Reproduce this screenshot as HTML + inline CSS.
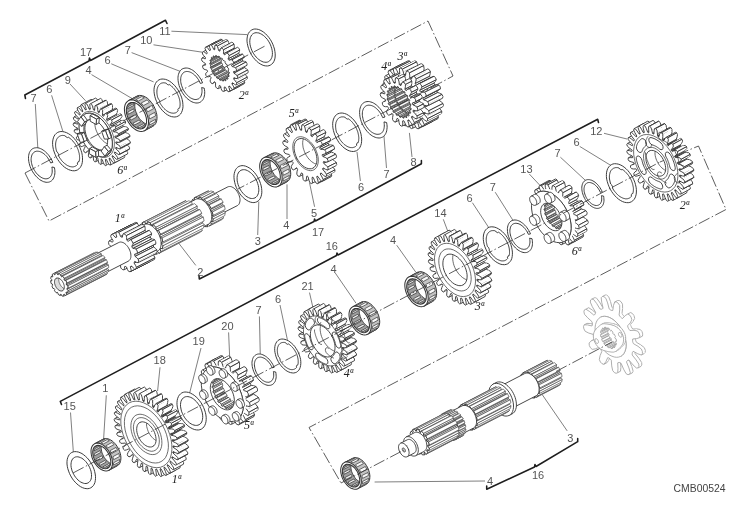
<!DOCTYPE html>
<html><head><meta charset="utf-8"><style>
html,body{margin:0;padding:0;background:#fff;}
svg{display:block;will-change:transform;}
text{font-family:"Liberation Sans",sans-serif;}
</style></head><body>
<svg width="755" height="520" viewBox="0 0 755 520">
<rect width="755" height="520" fill="#fff"/>
<polyline points="25,173 49,221 428,21 453,76 440.8,82.6" fill="none" stroke="#333" stroke-width="0.80" stroke-dasharray="12,2.5,1.5,2.5"/>
<polyline points="660,162 698.5,146 726,209.5 309,427.5 341,483" fill="none" stroke="#333" stroke-width="0.80" stroke-dasharray="12,2.5,1.5,2.5"/>
<polyline points="25.5,98.5 24.8,95 89,61 89.5,58 90.5,60.5 165.4,20.2 167,23.5" fill="none" stroke="#1e1e1e" stroke-width="1.55" stroke-linejoin="round" stroke-linecap="round"/>
<polyline points="199,275.5 199.3,279 314,221.5 314.6,219 315.5,221 421.4,163.8 421.4,160.5" fill="none" stroke="#1e1e1e" stroke-width="1.55" stroke-linejoin="round" stroke-linecap="round"/>
<polyline points="61.5,404.5 60.3,401.4 336.5,255.5 337,253 338,255 597.7,119.3 598.5,122.5" fill="none" stroke="#1e1e1e" stroke-width="1.55" stroke-linejoin="round" stroke-linecap="round"/>
<polyline points="486.7,486 486.7,489.3 534.5,467 535,464.5 536,466.5 577.7,441.7 577.7,438.4" fill="none" stroke="#1e1e1e" stroke-width="1.55" stroke-linejoin="round" stroke-linecap="round"/>
<line x1="171.4" y1="31.2" x2="247.0" y2="34.6" stroke="#555" stroke-width="0.75"/>
<line x1="153.5" y1="44.8" x2="203.0" y2="52.3" stroke="#555" stroke-width="0.75"/>
<line x1="131.6" y1="52.6" x2="181.3" y2="71.8" stroke="#555" stroke-width="0.75"/>
<line x1="111.3" y1="63.8" x2="153.6" y2="81.9" stroke="#555" stroke-width="0.75"/>
<line x1="91.5" y1="74.6" x2="132.0" y2="98.5" stroke="#555" stroke-width="0.75"/>
<line x1="70.0" y1="84.0" x2="85.6" y2="100.8" stroke="#555" stroke-width="0.75"/>
<line x1="51.6" y1="95.3" x2="63.0" y2="131.8" stroke="#555" stroke-width="0.75"/>
<line x1="35.3" y1="104.0" x2="37.8" y2="148.0" stroke="#555" stroke-width="0.75"/>
<line x1="195.8" y1="265.4" x2="178.6" y2="243.0" stroke="#555" stroke-width="0.75"/>
<line x1="257.7" y1="235.0" x2="258.8" y2="201.6" stroke="#555" stroke-width="0.75"/>
<line x1="287.0" y1="219.0" x2="287.0" y2="184.4" stroke="#555" stroke-width="0.75"/>
<line x1="314.6" y1="206.8" x2="309.5" y2="182.7" stroke="#555" stroke-width="0.75"/>
<line x1="360.4" y1="181.0" x2="357.0" y2="152.0" stroke="#555" stroke-width="0.75"/>
<line x1="386.5" y1="168.0" x2="383.8" y2="134.0" stroke="#555" stroke-width="0.75"/>
<line x1="412.0" y1="157.0" x2="409.4" y2="132.9" stroke="#555" stroke-width="0.75"/>
<line x1="335.2" y1="272.9" x2="356.0" y2="303.2" stroke="#555" stroke-width="0.75"/>
<line x1="396.7" y1="245.2" x2="415.7" y2="272.0" stroke="#555" stroke-width="0.75"/>
<line x1="443.3" y1="219.3" x2="447.7" y2="231.0" stroke="#555" stroke-width="0.75"/>
<line x1="472.4" y1="202.7" x2="490.0" y2="229.5" stroke="#555" stroke-width="0.75"/>
<line x1="495.2" y1="192.2" x2="513.2" y2="220.7" stroke="#555" stroke-width="0.75"/>
<line x1="529.3" y1="174.0" x2="542.4" y2="188.0" stroke="#555" stroke-width="0.75"/>
<line x1="560.4" y1="157.2" x2="587.5" y2="182.3" stroke="#555" stroke-width="0.75"/>
<line x1="579.7" y1="146.4" x2="610.8" y2="165.4" stroke="#555" stroke-width="0.75"/>
<line x1="604.0" y1="133.3" x2="627.0" y2="139.0" stroke="#555" stroke-width="0.75"/>
<line x1="309.5" y1="292.6" x2="312.8" y2="307.0" stroke="#555" stroke-width="0.75"/>
<line x1="280.0" y1="305.0" x2="287.4" y2="339.8" stroke="#555" stroke-width="0.75"/>
<line x1="259.4" y1="316.4" x2="260.3" y2="356.2" stroke="#555" stroke-width="0.75"/>
<line x1="228.6" y1="332.4" x2="229.9" y2="362.4" stroke="#555" stroke-width="0.75"/>
<line x1="201.0" y1="348.0" x2="189.6" y2="393.2" stroke="#555" stroke-width="0.75"/>
<line x1="160.0" y1="367.3" x2="157.6" y2="391.0" stroke="#555" stroke-width="0.75"/>
<line x1="106.3" y1="395.3" x2="103.4" y2="442.5" stroke="#555" stroke-width="0.75"/>
<line x1="70.5" y1="412.5" x2="73.4" y2="452.7" stroke="#555" stroke-width="0.75"/>
<line x1="567.2" y1="430.9" x2="542.2" y2="394.6" stroke="#555" stroke-width="0.75"/>
<line x1="485.0" y1="481.0" x2="374.6" y2="482.0" stroke="#555" stroke-width="0.75"/>
<g fill="#fff" stroke="#333333" stroke-width="0.9" stroke-linejoin="round">
<g stroke="#9a9a9a"><path d="M594.8 339.2l-3.5 1.7 2.9-1.4 3.4-1.8z" stroke="none"/><path d="M597.6 337.7l-3.4 1.8M594.8 339.2l2.8-1.5M591.3 340.9l2.9-1.4" fill="none" stroke-width="0.80"/>
<path d="M603.9 364.3l2-2.6 2.8-1.4-1.9 2.5z" stroke="none"/><path d="M606.8 362.8l1.9-2.5M603.9 364.3l2.9-1.5" fill="none" stroke-width="0.80"/>
<path d="M587.5 324.9l-3.3-.1 2.8-1.4 3.3 .1z" stroke="none"/><path d="M590.3 323.5l-3.3-.1M584.2 324.8l2.8-1.4" fill="none" stroke-width="0.80"/>
<path d="M605.9 361.7l1.8-4 2.8-1.5-1.8 4.1z" stroke="none"/><path d="M608.7 360.3l1.8-4.1M607.7 357.7l2.8-1.5" fill="none" stroke-width="0.80"/>
<path d="M591.9 326l-4.4-1.1 2.8-1.4 4.4 1.1z" stroke="none"/><path d="M594.7 324.6l-4.4-1.1M591.9 326l2.8-1.4" fill="none" stroke-width="0.80"/>
<path d="M617.7 372.7l.3-4.1 2.9-1.5-.4 4.1z" stroke="none"/><path d="M620.5 371.2l.4-4.1M617.7 372.7l2.8-1.5" fill="none" stroke-width="0.80"/>
<path d="M589.4 311.4l-3.5-2.2 2.8-1.5 3.5 2.3z" stroke="none"/><path d="M592.2 310l-3.5-2.3M585.9 309.2l2.8-1.5" fill="none" stroke-width="0.80"/>
<path d="M618 368.6l-.3-5.7 2.8-1.4 .4 5.6z" stroke="none"/><path d="M620.9 367.1l-.4-5.6M617.7 362.9l2.8-1.4" fill="none" stroke-width="0.80"/>
<path d="M593.8 315.1l-4.4-3.7 2.8-1.4 4.4 3.7z" stroke="none"/><path d="M596.6 313.7l-4.4-3.7" fill="none" stroke-width="0.80"/>
<path d="M594.5 314.8l-.7 .3 2.8-1.4 .8-.4z" stroke="none"/><path d="M597.4 313.3l-.8 .4M594.5 314.8l2.9-1.5" fill="none" stroke-width="0.80"/>
<path d="M629.4 374.3l.9-1.7 2.8-1.5-.8 1.8z" stroke="none"/><path d="M632.3 372.9l.8-1.8M629.4 374.3l2.9-1.4" fill="none" stroke-width="0.80"/>
<path d="M593.7 299.6l-1.9-.5 2.9-1.4 1.8 .4z" stroke="none"/><path d="M596.5 298.1l-1.8-.4M591.8 299.1l2.9-1.4" fill="none" stroke-width="0.80"/>
<path d="M630.3 372.6l-1.4-4.7 2.9-1.4 1.3 4.6z" stroke="none"/><path d="M633.1 371.1l-1.3-4.6" fill="none" stroke-width="0.80"/>
<path d="M628.9 367.9l-2.4-5.9 2.9-1.5 2.4 6z" stroke="none"/><path d="M631.8 366.5l-2.4-6" fill="none" stroke-width="0.80"/>
<path d="M596.7 303.5l-3-3.9 2.8-1.5 3 3.9z" stroke="none"/><path d="M599.5 302l-3-3.9" fill="none" stroke-width="0.80"/>
<path d="M626.5 362l.4-.9 2.9-1.5-.4 .9z" stroke="none"/><path d="M629.4 360.5l.4-.9" fill="none" stroke-width="0.80"/>
<path d="M600 309l-3.3-5.5 2.8-1.5 3.3 5.5z" stroke="none"/><path d="M602.8 307.5l-3.3-5.5" fill="none" stroke-width="0.80"/>
<path d="M601 309.2l-1-.2 2.8-1.5 1 .2z" stroke="none"/><path d="M603.8 307.7l-1-.2" fill="none" stroke-width="0.80"/>
<path d="M626.9 361.1l.6-.6 2.8-1.5-.5 .6z" stroke="none"/><path d="M629.8 359.6l.5-.6M627.5 360.5l2.8-1.5" fill="none" stroke-width="0.80"/>
<path d="M601.8 309.2l-.8 0 2.8-1.5 .8 0z" stroke="none"/><path d="M604.6 307.7l-.8 0" fill="none" stroke-width="0.80"/>
<path d="M602.5 308.8l-.7 .4 2.8-1.5 .7-.3z" stroke="none"/><path d="M605.3 307.4l-.7 .3M602.5 308.8l2.8-1.4" fill="none" stroke-width="0.80"/>
<path d="M638.1 367.9l.8-1.4 2.9-1.5-.9 1.4z" stroke="none"/><path d="M640.9 366.4l.9-1.4M638.1 367.9l2.8-1.5" fill="none" stroke-width="0.80"/>
<path d="M632.2 355l0-1.2 2.8-1.5 .1 1.3z" stroke="none"/><path d="M635.1 353.6l-.1-1.3" fill="none" stroke-width="0.80"/>
<path d="M636.1 359.9l-3.9-4.9 2.9-1.4 3.9 4.8z" stroke="none"/><path d="M639 358.4l-3.9-4.8" fill="none" stroke-width="0.80"/>
<path d="M632.2 353.8l.1-1 2.8-1.5-.1 1z" stroke="none"/><path d="M635 352.3l.1-1" fill="none" stroke-width="0.80"/>
<path d="M610.1 309.7l-.9-.8 2.8-1.5 .9 .9z" stroke="none"/><path d="M612.9 308.3l-.9-.9" fill="none" stroke-width="0.80"/>
<path d="M604 296.7l-1.6-.2 2.8-1.5 1.7 .2z" stroke="none"/><path d="M606.9 295.2l-1.7-.2M602.4 296.5l2.8-1.5" fill="none" stroke-width="0.80"/>
<path d="M638.9 366.5l-.1-2.4 2.9-1.5 .1 2.4z" stroke="none"/><path d="M641.8 365l-.1-2.4" fill="none" stroke-width="0.80"/>
<path d="M609.2 308.9l-1.6-6 2.9-1.4 1.5 5.9z" stroke="none"/><path d="M612 307.4l-1.5-5.9" fill="none" stroke-width="0.80"/>
<path d="M611 310.2l-.9-.5 2.8-1.4 .9 .5z" stroke="none"/><path d="M613.8 308.8l-.9-.5" fill="none" stroke-width="0.80"/>
<path d="M632.3 352.8l.3-.8 2.9-1.5-.4 .8z" stroke="none"/><path d="M635.1 351.3l.4-.8" fill="none" stroke-width="0.80"/>
<path d="M638.8 364.1l-2.7-4.2 2.9-1.5 2.7 4.2z" stroke="none"/><path d="M641.7 362.6l-2.7-4.2" fill="none" stroke-width="0.80"/>
<path d="M611.9 310.5l-.9-.3 2.8-1.4 .9 .2z" stroke="none"/><path d="M614.7 309l-.9-.2" fill="none" stroke-width="0.80"/>
<path d="M605.9 298.3l-1.9-1.6 2.9-1.5 1.8 1.6z" stroke="none"/><path d="M608.7 296.8l-1.8-1.6" fill="none" stroke-width="0.80"/>
<path d="M632.6 352l.6-.7 2.9-1.4-.6 .6z" stroke="none"/><path d="M635.5 350.5l.6-.6M633.2 351.3l2.9-1.4" fill="none" stroke-width="0.80"/>
<path d="M607.6 302.9l-1.7-4.6 2.8-1.5 1.8 4.7z" stroke="none"/><path d="M610.5 301.5l-1.8-4.7" fill="none" stroke-width="0.80"/>
<path d="M612.8 310.4l-.9 .1 2.8-1.5 .9 0z" stroke="none"/><path d="M615.6 309l-.9 0M612.8 310.4l2.8-1.4" fill="none" stroke-width="0.80"/>
<path d="M633.5 343.7l-.6-1.3 2.9-1.5 .5 1.3z" stroke="none"/><path d="M636.3 342.2l-.5-1.3" fill="none" stroke-width="0.80"/>
<path d="M632.9 342.4l-.3-1.2 2.9-1.5 .3 1.2z" stroke="none"/><path d="M635.8 340.9l-.3-1.2" fill="none" stroke-width="0.80"/>
<path d="M619.8 316.2l-.7-1.2 2.9-1.5 .7 1.2z" stroke="none"/><path d="M622.7 314.7l-.7-1.2" fill="none" stroke-width="0.80"/>
<path d="M620.6 317.1l-.8-.9 2.9-1.5 .8 1z" stroke="none"/><path d="M623.5 315.7l-.8-1" fill="none" stroke-width="0.80"/>
<path d="M632.6 341.2l0-1.1 2.8-1.5 .1 1.1z" stroke="none"/><path d="M635.5 339.7l-.1-1.1" fill="none" stroke-width="0.80"/>
<path d="M621.5 317.9l-.9-.8 2.9-1.4 .8 .7z" stroke="none"/><path d="M624.3 316.4l-.8-.7" fill="none" stroke-width="0.80"/>
<path d="M632.6 340.1l.1-1.1 2.9-1.5-.2 1.1z" stroke="none"/><path d="M635.4 338.6l.2-1.1M632.7 339l2.9-1.5" fill="none" stroke-width="0.80"/>
<path d="M638 346.3l-4.5-2.6 2.8-1.5 4.5 2.7z" stroke="none"/><path d="M640.8 344.9l-4.5-2.7" fill="none" stroke-width="0.80"/>
<path d="M622.5 318.5l-1-.6 2.8-1.5 1 .6z" stroke="none"/><path d="M625.3 317l-1-.6M622.5 318.5l2.8-1.5" fill="none" stroke-width="0.80"/>
<path d="M619.1 315l.6-5.1 2.9-1.5-.6 5.1z" stroke="none"/><path d="M622 313.5l.6-5.1" fill="none" stroke-width="0.80"/>
<path d="M641.3 355l1.1-1.3 2.8-1.5-1.1 1.4z" stroke="none"/><path d="M644.1 353.6l1.1-1.4M641.3 355l2.8-1.4" fill="none" stroke-width="0.80"/>
<path d="M629.1 329.4l-.7-1.1 2.9-1.5 .6 1.1z" stroke="none"/><path d="M631.9 327.9l-.6-1.1" fill="none" stroke-width="0.80"/>
<path d="M628.4 328.3l-.5-1.2 2.9-1.4 .5 1.1z" stroke="none"/><path d="M631.3 326.8l-.5-1.1" fill="none" stroke-width="0.80"/>
<path d="M629.9 330.5l-.8-1.1 2.8-1.5 .9 1.1z" stroke="none"/><path d="M632.8 329l-.9-1.1" fill="none" stroke-width="0.80"/>
<path d="M627.9 327.1l-.3-1.3 2.9-1.4 .3 1.3z" stroke="none"/><path d="M630.8 325.7l-.3-1.3" fill="none" stroke-width="0.80"/>
<path d="M616.5 302l-1.8 0 2.9-1.5 1.7 0z" stroke="none"/><path d="M619.3 300.5l-1.7 0M614.7 302l2.9-1.5" fill="none" stroke-width="0.80"/>
<path d="M641.4 349.1l-3.4-2.8 2.8-1.4 3.5 2.7z" stroke="none"/><path d="M644.3 347.6l-3.5-2.7" fill="none" stroke-width="0.80"/>
<path d="M642.4 353.7l0-2.1 2.9-1.4-.1 2z" stroke="none"/><path d="M645.2 352.2l.1-2" fill="none" stroke-width="0.80"/>
<path d="M619.7 309.9l0-4.4 2.8-1.4 .1 4.3z" stroke="none"/><path d="M622.6 308.4l-.1-4.3" fill="none" stroke-width="0.80"/>
<path d="M642.4 351.6l-1-2.5 2.9-1.5 1 2.6z" stroke="none"/><path d="M645.3 350.2l-1-2.6" fill="none" stroke-width="0.80"/>
<path d="M618.2 303.2l-1.7-1.2 2.8-1.5 1.7 1.2z" stroke="none"/><path d="M621 301.7l-1.7-1.2" fill="none" stroke-width="0.80"/>
<path d="M634 330.3l-4.1 .2 2.9-1.5 4.1-.1z" stroke="none"/><path d="M636.9 328.9l-4.1 .1" fill="none" stroke-width="0.80"/>
<path d="M627.6 325.8l2.7-3 2.8-1.5-2.6 3.1z" stroke="none"/><path d="M630.5 324.4l2.6-3.1" fill="none" stroke-width="0.80"/>
<path d="M619.7 305.5l-1.5-2.3 2.8-1.5 1.5 2.4z" stroke="none"/><path d="M622.5 304.1l-1.5-2.4" fill="none" stroke-width="0.80"/>
<path d="M637.5 331l-3.5-.7 2.9-1.4 3.4 .6z" stroke="none"/><path d="M640.3 329.5l-3.4-.6" fill="none" stroke-width="0.80"/>
<path d="M630.3 322.8l1.5-3.1 2.9-1.4-1.6 3z" stroke="none"/><path d="M633.1 321.3l1.6-3" fill="none" stroke-width="0.80"/>
<path d="M639.6 337.6l.3-2.2 2.8-1.5-.2 2.2z" stroke="none"/><path d="M642.5 336.1l.2-2.2M639.6 337.6l2.9-1.5" fill="none" stroke-width="0.80"/>
<path d="M629.8 315.2l-2-1.2 2.9-1.5 1.9 1.2z" stroke="none"/><path d="M632.6 313.7l-1.9-1.2M627.8 314l2.9-1.5" fill="none" stroke-width="0.80"/>
<path d="M639.1 333.1l-1.6-2.1 2.8-1.5 1.7 2.1z" stroke="none"/><path d="M642 331.6l-1.7-2.1" fill="none" stroke-width="0.80"/>
<path d="M639.9 335.4l-.8-2.3 2.9-1.5 .7 2.3z" stroke="none"/><path d="M642.7 333.9l-.7-2.3" fill="none" stroke-width="0.80"/>
<path d="M631.8 319.7l-.7-2.5 2.9-1.5 .7 2.6z" stroke="none"/><path d="M634.7 318.3l-.7-2.6" fill="none" stroke-width="0.80"/>
<path d="M631.1 317.2l-1.3-2 2.8-1.5 1.4 2z" stroke="none"/><path d="M634 315.7l-1.4-2" fill="none" stroke-width="0.80"/>
<path d="M626.5 362l.4-.9 .6-.6 .7-.3 .8-.1 4 4.8 3.4 3.1 1.7-.1 .8-1.4-.1-2.4-2.7-4.2-3.9-4.9 0-1.2 .1-1 .3-.8 .6-.7 4.6 2.5 3.5 1.2 1.1-1.3 0-2.1-1-2.5-3.4-2.8-4.5-2.6-.6-1.3-.3-1.2 0-1.1 .1-1.1 4.1-.4 2.8-1 .3-2.2-.8-2.3-1.6-2.1-3.5-.7-4.1 .2-.8-1.1-.7-1.1-.5-1.2-.3-1.3 2.7-3 1.5-3.1-.7-2.5-1.3-2-2-1.2-2.6 1.6-2.7 2.9-1-.6-.9-.8-.8-.9-.7-1.2 .6-5.1 0-4.4-1.5-2.3-1.7-1.2-1.8 0-1.2 3.4-.7 5-.9 .1-.9-.3-.9-.5-.9-.8-1.6-6-1.7-4.6-1.9-1.6-1.6-.2-1.2 1.2 .5 4.5 1.4 6-.6 .6-.7 .4-.8 0-1-.2-3.3-5.5-3-3.9-1.9-.5-1.2 .9-.3 2.1 2 4.6 3.3 5.6-.2 1.1-.3 .8-.6 .6-.7 .3-4.4-3.7-3.5-2.2-1.5 .7-.5 1.8 .6 2.6 3.2 3.5 4.3 3.9 .3 1.3 .1 1.1-.1 1-.4 .9-4.4-1.1-3.3-.1-.7 1.9 .4 2.2 1.3 2.4 3.6 1.8 4.4 1.3 .7 1.2 .5 1.2 .3 1.1 .1 1.3-3.5 1.7-2.2 2.1 .2 2.5 1.1 2.2 1.8 1.7 3.1-.5 3.6-1.6 .9 .9 .8 .9 .6 1.1 .6 1.3-1.7 4.2-.8 3.8 1.1 2.5 1.6 1.7 1.9 .6 2-2.6 1.8-4 1 .2 .9 .5 .8 .8 .9 1 .4 5.7 1 4.7 1.7 2 1.7 .7 1.6-.6 .3-4.1-.3-5.7 .8-.3 .8-.1 .8 .3 1 .5 2.5 5.9 2.5 4.5 1.9 1 1.4-.4 .9-1.7-1.4-4.7z" fill-rule="evenodd" stroke-width="0.80"/>
<path d="M620.7 356.4l1.5-.9 1.2-1.3 1-1.6 .8-1.8 .6-2.1 .3-2.3 0-2.5-.3-2.5-.5-2.7-.7-2.7-1-2.6-1.2-2.6-1.5-2.5-1.6-2.4-1.7-2.2-1.9-1.9-1.9-1.7-2-1.4-2.1-1.1-2-.8-1.9-.4-1.9-.1-1.8 .3-1.6 .6 2.1-1.1 1.6-.6 1.8-.3 1.9 .1 2 .4 2 .8 2 1.1 2 1.4 2 1.7 1.8 1.9 1.8 2.2 1.6 2.4 1.4 2.5 1.2 2.6 1 2.6 .8 2.7 .5 2.7 .2 2.5 0 2.5-.3 2.3-.5 2.1-.8 1.8-1.1 1.6-1.2 1.3-1.5 .9z" stroke="none"/>
<path d="M620.7 356.4l0 0 1.5-.9 1.2-1.3 1-1.6 .8-1.8 .6-2.1 .3-2.3 0-2.5-.3-2.5-.5-2.7-.7-2.7-1-2.6-1.2-2.6-1.5-2.5-1.6-2.4-1.7-2.2-1.9-1.9-1.9-1.7-2-1.4-2.1-1.1-2-.8-1.9-.4-1.9-.1-1.8 .3-1.6 .6 0 0" fill="none" stroke-width="0.80"/>
<path d="M620.7 356.4l1.7-1.2 1.4-1.6 1.1-2.1 .8-2.4 .4-2.7 0-3-.4-3.1-.8-3.2-1.1-3.2-1.4-3.1-1.8-3-1.9-2.8-2.2-2.5-2.3-2.1-2.4-1.7-2.5-1.3-2.4-.8-2.3-.3-2.1 .2-2 .7-1.7 1.2-1.4 1.7-1.1 2-.8 2.5-.4 2.7 0 2.9 .4 3.1 .8 3.3 1.1 3.2 1.4 3.1 1.8 3 1.9 2.8 2.2 2.4 2.3 2.2 2.4 1.7 2.5 1.2 2.4 .8 2.3 .3 2.1-.2z" fill-rule="evenodd" stroke-width="0.80"/>
<path d="M601.6 339.3l1.1 2.3 7.1-3.6-1.1-2.4z" stroke="none"/><path d="M608.7 335.6l1.1 2.4M601.6 339.3l7.1-3.7M602.7 341.6l7.1-3.6" fill="none" stroke-width="0.64"/>
<path d="M602.7 341.6l.9 .1 7.1-3.7-.9 0z" stroke="none"/><path d="M609.8 338l.9 0M602.7 341.6l7.1-3.6M603.6 341.7l7.1-3.7" fill="none" stroke-width="0.64"/>
<path d="M602.1 338.7l-.5 .6 7.1-3.7 .5-.6z" stroke="none"/><path d="M609.2 335l-.5 .6M602.1 338.7l7.1-3.7M601.6 339.3l7.1-3.7" fill="none" stroke-width="0.64"/>
<path d="M604 343.8l1.6 1.8 7.2-3.7-1.6-1.8z" stroke="none"/><path d="M611.2 340.1l1.6 1.8M604 343.8l7.2-3.7M605.6 345.6l7.2-3.7" fill="none" stroke-width="0.64"/>
<path d="M604.2 342.7l-.2 1.1 7.2-3.7 .1-1.1z" stroke="none"/><path d="M611.3 339l-.1 1.1M604.2 342.7l7.1-3.7M604 343.8l7.2-3.7" fill="none" stroke-width="0.64"/>
<path d="M600.8 336.9l1 .6 7.1-3.6-1-.6z" stroke="none"/><path d="M607.9 333.3l1 .6M600.8 336.9l7.1-3.6M601.8 337.5l7.1-3.6" fill="none" stroke-width="0.64"/>
<path d="M603.6 341.7l.6 1 7.1-3.7-.6-1z" stroke="none"/><path d="M610.7 338l.6 1M603.6 341.7l7.1-3.7M604.2 342.7l7.1-3.7" fill="none" stroke-width="0.64"/>
<path d="M600.5 334.6l.3 2.3 7.1-3.6-.3-2.4z" stroke="none"/><path d="M607.6 330.9l.3 2.4M600.5 334.6l7.1-3.7M600.8 336.9l7.1-3.6" fill="none" stroke-width="0.64"/>
<path d="M601.8 337.5l.3 1.2 7.1-3.7-.3-1.1z" stroke="none"/><path d="M608.9 333.9l.3 1.1M601.8 337.5l7.1-3.6M602.1 338.7l7.1-3.7" fill="none" stroke-width="0.64"/>
<path d="M606.3 345.1l.8 .7 7.1-3.7-.8-.7z" stroke="none"/><path d="M613.4 341.4l.8 .7M606.3 345.1l7.1-3.7M607.1 345.8l7.1-3.7" fill="none" stroke-width="0.64"/>
<path d="M607.1 345.8l.3 1.2 7.1-3.6-.3-1.3z" stroke="none"/><path d="M614.2 342.1l.3 1.3M607.1 345.8l7.1-3.7M607.4 347l7.1-3.6" fill="none" stroke-width="0.64"/>
<path d="M607.4 347l1.8 1 7.1-3.6-1.8-1z" stroke="none"/><path d="M614.5 343.4l1.8 1M607.4 347l7.1-3.6M609.2 348l7.1-3.6" fill="none" stroke-width="0.64"/>
<path d="M601.3 333.5l0 1 7.1-3.7 0-1z" stroke="none"/><path d="M608.4 329.8l0 1M601.3 333.5l7.1-3.7M601.3 334.5l7.1-3.7" fill="none" stroke-width="0.64"/>
<path d="M600.5 332.4l.8 1.1 7.1-3.7-.8-1z" stroke="none"/><path d="M607.6 328.8l.8 1M600.5 332.4l7.1-3.6M601.3 333.5l7.1-3.7" fill="none" stroke-width="0.64"/>
<path d="M600.9 330.5l-.4 1.9 7.1-3.6 .4-1.9z" stroke="none"/><path d="M608 326.9l-.4 1.9M600.9 330.5l7.1-3.6M600.5 332.4l7.1-3.6" fill="none" stroke-width="0.64"/>
<path d="M609.5 347.1l.8 .2 7.1-3.7-.8-.2z" stroke="none"/><path d="M616.6 343.4l.8 .2M609.5 347.1l7.1-3.7M610.3 347.3l7.1-3.7" fill="none" stroke-width="0.64"/>
<path d="M610.3 347.3l.7 1.2 7.1-3.6-.7-1.3z" stroke="none"/><path d="M617.4 343.6l.7 1.3M610.3 347.3l7.1-3.7M611 348.5l7.1-3.6" fill="none" stroke-width="0.64"/>
<path d="M602.3 330.3l-.4 .7 7.1-3.7 .4-.7z" stroke="none"/><path d="M609.4 326.6l-.4 .7M602.3 330.3l7.1-3.7M601.9 331l7.1-3.7" fill="none" stroke-width="0.64"/>
<path d="M601.7 329l.6 1.3 7.1-3.7-.5-1.2z" stroke="none"/><path d="M608.9 325.4l.5 1.2M601.7 329l7.2-3.6M602.3 330.3l7.1-3.7" fill="none" stroke-width="0.64"/>
<path d="M611 348.5l1.6 0 7.1-3.7-1.6 .1z" stroke="none"/><path d="M618.1 344.9l1.6-.1M611 348.5l7.1-3.6M612.6 348.5l7.1-3.7" fill="none" stroke-width="0.64"/>
<path d="M602.9 327.9l-1.2 1.1 7.2-3.6 1.1-1.1z" stroke="none"/><path d="M610 324.3l-1.1 1.1M602.9 327.9l7.1-3.6M601.7 329l7.2-3.6" fill="none" stroke-width="0.64"/>
<path d="M612.5 347.2l.6-.2 7.1-3.7-.6 .3z" stroke="none"/><path d="M619.6 343.6l.6-.3M612.5 347.2l7.1-3.6M613.1 347l7.1-3.7" fill="none" stroke-width="0.64"/>
<path d="M613.1 347l.9 .9 7.1-3.6-.9-1z" stroke="none"/><path d="M620.2 343.3l.9 1M613.1 347l7.1-3.7M614 347.9l7.1-3.6" fill="none" stroke-width="0.64"/>
<path d="M604.3 327.4l.2 1.2 7.1-3.6-.2-1.3z" stroke="none"/><path d="M611.4 323.7l.2 1.3M604.3 327.4l7.1-3.7M604.5 328.6l7.1-3.6" fill="none" stroke-width="0.64"/>
<path d="M602.3 324l-.8 .4 2.1-1.1 .8-.4z" stroke="none"/><path d="M604.4 322.9l-.8 .4M601.5 324.4l2.1-1.1" fill="none" stroke-width="0.80"/>
<path d="M615.5 351.5l.7-.5 2.2-1.1-.8 .5z" stroke="none"/><path d="M617.6 350.4l.8-.5M615.5 351.5l2.1-1.1" fill="none" stroke-width="0.80"/>
<path d="M603.2 323.8l-.9 .2 2.1-1.1 .9-.2z" stroke="none"/><path d="M605.3 322.7l-.9 .2" fill="none" stroke-width="0.80"/>
<path d="M616.2 351l.8-.5 2.1-1.1-.7 .5z" stroke="none"/><path d="M618.4 349.9l.7-.5" fill="none" stroke-width="0.80"/>
<path d="M615 344.9l1 .4 7.1-3.6-1-.5z" stroke="none"/><path d="M622.1 341.2l1 .5M615 344.9l7.1-3.7M616 345.3l7.1-3.6" fill="none" stroke-width="0.64"/>
<path d="M607.7 327.8l-.3 1 7.1-3.7 .3-.9z" stroke="none"/><path d="M614.8 324.2l-.3 .9M607.7 327.8l7.1-3.6M607.4 328.8l7.1-3.7" fill="none" stroke-width="0.64"/>
<path d="M604.1 323.7l-.9 .1 2.1-1.1 1-.1z" stroke="none"/><path d="M606.3 322.6l-1 .1" fill="none" stroke-width="0.80"/>
<path d="M617 350.5l.7-.6 2.1-1.1-.7 .6z" stroke="none"/><path d="M619.1 349.4l.7-.6" fill="none" stroke-width="0.80"/>
<path d="M605.1 323.8l-1-.1 2.2-1.1 .9 .1z" stroke="none"/><path d="M607.2 322.7l-.9-.1" fill="none" stroke-width="0.80"/>
<path d="M617.7 349.9l.7-.7 2.1-1.1-.7 .7z" stroke="none"/><path d="M619.8 348.8l.7-.7" fill="none" stroke-width="0.80"/>
<path d="M615.6 341.4l.9-.1 7.1-3.7-.9 .1z" stroke="none"/><path d="M622.7 337.7l.9-.1M615.6 341.4l7.1-3.7M616.5 341.3l7.1-3.7" fill="none" stroke-width="0.64"/>
<path d="M606.1 323.9l-1-.1 2.1-1.1 1 .1z" stroke="none"/><path d="M608.2 322.8l-1-.1" fill="none" stroke-width="0.80"/>
<path d="M611.3 330.3l-.7 .5 7.1-3.7 .7-.5z" stroke="none"/><path d="M618.4 326.6l-.7 .5M611.3 330.3l7.1-3.7M610.6 330.8l7.1-3.7" fill="none" stroke-width="0.64"/>
<path d="M618.4 349.2l.7-.6 2.1-1.1-.7 .6z" stroke="none"/><path d="M620.5 348.1l.7-.6" fill="none" stroke-width="0.80"/>
<path d="M607.1 324l-1-.1 2.1-1.1 1.1 .1z" stroke="none"/><path d="M609.3 322.9l-1.1-.1" fill="none" stroke-width="0.80"/>
<path d="M619.1 348.6l.8-.8 2.1-1.1-.8 .8z" stroke="none"/><path d="M621.2 347.5l.8-.8" fill="none" stroke-width="0.80"/>
<path d="M608.2 324.2l-1.1-.2 2.2-1.1 1 .2z" stroke="none"/><path d="M610.3 323.1l-1-.2" fill="none" stroke-width="0.80"/>
<path d="M619.9 347.8l.8-.8 2.1-1.1-.8 .8z" stroke="none"/><path d="M622 346.7l.8-.8" fill="none" stroke-width="0.80"/>
<path d="M609.3 324.4l-1.1-.2 2.1-1.1 1.2 .2z" stroke="none"/><path d="M611.5 323.3l-1.2-.2" fill="none" stroke-width="0.80"/>
<path d="M620.7 347l.8-1 2.2-1.1-.9 1z" stroke="none"/><path d="M622.8 345.9l.9-1" fill="none" stroke-width="0.80"/>
<path d="M610.5 324.6l-1.2-.2 2.2-1.1 1.2 .2z" stroke="none"/><path d="M612.7 323.5l-1.2-.2" fill="none" stroke-width="0.80"/>
<path d="M611.9 325l-1.4-.4 2.2-1.1 1.3 .3z" stroke="none"/><path d="M614 323.8l-1.3-.3" fill="none" stroke-width="0.80"/>
<path d="M621.5 346l.8-1.2 2.1-1.1-.7 1.2z" stroke="none"/><path d="M623.7 344.9l.7-1.2" fill="none" stroke-width="0.80"/>
<path d="M613.3 325.4l-1.4-.4 2.1-1.2 1.4 .5z" stroke="none"/><path d="M615.4 324.3l-1.4-.5" fill="none" stroke-width="0.80"/>
<path d="M622.3 344.8l.7-1.4 2.1-1.1-.7 1.4z" stroke="none"/><path d="M624.4 343.7l.7-1.4" fill="none" stroke-width="0.80"/>
<path d="M614.8 326l-1.5-.6 2.1-1.1 1.6 .6z" stroke="none"/><path d="M617 324.9l-1.6-.6" fill="none" stroke-width="0.80"/>
<path d="M623 343.4l.4-1.6 2.1-1.1-.4 1.6z" stroke="none"/><path d="M625.1 342.3l.4-1.6" fill="none" stroke-width="0.80"/>
<path d="M616.4 326.9l-1.6-.9 2.2-1.1 1.6 .9z" stroke="none"/><path d="M618.6 325.8l-1.6-.9" fill="none" stroke-width="0.80"/>
<path d="M623.4 341.8l.2-1.9 2.1-1.1-.2 1.9z" stroke="none"/><path d="M625.5 340.7l.2-1.9" fill="none" stroke-width="0.80"/>
<path d="M618 328.1l-1.6-1.2 2.2-1.1 1.6 1.2z" stroke="none"/><path d="M620.2 327l-1.6-1.2" fill="none" stroke-width="0.80"/>
<path d="M623.6 339.9l-.1-2.1 2.1-1.1 .1 2.1z" stroke="none"/><path d="M625.7 338.8l-.1-2.1" fill="none" stroke-width="0.80"/>
<path d="M619.6 329.7l-1.6-1.6 2.2-1.1 1.5 1.6z" stroke="none"/><path d="M621.7 328.6l-1.5-1.6" fill="none" stroke-width="0.80"/>
<path d="M623.5 337.8l-.5-2.1 2.1-1.2 .5 2.2z" stroke="none"/><path d="M625.6 336.7l-.5-2.2" fill="none" stroke-width="0.80"/>
<path d="M621 331.5l-1.4-1.8 2.1-1.1 1.4 1.8z" stroke="none"/><path d="M623.1 330.4l-1.4-1.8" fill="none" stroke-width="0.80"/>
<path d="M623 335.7l-.9-2.2 2.2-1.1 .8 2.1z" stroke="none"/><path d="M625.1 334.5l-.8-2.1" fill="none" stroke-width="0.80"/>
<path d="M622.1 333.5l-1.1-2 2.1-1.1 1.2 2z" stroke="none"/><path d="M624.3 332.4l-1.2-2" fill="none" stroke-width="0.80"/>
<path d="M615.5 351.5l.7-.5 .8-.5 .7-.6 .7-.7 .7-.6 .8-.8 .8-.8 .8-1 .8-1.2 .7-1.4 .4-1.6 .2-1.9-.1-2.1-.5-2.1-.9-2.2-1.1-2-1.4-1.8-1.6-1.6-1.6-1.2-1.6-.9-1.5-.6-1.4-.4-1.4-.4-1.2-.2-1.1-.2-1.1-.2-1-.1-1-.1-1-.1-.9 .1-.9 .2-.8 .4-.8 .4-.7 .6-.7 .6-.7 .6-.8 .7-.8 .8-.8 .8-.8 1-.8 1.1-.6 1.4-.5 1.7-.2 1.9 .2 2.1 .5 2.1 .8 2.2 1.2 2 1.4 1.8 1.5 1.5 1.6 1.2 1.6 .9 1.6 .7 1.4 .4 1.3 .3 1.2 .3 1.1 .2 1.1 .1 1 .2 1 .1 1 0 .9 0 .9-.3zM613.1 347l.9 .9 1.2-1-.6-1.3 .4-.7 1 .4 .4-1.9-.8-1 0-1 .9-.1-.4-2.4-1-.6-.3-1.1 .6-.6-1.1-2.4-.9 0-.7-1 .2-1.1-1.6-1.8-.7 .5-.8-.7-.3-1.3-1.8-1-.3 1-.8-.2-.6-1.3-1.7 .1 .2 1.2-.7 .3-.9-1-1.2 1.1 .6 1.3-.4 .7-1-.5-.4 1.9 .8 1.1 0 1-.8 .1 .3 2.3 1 .6 .3 1.2-.5 .6 1.1 2.3 .9 .1 .6 1-.2 1.1 1.6 1.8 .7-.5 .8 .7 .3 1.2 1.8 1 .3-.9 .8 .2 .7 1.2 1.6 0-.1-1.3z" fill-rule="evenodd" stroke-width="0.80"/>
<path d="M621.4 337.1l.4-.5 .2-.7-.1-.9-.4-.9-.5-.8-.7-.6-.7-.2-.6 0-.4 .5-.2 .7 .1 .9 .3 .9 .6 .8 .7 .6 .7 .3z" stroke-width="0.80"/>
<path d="M597.9 343.3l.4-.4 .2-.7-.1-.9-.3-.9-.6-.9-.6-.5-.7-.3-.6 .1-.5 .4-.1 .8 0 .8 .4 1 .5 .8 .7 .6 .7 .2z" stroke-width="0.80"/></g>
<path d="M52.8 162.4l-.7-1.7-.9-1.7-1-1.5-1-1.6-1.1-1.4-1.2-1.3-1.2-1.2-1.3-1.1-1.3-.9-1.3-.8-1.3-.6-1.3-.5-1.3-.3-1.3-.1-1.1 .1-1.2 .2-1 .4-1 .5-.9 .7-.7 .9-.7 1-.6 1.1-.4 1.3-.3 1.4-.2 1.5 0 1.5 .1 1.6 .2 1.7 .4 1.7 .4 1.7 .6 1.8 .7 1.7 .8 1.6 1 1.7 1 1.5 1 1.5 1.2 1.3 1.2 1.3 1.3 1.1 1.2 1.1 1.4 .8 1.3 .7 1.3 .6 1.3 .3 1.2 .3 1.2 0 1.2-.1 1.1-.3 1-.5 .9-.6 .9-.8 .7-1 .6-1.1 .5-1.2 .3-1.3 .3-1.4 .1-1.5 0-1.6-.2-1.7-.3-1.7-2.5-.5 .2 1.4 .1 1.3 0 1.3 0 1.2-.2 1.1-.3 1.1-.4 1-.5 .8-.6 .8-.6 .6-.8 .5-.8 .4-.9 .2-.9 .1-1 0-1-.2-1-.3-1-.4-1.1-.6-1-.7-1.1-.8-1-.9-.9-1-1-1.1-.8-1.2-.8-1.2-.8-1.3-.6-1.3-.6-1.4-.5-1.4-.3-1.3-.3-1.4-.2-1.4-.1-1.2 .1-1.3 .1-1.2 .3-1.1 .3-1 .4-.9 .6-.8 .6-.7 .7-.6 .8-.4 .8-.3 .9-.2 1 0 .9 .1 1.1 .2 1 .4 1.1 .5 1 .6 1 .7 1.1 .9 1 1 .9 1 .9 1.2 .8 1.2 .8 1.2 .7 1.4 .6 1.3z" fill-rule="evenodd" stroke-width="0.95"/>
<path d="M77.5 169.9l1.4-1 1.2-1.2 .9-1.5 .8-1.8 .5-2 .2-2.2 0-2.4-.2-2.4-.5-2.6-.8-2.5-1-2.6-1.2-2.5-1.4-2.4-1.5-2.2-1.7-2.1-1.8-1.9-1.9-1.6-2-1.3-1.9-1-2-.7-1.9-.4-1.8-.1-1.7 .3-1.5 .6-1.4 1-1.2 1.2-1 1.5-.7 1.8-.5 2-.3 2.2 0 2.4 .3 2.4 .5 2.6 .8 2.5 1 2.6 1.1 2.5 1.4 2.4 1.6 2.2 1.7 2.1 1.8 1.9 1.9 1.6 2 1.3 1.9 1 2 .7 1.8 .4 1.9 .1 1.7-.3zM75.5 166.1l.6-.3 .5-.4 .5-.5 .5-.5-.3-1.4 .4-.6 .3-.6 1-.1 .2-.7 .2-.9 .1-.8 .1-.9 0-1-.1-.9 0-1-.2-1-.1-1-.3-1-.3-1-.3-1.1-.3-1-.5-1-.4-1-.5-1-.6-1-.5-.9-.6-.9-.7-.9-.7-.9-.6-.8-.8-.7-.7-.8-.7-.6-.8-.6-.8-.6-.8-.5-.7 .4-.8-.3-.7-.3-.9-1.2-.8-.2-.7-.1-.7-.1-.7 0-.7 .1-.7 .2-.6 .2-.6 .3-.6 .3-.6 .4-.4 .5-.5 .5-.4 .6-.4 .6-.3 .7-.3 .8-.2 .7-.2 .9-.1 .8-.1 .9 0 1 0 .9 .1 1 .1 1 .2 1 .2 1 .3 1 .4 1.1 1 .9 .4 .9 .4 1-.1 1.2 .5 1 .6 .9 .6 .9 .7 .9 .6 .9 .7 .8 .7 .7 .8 .8 .7 .6 .8 .6 .8 .6 .7 .5 .8 .5 .8 .3 .8 .4 .8 .2 .7 .2 .8 .1 .7 .1 .7 0 .7-.1 .7-.2 .6-.2z" fill-rule="evenodd" stroke-width="0.95"/>
<path d="M85.4 152.7l1.3-.8 9.9-5.3-1.3 .9z" stroke="none"/><path d="M95.3 147.5l1.3-.9M85.4 152.7l9.9-5.2" fill="none"/>
<path d="M75.9 129.7l-1.5 .3 9.9-5.3 1.5-.2z" stroke="none"/><path d="M85.8 124.5l-1.5 .2M74.4 130l9.9-5.3" fill="none"/>
<path d="M79.5 135.6l-1.8 .6 9.9-5.2 1.8-.6z" stroke="none"/><path d="M89.4 130.4l-1.8 .6M79.5 135.6l9.9-5.2M77.7 136.2l9.9-5.2" fill="none"/>
<path d="M86.7 151.9l1.3-1.5 9.9-5.2-1.3 1.4z" stroke="none"/><path d="M96.6 146.6l1.3-1.4M88 150.4l9.9-5.2" fill="none"/>
<path d="M90.4 157.9l.9-1.4 9.9-5.2-.9 1.3z" stroke="none"/><path d="M100.3 152.6l.9-1.3M90.4 157.9l9.9-5.3" fill="none"/>
<path d="M78 129.8l-2.1-.1 9.9-5.2 2.1 0z" stroke="none"/><path d="M87.9 124.5l-2.1 0M78 129.8l9.9-5.3" fill="none"/>
<path d="M75.3 123.4l-1.7-.2 9.9-5.3 1.7 .3z" stroke="none"/><path d="M85.2 118.2l-1.7-.3M73.6 123.2l9.9-5.3" fill="none"/>
<path d="M91.3 156.5l.9-2 9.9-5.3-.9 2.1z" stroke="none"/><path d="M101.2 151.3l.9-2.1M92.2 154.5l9.9-5.3" fill="none"/>
<path d="M95.7 161.7l.6-1.7 9.9-5.3-.6 1.8z" stroke="none"/><path d="M105.6 156.5l.6-1.8M95.7 161.7l9.9-5.2" fill="none"/>
<path d="M77.5 124.2l-2.2-.8 9.9-5.2 2.2 .7z" stroke="none"/><path d="M87.4 118.9l-2.2-.7M77.5 124.2l9.9-5.3" fill="none"/>
<path d="M96.3 160l.4-2.5 9.9-5.3-.4 2.5z" stroke="none"/><path d="M106.2 154.7l.4-2.5M96.7 157.5l9.9-5.3" fill="none"/>
<path d="M75.8 117.7l-1.8-.8 9.9-5.2 1.8 .8z" stroke="none"/><path d="M85.7 112.5l-1.8-.8M74 116.9l9.9-5.2" fill="none"/>
<path d="M78.1 119.1l-2.3-1.4 9.9-5.2 2.2 1.4z" stroke="none"/><path d="M87.9 113.9l-2.2-1.4M78.1 119.1l9.8-5.2" fill="none"/>
<path d="M101.1 164.1l.2-2.1 9.9-5.2-.2 2.1z" stroke="none"/><path d="M111 158.9l.2-2.1M101.1 164.1l9.9-5.2" fill="none"/>
<path d="M75.6 111.6l-.9 .5 9.9-5.2 .9-.5z" stroke="none"/><path d="M85.5 106.4l-.9 .5M74.7 112.1l9.9-5.2" fill="none"/>
<path d="M101.3 162l-.2-2.8 9.9-5.2 .2 2.8z" stroke="none"/><path d="M111.2 156.8l-.2-2.8M101.1 159.2l9.9-5.2" fill="none"/>
<path d="M77.4 112.9l-1.8-1.3 9.9-5.2 1.8 1.3z" stroke="none"/><path d="M87.3 107.7l-1.8-1.3" fill="none"/>
<path d="M79.6 114.9l-2.2-2 9.9-5.2 2.2 2z" stroke="none"/><path d="M89.5 109.7l-2.2-2M79.6 114.9l9.9-5.2" fill="none"/>
<path d="M105.5 165.6l.8-.7 9.9-5.3-.8 .7z" stroke="none"/><path d="M115.4 160.3l.8-.7M105.5 165.6l9.9-5.3" fill="none"/>
<path d="M80.1 114.7l-.5 .2 9.9-5.2 .5-.2z" stroke="none"/><path d="M90 109.5l-.5 .2M80.1 114.7l9.9-5.2M79.6 114.9l9.9-5.2" fill="none"/>
<path d="M106.3 164.9l-.3-2.3 9.9-5.2 .3 2.2z" stroke="none"/><path d="M116.2 159.6l-.3-2.2" fill="none"/>
<path d="M106 162.6l-.7-2.9 9.9-5.3 .7 3z" stroke="none"/><path d="M115.9 157.4l-.7-3M105.3 159.7l9.9-5.3" fill="none"/>
<path d="M88.9 119.6l-1.1 .7-.9 1-.8 1.2-.6 1.4-.4 1.6-.2 1.8 0 1.8 .2 2 .4 2 .6 2 .8 2.1 1 1.9 1.1 1.9 1.2 1.8 1.4 1.7 1.4 1.4 1.5 1.3 1.5 1.1 1.6 .8 1.5 .5 1.5 .4 1.5 0 1.3-.2 1.2-.5 9.9-5.3-1.2 .5-1.3 .3-1.5-.1-1.5-.3-1.5-.6-1.6-.8-1.5-1-1.5-1.3-1.4-1.5-1.4-1.6-1.2-1.8-1.1-1.9-1-2-.8-2-.6-2-.4-2.1-.2-1.9 0-1.9 .2-1.7 .4-1.6 .6-1.4 .8-1.3 .9-.9 1.1-.8z" stroke="none"/>
<path d="M78.4 107.6l-1 .1 9.9-5.3 1 0z" stroke="none"/><path d="M88.3 102.4l-1 0M77.4 107.7l9.9-5.3" fill="none"/>
<path d="M105.3 159.7l.4-.4 9.9-5.3-.4 .4z" stroke="none"/><path d="M115.2 154.4l.4-.4M105.3 159.7l9.9-5.3M105.7 159.3l9.9-5.3" fill="none"/>
<path d="M88.9 119.6l9.9-5.3-1.1 .8-.9 .9-.8 1.3-.6 1.4-.4 1.6-.2 1.7 0 1.9 .2 1.9 .4 2.1 .6 2 .8 2 1 2 1.1 1.9 1.2 1.8 1.4 1.6 1.4 1.5 1.5 1.3 1.5 1 1.6 .8 1.5 .6 1.5 .3 1.5 .1 1.3-.3 1.2-.5-9.9 5.3" fill="none" stroke-width="0.72"/>
<path d="M80.1 109.3l-1.7-1.7 9.9-5.2 1.7 1.6z" stroke="none"/><path d="M90 104l-1.7-1.6" fill="none"/>
<path d="M82.1 111.7l-2-2.4 9.9-5.3 2 2.5z" stroke="none"/><path d="M92 106.5l-2-2.5M82.1 111.7l9.9-5.2" fill="none"/>
<path d="M82.6 111.7l-.5 0 9.9-5.2 .5 0z" stroke="none"/><path d="M92.5 106.5l-.5 0M82.6 111.7l9.9-5.2M82.1 111.7l9.9-5.2" fill="none"/>
<path d="M110.3 165l.6-1 9.9-5.2-.6 1z" stroke="none"/><path d="M120.2 159.8l.6-1M110.3 165l9.9-5.2" fill="none"/>
<path d="M110.9 164l-.7-2.3 9.9-5.2 .7 2.3z" stroke="none"/><path d="M120.8 158.8l-.7-2.3" fill="none"/>
<path d="M110.2 161.7l-1.1-3 9.9-5.2 1.1 3z" stroke="none"/><path d="M120.1 156.5l-1.1-3M109.1 158.7l9.9-5.2" fill="none"/>
<path d="M109.1 158.7l.2-.5 9.9-5.3-.2 .6z" stroke="none"/><path d="M119 153.5l.2-.6M109.1 158.7l9.9-5.2M109.3 158.2l9.9-5.3" fill="none"/>
<path d="M82.2 105l-1.2-.3 9.9-5.2 1.2 .2z" stroke="none"/><path d="M92.1 99.7l-1.2-.2M81 104.7l9.9-5.2" fill="none"/>
<path d="M83.7 107l-1.5-2 9.9-5.3 1.5 2.1z" stroke="none"/><path d="M93.6 101.8l-1.5-2.1" fill="none"/>
<path d="M85.3 109.8l-1.6-2.8 9.9-5.2 1.6 2.7z" stroke="none"/><path d="M95.2 104.5l-1.6-2.7M85.3 109.8l9.9-5.3" fill="none"/>
<path d="M86 110l-.7-.2 9.9-5.3 .7 .2z" stroke="none"/><path d="M95.9 104.7l-.7-.2M86 110l9.9-5.3M85.3 109.8l9.9-5.3" fill="none"/>
<path d="M114.5 162.8l.3-1.2 9.9-5.3-.3 1.3z" stroke="none"/><path d="M124.4 157.6l.3-1.3M114.5 162.8l9.9-5.2" fill="none"/>
<path d="M114.8 161.6l-1.1-2.3 9.9-5.3 1.1 2.3z" stroke="none"/><path d="M124.7 156.3l-1.1-2.3" fill="none"/>
<path d="M113.7 159.3l-1.5-2.8 9.9-5.3 1.5 2.8z" stroke="none"/><path d="M123.6 154l-1.5-2.8M112.2 156.5l9.9-5.3" fill="none"/>
<path d="M112.2 156.5l.1-.7 9.9-5.3-.1 .7z" stroke="none"/><path d="M122.1 151.2l.1-.7M112.2 156.5l9.9-5.3M112.3 155.8l9.9-5.3" fill="none"/>
<path d="M86.8 104l-1.2-.7 9.9-5.2 1.2 .6z" stroke="none"/><path d="M96.7 98.7l-1.2-.6M85.6 103.3l9.9-5.2" fill="none"/>
<path d="M89.2 109.2l-1.2-3 9.9-5.2 1.2 2.9z" stroke="none"/><path d="M99.1 103.9l-1.2-2.9M89.2 109.2l9.9-5.3" fill="none"/>
<path d="M89.8 109.5l-.6-.3 9.9-5.3 .6 .4z" stroke="none"/><path d="M99.7 104.3l-.6-.4M89.8 109.5l9.9-5.2M89.2 109.2l9.9-5.3" fill="none"/>
<path d="M88 106.2l-1.2-2.2 9.9-5.3 1.2 2.3z" stroke="none"/><path d="M97.9 101l-1.2-2.3" fill="none"/>
<path d="M114.4 153l0-.8 9.9-5.2 0 .8z" stroke="none"/><path d="M124.3 147.8l0-.8M114.4 153l9.9-5.2" fill="none"/>
<path d="M116.3 155.5l-1.9-2.5 9.9-5.2 1.9 2.5z" stroke="none"/><path d="M126.2 150.3l-1.9-2.5M114.4 153l9.9-5.2" fill="none"/>
<path d="M117.7 159.1l0-1.4 9.9-5.3 0 1.5z" stroke="none"/><path d="M127.6 153.9l0-1.5M117.7 159.1l9.9-5.2" fill="none"/>
<path d="M117.7 157.7l-1.4-2.2 9.9-5.2 1.4 2.1z" stroke="none"/><path d="M127.6 152.4l-1.4-2.1" fill="none"/>
<path d="M114.4 152.2l.5-.2 9.9-5.3-.5 .3z" stroke="none"/><path d="M124.3 147l.5-.3M114.9 152l9.9-5.3" fill="none"/>
<path d="M94.1 110.5l-.6-.6 9.9-5.2 .6 .5z" stroke="none"/><path d="M104 105.2l-.6-.5M93.5 109.9l9.9-5.2" fill="none"/>
<path d="M93.5 109.9l-.8-3 9.9-5.2 .8 3z" stroke="none"/><path d="M103.4 104.7l-.8-3M93.5 109.9l9.9-5.2" fill="none"/>
<path d="M94.6 110.3l-.5 .2 9.9-5.3 .5-.1z" stroke="none"/><path d="M104.5 105.1l-.5 .1M94.6 110.3l9.9-5.2" fill="none"/>
<path d="M91.9 104.6l-1.2-1 9.9-5.2 1.2 .9z" stroke="none"/><path d="M101.8 99.3l-1.2-.9M90.7 103.6l9.9-5.2" fill="none"/>
<path d="M92.7 106.9l-.8-2.3 9.9-5.3 .8 2.4z" stroke="none"/><path d="M102.6 101.7l-.8-2.4" fill="none"/>
<path d="M115.7 148.6l-.1-.8 9.9-5.3 .1 .8z" stroke="none"/><path d="M125.6 143.3l-.1-.8M115.7 148.6l9.9-5.3" fill="none"/>
<path d="M118.9 154.7l.8-.6 9.9-5.3-.8 .7z" stroke="none"/><path d="M128.8 149.5l.8-.7M118.9 154.7l9.9-5.2M119.7 154.1l9.9-5.3" fill="none"/>
<path d="M117.9 150.7l-2.2-2.1 9.9-5.3 2.2 2.1z" stroke="none"/><path d="M127.8 145.4l-2.2-2.1M115.7 148.6l9.9-5.3" fill="none"/>
<path d="M115.6 147.8l.3-.5 9.9-5.2-.3 .4z" stroke="none"/><path d="M125.5 142.5l.3-.4M115.9 147.3l9.9-5.2" fill="none"/>
<path d="M119.5 152.5l-1.6-1.8 9.9-5.3 1.6 1.8z" stroke="none"/><path d="M129.4 147.2l-1.6-1.8" fill="none"/>
<path d="M119.7 154.1l-.2-1.6 9.9-5.3 .2 1.6z" stroke="none"/><path d="M129.6 148.8l-.2-1.6M119.7 154.1l9.9-5.3" fill="none"/>
<path d="M98.5 112.7l-.5-.7 9.9-5.3 .5 .7z" stroke="none"/><path d="M108.4 107.4l-.5-.7M98 112l9.9-5.3" fill="none"/>
<path d="M99.1 112.7l-.6 0 9.9-5.3 .6 .1z" stroke="none"/><path d="M109 107.5l-.6-.1M99.1 112.7l9.9-5.2" fill="none"/>
<path d="M98 112l-.3-2.9 9.9-5.2 .3 2.8z" stroke="none"/><path d="M107.9 106.7l-.3-2.8M98 112l9.9-5.3" fill="none"/>
<path d="M96.2 105.6l-1.1 .1 9.9-5.2 1.1-.2z" stroke="none"/><path d="M106.1 100.3l-1.1 .2M96.2 105.6l9.9-5.3M95.1 105.7l9.9-5.2" fill="none"/>
<path d="M116 143.4l-.3-.9 9.9-5.2 .3 .8z" stroke="none"/><path d="M125.9 138.1l-.3-.8M116 143.4l9.9-5.3" fill="none"/>
<path d="M97.7 109.1l-.4-2.3 9.9-5.2 .4 2.3z" stroke="none"/><path d="M107.6 103.9l-.4-2.3" fill="none"/>
<path d="M115.7 142.5l.2-.6 9.9-5.2-.2 .6z" stroke="none"/><path d="M125.6 137.3l.2-.6M115.9 141.9l9.9-5.2" fill="none"/>
<path d="M97.3 106.8l-1.1-1.2 9.9-5.3 1.1 1.3z" stroke="none"/><path d="M107.2 101.6l-1.1-1.3M96.2 105.6l9.9-5.3" fill="none"/>
<path d="M118.3 144.9l-2.3-1.5 9.9-5.3 2.3 1.6z" stroke="none"/><path d="M128.2 139.7l-2.3-1.6M116 143.4l9.9-5.3" fill="none"/>
<path d="M102.8 116l-.4-.7 9.9-5.3 .4 .8z" stroke="none"/><path d="M112.7 110.8l-.4-.8M102.4 115.3l9.9-5.3" fill="none"/>
<path d="M103.5 116.3l-.7-.3 9.9-5.2 .7 .2z" stroke="none"/><path d="M113.4 111l-.7-.2M103.5 116.3l9.9-5.3" fill="none"/>
<path d="M119.9 148.9l.6-1 9.9-5.2-.6 1z" stroke="none"/><path d="M129.8 143.7l.6-1M119.9 148.9l9.9-5.2M120.5 147.9l9.9-5.2" fill="none"/>
<path d="M120 146.3l-1.7-1.4 9.9-5.2 1.7 1.4z" stroke="none"/><path d="M129.9 141.1l-1.7-1.4" fill="none"/>
<path d="M102.4 115.3l.2-2.6 9.9-5.3-.2 2.6z" stroke="none"/><path d="M112.3 110l.2-2.6M102.4 115.3l9.9-5.3" fill="none"/>
<path d="M115.3 137.7l-.5-.8 9.9-5.2 .5 .8z" stroke="none"/><path d="M125.2 132.5l-.5-.8M115.3 137.7l9.9-5.2" fill="none"/>
<path d="M120.5 147.9l-.5-1.6 9.9-5.2 .5 1.6z" stroke="none"/><path d="M130.4 142.7l-.5-1.6M120.5 147.9l9.9-5.2" fill="none"/>
<path d="M114.8 136.9l.1-.7 9.9-5.3-.1 .8z" stroke="none"/><path d="M124.7 131.7l.1-.8M114.9 136.2l9.9-5.3" fill="none"/>
<path d="M106.8 120.4l-.3-.8 9.9-5.3 .3 .9z" stroke="none"/><path d="M116.7 115.2l-.3-.9M106.5 119.6l9.9-5.3" fill="none"/>
<path d="M117.5 138.6l-2.2-.9 9.9-5.2 2.2 .8z" stroke="none"/><path d="M127.4 133.3l-2.2-.8M115.3 137.7l9.9-5.2" fill="none"/>
<path d="M107.4 120.8l-.6-.4 9.9-5.2 .6 .4z" stroke="none"/><path d="M117.3 115.6l-.6-.4M107.4 120.8l9.9-5.2" fill="none"/>
<path d="M101.7 109.1l-1.2-.2 9.9-5.3 1.2 .3z" stroke="none"/><path d="M111.6 103.9l-1.2-.3M101.7 109.1l9.9-5.2M100.5 108.9l9.9-5.3" fill="none"/>
<path d="M102.6 112.7l0-2.2 9.9-5.2 0 2.1z" stroke="none"/><path d="M112.5 107.4l0-2.1" fill="none"/>
<path d="M113.5 131.8l-.5-.7 9.9-5.2 .5 .7z" stroke="none"/><path d="M123.4 126.6l-.5-.7M113.5 131.8l9.9-5.2" fill="none"/>
<path d="M113 131.1l-.1-.8 9.9-5.2 .1 .8z" stroke="none"/><path d="M122.9 125.9l-.1-.8M112.9 130.3l9.9-5.2" fill="none"/>
<path d="M110.3 125.5l-.3-.8 9.9-5.3 .3 .9z" stroke="none"/><path d="M120.2 120.3l-.3-.9M110 124.7l9.9-5.3" fill="none"/>
<path d="M110.9 126.1l-.6-.6 9.9-5.2 .6 .6z" stroke="none"/><path d="M120.8 120.9l-.6-.6M110.9 126.1l9.9-5.2" fill="none"/>
<path d="M102.6 110.5l-.9-1.4 9.9-5.2 .9 1.4z" stroke="none"/><path d="M112.5 105.3l-.9-1.4M101.7 109.1l9.9-5.2" fill="none"/>
<path d="M106.5 119.6l.8-2.2 9.9-5.2-.8 2.1z" stroke="none"/><path d="M116.4 114.3l.8-2.1M106.5 119.6l9.9-5.3" fill="none"/>
<path d="M115.7 132l-2.2-.2 9.9-5.2 2.2 .2z" stroke="none"/><path d="M125.6 126.8l-2.2-.2M113.5 131.8l9.9-5.2" fill="none"/>
<path d="M119.3 139.6l-1.8-1 9.9-5.3 1.8 1z" stroke="none"/><path d="M129.2 134.3l-1.8-1" fill="none"/>
<path d="M119.7 142.3l.4-1.2 9.9-5.2-.4 1.2z" stroke="none"/><path d="M129.6 137.1l.4-1.2M119.7 142.3l9.9-5.2M120.1 141.1l9.9-5.2" fill="none"/>
<path d="M112.9 130.3l1.7-1 9.9-5.2-1.7 1z" stroke="none"/><path d="M122.8 125.1l1.7-1M112.9 130.3l9.9-5.2" fill="none"/>
<path d="M110 124.7l1.3-1.6 9.9-5.3-1.3 1.6z" stroke="none"/><path d="M119.9 119.4l1.3-1.6M110 124.7l9.9-5.3" fill="none"/>
<path d="M112.8 125.6l-1.9 .5 9.9-5.2 1.9-.5z" stroke="none"/><path d="M122.7 120.4l-1.9 .5M110.9 126.1l9.9-5.2" fill="none"/>
<path d="M120.1 141.1l-.8-1.5 9.9-5.3 .8 1.6z" stroke="none"/><path d="M130 135.9l-.8-1.6M120.1 141.1l9.9-5.2" fill="none"/>
<path d="M107.3 117.4l.4-1.9 9.9-5.2-.4 1.9z" stroke="none"/><path d="M117.2 112.2l.4-1.9" fill="none"/>
<path d="M106.9 114l-1.2-.6 9.9-5.2 1.2 .5z" stroke="none"/><path d="M116.8 108.7l-1.2-.5M106.9 114l9.9-5.3M105.7 113.4l9.9-5.2" fill="none"/>
<path d="M117.4 132.5l-1.7-.5 9.9-5.2 1.7 .5z" stroke="none"/><path d="M127.3 127.3l-1.7-.5" fill="none"/>
<path d="M110.4 119.1l-1.4 .6 9.9-5.3 1.4-.6z" stroke="none"/><path d="M120.3 113.8l-1.4 .6M109 119.7l9.9-5.3" fill="none"/>
<path d="M107.7 115.5l-.8-1.5 9.9-5.3 .8 1.6z" stroke="none"/><path d="M117.6 110.3l-.8-1.6M106.9 114l9.9-5.3" fill="none"/>
<path d="M111.3 123.1l.8-1.5 9.9-5.3-.8 1.5z" stroke="none"/><path d="M121.2 117.8l.8-1.5" fill="none"/>
<path d="M114.6 129.3l1.1-1 9.9-5.3-1.1 1.1z" stroke="none"/><path d="M124.5 124.1l1.1-1.1" fill="none"/>
<path d="M118.3 135.3l.1-1.4 9.9-5.2-.1 1.4z" stroke="none"/><path d="M128.2 130.1l.1-1.4M118.3 135.3l9.9-5.2M118.4 133.9l9.9-5.2" fill="none"/>
<path d="M114.4 125.5l-1.6 .1 9.9-5.2 1.6-.1z" stroke="none"/><path d="M124.3 120.3l-1.6 .1" fill="none"/>
<path d="M118.4 133.9l-1-1.4 9.9-5.2 1 1.4z" stroke="none"/><path d="M128.3 128.7l-1-1.4M118.4 133.9l9.9-5.2" fill="none"/>
<path d="M111.6 120l-1.2-.9 9.9-5.3 1.2 .9z" stroke="none"/><path d="M121.5 114.7l-1.2-.9M111.6 120l9.9-5.3" fill="none"/>
<path d="M112.1 121.6l-.5-1.6 9.9-5.3 .5 1.6z" stroke="none"/><path d="M122 116.3l-.5-1.6M111.6 120l9.9-5.3" fill="none"/>
<path d="M115.7 128.3l-.2-1.6 9.9-5.2 .2 1.5z" stroke="none"/><path d="M125.6 123l-.2-1.5M115.5 126.7l9.9-5.2" fill="none"/>
<path d="M115.5 126.7l-1.1-1.2 9.9-5.2 1.1 1.2z" stroke="none"/><path d="M125.4 121.5l-1.1-1.2M115.5 126.7l9.9-5.2" fill="none"/>
<path d="M109.1 158.7l.2-.5 .7 0 1.8 2.7 1.5 1.8 1.2 .1 .3-1.2-1.1-2.3-1.5-2.8 .1-.7 .5-.1 2.1 2.2 1.7 1.5 1.1-.3 0-1.4-1.4-2.2-1.9-2.5 0-.8 .5-.2 2.2 1.6 1.8 1.1 .8-.6-.2-1.6-1.6-1.8-2.2-2.1-.1-.8 .3-.5 2.3 1.1 1.7 .5 .6-1-.5-1.6-1.7-1.4-2.3-1.5-.3-.9 .2-.6 2.2 .4 1.6 0 .4-1.2-.8-1.5-1.8-1-2.2-.9-.5-.8 .1-.7 2-.3 1.4-.6 .1-1.4-1-1.4-1.7-.5-2.2-.2-.5-.7-.1-.8 1.7-1 1.1-1-.2-1.6-1.1-1.2-1.6 .1-1.9 .5-.6-.6-.3-.8 1.3-1.6 .8-1.5-.5-1.6-1.2-.9-1.4 .6-1.6 1.1-.6-.4-.3-.8 .8-2.2 .4-1.9-.8-1.5-1.2-.6-1.1 1.1-1.1 1.8-.7-.3-.4-.7 .2-2.6 0-2.2-.9-1.4-1.2-.2-.7 1.5-.7 2.3-.6 0-.5-.7-.3-2.9-.4-2.3-1.1-1.2-1.1 .1-.3 2-.2 2.6-.5 .2-.6-.6-.8-3-.8-2.3-1.2-1-.9 .5 .1 2.2 .4 2.9-.5 .3-.6-.3-1.2-3-1.2-2.2-1.2-.7-.7 .9 .5 2.3 .9 3-.3 .5-.7-.2-1.6-2.8-1.5-2-1.2-.3-.4 1.1 .9 2.4 1.3 2.9-.2 .6-.5 0-2-2.4-1.7-1.7-1 .1-.2 1.3 1.2 2.3 1.8 2.7-.1 .7-.5 .2-2.2-2-1.8-1.3-.9 .5 .1 1.5 1.5 2 2.1 2.3 .1 .8-.4 .4-2.3-1.4-1.8-.8-.7 .8 .4 1.6 1.6 1.7 2.3 1.8 .2 .8-.3 .6-2.2-.8-1.7-.2-.5 1 .6 1.6 1.8 1.3 2.3 1.2 .4 .8-.2 .7-2.1-.1-1.5 .3-.2 1.3 .9 1.5 1.7 .7 2.3 .6 .4 .7 0 .8-1.8 .6-1.3 .9 .1 1.5 1 1.3 1.7 .2 2.1-.2 .5 .7 .2 .8-1.5 1.3-1 1.3 .4 1.6 1.2 1 1.5-.3 1.7-.9 .6 .6 .3 .8-1 1.9-.6 1.7 .6 1.6 1.2 .7 1.3-.8 1.3-1.5 .7 .3 .4 .8-.6 2.4-.1 2 .8 1.6 1.2 .4 .9-1.4 .9-2 .7 .1 .5 .8 0 2.7 .2 2.2 1 1.4 1.1 0 .6-1.7 .4-2.5 .6-.1 .5 .7 .5 2.9 .7 2.3 1.1 1.1 1-.3 .2-2.1-.2-2.8 .5-.2 .6 .5 1.1 3 1 2.3 1.2 .8 .8-.7-.3-2.3-.7-2.9 .4-.4 .7 .2 1.4 2.9 1.3 2.2 1.2 .4 .6-1-.7-2.3zM104.6 149.3l1.3-.9 1.1-1.3 .8-1.6 .6-1.8 .2-2.1 0-2.3-.3-2.3-.6-2.5-.9-2.4-1.1-2.4-1.3-2.3-1.6-2.1-1.6-1.8-1.8-1.6-1.9-1.3-1.8-1-1.9-.6-1.7-.2-1.7 .2-1.5 .6-1.3 .9-1.1 1.2-.8 1.6-.5 1.9-.3 2.1 0 2.2 .4 2.4 .6 2.4 .8 2.5 1.2 2.3 1.3 2.3 1.5 2.1 1.7 1.9 1.8 1.6 1.8 1.3 1.9 .9 1.8 .6 1.8 .2 1.7-.2z" fill-rule="evenodd"/>
<path d="M108.4 156.4l1.9-1.4 1.6-1.8 1.2-2.4 .9-2.7 .3-3.1 0-3.3-.5-3.5-.9-3.6-1.3-3.6-1.6-3.6-2-3.3-2.3-3.1-2.5-2.8-2.6-2.4-2.7-1.9-2.8-1.4-2.7-.8-2.6-.4-2.5 .3-2.2 .8-1.9 1.4-1.6 1.9-1.2 2.3-.8 2.7-.4 3.1 .1 3.3 .4 3.6 .9 3.6 1.3 3.6 1.7 3.5 2 3.4 2.2 3.1 2.5 2.7 2.6 2.4 2.8 1.9 2.7 1.4 2.8 .9 2.6 .3 2.4-.3z" fill="none" stroke-width="0.72"/>
<path d="M106.7 155.8l1.6-1.1 1.3-1.3 1.1-1.7 .8-2 .6-2.2 .2-2.5 0-2.6-.3-2.7-.5-2.9-.9-2.8-1.1-2.9-1.3-2.7-1.5-2.7-1.8-2.5-1.9-2.3-2-2-2.1-1.8-2.1-1.5-2.2-1.1-2.2-.8-2.1-.5-2 0-1.9 .3-1.7 .7 1.1-.6 1.7-.7 1.9-.3 2 .1 2.1 .4 2.1 .8 2.2 1.1 2.2 1.5 2.1 1.8 2 2.1 1.9 2.3 1.7 2.5 1.6 2.6 1.3 2.8 1.1 2.8 .8 2.9 .6 2.8 .3 2.7 0 2.7-.3 2.4-.5 2.2-.9 2-1.1 1.7-1.3 1.4-1.5 1z" stroke="none"/>
<path d="M106.7 155.8l0 0 1.6-1.1 1.3-1.3 1.1-1.7 .8-2 .6-2.2 .2-2.5 0-2.6-.3-2.7-.5-2.9-.9-2.8-1.1-2.9-1.3-2.7-1.5-2.7-1.8-2.5-1.9-2.3-2-2-2.1-1.8-2.1-1.5-2.2-1.1-2.2-.8-2.1-.5-2 0-1.9 .3-1.7 .7 0 0" fill="none"/>
<path d="M106.7 155.8l1.8-1.3 1.6-1.8 1.1-2.2 .8-2.6 .3-2.9 0-3.1-.5-3.4-.8-3.4-1.2-3.4-1.6-3.3-1.9-3.2-2.1-2.9-2.4-2.6-2.5-2.3-2.5-1.8-2.7-1.3-2.5-.9-2.5-.2-2.3 .2-2.1 .8-1.8 1.3-1.5 1.7-1.2 2.2-.7 2.6-.4 2.9 0 3.2 .5 3.3 .8 3.4 1.3 3.5 1.5 3.3 1.9 3.2 2.2 2.9 2.3 2.6 2.5 2.3 2.6 1.8 2.6 1.3 2.6 .8 2.4 .3 2.3-.2zM103.6 149.8l1.3-.9 1.1-1.2 .8-1.6 .5-1.9 .3-2 0-2.3-.4-2.4-.6-2.4-.8-2.5-1.2-2.3-1.3-2.3-1.5-2.1-1.7-1.9-1.8-1.6-1.8-1.3-1.9-.9-1.8-.6-1.8-.2-1.7 .2-1.4 .5-1.3 .9-1.1 1.3-.8 1.6-.6 1.8-.2 2.1 0 2.3 .3 2.3 .6 2.5 .9 2.4 1.1 2.4 1.3 2.3 1.6 2.1 1.6 1.8 1.8 1.6 1.9 1.3 1.8 1 1.9 .6 1.7 .2 1.7-.2z" fill-rule="evenodd"/>
<path d="M104.9 156.2l3.4-4.8 2.8-1.5-3.4 4.8z"/>
<path d="M108.3 151.4l-4-4.7 2.8-1.5 4 4.7z"/>
<path d="M101.2 151.1l3.7 5.1 3.4-4.8-4-4.7z" fill-rule="evenodd"/>
<path d="M105.4 130.5l-3.8 .9 2.8-1.5 3.9-.9z"/>
<path d="M108.6 139l-3.2-8.5 2.9-1.5 3.1 8.5z"/>
<path d="M104.4 139.1l4.2-.1-3.2-8.5-3.8 .9z" fill-rule="evenodd"/>
<path d="M96.5 119.2l-6.5-3.6 2.8-1.5 6.6 3.6z"/>
<path d="M96.1 124.5l.4-5.3 2.9-1.5-.5 5.3z"/>
<path d="M96.1 124.5l.4-5.3-6.5-3.6 .2 5.6z" fill-rule="evenodd"/>
<path d="M81.5 126.3l3.1-4.4 2.8-1.5-3 4.4z"/>
<path d="M84.6 121.9l-3.7-5.2 2.8-1.5 3.7 5.2z"/>
<path d="M84.6 121.9l-3.7-5.2-3.4 4.9 4 4.7z" fill-rule="evenodd"/>
<path d="M81.4 133.9l-4.2 .1 2.8-1.5 4.2-.1z"/>
<path d="M84.2 141.6l-2.8-7.7 2.8-1.5 2.8 7.7z"/>
<path d="M81.4 133.9l-4.2 .1 3.1 8.5 3.9-.9z" fill-rule="evenodd"/>
<path d="M95.6 151.8l-5.9-3.3 2.8-1.5 5.9 3.3z"/>
<path d="M95.8 157.4l-.2-5.6 2.8-1.5 .2 5.6z"/>
<path d="M89.7 148.5l-.5 5.2 6.6 3.7-.2-5.6z" fill-rule="evenodd"/>
<path d="M129.8 103l-1 .7-.8 .8-.6 1-.5 1.2-.4 1.4-.2 1.5 .1 1.6 .1 1.7 .4 1.7 .5 1.7 .7 1.7 .8 1.7 .9 1.6 1.1 1.6 1.1 1.4 1.2 1.2 1.3 1.1 1.3 .9 1.3 .7 1.4 .5 1.2 .2 1.3 .1 1.1-.2 1.1-.5 8.4-4.4-1 .4-1.2 .2-1.2-.1-1.3-.2-1.3-.5-1.3-.7-1.3-.9-1.3-1.1-1.2-1.2-1.2-1.4-1-1.6-1-1.6-.8-1.7-.6-1.7-.5-1.7-.4-1.7-.2-1.7 0-1.6 .2-1.5 .3-1.3 .5-1.2 .7-1.1 .8-.8 .9-.6z" stroke="none" fill="#a0a0a0"/>
<path d="M129.8 103l8.4-4.4-.9 .6-.8 .8-.7 1.1-.5 1.2-.3 1.3-.2 1.5 0 1.6 .2 1.7 .4 1.7 .5 1.7 .6 1.7 .8 1.7 1 1.6 1 1.6 1.2 1.4 1.2 1.2 1.3 1.1 1.3 .9 1.3 .7 1.3 .5 1.3 .2 1.2 .1 1.2-.2 1-.4-8.4 4.4" fill="none"/>
<path d="M130.1 103l-1.1 1.2 5.9-3.1 1.1-1.2z" fill="#f0f0f0" stroke-width="0.72"/>
<path d="M128 106.7l-.4 2 6-3.2 .3-2z" fill="#f0f0f0" stroke-width="0.72"/>
<path d="M127.8 112l.5 2.3 5.9-3.1-.5-2.4z" fill="#f0f0f0" stroke-width="0.72"/>
<path d="M129.6 117.9l1.2 2.3 5.9-3.2-1.2-2.3z" fill="#f0f0f0" stroke-width="0.72"/>
<path d="M133 123.2l1.6 1.8 6-3.2-1.7-1.7z" fill="#f0f0f0" stroke-width="0.72"/>
<path d="M137.3 126.9l1.8 .9 6-3.1-1.8-.9z" fill="#f0f0f0" stroke-width="0.72"/>
<path d="M141.8 128.3l1.5-.2 6-3.1-1.6 .2z" fill="#f0f0f0" stroke-width="0.72"/>
<path d="M144.4 130.8l1.1-.8 1-1 .8-1.2 .6-1.5 .4-1.6 .2-1.7 0-1.9-.2-2-.4-2.1-.7-2-.7-2.1-1-2-1.1-1.9-1.3-1.8-1.3-1.7-1.5-1.5-1.5-1.3-1.6-1-1.6-.9-1.5-.5-1.6-.4-1.4 0-1.4 .2-1.2 .5 8.5-4.5 1.2-.5 1.4-.2 1.4 .1 1.5 .3 1.6 .5 1.6 .9 1.6 1 1.5 1.3 1.4 1.5 1.4 1.7 1.3 1.8 1.1 1.9 .9 2 .8 2.1 .6 2 .5 2.1 .2 2 0 1.9-.2 1.7-.4 1.7-.6 1.4-.8 1.2-1 1-1.1 .8z" stroke="none" fill="#c4c4c4"/>
<path d="M144.4 130.8l8.5-4.5 1.1-.8 1-1 .8-1.2 .6-1.4 .4-1.7 .2-1.7 0-1.9-.2-2-.5-2.1-.6-2-.8-2.1-.9-2-1.1-1.9-1.3-1.8-1.4-1.7-1.4-1.5-1.5-1.3-1.6-1-1.6-.9-1.6-.5-1.5-.3-1.4-.1-1.4 .2-1.2 .5-8.5 4.5" fill="none" stroke-width="0.99"/>
<path d="M146.7 129.4l1.5-1.7 6-3.1-1.6 1.7z" fill="#fafafa" stroke-width="0.72"/>
<path d="M133.1 99.2l-2.2 .3 5.9-3.1 2.3-.3z" fill="#fafafa" stroke-width="0.72"/>
<path d="M149.3 125.2l.5-2.8 5.9-3.2-.5 2.8z" fill="#fafafa" stroke-width="0.72"/>
<path d="M138.4 101l-2.6-1.3 6-3.1 2.6 1.2z" fill="#fafafa" stroke-width="0.72"/>
<path d="M149.6 118.9l-.7-3.3 5.9-3.2 .8 3.4z" fill="#fafafa" stroke-width="0.72"/>
<path d="M143.6 105.5l-2.4-2.5 5.9-3.1 2.4 2.4z" fill="#fafafa" stroke-width="0.72"/>
<path d="M147.6 111.9l-1.7-3.3 5.9-3.1 1.7 3.2z" fill="#fafafa" stroke-width="0.72"/>
<path d="M144.4 130.8l1.3-1 1.1-1.3 .9-1.6 .5-1.8 .3-2.1 0-2.3-.4-2.4-.6-2.5-.9-2.5-1.1-2.4-1.4-2.3-1.5-2.1-1.7-1.9-1.8-1.6-1.9-1.3-1.9-1-1.9-.6-1.7-.2-1.7 .2-1.5 .5-1.3 1-1.1 1.2-.9 1.6-.5 1.9-.3 2.1 .1 2.3 .3 2.4 .6 2.5 .9 2.5 1.1 2.4 1.4 2.3 1.5 2.1 1.7 1.9 1.8 1.6 1.9 1.3 1.9 1 1.9 .6 1.7 .2 1.7-.2zM143.2 128.3l1.1-.7 .9-1.1 .7-1.4 .4-1.5 .3-1.8-.1-1.9-.2-2-.6-2.1-.7-2.1-1-2-1.1-2-1.3-1.7-1.4-1.6-1.5-1.4-1.6-1.1-1.6-.8-1.6-.5-1.5-.2-1.4 .2-1.2 .4-1.2 .8-.9 1.1-.7 1.3-.4 1.6-.3 1.8 .1 1.9 .2 2 .6 2.1 .7 2.1 1 2 1.1 1.9 1.3 1.8 1.4 1.6 1.5 1.4 1.6 1.1 1.6 .8 1.6 .5 1.5 .2 1.4-.2z" fill-rule="evenodd" stroke-width="1.03"/>
<path d="M178.1 116.1l1.3-.9 1.2-1.2 .9-1.5 .7-1.7 .5-1.9 .3-2.2-.1-2.2-.2-2.4-.5-2.5-.7-2.5-1-2.4-1.1-2.5-1.4-2.3-1.5-2.1-1.6-2-1.8-1.8-1.8-1.6-1.9-1.3-1.9-1-1.9-.7-1.8-.3-1.8-.1-1.6 .3-1.5 .6-1.3 .9-1.2 1.2-.9 1.5-.7 1.7-.5 1.9-.3 2.2 0 2.2 .3 2.4 .5 2.5 .7 2.5 1 2.4 1.1 2.5 1.4 2.3 1.5 2.1 1.6 2 1.8 1.8 1.8 1.6 1.9 1.3 1.9 1 1.9 .7 1.8 .3 1.7 .1 1.7-.3zM176.2 112.5l.5-.3 .5-.4 .5-.5 .4-.5-.2-1.3 .4-.6 .2-.6 1-.1 .2-.7 .2-.8 .1-.8 .1-.9 0-.9 0-.9-.1-1-.1-.9-.2-1-.2-1-.3-1-.3-1-.4-1-.4-1-.4-.9-.5-1-.5-.9-.6-1-.6-.8-.6-.9-.6-.8-.7-.8-.7-.7-.7-.7-.7-.7-.8-.6-.7-.5-.8-.5-.7 .4-.8-.3-.7-.3-.8-1.1-.7-.2-.8-.1-.7-.1-.7 0-.6 .1-.7 .1-.6 .2-.6 .3-.5 .3-.5 .4-.5 .5-.5 .5-.4 .6-.3 .6-.3 .6-.3 .8-.2 .7-.2 .8-.1 .8-.1 .9 0 .9 0 .9 .1 1 .1 .9 .2 1 .2 1 .3 1 .3 1 1 .9 .4 .9 .4 .9-.1 1.2 .5 .9 .6 1 .6 .8 .6 .9 .6 .8 .7 .8 .7 .7 .7 .7 .7 .7 .8 .6 .7 .5 .8 .5 .7 .4 .8 .4 .7 .3 .8 .2 .7 .2 .8 .1 .7 .1 .6 0 .7-.1 .7-.1 .6-.2z" fill-rule="evenodd" stroke-width="0.95"/>
<path d="M202.6 82.8l-.8-1.7-.8-1.6-1-1.6-1.1-1.6-1.1-1.4-1.2-1.3-1.2-1.2-1.3-1.1-1.3-1-1.4-.8-1.3-.6-1.3-.5-1.3-.3-1.3-.1-1.2 .1-1.1 .2-1.1 .4-1 .5-.8 .7-.8 .9-.7 1-.5 1.2-.5 1.3-.3 1.4-.2 1.5 0 1.5 .1 1.7 .2 1.7 .4 1.7 .4 1.7 .6 1.8 .8 1.7 .8 1.7 .9 1.6 1 1.6 1.1 1.5 1.2 1.4 1.2 1.3 1.3 1.1 1.3 1 1.3 .9 1.3 .7 1.4 .6 1.3 .3 1.2 .3 1.3 0 1.1-.1 1.1-.3 1.1-.5 .9-.7 .8-.8 .8-.9 .6-1.1 .5-1.2 .3-1.4 .3-1.4 .1-1.5 0-1.6-.2-1.7-.3-1.7-2.6-.5 .3 1.3 .1 1.4 0 1.3-.1 1.2-.2 1.1-.3 1.1-.4 1-.4 .9-.6 .7-.7 .7-.7 .5-.9 .3-.8 .3-1 .1-1 0-1-.2-1-.3-1.1-.5-1.1-.5-1-.7-1.1-.8-1-1-.9-1-1-1.1-.9-1.2-.8-1.2-.7-1.3-.7-1.4-.5-1.4-.5-1.4-.4-1.4-.3-1.3-.2-1.4 0-1.3 0-1.3 .1-1.2 .3-1.1 .3-1 .5-.9 .5-.8 .6-.7 .7-.6 .8-.5 .9-.3 .9-.2 1 0 1 .1 1 .2 1 .4 1.1 .5 1.1 .7 1 .7 1.1 .9 1 1 .9 1 .9 1.2 .9 1.2 .7 1.3 .7 1.3 .6 1.4z" fill-rule="evenodd" stroke-width="0.95"/>
<path d="M212.2 83.7l1.1-.7 10.6-5.6-1.1 .7z" stroke="none"/><path d="M222.8 78.1l1.1-.7M212.2 83.7l10.6-5.6" fill="none"/>
<path d="M203.9 65.2l-1.2 .5 10.6-5.6 1.2-.5z" stroke="none"/><path d="M214.5 59.6l-1.2 .5M202.7 65.7l10.6-5.6" fill="none"/>
<path d="M213.3 83l1-1.3 10.7-5.6-1.1 1.3z" stroke="none"/><path d="M223.9 77.4l1.1-1.3M214.3 81.7l10.7-5.6" fill="none"/>
<path d="M205.5 65.1l-1.6 .1 10.6-5.6 1.7-.1z" stroke="none"/><path d="M216.2 59.5l-1.7 .1M205.5 65.1l10.7-5.6" fill="none"/>
<path d="M203.4 58.2l-1.4-.2 10.6-5.6 1.4 .2z" stroke="none"/><path d="M214 52.6l-1.4-.2M202 58l10.6-5.6" fill="none"/>
<path d="M218.2 88.7l.6-1.3 10.6-5.6-.6 1.2z" stroke="none"/><path d="M228.8 83l.6-1.2M218.2 88.7l10.6-5.7" fill="none"/>
<path d="M218.8 87.4l.5-1.9 10.6-5.6-.5 1.9z" stroke="none"/><path d="M229.4 81.8l.5-1.9M219.3 85.5l10.6-5.6" fill="none"/>
<path d="M205.2 58.9l-1.8-.7 10.6-5.6 1.8 .7z" stroke="none"/><path d="M215.8 53.3l-1.8-.7M205.2 58.9l10.6-5.6" fill="none"/>
<path d="M211.8 71.2l.5 1 10.6-5.6-.5-1z" stroke="none"/><path d="M222.4 65.6l.5 1M211.8 71.2l10.6-5.6M212.3 72.2l10.6-5.6" fill="none" stroke-width="0.63"/>
<path d="M212.3 72.2l.7 .1 10.6-5.6-.7-.1z" stroke="none"/><path d="M222.9 66.6l.7 .1M212.3 72.2l10.6-5.6M213 72.3l10.6-5.6" fill="none" stroke-width="0.63"/>
<path d="M213.9 74.9l.7 .9 10.6-5.7-.7-.8z" stroke="none"/><path d="M224.5 69.3l.7 .8M213.9 74.9l10.6-5.6M214.6 75.8l10.6-5.7" fill="none" stroke-width="0.63"/>
<path d="M212.1 70.5l-.3 .7 10.6-5.6 .3-.7z" stroke="none"/><path d="M222.7 64.9l-.3 .7M212.1 70.5l10.6-5.6M211.8 71.2l10.6-5.6" fill="none" stroke-width="0.63"/>
<path d="M214.1 74l-.2 .9 10.6-5.6 .2-.9z" stroke="none"/><path d="M224.7 68.4l-.2 .9M214.1 74l10.6-5.6M213.9 74.9l10.6-5.6" fill="none" stroke-width="0.63"/>
<path d="M210.3 67.2l.3 1 10.6-5.6-.3-1z" stroke="none"/><path d="M220.9 61.6l.3 1M210.3 67.2l10.6-5.6M210.6 68.2l10.6-5.6" fill="none" stroke-width="0.63"/>
<path d="M210.6 68.2l.8 .5 10.6-5.6-.8-.5z" stroke="none"/><path d="M221.2 62.6l.8 .5M210.6 68.2l10.6-5.6M211.4 68.7l10.6-5.6" fill="none" stroke-width="0.63"/>
<path d="M213 72.3l1.1 1.7 10.6-5.6-1.1-1.7z" stroke="none"/><path d="M223.6 66.7l1.1 1.7M213 72.3l10.6-5.6M214.1 74l10.6-5.6" fill="none" stroke-width="0.63"/>
<path d="M214.6 75.8l.7-.2 10.6-5.6-.7 .1z" stroke="none"/><path d="M225.2 70.1l.7-.1M214.6 75.8l10.6-5.7M215.3 75.6l10.6-5.6" fill="none" stroke-width="0.63"/>
<path d="M211.4 68.7l.7 1.8 10.6-5.6-.7-1.8z" stroke="none"/><path d="M222 63.1l.7 1.8M211.4 68.7l10.6-5.6M212.1 70.5l10.6-5.6" fill="none" stroke-width="0.63"/>
<path d="M210.9 66.8l-.6 .4 10.6-5.6 .6-.4z" stroke="none"/><path d="M221.5 61.2l-.6 .4M210.9 66.8l10.6-5.6M210.3 67.2l10.6-5.6" fill="none" stroke-width="0.63"/>
<path d="M215.3 75.6l1.3 1.3 10.6-5.6-1.3-1.3z" stroke="none"/><path d="M225.9 70l1.3 1.3M215.3 75.6l10.6-5.6M216.6 76.9l10.6-5.6" fill="none" stroke-width="0.63"/>
<path d="M216.7 78l.7 .6 10.7-5.6-.8-.7z" stroke="none"/><path d="M227.3 72.3l.8 .7M216.7 78l10.6-5.7M217.4 78.6l10.7-5.6" fill="none" stroke-width="0.63"/>
<path d="M216.6 76.9l.1 1.1 10.6-5.7-.1-1z" stroke="none"/><path d="M227.2 71.3l.1 1M216.6 76.9l10.6-5.6M216.7 78l10.6-5.7" fill="none" stroke-width="0.63"/>
<path d="M210.6 65l.3 1.8 10.6-5.6-.3-1.8z" stroke="none"/><path d="M221.2 59.4l.3 1.8M210.6 65l10.6-5.6M210.9 66.8l10.6-5.6" fill="none" stroke-width="0.63"/>
<path d="M209.9 64.3l.7 .7 10.6-5.6-.7-.7z" stroke="none"/><path d="M220.5 58.7l.7 .7M209.9 64.3l10.6-5.6M210.6 65l10.6-5.6" fill="none" stroke-width="0.63"/>
<path d="M209.8 63.3l.1 1 10.6-5.6-.1-1z" stroke="none"/><path d="M220.4 57.7l.1 1M209.8 63.3l10.6-5.6M209.9 64.3l10.6-5.6" fill="none" stroke-width="0.63"/>
<path d="M224.3 91.2l.1-1.7 10.6-5.6-.1 1.7z" stroke="none"/><path d="M234.9 85.6l.1-1.7M224.3 91.2l10.6-5.6" fill="none"/>
<path d="M204.8 52.4l-1.5-.8 10.6-5.6 1.5 .8z" stroke="none"/><path d="M215.4 46.8l-1.5-.8M203.3 51.6l10.6-5.6" fill="none"/>
<path d="M217.9 78.1l1.4 .9 10.7-5.6-1.5-.9z" stroke="none"/><path d="M228.5 72.5l1.5 .9M217.9 78.1l10.6-5.6M219.3 79l10.7-5.6" fill="none" stroke-width="0.63"/>
<path d="M219.3 79l.4 1.1 10.6-5.6-.3-1.1z" stroke="none"/><path d="M230 73.4l.3 1.1M219.3 79l10.7-5.6M219.7 80.1l10.6-5.6" fill="none" stroke-width="0.63"/>
<path d="M210.7 61.6l-.2 1.7 10.6-5.7 .2-1.6z" stroke="none"/><path d="M221.3 56l-.2 1.6M210.7 61.6l10.6-5.6M210.5 63.3l10.6-5.7" fill="none" stroke-width="0.63"/>
<path d="M224.4 89.5l-.2-2.3 10.6-5.6 .2 2.3z" stroke="none"/><path d="M235 83.9l-.2-2.3M224.2 87.2l10.6-5.6" fill="none"/>
<path d="M206.6 53.8l-1.8-1.4 10.6-5.6 1.8 1.4z" stroke="none"/><path d="M217.2 48.2l-1.8-1.4M206.6 53.8l10.6-5.6" fill="none"/>
<path d="M219.7 80.1l.8 .3 10.6-5.6-.8-.3z" stroke="none"/><path d="M230.3 74.5l.8 .3M219.7 80.1l10.6-5.6M220.5 80.4l10.6-5.6" fill="none" stroke-width="0.63"/>
<path d="M210 60.7l.7 .9 10.6-5.6-.6-.9z" stroke="none"/><path d="M220.7 55.1l.6 .9M210 60.7l10.7-5.6M210.7 61.6l10.6-5.6" fill="none" stroke-width="0.63"/>
<path d="M210.3 59.9l-.3 .8 10.7-5.6 .2-.8z" stroke="none"/><path d="M220.9 54.3l-.2 .8M210.3 59.9l10.6-5.6M210 60.7l10.7-5.6" fill="none" stroke-width="0.63"/>
<path d="M220.8 79.7l1.3 .4 10.7-5.7-1.4-.3z" stroke="none"/><path d="M231.4 74.1l1.4 .3M220.8 79.7l10.6-5.6M222.1 80.1l10.7-5.7" fill="none" stroke-width="0.63"/>
<path d="M222.1 80.1l.6 1 10.6-5.7-.5-1z" stroke="none"/><path d="M232.8 74.4l.5 1M222.1 80.1l10.7-5.7M222.7 81.1l10.6-5.7" fill="none" stroke-width="0.63"/>
<path d="M211.6 58.9l-.6 1.3 10.7-5.6 .5-1.3z" stroke="none"/><path d="M222.2 53.3l-.5 1.3M211.6 58.9l10.6-5.6M211 60.2l10.7-5.6" fill="none" stroke-width="0.63"/>
<path d="M222.7 81.1l.7 0 10.7-5.6-.8-.1z" stroke="none"/><path d="M233.3 75.4l.8 .1M222.7 81.1l10.6-5.7M223.4 81.1l10.7-5.6" fill="none" stroke-width="0.63"/>
<path d="M211.2 57.9l.4 1 10.6-5.6-.4-1z" stroke="none"/><path d="M221.8 52.3l.4 1M211.2 57.9l10.6-5.6M211.6 58.9l10.6-5.6" fill="none" stroke-width="0.63"/>
<path d="M211.6 57.3l-.4 .6 10.6-5.6 .4-.6z" stroke="none"/><path d="M222.2 51.7l-.4 .6M211.6 57.3l10.6-5.6M211.2 57.9l10.6-5.6" fill="none" stroke-width="0.63"/>
<path d="M229 91.8l.8-.8 10.6-5.7-.8 .9z" stroke="none"/><path d="M239.6 86.2l.8-.9M229 91.8l10.6-5.6M229.8 91l10.6-5.7" fill="none"/>
<path d="M206.6 47.1l-1.2 .2 10.6-5.6 1.2-.2z" stroke="none"/><path d="M217.2 41.5l-1.2 .2M206.6 47.1l10.6-5.6M205.4 47.3l10.6-5.6" fill="none"/>
<path d="M223.5 80.1l1.2-.2 10.6-5.6-1.2 .2z" stroke="none"/><path d="M234.1 74.5l1.2-.2M223.5 80.1l10.6-5.6M224.7 79.9l10.6-5.6" fill="none" stroke-width="0.63"/>
<path d="M229.8 91l-.4-2 10.6-5.6 .4 1.9z" stroke="none"/><path d="M240.4 85.3l-.4-1.9M229.8 91l10.6-5.7" fill="none"/>
<path d="M208 48.5l-1.4-1.4 10.6-5.6 1.4 1.4z" stroke="none"/><path d="M218.6 42.9l-1.4-1.4M206.6 47.1l10.6-5.6" fill="none"/>
<path d="M213.3 57.2l-.9 .7 10.6-5.6 .9-.8z" stroke="none"/><path d="M223.9 51.5l-.9 .8M213.3 57.2l10.6-5.7M212.4 57.9l10.6-5.6" fill="none" stroke-width="0.63"/>
<path d="M224.7 79.9l.7 .9 10.6-5.6-.7-.9z" stroke="none"/><path d="M235.3 74.3l.7 .9M224.7 79.9l10.6-5.6M225.4 80.8l10.6-5.6" fill="none" stroke-width="0.63"/>
<path d="M229.4 89l-.8-2.4 10.6-5.6 .8 2.4z" stroke="none"/><path d="M240 83.4l-.8-2.4M228.6 86.6l10.6-5.6" fill="none"/>
<path d="M209.5 50.5l-1.5-2 10.6-5.6 1.5 2z" stroke="none"/><path d="M220.1 44.9l-1.5-2M209.5 50.5l10.6-5.6" fill="none"/>
<path d="M225.4 80.8l.6-.3 10.6-5.6-.6 .3z" stroke="none"/><path d="M236 75.2l.6-.3M225.4 80.8l10.6-5.6M226 80.5l10.6-5.6" fill="none" stroke-width="0.63"/>
<path d="M228.6 86.6l.4-.5 10.6-5.6-.4 .5z" stroke="none"/><path d="M239.2 81l.4-.5M228.6 86.6l10.6-5.6M229 86.1l10.6-5.6" fill="none"/>
<path d="M210.1 50.5l-.6 0 10.6-5.6 .7 0z" stroke="none"/><path d="M220.8 44.9l-.7 0M210.1 50.5l10.7-5.6M209.5 50.5l10.6-5.6" fill="none"/>
<path d="M213.1 56.1l.2 1.1 10.6-5.7-.2-1z" stroke="none"/><path d="M223.7 50.5l.2 1M213.1 56.1l10.6-5.6M213.3 57.2l10.6-5.7" fill="none" stroke-width="0.63"/>
<path d="M226.7 78.7l.8 .6 10.6-5.6-.7-.6z" stroke="none"/><path d="M237.4 73.1l.7 .6M226.7 78.7l10.7-5.6M227.5 79.3l10.6-5.6" fill="none" stroke-width="0.63"/>
<path d="M215.7 55.5l0 1 10.6-5.6 0-1z" stroke="none"/><path d="M226.3 49.9l0 1M215.7 55.5l10.6-5.6M215.7 56.5l10.6-5.6" fill="none" stroke-width="0.63"/>
<path d="M233.7 89.3l.4-1.3 10.6-5.6-.4 1.3z" stroke="none"/><path d="M244.3 83.7l.4-1.3M233.7 89.3l10.6-5.6M234.1 88l10.6-5.6" fill="none"/>
<path d="M211.4 45.2l-1.3-.4 10.7-5.6 1.3 .4z" stroke="none"/><path d="M222.1 39.6l-1.3-.4M211.4 45.2l10.7-5.6M210.1 44.8l10.7-5.6" fill="none"/>
<path d="M234.1 88l-.8-1.9 10.6-5.6 .8 1.9z" stroke="none"/><path d="M244.7 82.4l-.8-1.9M234.1 88l10.6-5.6" fill="none"/>
<path d="M212.6 47l-1.2-1.8 10.7-5.6 1.1 1.8z" stroke="none"/><path d="M223.2 41.4l-1.1-1.8M211.4 45.2l10.7-5.6" fill="none"/>
<path d="M233.3 86.1l-1.4-2.3 10.6-5.6 1.4 2.3z" stroke="none"/><path d="M243.9 80.5l-1.4-2.3M231.9 83.8l10.6-5.6" fill="none"/>
<path d="M213.7 49.4l-1.1-2.4 10.6-5.6 1.1 2.3z" stroke="none"/><path d="M224.3 43.7l-1.1-2.3M213.7 49.4l10.6-5.7" fill="none"/>
<path d="M231.9 83.8l.2-.7 10.6-5.6-.2 .7z" stroke="none"/><path d="M242.5 78.2l.2-.7M231.9 83.8l10.6-5.6" fill="none"/>
<path d="M214.4 49.7l-.7-.3 10.6-5.7 .7 .3z" stroke="none"/><path d="M225 44l-.7-.3M213.7 49.4l10.6-5.7" fill="none"/>
<path d="M228.1 76.4l.8 .3 10.6-5.6-.8-.3z" stroke="none"/><path d="M238.7 70.8l.8 .3M228.1 76.4l10.6-5.6M228.9 76.7l10.6-5.6" fill="none" stroke-width="0.63"/>
<path d="M232.1 83.1l.5-.3 10.6-5.6-.5 .3z" stroke="none"/><path d="M242.7 77.5l.5-.3M232.6 82.8l10.6-5.6" fill="none"/>
<path d="M214.9 49.4l-.5 .3 10.6-5.7 .5-.2z" stroke="none"/><path d="M225.5 43.8l-.5 .2M214.9 49.4l10.6-5.6" fill="none"/>
<path d="M218.6 56.2l-.2 .7 10.6-5.6 .3-.7z" stroke="none"/><path d="M229.3 50.6l-.3 .7M218.6 56.2l10.7-5.6M218.4 56.9l10.6-5.6" fill="none" stroke-width="0.63"/>
<path d="M228.6 73.4l.7-.1 10.6-5.6-.7 0z" stroke="none"/><path d="M239.2 67.7l.7 0M228.6 73.4l10.6-5.7M229.3 73.3l10.6-5.6" fill="none" stroke-width="0.63"/>
<path d="M221.7 58l-.5 .5 10.6-5.6 .5-.5z" stroke="none"/><path d="M232.3 52.4l-.5 .5M221.7 58l10.6-5.6M221.2 58.5l10.6-5.6" fill="none" stroke-width="0.63"/>
<path d="M235.9 85l.8-.7 10.6-5.6-.8 .7z" stroke="none"/><path d="M246.5 79.4l.8-.7M235.9 85l10.6-5.6" fill="none"/>
<path d="M216 45.2l-1.1 .2 10.6-5.6 1.1-.2z" stroke="none"/><path d="M226.6 39.6l-1.1 .2M214.9 45.4l10.6-5.6" fill="none"/>
<path d="M233.8 79.2l-.2-.9 10.7-5.6 .1 .9z" stroke="none"/><path d="M244.4 73.6l-.1-.9M233.8 79.2l10.6-5.6" fill="none"/>
<path d="M219.2 51l-.6-.5 10.6-5.6 .6 .5z" stroke="none"/><path d="M229.8 45.4l-.6-.5M218.6 50.5l10.6-5.6" fill="none"/>
<path d="M235.4 81l-1.6-1.8 10.6-5.6 1.6 1.8z" stroke="none"/><path d="M246 75.4l-1.6-1.8M233.8 79.2l10.6-5.6" fill="none"/>
<path d="M218.6 50.5l-.6-2.4 10.6-5.7 .6 2.5z" stroke="none"/><path d="M229.2 44.9l-.6-2.5M218.6 50.5l10.6-5.6" fill="none"/>
<path d="M236.7 84.3l-.1-1.6 10.6-5.7 .1 1.7z" stroke="none"/><path d="M247.3 78.7l-.1-1.7M236.6 82.7l10.6-5.7" fill="none"/>
<path d="M217.3 46.1l-1.3-.9 10.6-5.6 1.3 .9z" stroke="none"/><path d="M227.9 40.5l-1.3-.9M217.3 46.1l10.6-5.6" fill="none"/>
<path d="M233.6 78.3l.3-.6 10.7-5.6-.3 .6z" stroke="none"/><path d="M244.3 72.7l.3-.6M233.9 77.7l10.7-5.6" fill="none"/>
<path d="M219.9 51.1l-.7-.1 10.6-5.6 .7 .1z" stroke="none"/><path d="M230.5 45.5l-.7-.1M219.9 51.1l10.6-5.6" fill="none"/>
<path d="M236.6 82.7l-1.2-1.7 10.6-5.6 1.2 1.6z" stroke="none"/><path d="M247.2 77l-1.2-1.6M236.6 82.7l10.6-5.7" fill="none"/>
<path d="M218 48.1l-.7-2 10.6-5.6 .7 1.9z" stroke="none"/><path d="M228.6 42.4l-.7-1.9M217.3 46.1l10.6-5.6" fill="none"/>
<path d="M233.9 73.2l-.4-.9 10.6-5.6 .4 .9z" stroke="none"/><path d="M244.5 67.6l-.4-.9M233.9 73.2l10.6-5.6" fill="none"/>
<path d="M224.1 54.5l-.6-.8 10.7-5.6 .5 .8z" stroke="none"/><path d="M234.7 48.9l-.5-.8M223.5 53.7l10.7-5.6" fill="none"/>
<path d="M233.5 72.3l.1-.8 10.6-5.6-.1 .8z" stroke="none"/><path d="M244.1 66.7l.1-.8M233.6 71.5l10.6-5.6" fill="none"/>
<path d="M224.8 54.9l-.7-.4 10.6-5.6 .7 .4z" stroke="none"/><path d="M235.4 49.3l-.7-.4M224.8 54.9l10.6-5.6" fill="none"/>
<path d="M235.7 74.4l-1.8-1.2 10.6-5.6 1.8 1.2z" stroke="none"/><path d="M246.3 68.8l-1.8-1.2M233.9 73.2l10.6-5.6" fill="none"/>
<path d="M223.5 53.7l.1-2.1 10.6-5.7 0 2.2z" stroke="none"/><path d="M234.2 48.1l0-2.2M223.5 53.7l10.7-5.6" fill="none"/>
<path d="M237.2 78.6l.4-1.3 10.6-5.6-.4 1.3z" stroke="none"/><path d="M247.8 73l.4-1.3M237.2 78.6l10.6-5.6" fill="none"/>
<path d="M222.3 48.3l-1.3-.3 10.6-5.7 1.3 .4z" stroke="none"/><path d="M232.9 42.7l-1.3-.4M221 48l10.6-5.7" fill="none"/>
<path d="M237.1 75.6l-1.4-1.2 10.6-5.6 1.4 1.2z" stroke="none"/><path d="M247.7 70l-1.4-1.2M237.1 75.6l10.6-5.6" fill="none"/>
<path d="M223.6 51.6l-.2-1.9 10.6-5.6 .2 1.8z" stroke="none"/><path d="M234.2 45.9l-.2-1.8M223.4 49.7l10.6-5.6" fill="none"/>
<path d="M237.6 77.3l-.5-1.7 10.6-5.6 .5 1.7z" stroke="none"/><path d="M248.2 71.7l-.5-1.7M237.1 75.6l10.6-5.6" fill="none"/>
<path d="M223.4 49.7l-1.1-1.4 10.6-5.6 1.1 1.4z" stroke="none"/><path d="M234 44.1l-1.1-1.4M223.4 49.7l10.6-5.6" fill="none"/>
<path d="M232.2 66.6l-.5-.8 10.6-5.6 .5 .8z" stroke="none"/><path d="M242.8 61l-.5-.8M232.2 66.6l10.6-5.6" fill="none"/>
<path d="M228.4 59.7l-.3-.9 10.6-5.6 .4 .8z" stroke="none"/><path d="M239.1 54l-.4-.8M228.1 58.8l10.6-5.6" fill="none"/>
<path d="M231.7 65.8l-.2-.9 10.7-5.6 .1 .9z" stroke="none"/><path d="M242.3 60.2l-.1-.9M231.5 64.9l10.7-5.6" fill="none"/>
<path d="M229.1 60.3l-.7-.6 10.7-5.7 .6 .7z" stroke="none"/><path d="M239.7 54.7l-.6-.7M229.1 60.3l10.6-5.6" fill="none"/>
<path d="M234 67l-1.8-.4 10.6-5.6 1.8 .4z" stroke="none"/><path d="M244.6 61.4l-1.8-.4M232.2 66.6l10.6-5.6" fill="none"/>
<path d="M228.1 58.8l.7-1.7 10.6-5.6-.7 1.7z" stroke="none"/><path d="M238.7 53.2l.7-1.7M228.1 58.8l10.6-5.6" fill="none"/>
<path d="M231.5 64.9l1.3-.9 10.6-5.7-1.2 1z" stroke="none"/><path d="M242.2 59.3l1.2-1M231.5 64.9l10.7-5.6" fill="none"/>
<path d="M230.6 59.8l-1.5 .5 10.6-5.6 1.5-.5z" stroke="none"/><path d="M241.2 54.2l-1.5 .5M229.1 60.3l10.6-5.6" fill="none"/>
<path d="M235.5 67.7l-1.5-.7 10.6-5.6 1.5 .6z" stroke="none"/><path d="M246.1 62l-1.5-.6M235.5 67.7l10.6-5.7" fill="none"/>
<path d="M228.8 57.1l.3-1.6 10.6-5.6-.3 1.6z" stroke="none"/><path d="M239.4 51.5l.3-1.6M229.1 55.5l10.6-5.6" fill="none"/>
<path d="M236.4 70.9l0-1.6 10.6-5.6 0 1.6z" stroke="none"/><path d="M247 65.3l0-1.6M236.4 70.9l10.6-5.6" fill="none"/>
<path d="M228.2 53.8l-1.3-.9 10.6-5.6 1.3 .9z" stroke="none"/><path d="M238.8 48.2l-1.3-.9M226.9 52.9l10.6-5.6" fill="none"/>
<path d="M232.8 64l.8-1.1 10.6-5.7-.8 1.1z" stroke="none"/><path d="M243.4 58.3l.8-1.1M233.6 62.9l10.6-5.7" fill="none"/>
<path d="M231.9 59.8l-1.3 0 10.6-5.6 1.4 0z" stroke="none"/><path d="M242.6 54.2l-1.4 0M231.9 59.8l10.7-5.6" fill="none"/>
<path d="M236.4 69.3l-.9-1.6 10.6-5.7 .9 1.7z" stroke="none"/><path d="M247 63.7l-.9-1.7M235.5 67.7l10.6-5.7" fill="none"/>
<path d="M229.1 55.5l-.9-1.7 10.6-5.6 .9 1.7z" stroke="none"/><path d="M239.7 49.9l-.9-1.7M229.1 55.5l10.6-5.6" fill="none"/>
<path d="M233.6 62.9l-.5-1.8 10.6-5.6 .5 1.7z" stroke="none"/><path d="M244.2 57.2l-.5-1.7M233.6 62.9l10.6-5.7" fill="none"/>
<path d="M233.1 61.1l-1.2-1.3 10.7-5.6 1.1 1.3z" stroke="none"/><path d="M243.7 55.5l-1.1-1.3M231.9 59.8l10.7-5.6" fill="none"/>
<path d="M228.6 86.6l.4-.5 .6 0 1.6 2 1.4 1.4 1.1-.2 .4-1.3-.8-1.9-1.4-2.3 .2-.7 .5-.3 1.8 1.4 1.5 .8 .8-.7-.1-1.6-1.2-1.7-1.6-1.8-.2-.9 .3-.6 1.9 .7 1.4 .2 .4-1.3-.5-1.7-1.4-1.2-1.8-1.2-.4-.9 .1-.8 1.6-.1 1.2-.5 0-1.6-.9-1.6-1.5-.7-1.8-.4-.5-.8-.2-.9 1.3-.9 .8-1.1-.5-1.8-1.2-1.3-1.3 0-1.5 .5-.7-.6-.3-.9 .7-1.7 .3-1.6-.9-1.7-1.3-.9-1.1 .7-1 1.3-.7-.4-.6-.8 .1-2.1-.2-1.9-1.1-1.4-1.3-.3-.7 1.2-.4 1.9-.7-.1-.6-.5-.6-2.4-.7-2-1.3-.9-1.1 .2-.2 1.7 .2 2.3-.5 .3-.7-.3-1.1-2.4-1.2-1.8-1.3-.4-.8 .9 .4 1.9 .8 2.4-.4 .5-.6 0-1.5-2-1.4-1.4-1.2 .2-.4 1.3 .9 1.9 1.3 2.3-.1 .7-.5 .3-1.8-1.4-1.5-.8-.9 .7 .1 1.7 1.2 1.6 1.7 1.8 .1 .9-.3 .6-1.8-.7-1.4-.2-.5 1.3 .5 1.7 1.4 1.2 1.9 1.2 .3 .9-.1 .8-1.6 .1-1.2 .5 0 1.6 .9 1.7 1.5 .6 1.8 .4 .5 .8 .2 .9-1.3 1-.7 1.1 .4 1.7 1.2 1.3 1.3 0 1.6-.5 .6 .7 .4 .8-.7 1.7-.3 1.6 .8 1.7 1.3 .9 1.1-.7 1-1.3 .7 .4 .6 .8-.1 2.2 .2 1.8 1.2 1.4 1.3 .4 .6-1.3 .5-1.9 .6 .1 .7 .5 .5 2.5 .7 1.9 1.3 .9 1.2-.2 .1-1.7-.2-2.3 .6-.2 .7 .3 1.1 2.3 1.1 1.8 1.3 .4 .8-.8-.4-2zM226 80.5l-.2-1 .9-.8 .8 .6 .5-.6-.5-1 .6-1.3 .8 .3 .2-.8-.6-.9 .1-1.6 .7-.1 0-1-.8-.7-.3-1.8 .6-.4-.3-1-.8-.5-.7-1.8 .4-.7-.5-1-.8-.1-1-1.7 .1-.9-.7-.8-.6 .1-1.3-1.3-.1-1-.8-.7-.5 .5-1.4-.9-.4-1.1-.8-.3-.2 .7-1.4-.3-.6-1-.7-.1 0 1-1.3 .2-.7-.9-.6 .3 .2 1.1-.9 .7-.8-.6-.4 .6 .4 1-.6 1.3-.7-.3-.3 .8 .7 .9-.2 1.7-.7 0 .1 1 .7 .7 .3 1.8-.6 .4 .3 1 .8 .5 .7 1.8-.3 .7 .5 1 .7 .1 1.1 1.7-.2 .9 .7 .9 .7-.2 1.3 1.3 .1 1.1 .7 .6 .5-.5 1.4 .9 .4 1.1 .8 .3 .3-.7 1.3 .4 .6 1 .7 0 .1-1 1.2-.2 .7 .9z" fill-rule="evenodd"/>
<path d="M270.4 65.1l1.3-.9 1.2-1.1 .9-1.5 .7-1.6 .5-1.9 .2-2.1 0-2.2-.3-2.3-.4-2.4-.8-2.4-.9-2.5-1.1-2.3-1.3-2.3-1.5-2.1-1.6-1.9-1.7-1.8-1.8-1.5-1.8-1.2-1.9-1-1.8-.7-1.8-.3-1.7-.1-1.6 .3-1.4 .6-1.3 .9-1.1 1.1-1 1.5-.7 1.6-.4 1.9-.3 2.1 0 2.2 .3 2.3 .5 2.4 .7 2.4 .9 2.5 1.1 2.3 1.3 2.3 1.5 2.1 1.6 1.9 1.7 1.8 1.8 1.5 1.8 1.2 1.9 1 1.8 .7 1.8 .3 1.7 .1 1.6-.3zM268.6 61.6l1-.7 .9-.9 .7-1.2 .6-1.3 .4-1.5 .2-1.7 0-1.8-.2-1.8-.4-1.9-.6-2-.7-1.9-.9-1.9-1.1-1.8-1.1-1.7-1.3-1.5-1.4-1.4-1.4-1.2-1.5-1-1.5-.8-1.4-.6-1.5-.2-1.3-.1-1.3 .2-1.2 .5-1 .7-.9 .9-.7 1.2-.6 1.3-.4 1.5-.2 1.7 0 1.8 .2 1.8 .4 1.9 .6 2 .7 1.9 .9 1.9 1.1 1.8 1.2 1.7 1.2 1.5 1.4 1.4 1.4 1.2 1.5 1 1.5 .8 1.4 .6 1.5 .2 1.3 .1 1.3-.2z" fill-rule="evenodd" stroke-width="0.95"/>
<path d="M218.8 215l.7-.4 .6-.6 .5-.8 .4-.8 .3-1 .1-1.1 0-1.2-.1-1.2-.2-1.3-.4-1.3-.4-1.2-.6-1.3-.7-1.2-.7-1.1-.9-1-.8-1-1-.8-.9-.7-1-.5-.9-.3-1-.3-.9 0-.8 .1-.8 .3 18.5-9.4 .8-.3 .9-.1 .9 0 .9 .2 .9 .4 1 .5 1 .7 .9 .8 .9 .9 .8 1.1 .8 1.1 .6 1.2 .6 1.2 .5 1.3 .3 1.3 .3 1.2 .1 1.3 0 1.1-.2 1.1-.3 1-.3 .9-.5 .7-.6 .6-.7 .5z" stroke="none"/>
<path d="M218.8 215l18.6-9.4 .7-.5 .6-.6 .5-.7 .3-.9 .3-1 .2-1.1 0-1.1-.1-1.3-.3-1.2-.3-1.3-.5-1.3-.6-1.2-.6-1.2-.8-1.1-.8-1.1-.9-.9-.9-.8-1-.7-1-.5-.9-.4-.9-.2-.9 0-.9 .1-.8 .3-18.5 9.4" fill="none"/>
<path d="M218.8 215l.9-.5 .6-.8 .6-1 .3-1.1 .2-1.3 0-1.4-.2-1.5-.3-1.5-.5-1.6-.7-1.5-.8-1.4-1-1.3-1-1.2-1.1-1-1.1-.9-1.2-.6-1.1-.3-1.1-.2-1.1 .1-.9 .3-.8 .6-.7 .8-.5 .9-.4 1.2-.2 1.3 0 1.4 .2 1.5 .4 1.5 .5 1.5 .7 1.5 .8 1.5 .9 1.3 1 1.2 1.1 1 1.2 .8 1.1 .6 1.2 .4 1.1 .2 1-.1z" fill-rule="evenodd"/>
<path d="M197.1 221.7l1.1-.7 12.2-6.2-1.2 .7z" stroke="#4a4a4a" stroke-width="0.68"/>
<path d="M192.2 205.1l-1.4-.3 12.1-6.1 1.5 .2z" stroke="#4a4a4a" stroke-width="0.68"/>
<path d="M202.4 225.8l.5-1.5 12.1-6.2-.5 1.5z" stroke="#4a4a4a" stroke-width="0.68"/>
<path d="M194 200.7l-1.5-1.2 12.1-6.1 1.5 1.1z" stroke="#4a4a4a" stroke-width="0.68"/>
<path d="M207.5 226.7l-.2-2 12.1-6.2 .3 2z" stroke="#4a4a4a" stroke-width="0.68"/>
<path d="M196.4 197l-2.2 .9 12.1-6.2 2.2-.8z" stroke="#4a4a4a" stroke-width="0.68"/>
<path d="M209.7 225.8l1.7-1.6 12.1-6.2-1.7 1.7z" stroke="#4a4a4a" stroke-width="0.68"/>
<path d="M197.6 198.8l-1.2-1.8 12.1-6.1 1.2 1.8z" stroke="#4a4a4a" stroke-width="0.68"/>
<path d="M198.7 198.9l-1.1-.1 12.1-6.1 1.1 0z" stroke="#4a4a4a" stroke-width="0.68"/>
<path d="M211.4 224.2l-.9-2 12.2-6.2 .8 2z" stroke="#4a4a4a" stroke-width="0.68"/>
<path d="M210.5 222.2l.6-1.1 12.1-6.1-.5 1z" stroke="#4a4a4a" stroke-width="0.68"/>
<path d="M201.5 198l-2.6-.9 12.1-6.2 2.7 .9z" stroke="#4a4a4a" stroke-width="0.68"/>
<path d="M202.2 200l-.7-2 12.2-6.2 .6 2z" stroke="#4a4a4a" stroke-width="0.68"/>
<path d="M212.6 221.8l.5-2.9 12.2-6.2-.6 3z" stroke="#4a4a4a" stroke-width="0.68"/>
<path d="M203.4 200.8l-1.2-.8 12.1-6.2 1.2 .8z" stroke="#4a4a4a" stroke-width="0.68"/>
<path d="M213.1 218.9l-1.3-1.6 12.1-6.1 1.4 1.5z" stroke="#4a4a4a" stroke-width="0.68"/>
<path d="M211.8 217.3l-.1-1.5 12.1-6.2 .1 1.6z" stroke="#4a4a4a" stroke-width="0.68"/>
<path d="M207.7 205.2l-1-1.3 12.1-6.2 1.1 1.4z" stroke="#4a4a4a" stroke-width="0.68"/>
<path d="M206.8 202.1l-2.6-2.4 12.2-6.2 2.5 2.4z" stroke="#4a4a4a" stroke-width="0.68"/>
<path d="M210.8 211.2l-.6-1.6 12.1-6.2 .6 1.6z" stroke="#4a4a4a" stroke-width="0.68"/>
<path d="M206.7 203.9l.1-1.8 12.1-6.2-.1 1.8z" stroke="#4a4a4a" stroke-width="0.68"/>
<path d="M212.3 212l-1.5-.8 12.1-6.2 1.5 .8z" stroke="#4a4a4a" stroke-width="0.68"/>
<path d="M213 215.5l-.7-3.5 12.1-6.2 .8 3.6z" stroke="#4a4a4a" stroke-width="0.68"/>
<path d="M209.1 205l-1.4 .2 12.2-6.1 1.3-.2z" stroke="#4a4a4a" stroke-width="0.68"/>
<path d="M210.2 209.6l.8-1.2 12.1-6.2-.8 1.2z" stroke="#4a4a4a" stroke-width="0.68"/>
<path d="M211 208.4l-1.9-3.4 12.1-6.1 1.9 3.3z" stroke="#4a4a4a" stroke-width="0.68"/>
<path d="M208.3 224.3l1.4 1.5 1.7-1.6-.9-2 .6-1.1 1.5 .7 .5-2.9-1.3-1.6-.1-1.5 1.3-.3-.7-3.5-1.5-.8-.6-1.6 .8-1.2-1.9-3.4-1.4 .2-1-1.3 .1-1.8-2.6-2.4-.8 1.1-1.2-.8-.7-2-2.6-.9-.2 1.8-1.1-.1-1.2-1.8-2.2 .9 .6 2-.8 .8-1.5-1.2-1.2 2.4 1.2 1.8-.3 1.4-1.4-.3 .1 3.4 1.5 1.2 .3 1.6-1.1 .7 1.4 3.6 1.4 .3 .9 1.6-.5 1.5 2.3 3 1.1-.7 1.2 1.1 .3 2 2.7 1.7 .5-1.5 1.2 .4 .9 1.9 2.5 .1-.2-2z" fill-rule="evenodd"/>
<path d="M198.3 229.4l1-.6 .8-.8 .6-1 .5-1.2 .4-1.3 .2-1.4 0-1.6-.2-1.6-.3-1.7-.4-1.7-.7-1.7-.7-1.7-.9-1.6-1-1.5-1.1-1.4-1.2-1.2-1.2-1.1-1.3-.9-1.3-.7-1.3-.5-1.2-.2-1.2-.1-1.1 .2-1.1 .4 10-5.1 1-.4 1.2-.2 1.2 .1 1.2 .3 1.3 .4 1.3 .7 1.2 .9 1.3 1.1 1.1 1.3 1.1 1.3 1.1 1.6 .8 1.5 .8 1.7 .6 1.7 .5 1.7 .3 1.7 .2 1.6-.1 1.6-.1 1.4-.4 1.4-.5 1.1-.7 1-.8 .8-.9 .6z" stroke="none"/>
<path d="M198.3 229.4l10-5.1 .9-.6 .8-.8 .7-1 .5-1.1 .4-1.4 .1-1.4 .1-1.6-.2-1.6-.3-1.7-.5-1.7-.6-1.7-.8-1.7-.8-1.5-1.1-1.6-1.1-1.3-1.1-1.3-1.3-1.1-1.2-.9-1.3-.7-1.3-.4-1.2-.3-1.2-.1-1.2 .2-1 .4-10 5.1" fill="none"/>
<path d="M198.3 229.4l1.1-.7 .9-1.1 .7-1.3 .5-1.5 .3-1.7 0-1.9-.3-2-.4-2-.7-2.1-.9-2-1.1-1.9-1.3-1.7-1.3-1.6-1.5-1.4-1.5-1.1-1.6-.8-1.5-.5-1.5-.2-1.3 .1-1.3 .5-1.1 .7-.9 1.1-.7 1.3-.5 1.5-.2 1.7 0 1.9 .2 2 .5 2 .7 2.1 .9 2 1.1 1.9 1.2 1.7 1.4 1.6 1.5 1.4 1.5 1.1 1.5 .8 1.5 .5 1.5 .2 1.4-.1z" fill-rule="evenodd"/>
<path d="M145.3 248.7l1.3-.8 41.4-21.1-1.3 .9z" stroke="#4a4a4a" stroke-width="0.68"/>
<path d="M140.2 230.7l-1.8-.4 41.4-21 1.7 .3z" stroke="#4a4a4a" stroke-width="0.68"/>
<path d="M151.1 253.2l.5-1.8 41.4-21.1-.6 1.8z" stroke="#4a4a4a" stroke-width="0.68"/>
<path d="M142.1 225.9l-1.8-1.4 41.3-21 1.8 1.4z" stroke="#4a4a4a" stroke-width="0.68"/>
<path d="M156.7 254.2l-.3-2.3 41.4-21.1 .3 2.3z" stroke="#4a4a4a" stroke-width="0.68"/>
<path d="M144.5 221.8l-2.3 .9 41.3-21 2.4-1z" stroke="#4a4a4a" stroke-width="0.68"/>
<path d="M159.1 253.3l1.9-1.8 41.3-21.1-1.8 1.8z" stroke="#4a4a4a" stroke-width="0.68"/>
<path d="M145.9 224l-1.4-2.2 41.4-21.1 1.4 2.2z" stroke="#4a4a4a" stroke-width="0.68"/>
<path d="M147.1 224l-1.2 0 41.4-21.1 1.2 0z" stroke="#4a4a4a" stroke-width="0.68"/>
<path d="M161 251.5l-1.1-2.3 41.3-21.1 1.1 2.3z" stroke="#4a4a4a" stroke-width="0.68"/>
<path d="M159.9 249.2l.6-1.2 41.3-21.1-.6 1.2z" stroke="#4a4a4a" stroke-width="0.68"/>
<path d="M150.2 222.8l-2.9-1 41.3-21 2.9 .9z" stroke="#4a4a4a" stroke-width="0.68"/>
<path d="M150.9 225.2l-.7-2.4 41.3-21.1 .7 2.4z" stroke="#4a4a4a" stroke-width="0.68"/>
<path d="M162.3 248.9l.6-3.2 41.3-21.1-.6 3.3z" stroke="#4a4a4a" stroke-width="0.68"/>
<path d="M152.2 226l-1.3-.8 41.3-21.1 1.3 .9z" stroke="#4a4a4a" stroke-width="0.68"/>
<path d="M162.9 245.7l-1.7-1.8 41.4-21 1.6 1.7z" stroke="#4a4a4a" stroke-width="0.68"/>
<path d="M161.2 243.9l0-1.6 41.3-21.1 .1 1.7z" stroke="#4a4a4a" stroke-width="0.68"/>
<path d="M156.9 230.9l-1.1-1.5 41.3-21.1 1.1 1.5z" stroke="#4a4a4a" stroke-width="0.68"/>
<path d="M160.1 237.3l-.6-1.8 41.3-21 .7 1.7z" stroke="#4a4a4a" stroke-width="0.68"/>
<path d="M155.9 227.3l-2.8-2.6 41.4-21.1 2.8 2.6z" stroke="#4a4a4a" stroke-width="0.68"/>
<path d="M155.8 229.4l.1-2.1 41.4-21.1-.2 2.1z" stroke="#4a4a4a" stroke-width="0.68"/>
<path d="M161.9 238.1l-1.8-.8 41.4-21.1 1.8 .9z" stroke="#4a4a4a" stroke-width="0.68"/>
<path d="M162.8 242l-.9-3.9 41.4-21 .8 3.9z" stroke="#4a4a4a" stroke-width="0.68"/>
<path d="M158.4 230.5l-1.5 .4 41.3-21.1 1.6-.3z" stroke="#4a4a4a" stroke-width="0.68"/>
<path d="M159.5 235.5l1-1.3 41.3-21-1 1.3z" stroke="#4a4a4a" stroke-width="0.68"/>
<path d="M160.5 234.2l-2.1-3.7 41.4-21 2 3.7z" stroke="#4a4a4a" stroke-width="0.68"/>
<path d="M157.5 251.5l1.6 1.8 1.9-1.8-1.1-2.3 .6-1.2 1.8 .9 .6-3.2-1.7-1.8 0-1.6 1.6-.3-.9-3.9-1.8-.8-.6-1.8 1-1.3-2.1-3.7-1.5 .4-1.1-1.5 .1-2.1-2.8-2.6-.9 1.3-1.3-.8-.7-2.4-2.9-1-.2 2.2-1.2 0-1.4-2.2-2.3 .9 .7 2.4-.8 .8-1.8-1.4-1.3 2.6 1.4 2.1-.2 1.5-1.8-.4 .1 3.7 1.8 1.3 .4 1.8-1.4 .8 1.5 3.9 1.7 .3 1 1.6-.7 1.8 2.5 3.2 1.3-.8 1.3 1.1 .2 2.4 3 1.8 .5-1.8 1.4 .4 1 2.4 2.7 0-.3-2.3z" fill-rule="evenodd"/>
<path d="M148.9 255.7l1-.6 .8-.9 .7-1 .6-1.3 .4-1.4 .2-1.6 0-1.6-.2-1.8-.3-1.8-.5-1.8-.7-1.8-.8-1.8-1-1.7-1-1.6-1.2-1.5-1.3-1.4-1.3-1.1-1.4-1-1.3-.7-1.4-.5-1.3-.3-1.3-.1-1.2 .2-1.1 .4 8.5-4.4 1.1-.4 1.2-.2 1.3 .1 1.4 .3 1.3 .5 1.4 .8 1.4 .9 1.3 1.2 1.2 1.3 1.2 1.5 1.1 1.6 1 1.7 .8 1.8 .6 1.8 .6 1.9 .3 1.8 .1 1.7 0 1.7-.2 1.5-.4 1.4-.5 1.3-.7 1.1-.9 .8-1 .7z" stroke="none"/>
<path d="M148.9 255.7l8.5-4.3 1-.7 .9-.8 .7-1.1 .5-1.3 .4-1.4 .2-1.5 0-1.7-.1-1.7-.3-1.8-.6-1.9-.6-1.8-.8-1.8-1-1.7-1.1-1.6-1.2-1.5-1.2-1.3-1.3-1.2-1.4-.9-1.4-.8-1.3-.5-1.4-.3-1.3-.1-1.2 .2-1.1 .4-8.5 4.4" fill="none"/>
<path d="M148.9 255.7l1.2-.8 .9-1.1 .8-1.4 .5-1.6 .3-1.9 0-2-.3-2.1-.5-2.2-.7-2.2-1-2.1-1.2-2.1-1.3-1.8-1.5-1.7-1.5-1.5-1.7-1.2-1.6-.8-1.6-.6-1.6-.2-1.5 .1-1.3 .5-1.2 .8-1 1.1-.7 1.4-.5 1.7-.3 1.8 0 2 .2 2.1 .6 2.2 .7 2.2 1 2.2 1.1 2 1.4 1.9 1.4 1.7 1.6 1.4 1.6 1.2 1.7 .9 1.6 .5 1.6 .2 1.5-.1z" fill-rule="evenodd"/>
<path d="M117.7 263.3l1.1-1.1 18.5-9.4-1.1 1.1z" stroke="none"/><path d="M136.2 253.9l1.1-1.1M117.7 263.3l18.5-9.4M118.8 262.2l18.5-9.4" fill="none"/>
<path d="M112.4 249.5l-1.6 .3 18.5-9.4 1.6-.3z" stroke="none"/><path d="M130.9 240.1l-1.6 .3M112.4 249.5l18.5-9.4M110.8 249.8l18.5-9.4" fill="none"/>
<path d="M123.9 269.9l.5-1.4 18.6-9.4-.6 1.3z" stroke="none"/><path d="M142.4 260.4l.6-1.3M123.9 269.9l18.5-9.5" fill="none"/>
<path d="M110.6 241.3l-1.5-.4 18.6-9.4 1.4 .3z" stroke="none"/><path d="M129.1 231.8l-1.4-.3M109.1 240.9l18.6-9.4" fill="none"/>
<path d="M124.4 268.5l.3-2 18.6-9.5-.3 2.1z" stroke="none"/><path d="M143 259.1l.3-2.1M124.7 266.5l18.6-9.5" fill="none"/>
<path d="M112.4 242.2l-1.8-.9 18.5-9.5 1.8 1z" stroke="none"/><path d="M130.9 232.8l-1.8-1M112.4 242.2l18.5-9.4" fill="none"/>
<path d="M130 271.8l1.2-.7 18.5-9.4-1.2 .7z" stroke="none"/><path d="M148.5 262.4l1.2-.7M130 271.8l18.5-9.4M131.2 271.1l18.5-9.4" fill="none"/>
<path d="M112.4 234.3l-1.3 .5 18.6-9.4 1.3-.5z" stroke="none"/><path d="M131 224.9l-1.3 .5M112.4 234.3l18.6-9.4M111.1 234.8l18.6-9.4" fill="none"/>
<path d="M123.5 251.7l0 0 0 0 0 0 0 0 0 .1 0 0 0 0 0 0 0 0 0 0 0 0 0 0 0 .1 0 0 0 0 0 0 0 0 0 0 .1 0 0 0 0 0 0 0 0 0 0 0 18.5-9.4 0 0 0 0 0 0 0 0 0 0 0 0 0-.1 0 0 0 0-.1 0 0 0 0 0 0 0 0 0 0 0 0-.1 0 0 0 0 0 0 0 0 0 0 0 0 0 0 0 0z" stroke="none"/>
<path d="M131.2 271.1l-.2-1.9 18.5-9.4 .2 1.9z" stroke="none"/><path d="M149.7 261.7l-.2-1.9M131.2 271.1l18.5-9.4" fill="none"/>
<path d="M113.8 235.6l-1.4-1.3 18.6-9.4 1.4 1.2z" stroke="none"/><path d="M132.4 226.1l-1.4-1.2M112.4 234.3l18.6-9.4" fill="none"/>
<path d="M131 269.2l-.7-2.4 18.6-9.4 .6 2.4z" stroke="none"/><path d="M149.5 259.8l-.6-2.4M130.3 266.8l18.6-9.4" fill="none"/>
<path d="M115.4 237.5l-1.6-1.9 18.6-9.5 1.5 2z" stroke="none"/><path d="M133.9 228.1l-1.5-2M115.4 237.5l18.5-9.4" fill="none"/>
<path d="M123.5 251.7l18.5-9.4 0 0 0 0 0 0 0 0 0 0 0 0 0 0 0 0 0 .1 0 0 0 0 0 0 0 0 0 0 .1 0 0 0 0 0 0 .1 0 0 0 0 0 0 0 0 0 0 0 0-18.5 9.4" fill="none" stroke-width="0.72"/>
<path d="M130.3 266.8l.6-.6 18.5-9.4-.5 .6z" stroke="none"/><path d="M148.9 257.4l.5-.6M130.3 266.8l18.6-9.4M130.9 266.2l18.5-9.4" fill="none"/>
<path d="M116.2 237.4l-.8 .1 18.5-9.4 .8-.2z" stroke="none"/><path d="M134.7 227.9l-.8 .2M116.2 237.4l18.5-9.5M115.4 237.5l18.5-9.4" fill="none"/>
<path d="M136 268.8l.4-1.6 18.5-9.5-.4 1.7z" stroke="none"/><path d="M154.5 259.4l.4-1.7M136 268.8l18.5-9.4M136.4 267.2l18.5-9.5" fill="none"/>
<path d="M118.7 232.4l-1.6-.6 18.5-9.4 1.6 .5z" stroke="none"/><path d="M137.2 222.9l-1.6-.5M118.7 232.4l18.5-9.5M117.1 231.8l18.5-9.4" fill="none"/>
<path d="M135.5 265.3l-1.4-2.2 18.5-9.4 1.4 2.1z" stroke="none"/><path d="M154 255.8l-1.4-2.1M134.1 263.1l18.5-9.4" fill="none"/>
<path d="M120.6 236.6l-.9-2.4 18.5-9.4 .9 2.4z" stroke="none"/><path d="M139.1 227.2l-.9-2.4M120.6 236.6l18.5-9.4" fill="none"/>
<path d="M136.4 267.2l-.9-1.9 18.5-9.5 .9 1.9z" stroke="none"/><path d="M154.9 257.7l-.9-1.9M136.4 267.2l18.5-9.5" fill="none"/>
<path d="M119.7 234.2l-1-1.8 18.5-9.5 1 1.9z" stroke="none"/><path d="M138.2 224.8l-1-1.9M118.7 232.4l18.5-9.5" fill="none"/>
<path d="M134.1 263.1l.2-1 18.5-9.4-.2 1z" stroke="none"/><path d="M152.6 253.7l.2-1M134.1 263.1l18.5-9.4" fill="none"/>
<path d="M121.5 237.1l-.9-.5 18.5-9.4 .9 .5z" stroke="none"/><path d="M140 227.7l-.9-.5M120.6 236.6l18.5-9.4" fill="none"/>
<path d="M134.3 262.1l.4-.7 18.6-9.5-.5 .8z" stroke="none"/><path d="M152.8 252.7l.5-.8M134.7 261.4l18.6-9.5" fill="none"/>
<path d="M122.4 237.2l-.9-.1 18.5-9.4 .9 0z" stroke="none"/><path d="M140.9 227.7l-.9 0M122.4 237.2l18.5-9.5" fill="none"/>
<path d="M135.1 256.4l-.4-1.2 18.6-9.4 .3 1.2z" stroke="none"/><path d="M153.6 247l-.3-1.2M135.1 256.4l18.5-9.4" fill="none"/>
<path d="M127.4 240.8l-.8-1 18.5-9.5 .8 1z" stroke="none"/><path d="M145.9 231.3l-.8-1M126.6 239.8l18.5-9.5" fill="none"/>
<path d="M138 262.7l.6-1.5 18.5-9.4-.6 1.5z" stroke="none"/><path d="M156.5 253.3l.6-1.5M138 262.7l18.5-9.4" fill="none"/>
<path d="M124.8 234.1l-1.6-.3 18.5-9.5 1.6 .4z" stroke="none"/><path d="M143.3 224.7l-1.6-.4M123.2 233.8l18.5-9.5" fill="none"/>
<path d="M136.8 257.7l-1.7-1.3 18.5-9.4 1.8 1.3z" stroke="none"/><path d="M155.4 248.3l-1.8-1.3M135.1 256.4l18.5-9.4" fill="none"/>
<path d="M126.6 239.8l0-2.2 18.5-9.5 0 2.2z" stroke="none"/><path d="M145.1 230.3l0-2.2M126.6 239.8l18.5-9.5" fill="none"/>
<path d="M134.7 255.2l0-1.1 18.6-9.5 0 1.2z" stroke="none"/><path d="M153.3 245.8l0-1.2M134.7 254.1l18.6-9.5" fill="none"/>
<path d="M128.3 241.4l-.9-.6 18.5-9.5 .9 .7z" stroke="none"/><path d="M146.8 232l-.9-.7M128.3 241.4l18.5-9.4" fill="none"/>
<path d="M138.6 261.2l-.4-2.1 18.5-9.4 .4 2.1z" stroke="none"/><path d="M157.1 251.8l-.4-2.1M138.2 259.1l18.5-9.4" fill="none"/>
<path d="M126.3 235.7l-1.5-1.6 18.5-9.4 1.5 1.5z" stroke="none"/><path d="M144.8 226.2l-1.5-1.5M126.3 235.7l18.5-9.5" fill="none"/>
<path d="M138.2 259.1l-1.4-1.4 18.6-9.4 1.3 1.4z" stroke="none"/><path d="M156.7 249.7l-1.3-1.4M138.2 259.1l18.5-9.4" fill="none"/>
<path d="M126.6 237.6l-.3-1.9 18.5-9.5 .3 1.9z" stroke="none"/><path d="M145.1 228.1l-.3-1.9M126.3 235.7l18.5-9.5" fill="none"/>
<path d="M132.9 248.5l-.7-1.1 18.5-9.4 .8 1z" stroke="none"/><path d="M151.5 239l-.8-1M132.9 248.5l18.6-9.5" fill="none"/>
<path d="M132.2 247.4l-.4-1.2 18.5-9.5 .4 1.3z" stroke="none"/><path d="M150.7 238l-.4-1.3M131.8 246.2l18.5-9.5" fill="none"/>
<path d="M134.6 248.6l-1.7-.1 18.6-9.5 1.7 .2z" stroke="none"/><path d="M153.2 239.2l-1.7-.2M132.9 248.5l18.6-9.5" fill="none"/>
<path d="M131.8 246.2l.9-1.5 18.5-9.4-.9 1.4z" stroke="none"/><path d="M150.3 236.7l.9-1.4M131.8 246.2l18.5-9.5" fill="none"/>
<path d="M136.3 253.8l1.1-.6 18.5-9.5-1.1 .7z" stroke="none"/><path d="M154.8 244.4l1.1-.7M136.3 253.8l18.5-9.4M137.4 253.2l18.5-9.5" fill="none"/>
<path d="M130.6 239.8l-1.2 .5 18.6-9.4 1.1-.5z" stroke="none"/><path d="M149.1 230.4l-1.1 .5M130.6 239.8l18.5-9.4M129.4 240.3l18.6-9.4" fill="none"/>
<path d="M136.1 249.1l-1.5-.5 18.6-9.4 1.4 .5z" stroke="none"/><path d="M154.6 239.7l-1.4-.5M136.1 249.1l18.5-9.4" fill="none"/>
<path d="M132.7 244.7l.4-1.4 18.5-9.5-.4 1.5z" stroke="none"/><path d="M151.2 235.3l.4-1.5M133.1 243.3l18.5-9.5" fill="none"/>
<path d="M137.4 253.2l-.2-2.1 18.5-9.4 .2 2z" stroke="none"/><path d="M155.9 243.7l-.2-2M137.4 253.2l18.5-9.5" fill="none"/>
<path d="M132.1 241.2l-1.5-1.4 18.5-9.4 1.6 1.4z" stroke="none"/><path d="M150.7 231.8l-1.6-1.4M130.6 239.8l18.5-9.4" fill="none"/>
<path d="M137.2 251.1l-1.1-2 18.5-9.4 1.1 2z" stroke="none"/><path d="M155.7 241.7l-1.1-2M136.1 249.1l18.5-9.4" fill="none"/>
<path d="M133.1 243.3l-1-2.1 18.6-9.4 .9 2z" stroke="none"/><path d="M151.6 233.8l-.9-2M133.1 243.3l18.5-9.5" fill="none"/>
<path d="M130.3 266.8l.6-.6 .8-.1 1.6 1.9 1.4 1.3 1.3-.5 .4-1.6-.9-1.9-1.4-2.2 .2-1 .4-.7 1.8 .9 1.5 .4 .6-1.5-.4-2.1-1.4-1.4-1.7-1.3-.4-1.2 0-1.1 1.6-.3 1.1-.6-.2-2.1-1.1-2-1.5-.5-1.7-.1-.7-1.1-.4-1.2 .9-1.5 .4-1.4-1-2.1-1.5-1.4-1.2 .5-1.1 1.1-.9-.6-.8-1 0-2.2-.3-1.9-1.5-1.6-1.6-.3-.5 1.3-.3 2.1-.9-.1-.9-.5-.9-2.4-1-1.8-1.6-.6-1.2 .7 .2 1.9 .7 2.4-.6 .6-.8 .1-1.6-1.9-1.4-1.3-1.3 .5-.4 1.7 .9 1.8 1.4 2.2-.1 1-.5 .7-1.8-.9-1.5-.4-.6 1.5 .4 2.1 1.4 1.4 1.7 1.3 .4 1.2 0 1.1-1.6 .3-1.1 .7 .2 2 1.1 2 1.5 .5 1.7 .1 .7 1.1 .4 1.2-.9 1.5-.4 1.4 1 2.1 1.5 1.4 1.2-.5 1.1-1.1 .9 .7 .8 .9 0 2.2 .3 2 1.5 1.5 1.6 .4 .5-1.4 .3-2 .9 0 .9 .5 .9 2.4 1 1.8 1.6 .6 1.2-.7-.2-1.9zM123.6 251.9l0 0 0 0 0 0 0 0 0 0 0-.1 0 0 0 0 0 0 0 0 0 0 0 0 0-.1 0 0 0 0-.1 0 0 0 0 0 0 0 0 0 0 0 0 0 0 0 0 .1 0 0 0 0 0 0 0 0 0 0 0 0 0 .1 0 0 0 0 0 0 0 0 .1 0 0 0 0 0 0 0z" fill-rule="evenodd"/>
<path d="M104.8 273.2l.7-.5 .6-.6 .5-.8 .4-.8 .2-1 .2-1.1 0-1.2-.1-1.2-.3-1.3-.3-1.2-.5-1.3-.6-1.3-.6-1.2-.8-1.1-.8-1-.9-1-.9-.8-1-.6-.9-.6-1-.3-.9-.2-.9-.1-.9 .1-.7 .3 23.5-11.9 .8-.3 .8-.2 .9 .1 .9 .2 1 .3 1 .6 .9 .6 .9 .9 .9 .9 .8 1 .8 1.2 .7 1.2 .5 1.2 .5 1.3 .4 1.3 .2 1.2 .1 1.2 0 1.2-.1 1.1-.3 1-.4 .9-.5 .7-.6 .6-.7 .5z" stroke="none"/>
<path d="M104.8 273.2l23.5-12 .7-.5 .6-.6 .5-.7 .4-.9 .3-1 .1-1.1 0-1.2-.1-1.2-.2-1.2-.4-1.3-.5-1.3-.5-1.2-.7-1.2-.8-1.2-.8-1-.9-.9-.9-.9-.9-.6-1-.6-1-.3-.9-.2-.9-.1-.8 .2-.8 .3-23.5 11.9" fill="none"/>
<path d="M104.8 273.2l.8-.6 .7-.8 .5-1 .4-1.1 .2-1.3 0-1.4-.2-1.5-.4-1.5-.5-1.6-.7-1.5-.8-1.4-.9-1.3-1-1.2-1.1-1-1.2-.8-1.1-.7-1.2-.3-1.1-.2-1 .1-.9 .3-.9 .6-.6 .8-.6 1-.3 1.1-.2 1.3 0 1.4 .2 1.5 .3 1.5 .5 1.6 .7 1.5 .8 1.4 1 1.3 1 1.2 1.1 1 1.1 .8 1.2 .6 1.1 .4 1.1 .2 1.1-.1z" fill-rule="evenodd"/>
<path d="M56.3 292.8l.8-.6 40.6-20.8-.8 .7z" stroke="#4a4a4a" stroke-width="0.68"/>
<path d="M51.8 280.8l-1.1 0 40.6-20.7 1.1 0z" stroke="#4a4a4a" stroke-width="0.68"/>
<path d="M60.1 295.5l.4-1.2 40.6-20.7-.3 1.2z" stroke="#4a4a4a" stroke-width="0.68"/>
<path d="M52.4 277l-1.2-.6 40.6-20.7 1.2 .6z" stroke="#4a4a4a" stroke-width="0.68"/>
<path d="M63.9 296.1l-.3-1.6 40.7-20.7 .2 1.6z" stroke="#4a4a4a" stroke-width="0.68"/>
<path d="M54.5 274.8l-1.1-1.2 40.6-20.7 1.1 1.2z" stroke="#4a4a4a" stroke-width="0.68"/>
<path d="M55.2 274.5l-.7 .3 40.6-20.7 .7-.3z" stroke="#4a4a4a" stroke-width="0.68"/>
<path d="M65.4 295.4l1.3-1.1 40.6-20.7-1.2 1.1z" stroke="#4a4a4a" stroke-width="0.68"/>
<path d="M56.7 272.9l-1.8 0 40.7-20.7 1.8 0z" stroke="#4a4a4a" stroke-width="0.68"/>
<path d="M66.7 294.3l-.7-1.6 40.6-20.7 .7 1.6z" stroke="#4a4a4a" stroke-width="0.68"/>
<path d="M66 292.7l.4-.7 40.6-20.7-.4 .7z" stroke="#4a4a4a" stroke-width="0.68"/>
<path d="M57.5 274.5l-.8-1.6 40.7-20.7 .7 1.6z" stroke="#4a4a4a" stroke-width="0.68"/>
<path d="M58.3 274.7l-.8-.2 40.6-20.7 .9 .2z" stroke="#4a4a4a" stroke-width="0.68"/>
<path d="M67.6 292.6l.5-2 40.6-20.7-.5 2z" stroke="#4a4a4a" stroke-width="0.68"/>
<path d="M68.1 290.6l-1.1-1.3 40.6-20.7 1.1 1.3z" stroke="#4a4a4a" stroke-width="0.68"/>
<path d="M67 289.3l0-1.1 40.7-20.7-.1 1.1z" stroke="#4a4a4a" stroke-width="0.68"/>
<path d="M60.6 274.6l-1.9-1.1 40.6-20.7 2 1.1z" stroke="#4a4a4a" stroke-width="0.68"/>
<path d="M61.7 276.8l-.8-.7 40.6-20.7 .9 .7z" stroke="#4a4a4a" stroke-width="0.68"/>
<path d="M60.9 276.1l-.3-1.5 40.7-20.7 .2 1.5z" stroke="#4a4a4a" stroke-width="0.68"/>
<path d="M66.5 285l-.3-1.2 40.6-20.7 .4 1.1z" stroke="#4a4a4a" stroke-width="0.68"/>
<path d="M64.7 280.5l-.7-1.1 40.6-20.7 .7 1.1z" stroke="#4a4a4a" stroke-width="0.68"/>
<path d="M68.1 288.2l-.3-2.6 40.6-20.7 .4 2.6z" stroke="#4a4a4a" stroke-width="0.68"/>
<path d="M67.8 285.6l-1.3-.6 40.7-20.8 1.2 .7z" stroke="#4a4a4a" stroke-width="0.68"/>
<path d="M64 279.4l.3-1.2 40.6-20.7-.3 1.2z" stroke="#4a4a4a" stroke-width="0.68"/>
<path d="M66.2 283.8l.7-.8 40.7-20.7-.8 .8z" stroke="#4a4a4a" stroke-width="0.68"/>
<path d="M64.3 278.2l-1.8-2 40.7-20.8 1.7 2.1z" stroke="#4a4a4a" stroke-width="0.68"/>
<path d="M65.8 280.5l-1.1 0 40.6-20.7 1.1 0z" stroke="#4a4a4a" stroke-width="0.68"/>
<path d="M66.9 283l-1.1-2.5 40.6-20.7 1.2 2.5z" stroke="#4a4a4a" stroke-width="0.68"/>
<path d="M56.2 278.3l-.4 .3-.4 .4-.4 .5-.2 .6-.2 .6-.1 .7 0 .8 .1 .8 .1 .9 .3 .8 .3 .9 .4 .8 .4 .8 .5 .8 .6 .6 .5 .7 .7 .5 .6 .5 .6 .3 .7 .3 .6 .1 .6 0 .6-.1 .5-.2 4.3-2.1-.6 .2-.5 0-.6 0-.6-.1-.7-.3-.6-.3-.7-.5-.6-.5-.6-.6-.5-.7-.5-.8-.5-.8-.3-.8-.4-.9-.2-.8-.2-.8 0-.9 0-.7 .1-.8 .2-.6 .2-.6 .3-.5 .4-.4 .5-.3z" stroke="none" fill="#ddd"/>
<path d="M56.2 278.3l4.3-2.2-.5 .3-.4 .4-.3 .5-.2 .6-.2 .6-.1 .8 0 .7 0 .9 .2 .8 .2 .8 .4 .9 .3 .8 .5 .8 .5 .8 .5 .7 .6 .6 .6 .5 .7 .5 .6 .3 .7 .3 .6 .1 .6 0 .5 0 .6-.2-4.3 2.1" fill="none" stroke-width="0.63"/>
<path d="M64.3 294.2l1.1 1.2 1.3-1.1-.7-1.6 .4-.7 1.2 .6 .5-2-1.1-1.3 0-1.1 1.1 0-.3-2.6-1.3-.6-.3-1.2 .7-.8-1.1-2.5-1.1 0-.7-1.1 .3-1.2-1.8-2-.8 .6-.8-.7-.3-1.5-1.9-1.1-.4 1.2-.8-.2-.8-1.6-1.8 0 .3 1.6-.7 .3-1.1-1.2-1.3 1.1 .7 1.6-.4 .7-1.2-.6-.5 2 1.1 1.3 0 1.1-1.1 0 .3 2.6 1.3 .6 .3 1.2-.7 .8 1.1 2.5 1.1 0 .7 1.1-.3 1.2 1.8 2 .8-.6 .8 .7 .3 1.5 1.9 1.1 .4-1.2 .8 .2 .8 1.6 1.8 0-.3-1.6zM62.6 290.7l.5-.3 .5-.6 .3-.6 .3-.8 .1-.8 0-1-.1-1-.3-1-.3-1-.5-1-.5-1-.6-.8-.7-.8-.7-.7-.8-.6-.8-.4-.7-.2-.8-.1-.7 0-.6 .3-.5 .3-.5 .6-.3 .6-.3 .8-.1 .8 0 1 .1 1 .3 1 .3 1 .5 1 .5 1 .6 .8 .7 .8 .7 .7 .8 .6 .8 .4 .7 .2 .8 .1 .7 0z" fill-rule="evenodd"/>
<path d="M256.9 201.8l1.3-.9 1.2-1.1 .9-1.4 .7-1.7 .5-1.9 .3-2 0-2.2-.2-2.3-.4-2.4-.7-2.4-.9-2.5-1.1-2.3-1.2-2.3-1.5-2.1-1.5-2-1.7-1.7-1.7-1.6-1.8-1.2-1.9-1-1.8-.7-1.7-.4-1.7-.1-1.6 .3-1.5 .5-1.3 .9-1.1 1.1-1 1.4-.7 1.7-.5 1.9-.3 2 0 2.2 .2 2.3 .5 2.4 .6 2.4 .9 2.5 1.1 2.3 1.3 2.3 1.4 2.1 1.6 2 1.6 1.7 1.8 1.6 1.8 1.2 1.8 1 1.8 .7 1.8 .4 1.7 .1 1.6-.3zM255 197.9l1-.7 .9-.9 .7-1.1 .6-1.3 .3-1.4 .3-1.6 0-1.7-.2-1.9-.3-1.8-.6-1.9-.6-1.9-.9-1.8-1-1.8-1.1-1.6-1.2-1.6-1.3-1.4-1.4-1.1-1.4-1-1.4-.8-1.4-.6-1.4-.3-1.3 0-1.3 .2-1.1 .4-1 .7-.9 .9-.7 1.1-.6 1.3-.4 1.4-.2 1.6 0 1.7 .1 1.9 .4 1.8 .5 1.9 .7 1.9 .8 1.8 1 1.8 1.1 1.6 1.3 1.6 1.3 1.4 1.3 1.1 1.4 1 1.5 .8 1.4 .6 1.4 .3 1.3 0 1.2-.2z" fill-rule="evenodd" stroke-width="0.95"/>
<path d="M264.8 160.1l-.9 .6-.7 .8-.7 .9-.5 1.1-.3 1.3-.2 1.4 0 1.5 .2 1.6 .3 1.6 .4 1.6 .6 1.6 .7 1.6 .9 1.6 1 1.4 1 1.4 1.2 1.1 1.1 1.1 1.3 .8 1.2 .7 1.2 .5 1.2 .3 1.2 0 1-.2 1-.3 8.6-4.4-1 .4-1.1 .1-1.1 0-1.2-.3-1.2-.4-1.3-.7-1.2-.9-1.2-1-1.1-1.2-1.1-1.3-.9-1.5-.9-1.5-.7-1.6-.6-1.6-.5-1.7-.3-1.6-.1-1.6 0-1.5 .2-1.4 .3-1.2 .5-1.2 .6-.9 .8-.8 .9-.6z" stroke="none" fill="#a0a0a0"/>
<path d="M264.8 160.1l8.6-4.4-.9 .6-.8 .8-.6 .9-.5 1.2-.3 1.2-.2 1.4 0 1.5 .1 1.6 .3 1.6 .5 1.7 .6 1.6 .7 1.6 .9 1.5 .9 1.5 1.1 1.3 1.1 1.2 1.2 1 1.2 .9 1.3 .7 1.2 .4 1.2 .3 1.1 0 1.1-.1 1-.4-8.6 4.4" fill="none"/>
<path d="M265.2 160l-1 1.2 6-3.1 1-1.1z" fill="#f0f0f0" stroke-width="0.72"/>
<path d="M263.2 163.4l-.4 1.9 6-3.1 .3-1.8z" fill="#f0f0f0" stroke-width="0.72"/>
<path d="M262.9 168.4l.4 2.2 6-3-.4-2.2z" fill="#f0f0f0" stroke-width="0.72"/>
<path d="M264.5 174l1.1 2.1 6-3-1.1-2.2z" fill="#f0f0f0" stroke-width="0.72"/>
<path d="M267.6 179.1l1.6 1.6 6-3-1.6-1.7z" fill="#f0f0f0" stroke-width="0.72"/>
<path d="M271.7 182.6l1.6 .8 6-3-1.7-.8z" fill="#f0f0f0" stroke-width="0.72"/>
<path d="M275.8 184l1.5-.2 6-3.1-1.5 .2z" fill="#f0f0f0" stroke-width="0.72"/>
<path d="M278.2 186.3l1.1-.6 .9-1 .7-1.1 .6-1.3 .4-1.6 .2-1.6 .1-1.8-.2-1.9-.4-1.9-.5-1.9-.7-2-.9-1.9-1-1.8-1.2-1.7-1.2-1.6-1.4-1.4-1.4-1.3-1.5-1-1.4-.8-1.5-.6-1.4-.3-1.4 0-1.3 .2-1.1 .4 8.5-4.3 1.2-.5 1.3-.2 1.3 .1 1.5 .3 1.4 .5 1.5 .8 1.5 1.1 1.4 1.2 1.3 1.4 1.3 1.6 1.1 1.7 1 1.9 .9 1.9 .7 1.9 .6 2 .3 1.9 .2 1.8 0 1.8-.2 1.7-.4 1.5-.6 1.3-.8 1.2-.9 .9-1 .7z" stroke="none" fill="#c4c4c4"/>
<path d="M278.2 186.3l8.6-4.3 1-.7 .9-.9 .8-1.2 .6-1.3 .4-1.5 .2-1.7 0-1.8-.2-1.8-.3-1.9-.6-2-.7-1.9-.9-1.9-1-1.9-1.1-1.7-1.3-1.6-1.3-1.4-1.4-1.2-1.5-1.1-1.5-.8-1.4-.5-1.5-.3-1.3-.1-1.3 .2-1.2 .5-8.5 4.3" fill="none" stroke-width="0.99"/>
<path d="M280.4 185.1l1.5-1.6 6-3.1-1.5 1.6z" fill="#fafafa" stroke-width="0.72"/>
<path d="M268.1 156.5l-2.1 .2 6-3 2.1-.2z" fill="#fafafa" stroke-width="0.72"/>
<path d="M282.9 181.1l.5-2.6 6-3.1-.5 2.7z" fill="#fafafa" stroke-width="0.72"/>
<path d="M273.1 158.2l-2.4-1.2 6-3 2.4 1.2z" fill="#fafafa" stroke-width="0.72"/>
<path d="M283.3 175.3l-.6-3.2 6-3.1 .6 3.2z" fill="#fafafa" stroke-width="0.72"/>
<path d="M277.9 162.5l-2.3-2.3 6-3.1 2.2 2.4z" fill="#fafafa" stroke-width="0.72"/>
<path d="M281.5 168.6l-1.6-3 6-3.1 1.6 3.1z" fill="#fafafa" stroke-width="0.72"/>
<path d="M278.2 186.3l1.3-.8 1-1.2 .8-1.5 .5-1.7 .3-2 0-2.2-.2-2.2-.6-2.4-.8-2.3-1-2.3-1.2-2.2-1.5-2-1.5-1.8-1.7-1.5-1.8-1.3-1.7-.9-1.8-.6-1.6-.2-1.6 .1-1.4 .5-1.3 .9-1 1.2-.8 1.4-.6 1.8-.3 2 0 2.1 .3 2.3 .5 2.3 .8 2.4 1.1 2.2 1.2 2.2 1.4 2 1.6 1.8 1.7 1.6 1.7 1.3 1.8 .9 1.7 .6 1.7 .2 1.6-.1zM277 184.1l1.1-.8 .9-1 .6-1.2 .5-1.5 .2-1.6 0-1.8-.2-1.9-.4-2-.7-2-.9-1.9-1-1.8-1.2-1.7-1.3-1.5-1.4-1.3-1.5-1.1-1.5-.8-1.4-.5-1.5-.2-1.3 .2-1.2 .4-1 .7-.9 1-.7 1.3-.4 1.4-.3 1.7 0 1.8 .3 1.9 .4 2 .7 1.9 .8 1.9 1.1 1.9 1.2 1.7 1.3 1.5 1.4 1.3 1.5 1 1.4 .8 1.5 .5 1.4 .2 1.3-.1z" fill-rule="evenodd" stroke-width="1.03"/>
<path d="M285.7 149.2l-1.6 .4 8.5-4.3 1.6-.4z" stroke="none"/><path d="M294.2 144.9l-1.6 .4M284.1 149.6l8.5-4.3" fill="none"/>
<path d="M294.8 169.2l1.6-1.4 8.5-4.3-1.6 1.3z" stroke="none"/><path d="M303.3 164.8l1.6-1.3M294.8 169.2l8.5-4.4M296.4 167.8l8.5-4.3" fill="none"/>
<path d="M299.3 176.5l1.1-1.4 8.5-4.4-1 1.4z" stroke="none"/><path d="M307.9 172.1l1-1.4M299.3 176.5l8.6-4.4" fill="none"/>
<path d="M287.9 149.2l-2.2 0 8.5-4.3 2.3-.1z" stroke="none"/><path d="M296.5 144.8l-2.3 .1M287.9 149.2l8.6-4.4" fill="none"/>
<path d="M285.1 141.5l-1.8-.3 8.5-4.4 1.9 .4z" stroke="none"/><path d="M293.7 137.2l-1.9-.4M283.3 141.2l8.5-4.4" fill="none"/>
<path d="M300.4 175.1l1-2.2 8.5-4.4-1 2.2z" stroke="none"/><path d="M308.9 170.7l1-2.2M301.4 172.9l8.5-4.4" fill="none"/>
<path d="M287.6 142.5l-2.5-1 8.6-4.3 2.4 .9z" stroke="none"/><path d="M296.1 138.1l-2.4-.9M287.6 142.5l8.5-4.4" fill="none"/>
<path d="M305.9 181l.5-2 8.6-4.3-.6 1.9z" stroke="none"/><path d="M314.4 176.6l.6-1.9M305.9 181l8.5-4.4" fill="none"/>
<path d="M306.4 179l.3-2.7 8.6-4.4-.3 2.8z" stroke="none"/><path d="M315 174.7l.3-2.8M306.7 176.3l8.6-4.4" fill="none"/>
<path d="M286.4 134.9l-1.9-1.1 8.5-4.3 1.9 1.1z" stroke="none"/><path d="M294.9 130.6l-1.9-1.1M284.5 133.8l8.5-4.3" fill="none"/>
<path d="M288.8 136.7l-2.4-1.8 8.5-4.3 2.4 1.8z" stroke="none"/><path d="M297.3 132.4l-2.4-1.8M288.8 136.7l8.5-4.3" fill="none"/>
<path d="M312.4 183.1l0-2.3 8.5-4.4 .1 2.4z" stroke="none"/><path d="M321 178.8l-.1-2.4M312.4 183.1l8.6-4.3" fill="none"/>
<path d="M312.4 180.8l-.4-3.2 8.5-4.3 .4 3.1z" stroke="none"/><path d="M320.9 176.4l-.4-3.1M312 177.6l8.5-4.3" fill="none"/>
<path d="M287.5 128.3l-1.2 .3 8.5-4.4 1.3-.3z" stroke="none"/><path d="M296.1 123.9l-1.3 .3M287.5 128.3l8.6-4.4M286.3 128.6l8.5-4.4" fill="none"/>
<path d="M298.1 139.2l-1 .7-1 .9-.7 1.2-.6 1.3-.4 1.6-.3 1.7 0 1.8 .2 1.9 .4 1.9 .5 2 .7 2 .9 1.9 1.1 1.9 1.1 1.7 1.3 1.6 1.4 1.5 1.4 1.2 1.5 1.1 1.5 .8 1.5 .6 1.4 .3 1.4 0 1.3-.2 1.2-.4 8.6-4.4-1.2 .5-1.3 .2-1.4-.1-1.5-.3-1.5-.6-1.4-.8-1.5-1-1.5-1.3-1.3-1.4-1.3-1.6-1.2-1.8-1-1.8-.9-2-.7-2-.6-1.9-.3-2-.2-1.9 0-1.8 .2-1.7 .4-1.5 .6-1.4 .8-1.1 .9-1 1.1-.7z" stroke="none"/>
<path d="M312 177.6l.5-.3 8.6-4.4-.6 .4z" stroke="none"/><path d="M320.5 173.3l.6-.4M312 177.6l8.5-4.3M312.5 177.3l8.6-4.4" fill="none"/>
<path d="M289.3 130l-1.8-1.7 8.6-4.4 1.8 1.7z" stroke="none"/><path d="M297.9 125.6l-1.8-1.7M287.5 128.3l8.6-4.4" fill="none"/>
<path d="M298.1 139.2l8.6-4.4-1.1 .7-.9 1-.8 1.1-.6 1.4-.4 1.5-.2 1.7 0 1.8 .2 1.9 .3 2 .6 1.9 .7 2 .9 2 1 1.8 1.2 1.8 1.3 1.6 1.3 1.4 1.5 1.3 1.5 1 1.4 .8 1.5 .6 1.5 .3 1.4 .1 1.3-.2 1.2-.5-8.6 4.4" fill="none" stroke-width="0.72"/>
<path d="M291.5 132.5l-2.2-2.5 8.6-4.4 2.1 2.5z" stroke="none"/><path d="M300 128.1l-2.1-2.5M291.5 132.5l8.5-4.4" fill="none"/>
<path d="M292.2 132.4l-.7 .1 8.5-4.4 .7 0z" stroke="none"/><path d="M300.7 128.1l-.7 0M292.2 132.4l8.5-4.3M291.5 132.5l8.5-4.4" fill="none"/>
<path d="M317.5 183.7l.8-1.1 8.6-4.4-.8 1.1z" stroke="none"/><path d="M326.1 179.3l.8-1.1M317.5 183.7l8.6-4.4M318.3 182.6l8.6-4.4" fill="none"/>
<path d="M318.3 182.6l-.5-2.5 8.5-4.4 .6 2.5z" stroke="none"/><path d="M326.9 178.2l-.6-2.5M318.3 182.6l8.6-4.4" fill="none"/>
<path d="M317.8 180.1l-1.1-3.3 8.5-4.3 1.1 3.2z" stroke="none"/><path d="M326.3 175.7l-1.1-3.2M316.7 176.8l8.5-4.3" fill="none"/>
<path d="M316.7 176.8l.3-.6 8.6-4.3-.4 .6z" stroke="none"/><path d="M325.2 172.5l.4-.6M316.7 176.8l8.5-4.3M317 176.2l8.6-4.3" fill="none"/>
<path d="M292.2 124.9l-1.4-.2 8.5-4.4 1.4 .3z" stroke="none"/><path d="M300.7 120.6l-1.4-.3M292.2 124.9l8.5-4.3M290.8 124.7l8.5-4.4" fill="none"/>
<path d="M293.7 127.1l-1.5-2.2 8.5-4.3 1.6 2.2z" stroke="none"/><path d="M302.3 122.8l-1.6-2.2M292.2 124.9l8.5-4.3" fill="none"/>
<path d="M295.4 130.1l-1.7-3 8.6-4.3 1.7 3z" stroke="none"/><path d="M304 125.8l-1.7-3M295.4 130.1l8.6-4.3" fill="none"/>
<path d="M296.2 130.4l-.8-.3 8.6-4.3 .7 .2z" stroke="none"/><path d="M304.7 126l-.7-.2M296.2 130.4l8.5-4.4M295.4 130.1l8.6-4.3" fill="none"/>
<path d="M322.7 181l.4-1.5 8.6-4.3-.4 1.5z" stroke="none"/><path d="M331.3 176.7l.4-1.5M322.7 181l8.6-4.3M323.1 179.5l8.6-4.3" fill="none"/>
<path d="M323.1 179.5l-1.1-2.5 8.6-4.3 1.1 2.5z" stroke="none"/><path d="M331.7 175.2l-1.1-2.5M323.1 179.5l8.6-4.3" fill="none"/>
<path d="M322 177l-1.7-3 8.6-4.3 1.7 3z" stroke="none"/><path d="M330.6 172.7l-1.7-3M320.3 174l8.6-4.3" fill="none"/>
<path d="M320.3 174l.2-.8 8.5-4.4-.1 .9z" stroke="none"/><path d="M328.9 169.7l.1-.9M320.3 174l8.6-4.3M320.5 173.2l8.5-4.4" fill="none"/>
<path d="M298 124.2l-1.5-.8 8.6-4.4 1.5 .8z" stroke="none"/><path d="M306.6 119.8l-1.5-.8M298 124.2l8.6-4.4M296.5 123.4l8.6-4.4" fill="none"/>
<path d="M301 130.4l-.7-.5 8.6-4.4 .7 .5z" stroke="none"/><path d="M309.6 126l-.7-.5M300.3 129.9l8.6-4.4" fill="none"/>
<path d="M300.3 129.9l-1.1-3.2 8.5-4.4 1.2 3.2z" stroke="none"/><path d="M308.9 125.5l-1.2-3.2M300.3 129.9l8.6-4.4" fill="none"/>
<path d="M299.2 126.7l-1.2-2.5 8.6-4.4 1.1 2.5z" stroke="none"/><path d="M307.7 122.3l-1.1-2.5M298 124.2l8.6-4.4" fill="none"/>
<path d="M301.7 130.2l-.7 .2 8.6-4.4 .6-.2z" stroke="none"/><path d="M310.2 125.8l-.6 .2M301.7 130.2l8.5-4.4" fill="none"/>
<path d="M325.3 176.6l1.1-.6 8.5-4.4-1.1 .6z" stroke="none"/><path d="M333.8 172.2l1.1-.6M325.3 176.6l8.5-4.4" fill="none"/>
<path d="M322.7 169.4l-.1-1 8.6-4.3 .1 .9z" stroke="none"/><path d="M331.3 165l-.1-.9M322.7 169.4l8.6-4.4" fill="none"/>
<path d="M324.8 171.9l-2.1-2.5 8.6-4.4 2.1 2.6z" stroke="none"/><path d="M333.4 167.6l-2.1-2.6M322.7 169.4l8.6-4.4" fill="none"/>
<path d="M322.6 168.4l.5-.5 8.5-4.3-.4 .5z" stroke="none"/><path d="M331.2 164.1l.4-.5M323.1 167.9l8.5-4.3" fill="none"/>
<path d="M326.4 176l0-1.8 8.5-4.4 0 1.8z" stroke="none"/><path d="M334.9 171.6l0-1.8M326.4 174.2l8.5-4.4" fill="none"/>
<path d="M326.4 174.2l-1.6-2.3 8.6-4.3 1.5 2.2z" stroke="none"/><path d="M334.9 169.8l-1.5-2.2M326.4 174.2l8.5-4.4" fill="none"/>
<path d="M306.3 132.5l-.7-.8 8.6-4.3 .7 .7z" stroke="none"/><path d="M314.9 128.1l-.7-.7M305.6 131.7l8.6-4.3" fill="none"/>
<path d="M303.1 124.7l-1.2 .3 8.5-4.4 1.3-.2z" stroke="none"/><path d="M311.7 120.4l-1.3 .2M301.9 125l8.5-4.4" fill="none"/>
<path d="M305.6 131.7l-.4-3.1 8.5-4.4 .5 3.2z" stroke="none"/><path d="M314.2 127.4l-.5-3.2M305.6 131.7l8.6-4.3" fill="none"/>
<path d="M307 132.5l-.7 0 8.6-4.4 .7 .1z" stroke="none"/><path d="M315.6 128.2l-.7-.1M307 132.5l8.6-4.3" fill="none"/>
<path d="M304.5 126l-1.4-1.3 8.6-4.3 1.4 1.3z" stroke="none"/><path d="M313.1 121.7l-1.4-1.3M304.5 126l8.6-4.3" fill="none"/>
<path d="M305.2 128.6l-.7-2.6 8.6-4.3 .6 2.5z" stroke="none"/><path d="M313.7 124.2l-.6-2.5M304.5 126l8.6-4.3" fill="none"/>
<path d="M323.6 163.3l-.3-1 8.5-4.3 .3 1z" stroke="none"/><path d="M332.1 159l-.3-1M323.6 163.3l8.5-4.3" fill="none"/>
<path d="M323.3 162.3l.2-.7 8.6-4.3-.3 .7z" stroke="none"/><path d="M331.8 158l.3-.7M323.5 161.6l8.6-4.3" fill="none"/>
<path d="M325.9 165.2l-2.3-1.9 8.5-4.3 2.4 1.8z" stroke="none"/><path d="M334.5 160.8l-2.4-1.8M323.6 163.3l8.5-4.3" fill="none"/>
<path d="M327.4 170l.8-1.1 8.5-4.4-.7 1.2z" stroke="none"/><path d="M336 165.7l.7-1.2M327.4 170l8.6-4.3" fill="none"/>
<path d="M311.5 136.4l-.6-.9 8.6-4.3 .5 .9z" stroke="none"/><path d="M320 132.1l-.5-.9M310.9 135.5l8.6-4.3" fill="none"/>
<path d="M327.7 167l-1.8-1.8 8.6-4.4 1.8 1.8z" stroke="none"/><path d="M336.3 162.6l-1.8-1.8M327.7 167l8.6-4.4" fill="none"/>
<path d="M312.2 136.8l-.7-.4 8.5-4.3 .8 .4z" stroke="none"/><path d="M320.8 132.5l-.8-.4M312.2 136.8l8.6-4.3" fill="none"/>
<path d="M328.2 168.9l-.5-1.9 8.6-4.4 .4 1.9z" stroke="none"/><path d="M336.7 164.5l-.4-1.9M327.7 167l8.6-4.4" fill="none"/>
<path d="M310.9 135.5l.3-2.8 8.6-4.3-.3 2.8z" stroke="none"/><path d="M319.5 131.2l.3-2.8M310.9 135.5l8.6-4.3" fill="none"/>
<path d="M322.8 156.5l-.5-1 8.6-4.4 .5 1z" stroke="none"/><path d="M331.4 152.1l-.5-1M322.8 156.5l8.6-4.4" fill="none"/>
<path d="M322.3 155.5l0-.9 8.6-4.4 0 .9z" stroke="none"/><path d="M330.9 151.1l0-.9M322.3 154.6l8.6-4.4" fill="none"/>
<path d="M309.9 128.7l-1.4-.4 8.5-4.3 1.5 .3z" stroke="none"/><path d="M318.5 124.3l-1.5-.3M308.5 128.3l8.5-4.3" fill="none"/>
<path d="M316.2 141.9l-.4-.9 8.5-4.4 .4 1z" stroke="none"/><path d="M324.7 137.6l-.4-1M315.8 141l8.5-4.4" fill="none"/>
<path d="M316.9 142.6l-.7-.7 8.5-4.3 .7 .6z" stroke="none"/><path d="M325.4 138.2l-.7-.6M316.9 142.6l8.5-4.4" fill="none"/>
<path d="M325.2 157.4l-2.4-.9 8.6-4.4 2.4 1z" stroke="none"/><path d="M333.8 153.1l-2.4-1M322.8 156.5l8.6-4.4" fill="none"/>
<path d="M311.2 132.7l-.1-2.4 8.6-4.3 .1 2.4z" stroke="none"/><path d="M319.8 128.4l-.1-2.4M311.1 130.3l8.6-4.3" fill="none"/>
<path d="M320.5 149.3l-.6-.8 8.5-4.4 .7 .9z" stroke="none"/><path d="M329.1 145l-.7-.9M320.5 149.3l8.6-4.3" fill="none"/>
<path d="M319.9 148.5l-.2-1 8.5-4.4 .2 1z" stroke="none"/><path d="M328.4 144.1l-.2-1M319.7 147.5l8.5-4.4" fill="none"/>
<path d="M311.1 130.3l-1.2-1.6 8.6-4.4 1.2 1.7z" stroke="none"/><path d="M319.7 126l-1.2-1.7M311.1 130.3l8.6-4.3" fill="none"/>
<path d="M315.8 141l.9-2.3 8.6-4.3-1 2.2z" stroke="none"/><path d="M324.3 136.6l1-2.2M315.8 141l8.5-4.4" fill="none"/>
<path d="M318.7 141.6l-1.8 1 8.5-4.4 1.9-.9z" stroke="none"/><path d="M327.3 137.3l-1.9 .9M316.9 142.6l8.5-4.4" fill="none"/>
<path d="M322.8 149.4l-2.3-.1 8.6-4.3 2.2 0z" stroke="none"/><path d="M331.3 145l-2.2 0M320.5 149.3l8.6-4.3" fill="none"/>
<path d="M327.6 162l.4-1.5 8.5-4.4-.3 1.6z" stroke="none"/><path d="M336.2 157.7l.3-1.6M327.6 162l8.6-4.3" fill="none"/>
<path d="M327.1 158.6l-1.9-1.2 8.6-4.3 1.9 1.1z" stroke="none"/><path d="M335.7 154.2l-1.9-1.1M327.1 158.6l8.6-4.4" fill="none"/>
<path d="M319.7 147.5l1.6-1.4 8.5-4.4-1.6 1.4z" stroke="none"/><path d="M328.2 143.1l1.6-1.4M319.7 147.5l8.5-4.4" fill="none"/>
<path d="M328 160.5l-.9-1.9 8.6-4.4 .8 1.9z" stroke="none"/><path d="M336.5 156.1l-.8-1.9M327.1 158.6l8.6-4.4" fill="none"/>
<path d="M316.7 138.7l.5-2 8.6-4.3-.5 2z" stroke="none"/><path d="M325.3 134.4l.5-2M317.2 136.7l8.6-4.3" fill="none"/>
<path d="M324.4 154.1l1.4-.8 8.6-4.3-1.4 .7z" stroke="none"/><path d="M333 149.7l1.4-.7M324.4 154.1l8.6-4.4M325.8 153.3l8.6-4.3" fill="none"/>
<path d="M316.3 134.8l-1.4-.8 8.5-4.4 1.5 .9z" stroke="none"/><path d="M324.9 130.5l-1.5-.9M314.9 134l8.5-4.4" fill="none"/>
<path d="M324.6 149.8l-1.8-.4 8.5-4.4 1.9 .4z" stroke="none"/><path d="M333.2 145.4l-1.9-.4M324.6 149.8l8.6-4.4" fill="none"/>
<path d="M320.4 141.3l-1.7 .3 8.6-4.3 1.7-.3z" stroke="none"/><path d="M329 137l-1.7 .3M320.4 141.3l8.6-4.3" fill="none"/>
<path d="M317.2 136.7l-.9-1.9 8.6-4.3 .9 1.9z" stroke="none"/><path d="M325.8 132.4l-.9-1.9M317.2 136.7l8.6-4.3" fill="none"/>
<path d="M321.3 146.1l1-1.5 8.5-4.3-1 1.4z" stroke="none"/><path d="M329.8 141.7l1-1.4M322.3 144.6l8.5-4.3" fill="none"/>
<path d="M325.8 153.3l0-1.8 8.5-4.4 .1 1.9z" stroke="none"/><path d="M334.4 149l-.1-1.9M325.8 153.3l8.6-4.3" fill="none"/>
<path d="M325.8 151.5l-1.2-1.7 8.6-4.4 1.1 1.7z" stroke="none"/><path d="M334.3 147.1l-1.1-1.7M324.6 149.8l8.6-4.4" fill="none"/>
<path d="M321.8 142.7l-1.4-1.4 8.6-4.3 1.3 1.3z" stroke="none"/><path d="M330.3 138.3l-1.3-1.3M320.4 141.3l8.6-4.3" fill="none"/>
<path d="M322.3 144.6l-.5-1.9 8.5-4.4 .5 2z" stroke="none"/><path d="M330.8 140.3l-.5-2M322.3 144.6l8.5-4.3" fill="none"/>
<path d="M316.7 176.8l.3-.6 .7 .1 2 2.8 1.7 2 1.3-.1 .4-1.5-1.1-2.5-1.7-3 .2-.8 .6-.2 2.3 2.2 1.9 1.4 1.1-.6 0-1.8-1.6-2.3-2.1-2.5-.1-1 .5-.5 2.4 1.4 1.9 .7 .8-1.1-.5-1.9-1.8-1.8-2.3-1.9-.3-1 .2-.7 2.4 .5 1.7-.1 .4-1.5-.9-1.9-1.9-1.2-2.4-.9-.5-1 0-.9 2.1-.5 1.4-.8 0-1.8-1.2-1.7-1.8-.4-2.3-.1-.6-.8-.2-1 1.6-1.4 1-1.5-.5-1.9-1.4-1.4-1.7 .3-1.8 1-.7-.7-.4-.9 .9-2.3 .5-2-.9-1.9-1.4-.8-1.3 1-1.4 1.8-.7-.4-.6-.9 .3-2.8-.1-2.4-1.2-1.6-1.4-.4-.8 1.7-.7 2.5-.7 0-.7-.8-.4-3.1-.7-2.6-1.4-1.3-1.2 .3-.3 2.2 .1 3-.7 .2-.7-.5-1.1-3.2-1.2-2.5-1.5-.8-.9 .8 .3 2.4 .7 3.3-.4 .5-.8-.3-1.7-3-1.5-2.2-1.4-.2-.7 1.3 .9 2.5 1.4 3.2-.2 .7-.7 .1-2.2-2.5-1.8-1.7-1.2 .3-.2 1.7 1.3 2.3 1.9 2.9 0 .9-.5 .3-2.4-1.8-1.9-1.1-1 .9 .3 1.9 1.6 2 2.3 2.3 .2 .9-.3 .7-2.5-1-1.8-.3-.6 1.3 .7 2 1.8 1.5 2.5 1.4 .4 1-.2 .8-2.2 0-1.6 .4-.2 1.7 1 1.9 2 .8 2.3 .5 .6 .9 .1 .9-1.9 1-1.2 1.1 .3 2 1.3 1.5 1.7 .1 2.1-.5 .7 .7 .3 1-1.3 1.9-.7 1.7 .7 2 1.4 1.1 1.5-.7 1.6-1.4 .7 .5 .5 1-.6 2.5-.2 2.3 1 1.8 1.5 .6 1.1-1.4 1-2.2 .7 .2 .6 .8 .1 3.1 .4 2.5 1.3 1.5 1.4 0 .5-2 .3-2.7 .7-.1 .7 .6 .8 3.2 .9 2.6 1.5 1 1.1-.5 0-2.3-.4-3.2 .5-.3 .8 .3 1.4 3.2 1.4 2.3 1.4 .6 .8-1.1-.5-2.5zM312.9 168.2l1.3-.9 1-1.2 .9-1.5 .5-1.8 .3-2 0-2.2-.3-2.3-.5-2.4-.8-2.3-1.1-2.4-1.2-2.2-1.5-2-1.6-1.9-1.7-1.5-1.7-1.3-1.8-1-1.8-.6-1.7-.2-1.6 .2-1.5 .5-1.2 .9-1.1 1.2-.8 1.5-.6 1.8-.3 2 0 2.1 .3 2.3 .6 2.4 .8 2.4 1 2.3 1.3 2.2 1.4 2.1 1.6 1.8 1.7 1.6 1.8 1.3 1.8 .9 1.8 .6 1.7 .2 1.6-.1z" fill-rule="evenodd"/>
<path d="M313.8 169.9l1.4-1 1.2-1.3 .9-1.7 .6-2 .4-2.2 0-2.5-.3-2.6-.7-2.6-.9-2.7-1.1-2.6-1.4-2.5-1.7-2.3-1.8-2-1.9-1.8-1.9-1.4-2-1.1-2-.6-1.9-.3-1.8 .2-1.6 .5-1.5 1-1.2 1.4-.9 1.7-.6 2-.3 2.2 0 2.5 .3 2.5 .6 2.7 .9 2.6 1.2 2.6 1.4 2.5 1.6 2.3 1.8 2.1 1.9 1.7 2 1.5 2 1 2 .7 1.9 .3 1.8-.2z" fill="none" stroke-width="0.72"/>
<path d="M356.6 150.7l1.3-.9 1.2-1.2 1-1.5 .7-1.7 .6-2 .2-2.1 .1-2.3-.3-2.4-.4-2.5-.7-2.5-.9-2.5-1.2-2.5-1.3-2.3-1.5-2.3-1.6-2-1.7-1.8-1.9-1.6-1.8-1.3-1.9-1.1-1.9-.7-1.8-.4-1.8-.1-1.7 .3-1.5 .5-1.4 .9-1.1 1.2-1 1.5-.8 1.7-.5 2-.3 2.1 0 2.3 .2 2.4 .5 2.5 .7 2.5 .9 2.5 1.1 2.5 1.4 2.3 1.4 2.3 1.7 2 1.7 1.8 1.8 1.6 1.9 1.3 1.9 1.1 1.9 .7 1.8 .4 1.8 .1 1.6-.3zM354.7 147l.6-.3 .5-.4 .5-.5 .4-.5-.2-1.3 .4-.6 .3-.6 .9 0 .2-.8 .2-.8 .2-.8 0-.9 .1-.9 0-1-.1-.9-.1-1-.2-1-.2-1-.2-1-.3-1-.4-1-.4-1-.4-1-.5-1-.5-.9-.5-.9-.6-.9-.6-.9-.7-.8-.6-.8-.7-.8-.7-.7-.7-.7-.8-.6-.7-.5-.8-.5-.7 .4-.7-.4-.8-.3-.8-1.2-.7-.1-.8-.2-.7 0-.7 0-.6 0-.7 .2-.6 .2-.6 .2-.6 .3-.5 .4-.5 .5-.4 .5-.5 .6-.3 .6-.3 .6-.3 .7-.3 .8-.1 .8-.2 .8-.1 .9 0 .9 0 1 .1 .9 .1 1 .1 1 .3 1 .2 1 .3 1 1 .9 .4 .9 .4 1-.1 1.2 .5 .9 .5 .9 .6 .9 .6 .9 .6 .8 .7 .8 .7 .8 .7 .7 .7 .7 .7 .6 .8 .5 .7 .5 .8 .5 .8 .4 .7 .3 .8 .3 .7 .1 .7 .2 .8 0 .7 0 .6 0 .7-.2 .6-.2z" fill-rule="evenodd" stroke-width="0.95"/>
<path d="M385 117l-.8-1.8-.9-1.7-1-1.7-1-1.6-1.2-1.5-1.2-1.4-1.3-1.2-1.3-1.2-1.4-1-1.3-.8-1.4-.7-1.4-.4-1.3-.4-1.3-.1-1.2 .1-1.2 .2-1.1 .4-1 .6-1 .7-.8 .9-.7 1.1-.6 1.2-.4 1.3-.4 1.5-.1 1.5-.1 1.7 .1 1.7 .2 1.7 .3 1.8 .5 1.8 .6 1.9 .8 1.8 .8 1.7 .9 1.7 1.1 1.7 1.1 1.5 1.2 1.5 1.2 1.3 1.3 1.2 1.4 1.1 1.3 .9 1.4 .7 1.4 .6 1.3 .4 1.3 .2 1.3 .1 1.2-.1 1.1-.4 1.1-.4 1-.7 .9-.8 .7-1 .7-1.2 .5-1.2 .4-1.4 .2-1.5 .2-1.6 0-1.7-.2-1.7-.3-1.8-2.6-.6 .2 1.5 .1 1.3 0 1.4-.1 1.3-.2 1.2-.3 1.1-.4 1-.5 .9-.6 .8-.7 .7-.8 .5-.9 .4-.9 .2-1 .1-1 0-1-.2-1.1-.3-1.1-.5-1.1-.6-1.1-.7-1.1-.8-1-1-1-1.1-.9-1.1-.9-1.3-.9-1.3-.7-1.3-.7-1.5-.6-1.4-.5-1.5-.3-1.4-.3-1.4-.2-1.5-.1-1.3 .1-1.3 .1-1.3 .3-1.1 .4-1.1 .4-1 .6-.8 .7-.7 .7-.6 .8-.5 .9-.3 .9-.2 1 0 1.1 .1 1 .2 1.1 .4 1.1 .5 1.1 .7 1.1 .8 1 .9 1.1 1 .9 1.1 1 1.2 .8 1.3 .8 1.4 .7 1.3 .7 1.5z" fill-rule="evenodd" stroke-width="0.95"/>
<path d="M394.1 112.7l1.7-1.1 14.2-7.2-1.7 1.1z" stroke="none"/><path d="M408.3 105.5l1.7-1.1M394.1 112.7l14.2-7.2M395.8 111.6l14.2-7.2" fill="none"/>
<path d="M389.3 98.9l-1.9 .8 14.3-7.3 1.9-.7z" stroke="none"/><path d="M403.6 91.7l-1.9 .7M389.3 98.9l14.3-7.2M387.4 99.7l14.3-7.3" fill="none"/>
<path d="M398.8 120.5l1.1-1.2 14.3-7.2-1.2 1.2z" stroke="none"/><path d="M413 113.3l1.2-1.2M398.8 120.5l14.2-7.2" fill="none"/>
<path d="M385.5 91.1l-1.6 .2 14.2-7.3 1.7-.2z" stroke="none"/><path d="M399.8 83.8l-1.7 .2M383.9 91.3l14.2-7.3" fill="none"/>
<path d="M399.9 119.3l1.1-1.9 14.3-7.3-1.1 2z" stroke="none"/><path d="M414.2 112.1l1.1-2M401 117.4l14.3-7.3" fill="none"/>
<path d="M387.7 91.3l-2.2-.2 14.3-7.3 2.2 .3z" stroke="none"/><path d="M402 84.1l-2.2-.3M387.7 91.3l14.3-7.2" fill="none"/>
<path d="M405.7 125.7l.7-1.8 14.2-7.3-.6 1.8z" stroke="none"/><path d="M420 118.4l.6-1.8M405.7 125.7l14.3-7.3" fill="none"/>
<path d="M385.6 83.2l-1.8-.6 14.2-7.2 1.9 .5z" stroke="none"/><path d="M399.9 75.9l-1.9-.5M383.8 82.6l14.2-7.2" fill="none"/>
<path d="M406.4 123.9l.4-2.6 14.2-7.3-.4 2.6z" stroke="none"/><path d="M420.6 116.6l.4-2.6M406.8 121.3l14.2-7.3" fill="none"/>
<path d="M388 84.4l-2.4-1.2 14.3-7.3 2.3 1.2z" stroke="none"/><path d="M402.2 77.1l-2.3-1.2M388 84.4l14.2-7.3" fill="none"/>
<path d="M397.4 104.1l.7 1.1 14.3-7.2-.7-1.1z" stroke="none"/><path d="M411.7 96.9l.7 1.1M397.4 104.1l14.3-7.2M398.1 105.2l14.3-7.2" fill="none" stroke-width="0.63"/>
<path d="M395.4 99.6l.5 1.2 14.2-7.2-.4-1.2z" stroke="none"/><path d="M409.7 92.4l.4 1.2M395.4 99.6l14.3-7.2M395.9 100.8l14.2-7.2" fill="none" stroke-width="0.63"/>
<path d="M397.8 103.2l-.4 .9 14.3-7.2 .4-1z" stroke="none"/><path d="M412.1 95.9l-.4 1M397.8 103.2l14.3-7.3M397.4 104.1l14.3-7.2" fill="none" stroke-width="0.63"/>
<path d="M395.9 100.8l.9 .4 14.3-7.3-1-.3z" stroke="none"/><path d="M410.1 93.6l1 .3M395.9 100.8l14.2-7.2M396.8 101.2l14.3-7.3" fill="none" stroke-width="0.63"/>
<path d="M398.1 105.2l.9 0 14.2-7.3-.8 .1z" stroke="none"/><path d="M412.4 98l.8-.1M398.1 105.2l14.3-7.2M399 105.2l14.2-7.3" fill="none" stroke-width="0.63"/>
<path d="M396 99l-.6 .6 14.3-7.2 .6-.6z" stroke="none"/><path d="M410.3 91.8l-.6 .6M396 99l14.3-7.2M395.4 99.6l14.3-7.2" fill="none" stroke-width="0.63"/>
<path d="M400.2 108.1l.8 .9 14.2-7.2-.8-.9z" stroke="none"/><path d="M414.4 100.9l.8 .9M400.2 108.1l14.2-7.2M401 109l14.2-7.2" fill="none" stroke-width="0.63"/>
<path d="M396.8 101.2l1 2 14.3-7.3-1-2z" stroke="none"/><path d="M411.1 93.9l1 2M396.8 101.2l14.3-7.3M397.8 103.2l14.3-7.3" fill="none" stroke-width="0.63"/>
<path d="M400.3 107l-.1 1.1 14.2-7.2 .1-1.2z" stroke="none"/><path d="M414.5 99.7l-.1 1.2M400.3 107l14.2-7.3M400.2 108.1l14.2-7.2" fill="none" stroke-width="0.63"/>
<path d="M399 105.2l1.3 1.8 14.2-7.3-1.3-1.8z" stroke="none"/><path d="M413.2 97.9l1.3 1.8M399 105.2l14.2-7.3M400.3 107l14.2-7.3" fill="none" stroke-width="0.63"/>
<path d="M394.3 95.1l.2 1.2 14.2-7.3-.2-1.2z" stroke="none"/><path d="M408.5 87.8l.2 1.2M394.3 95.1l14.2-7.3M394.5 96.3l14.2-7.3" fill="none" stroke-width="0.63"/>
<path d="M394.5 96.3l.9 .6 14.3-7.2-1-.7z" stroke="none"/><path d="M408.7 89l1 .7M394.5 96.3l14.2-7.3M395.4 96.9l14.3-7.2" fill="none" stroke-width="0.63"/>
<path d="M395.4 96.9l.6 2.1 14.3-7.2-.6-2.1z" stroke="none"/><path d="M409.7 89.7l.6 2.1M395.4 96.9l14.3-7.2M396 99l14.3-7.2" fill="none" stroke-width="0.63"/>
<path d="M401.7 108.6l1.5 1.5 14.3-7.3-1.5-1.4z" stroke="none"/><path d="M416 101.4l1.5 1.4M401.7 108.6l14.3-7.2M403.2 110.1l14.3-7.3" fill="none" stroke-width="0.63"/>
<path d="M403.2 110.1l.2 1.2 14.3-7.2-.2-1.3z" stroke="none"/><path d="M417.5 102.8l.2 1.3M403.2 110.1l14.3-7.3M403.4 111.3l14.3-7.2" fill="none" stroke-width="0.63"/>
<path d="M403.4 111.3l.9 .7 14.2-7.3-.8-.6z" stroke="none"/><path d="M417.7 104.1l.8 .6M403.4 111.3l14.3-7.2M404.3 112l14.2-7.3" fill="none" stroke-width="0.63"/>
<path d="M394.9 92.8l.2 2 14.2-7.2-.1-2.1z" stroke="none"/><path d="M409.2 85.5l.1 2.1M394.9 92.8l14.3-7.3M395.1 94.8l14.2-7.2" fill="none" stroke-width="0.63"/>
<path d="M394 91.8l.9 1 14.3-7.3-.9-.9z" stroke="none"/><path d="M408.3 84.6l.9 .9M394 91.8l14.3-7.2M394.9 92.8l14.3-7.3" fill="none" stroke-width="0.63"/>
<path d="M394.1 90.8l-.1 1 14.3-7.2 0-1.1z" stroke="none"/><path d="M408.3 83.5l0 1.1M394.1 90.8l14.2-7.3M394 91.8l14.3-7.2" fill="none" stroke-width="0.63"/>
<path d="M412.7 128.2l.1-2.3 14.2-7.2 0 2.2z" stroke="none"/><path d="M427 120.9l0-2.2M412.7 128.2l14.3-7.3" fill="none"/>
<path d="M387.7 76.8l-1.8-1.3 14.2-7.2 1.9 1.2z" stroke="none"/><path d="M402 69.5l-1.9-1.2M385.9 75.5l14.2-7.2" fill="none"/>
<path d="M404.8 111.3l1.6 .9 14.3-7.3-1.6-.9z" stroke="none"/><path d="M419.1 104l1.6 .9M404.8 111.3l14.3-7.3M406.4 112.2l14.3-7.3" fill="none" stroke-width="0.63"/>
<path d="M406.4 112.2l.4 1.3 14.3-7.3-.4-1.3z" stroke="none"/><path d="M420.7 104.9l.4 1.3M406.4 112.2l14.3-7.3M406.8 113.5l14.3-7.3" fill="none" stroke-width="0.63"/>
<path d="M412.8 125.9l-.3-3 14.2-7.2 .3 3z" stroke="none"/><path d="M427 118.7l-.3-3M412.5 122.9l14.2-7.2" fill="none"/>
<path d="M390 78.8l-2.3-2 14.3-7.3 2.2 2z" stroke="none"/><path d="M404.2 71.5l-2.2-2M390 78.8l14.2-7.3" fill="none"/>
<path d="M395.3 89.1l-.3 1.8 14.2-7.3 .3-1.7z" stroke="none"/><path d="M409.5 81.9l-.3 1.7M395.3 89.1l14.2-7.2M395 90.9l14.2-7.3" fill="none" stroke-width="0.63"/>
<path d="M406.8 113.5l.9 .4 14.3-7.3-.9-.4z" stroke="none"/><path d="M421.1 106.2l.9 .4M406.8 113.5l14.3-7.3M407.7 113.9l14.3-7.3" fill="none" stroke-width="0.63"/>
<path d="M394.5 88l.8 1.1 14.2-7.2-.7-1.2z" stroke="none"/><path d="M408.8 80.7l.7 1.2M394.5 88l14.3-7.3M395.3 89.1l14.2-7.2" fill="none" stroke-width="0.63"/>
<path d="M394.8 87.1l-.3 .9 14.3-7.3 .3-.9z" stroke="none"/><path d="M409.1 79.8l-.3 .9M394.8 87.1l14.3-7.3M394.5 88l14.3-7.3" fill="none" stroke-width="0.63"/>
<path d="M412.5 122.9l.6-.3 14.2-7.3-.6 .4z" stroke="none"/><path d="M426.7 115.7l.6-.4M412.5 122.9l14.2-7.2M413.1 122.6l14.2-7.3" fill="none"/>
<path d="M390.6 78.5l-.6 .3 14.2-7.3 .7-.2z" stroke="none"/><path d="M404.9 71.3l-.7 .2M390.6 78.5l14.3-7.2M390 78.8l14.2-7.3" fill="none"/>
<path d="M408 112.8l1.6 .4 14.2-7.3-1.5-.3z" stroke="none"/><path d="M422.3 105.6l1.5 .3M408 112.8l14.3-7.2M409.6 113.2l14.2-7.3" fill="none" stroke-width="0.63"/>
<path d="M409.6 113.2l.6 1.2 14.3-7.2-.7-1.3z" stroke="none"/><path d="M423.8 105.9l.7 1.3M409.6 113.2l14.2-7.3M410.2 114.4l14.3-7.2" fill="none" stroke-width="0.63"/>
<path d="M396.5 86.2l-.7 1.4 14.3-7.3 .7-1.4z" stroke="none"/><path d="M410.8 78.9l-.7 1.4M396.5 86.2l14.3-7.3M395.8 87.6l14.3-7.3" fill="none" stroke-width="0.63"/>
<path d="M410.2 114.4l.9 .1 14.2-7.3-.8 0z" stroke="none"/><path d="M424.5 107.2l.8 0M410.2 114.4l14.3-7.2M411.1 114.5l14.2-7.3" fill="none" stroke-width="0.63"/>
<path d="M396 84.9l.5 1.3 14.3-7.3-.5-1.2z" stroke="none"/><path d="M410.3 77.7l.5 1.2M396 84.9l14.3-7.2M396.5 86.2l14.3-7.3" fill="none" stroke-width="0.63"/>
<path d="M396.5 84.3l-.5 .6 14.3-7.2 .5-.7z" stroke="none"/><path d="M410.8 77l-.5 .7M396.5 84.3l14.3-7.3M396 84.9l14.3-7.2" fill="none" stroke-width="0.63"/>
<path d="M418.2 128.8l.9-1 14.2-7.3-.9 1.1z" stroke="none"/><path d="M432.4 121.6l.9-1.1M418.2 128.8l14.2-7.2M419.1 127.8l14.2-7.3" fill="none"/>
<path d="M390 70.6l-1.4 .1 14.2-7.2 1.4-.1z" stroke="none"/><path d="M404.2 63.4l-1.4 .1M390 70.6l14.2-7.2M388.6 70.7l14.2-7.2" fill="none"/>
<path d="M411 113.3l1.4-.3 14.3-7.3-1.4 .3z" stroke="none"/><path d="M425.3 106l1.4-.3M411 113.3l14.3-7.3M412.4 113l14.3-7.3" fill="none" stroke-width="0.63"/>
<path d="M419.1 127.8l-.5-2.5 14.2-7.3 .5 2.5z" stroke="none"/><path d="M433.3 120.5l-.5-2.5M419.1 127.8l14.2-7.3" fill="none"/>
<path d="M391.6 72.5l-1.6-1.9 14.2-7.2 1.7 1.8z" stroke="none"/><path d="M405.9 65.2l-1.7-1.8M390 70.6l14.2-7.2" fill="none"/>
<path d="M398.6 84.3l-1.1 .8 14.2-7.3 1.1-.8z" stroke="none"/><path d="M412.8 77l-1.1 .8M398.6 84.3l14.2-7.3M397.5 85.1l14.2-7.3" fill="none" stroke-width="0.63"/>
<path d="M412.4 113l.9 1.1 14.2-7.3-.8-1.1z" stroke="none"/><path d="M426.7 105.7l.8 1.1M412.4 113l14.3-7.3M413.3 114.1l14.2-7.3" fill="none" stroke-width="0.63"/>
<path d="M418.6 125.3l-1.1-3.1 14.3-7.3 1 3.1z" stroke="none"/><path d="M432.8 118l-1-3.1M417.5 122.2l14.3-7.3" fill="none"/>
<path d="M393.6 75.2l-2-2.7 14.3-7.3 1.9 2.7z" stroke="none"/><path d="M407.8 67.9l-1.9-2.7M393.6 75.2l14.2-7.3" fill="none"/>
<path d="M413.3 114.1l.7-.3 14.2-7.3-.7 .3z" stroke="none"/><path d="M427.5 106.8l.7-.3M413.3 114.1l14.2-7.3M414 113.8l14.2-7.3" fill="none" stroke-width="0.63"/>
<path d="M417.5 122.2l.4-.7 14.3-7.2-.4 .6z" stroke="none"/><path d="M431.8 114.9l.4-.6M417.5 122.2l14.3-7.3M417.9 121.5l14.3-7.2" fill="none"/>
<path d="M394.3 75.2l-.7 0 14.2-7.3 .8 0z" stroke="none"/><path d="M408.6 67.9l-.8 0M394.3 75.2l14.3-7.3M393.6 75.2l14.2-7.3" fill="none"/>
<path d="M398.3 83l.3 1.3 14.2-7.3-.3-1.3z" stroke="none"/><path d="M412.5 75.7l.3 1.3M398.3 83l14.2-7.3M398.6 84.3l14.2-7.3" fill="none" stroke-width="0.63"/>
<path d="M414.8 111.6l.9 .8 14.3-7.2-1-.8z" stroke="none"/><path d="M429 104.4l1 .8M414.8 111.6l14.2-7.2M415.7 112.4l14.3-7.2" fill="none" stroke-width="0.63"/>
<path d="M401.2 82.3l0 1.2 14.3-7.3 0-1.2z" stroke="none"/><path d="M415.5 75l0 1.2M401.2 82.3l14.3-7.3M401.2 83.5l14.3-7.3" fill="none" stroke-width="0.63"/>
<path d="M423.7 126l.5-1.5 14.2-7.3-.5 1.5z" stroke="none"/><path d="M437.9 118.7l.5-1.5M423.7 126l14.2-7.3M424.2 124.5l14.2-7.3" fill="none"/>
<path d="M395.6 68.4l-1.5-.5 14.2-7.2 1.6 .5z" stroke="none"/><path d="M409.9 61.2l-1.6-.5M395.6 68.4l14.3-7.2M394.1 67.9l14.2-7.2" fill="none"/>
<path d="M424.2 124.5l-1.1-2.5 14.3-7.2 1 2.4z" stroke="none"/><path d="M438.4 117.2l-1-2.4M424.2 124.5l14.2-7.3" fill="none"/>
<path d="M397 70.7l-1.4-2.3 14.3-7.2 1.3 2.3z" stroke="none"/><path d="M411.2 63.5l-1.3-2.3M395.6 68.4l14.3-7.2" fill="none"/>
<path d="M423.1 122l-1.6-2.9 14.2-7.3 1.7 3z" stroke="none"/><path d="M437.4 114.8l-1.7-3M421.5 119.1l14.2-7.3" fill="none"/>
<path d="M398.4 73.8l-1.4-3.1 14.2-7.2 1.5 3z" stroke="none"/><path d="M412.7 66.5l-1.5-3M398.4 73.8l14.3-7.3" fill="none"/>
<path d="M421.5 119.1l.2-.9 14.2-7.2-.2 .8z" stroke="none"/><path d="M435.7 111.8l.2-.8M421.5 119.1l14.2-7.3M421.7 118.2l14.2-7.2" fill="none"/>
<path d="M399.2 74.1l-.8-.3 14.3-7.3 .8 .4z" stroke="none"/><path d="M413.5 66.9l-.8-.4M399.2 74.1l14.3-7.2M398.4 73.8l14.3-7.3" fill="none"/>
<path d="M416.4 109.2l1 .5 14.3-7.3-1-.5z" stroke="none"/><path d="M430.7 101.9l1 .5M416.4 109.2l14.3-7.3M417.4 109.7l14.3-7.3" fill="none" stroke-width="0.63"/>
<path d="M404.5 82.9l-.2 1 14.2-7.3 .3-1z" stroke="none"/><path d="M418.8 75.6l-.3 1M404.5 82.9l14.3-7.3M404.3 83.9l14.2-7.3" fill="none" stroke-width="0.63"/>
<path d="M417.3 105.9l.9 .1 14.3-7.3-1-.1z" stroke="none"/><path d="M431.5 98.6l1 .1M417.3 105.9l14.2-7.3M418.2 106l14.3-7.3" fill="none" stroke-width="0.63"/>
<path d="M408 84.7l-.5 .8 14.2-7.3 .5-.7z" stroke="none"/><path d="M422.2 77.5l-.5 .7M408 84.7l14.2-7.2M407.5 85.5l14.2-7.3" fill="none" stroke-width="0.63"/>
<path d="M426.4 121.2l1.1-.7 14.2-7.3-1.1 .8z" stroke="none"/><path d="M440.6 114l1.1-.8M426.4 121.2l14.2-7.2" fill="none"/>
<path d="M400.8 68.1l-1.3 .4 14.3-7.2 1.2-.5z" stroke="none"/><path d="M415 60.8l-1.2 .5M399.5 68.5l14.3-7.2" fill="none"/>
<path d="M417.2 101.9l.8-.2 14.3-7.3-.9 .3z" stroke="none"/><path d="M431.4 94.7l.9-.3M417.2 101.9l14.2-7.2M418 101.7l14.3-7.3" fill="none" stroke-width="0.63"/>
<path d="M423.9 114l0-1.1 14.2-7.2 .1 1z" stroke="none"/><path d="M438.2 106.7l-.1-1M423.9 114l14.3-7.3" fill="none"/>
<path d="M404.7 75.5l-.7-.7 14.2-7.3 .8 .7z" stroke="none"/><path d="M419 68.2l-.8-.7M404 74.8l14.2-7.3" fill="none"/>
<path d="M411.3 87.7l-.8 .4 14.3-7.3 .7-.4z" stroke="none"/><path d="M425.5 80.4l-.7 .4M411.3 87.7l14.2-7.3M410.5 88.1l14.3-7.3" fill="none" stroke-width="0.63"/>
<path d="M426 116.4l-2.1-2.4 14.3-7.3 2.1 2.5z" stroke="none"/><path d="M440.3 109.2l-2.1-2.5M423.9 114l14.3-7.3" fill="none"/>
<path d="M404 74.8l-.8-3.1 14.3-7.3 .7 3.1z" stroke="none"/><path d="M418.2 67.5l-.7-3.1M404 74.8l14.2-7.3" fill="none"/>
<path d="M427.5 120.5l0-1.9 14.2-7.3 0 1.9z" stroke="none"/><path d="M441.7 113.2l0-1.9M427.5 118.6l14.2-7.3" fill="none"/>
<path d="M402.3 69.2l-1.5-1.1 14.2-7.3 1.6 1.1z" stroke="none"/><path d="M416.6 61.9l-1.6-1.1M402.3 69.2l14.3-7.3" fill="none"/>
<path d="M423.9 112.9l.4-.5 14.2-7.3-.4 .6z" stroke="none"/><path d="M438.1 105.7l.4-.6M424.3 112.4l14.2-7.3" fill="none"/>
<path d="M405.5 75.5l-.8 0 14.3-7.3 .7 0z" stroke="none"/><path d="M419.7 68.2l-.7 0M405.5 75.5l14.2-7.3" fill="none"/>
<path d="M427.5 118.6l-1.5-2.2 14.3-7.2 1.4 2.1z" stroke="none"/><path d="M441.7 111.3l-1.4-2.1M427.5 118.6l14.2-7.3" fill="none"/>
<path d="M403.2 71.7l-.9-2.5 14.3-7.3 .9 2.5z" stroke="none"/><path d="M417.5 64.4l-.9-2.5M402.3 69.2l14.3-7.3" fill="none"/>
<path d="M424.6 107.3l-.3-1 14.3-7.3 .3 1.1z" stroke="none"/><path d="M438.9 100.1l-.3-1.1M424.6 107.3l14.3-7.2" fill="none"/>
<path d="M410.4 79l-.6-.9 14.2-7.2 .7 .9z" stroke="none"/><path d="M424.7 71.8l-.7-.9M409.8 78.1l14.2-7.2" fill="none"/>
<path d="M424.3 106.3l.2-.9 14.3-7.2-.2 .8z" stroke="none"/><path d="M438.6 99l.2-.8M424.5 105.4l14.3-7.2" fill="none"/>
<path d="M411.2 79.3l-.8-.3 14.3-7.2 .8 .3z" stroke="none"/><path d="M425.5 72.1l-.8-.3M411.2 79.3l14.3-7.2" fill="none"/>
<path d="M427 109.1l-2.4-1.8 14.3-7.2 2.3 1.7z" stroke="none"/><path d="M441.2 101.8l-2.3-1.7M424.6 107.3l14.3-7.2" fill="none"/>
<path d="M409.8 78.1l-.1-2.9 14.3-7.2 0 2.9z" stroke="none"/><path d="M424 70.9l0-2.9M409.8 78.1l14.2-7.2" fill="none"/>
<path d="M428.5 114.1l.7-1.3 14.3-7.3-.8 1.3z" stroke="none"/><path d="M442.7 106.8l.8-1.3M428.5 114.1l14.2-7.3" fill="none"/>
<path d="M408 71.2l-1.5-.2 14.3-7.2 1.5 .2z" stroke="none"/><path d="M422.3 64l-1.5-.2M406.5 71l14.3-7.2" fill="none"/>
<path d="M428.7 110.8l-1.7-1.7 14.2-7.3 1.8 1.7z" stroke="none"/><path d="M443 103.5l-1.8-1.7M428.7 110.8l14.3-7.3" fill="none"/>
<path d="M409.7 75.2l-.3-2.4 14.2-7.3 .4 2.5z" stroke="none"/><path d="M424 68l-.4-2.5M409.4 72.8l14.2-7.3" fill="none"/>
<path d="M429.2 112.8l-.5-2 14.3-7.3 .5 2z" stroke="none"/><path d="M443.5 105.5l-.5-2M428.7 110.8l14.3-7.3" fill="none"/>
<path d="M409.4 72.8l-1.4-1.6 14.3-7.2 1.3 1.5z" stroke="none"/><path d="M423.6 65.5l-1.3-1.5M409.4 72.8l14.2-7.3" fill="none"/>
<path d="M423.5 99.8l-.5-1 14.3-7.3 .5 1z" stroke="none"/><path d="M437.8 92.5l-.5-1M423.5 99.8l14.3-7.3" fill="none"/>
<path d="M415.7 84.5l-.5-1.1 14.3-7.2 .5 1z" stroke="none"/><path d="M430 77.2l-.5-1M415.2 83.4l14.3-7.2" fill="none"/>
<path d="M423 98.8l0-1 14.2-7.3 .1 1z" stroke="none"/><path d="M437.3 91.5l-.1-1M423 97.8l14.2-7.3" fill="none"/>
<path d="M416.5 85.1l-.8-.6 14.3-7.3 .7 .6z" stroke="none"/><path d="M430.7 77.8l-.7-.6M416.5 85.1l14.2-7.3" fill="none"/>
<path d="M425.9 100.6l-2.4-.8 14.3-7.3 2.3 .9z" stroke="none"/><path d="M440.1 93.4l-2.3-.9M423.5 99.8l14.3-7.3" fill="none"/>
<path d="M415.2 83.4l.7-2.3 14.2-7.3-.6 2.4z" stroke="none"/><path d="M429.5 76.2l.6-2.4M415.2 83.4l14.3-7.2" fill="none"/>
<path d="M420.7 92.1l-.7-.8 14.3-7.3 .7 .9z" stroke="none"/><path d="M435 84.9l-.7-.9M420.7 92.1l14.3-7.2" fill="none"/>
<path d="M420 91.3l-.3-1.1 14.3-7.2 .3 1z" stroke="none"/><path d="M434.3 84l-.3-1M419.7 90.2l14.3-7.2" fill="none"/>
<path d="M422.8 92l-2.1 .1 14.3-7.2 2.1-.2z" stroke="none"/><path d="M437.1 84.7l-2.1 .2M420.7 92.1l14.3-7.2" fill="none"/>
<path d="M419.7 90.2l1.4-1.6 14.3-7.3-1.4 1.7z" stroke="none"/><path d="M434 83l1.4-1.7M419.7 90.2l14.3-7.2" fill="none"/>
<path d="M428.4 105.4l.2-1.7 14.3-7.3-.3 1.8z" stroke="none"/><path d="M442.6 98.2l.3-1.8M428.4 105.4l14.2-7.2" fill="none"/>
<path d="M415 77l-1.5-.8 14.3-7.3 1.5 .8z" stroke="none"/><path d="M429.3 69.7l-1.5-.8M413.5 76.2l14.3-7.3" fill="none"/>
<path d="M427.7 101.7l-1.8-1.1 14.2-7.2 1.9 1z" stroke="none"/><path d="M442 94.4l-1.9-1M427.7 101.7l14.3-7.3" fill="none"/>
<path d="M415.9 81.1l.2-2.2 14.3-7.2-.3 2.1z" stroke="none"/><path d="M430.1 73.8l.3-2.1M416.1 78.9l14.3-7.2" fill="none"/>
<path d="M428.6 103.7l-.9-2 14.3-7.3 .9 2z" stroke="none"/><path d="M442.9 96.4l-.9-2M427.7 101.7l14.3-7.3" fill="none"/>
<path d="M416.1 78.9l-1.1-1.9 14.3-7.3 1.1 2z" stroke="none"/><path d="M430.4 71.7l-1.1-2M416.1 78.9l14.3-7.2" fill="none"/>
<path d="M424.8 97.1l1.3-1 14.3-7.3-1.3 1z" stroke="none"/><path d="M439.1 89.8l1.3-1M424.8 97.1l14.3-7.3M426.1 96.1l14.3-7.3" fill="none"/>
<path d="M419.7 83.5l-1.5 .5 14.2-7.3 1.6-.4z" stroke="none"/><path d="M434 76.3l-1.6 .4M419.7 83.5l14.3-7.2M418.2 84l14.2-7.3" fill="none"/>
<path d="M424.6 92.3l-1.8-.3 14.3-7.3 1.8 .4z" stroke="none"/><path d="M438.9 85.1l-1.8-.4M424.6 92.3l14.3-7.2" fill="none"/>
<path d="M421.1 88.6l.8-1.7 14.3-7.2-.8 1.6z" stroke="none"/><path d="M435.4 81.3l.8-1.6M421.9 86.9l14.3-7.2" fill="none"/>
<path d="M421.2 84.9l-1.5-1.4 14.3-7.2 1.5 1.3z" stroke="none"/><path d="M435.5 77.6l-1.5-1.3M419.7 83.5l14.3-7.2" fill="none"/>
<path d="M426.1 96.1l-.2-2 14.3-7.3 .2 2z" stroke="none"/><path d="M440.4 88.8l-.2-2M426.1 96.1l14.3-7.3" fill="none"/>
<path d="M425.9 94.1l-1.3-1.8 14.3-7.2 1.3 1.7z" stroke="none"/><path d="M440.2 86.8l-1.3-1.7M424.6 92.3l14.3-7.2" fill="none"/>
<path d="M421.9 86.9l-.7-2 14.3-7.3 .7 2.1z" stroke="none"/><path d="M436.2 79.7l-.7-2.1M421.9 86.9l14.3-7.2" fill="none"/>
<path d="M417.5 122.2l.4-.7 .8 .1 1.9 2.7 1.7 1.8 1.4-.1 .5-1.5-1.1-2.5-1.6-2.9 .2-.9 .6-.3 2.2 2.1 1.9 1.2 1.1-.7 0-1.9-1.5-2.2-2.1-2.4 0-1.1 .4-.5 2.3 1.2 1.9 .5 .7-1.3-.5-2-1.7-1.7-2.4-1.8-.3-1 .2-.9 2.3 .3 1.6-.3 .2-1.7-.9-2-1.8-1.1-2.4-.8-.5-1 0-1 1.8-.7 1.3-1-.2-2-1.3-1.8-1.8-.3-2.1 .1-.7-.8-.3-1.1 1.4-1.6 .8-1.7-.7-2-1.5-1.4-1.5 .5-1.7 1.1-.8-.6-.5-1.1 .7-2.3 .2-2.2-1.1-1.9-1.5-.8-1.2 1.2-1.1 1.9-.8-.3-.6-.9-.1-2.9-.3-2.4-1.4-1.6-1.5-.2-.6 1.8-.4 2.7-.8 0-.7-.7-.8-3.1-.9-2.5-1.5-1.1-1.3 .4 0 2.3 .3 3-.6 .3-.8-.3-1.4-3.1-1.4-2.3-1.5-.5-.9 1.1 .5 2.4 1 3.2-.4 .6-.7 0-2-2.7-1.6-1.9-1.4 .1-.5 1.6 1 2.4 1.7 3-.2 .8-.6 .3-2.3-2-1.8-1.3-1.1 .8 0 1.8 1.4 2.2 2.1 2.5 .1 1-.4 .6-2.4-1.2-1.8-.6-.7 1.3 .4 2.1 1.8 1.7 2.3 1.7 .3 1.1-.2 .8-2.2-.2-1.6 .2-.3 1.7 .9 2 1.9 1.1 2.3 .8 .6 1 0 1-1.9 .8-1.3 1 .3 1.9 1.2 1.8 1.8 .3 2.1-.1 .7 .9 .3 1-1.3 1.7-.8 1.6 .6 2 1.5 1.4 1.6-.5 1.7-1.1 .8 .7 .5 1-.7 2.4-.3 2.1 1.1 1.9 1.6 .8 1.1-1.2 1.1-1.9 .8 .3 .7 .9 0 2.9 .4 2.4 1.3 1.6 1.5 .2 .7-1.8 .4-2.6 .7 0 .8 .6 .7 3.2 .9 2.4 1.6 1.1 1.2-.4 .1-2.3-.3-3 .6-.3 .8 .4 1.4 3 1.3 2.3 1.6 .5 .9-1-.5-2.5zM414 113.8l-.3-1.3 1.1-.9 .9 .8 .6-.6-.6-1.3 .7-1.3 1 .5 .3-.9-.7-1.2 .3-1.7 .9 .1 0-1.1-.9-1-.1-2 .8-.2-.2-1.2-1-.7-.6-2.1 .6-.6-.4-1.2-1-.3-1-2.1 .4-.9-.6-1.1-.9 .1-1.3-1.9 .1-1.1-.8-.9-.8 .4-1.5-1.4-.1-1.3-.9-.7-.5 .8-1.6-1-.5-1.3-.9-.3-.2 1-1.6-.4-.7-1.2-.8 0 0 1.2-1.4 .2-.8-1-.7 .3 .3 1.3-1.1 .8-1-.8-.5 .6 .5 1.3-.7 1.4-1-.5-.3 .9 .8 1.1-.3 1.8-.9-.1-.1 1 .9 1 .2 2-.8 .3 .2 1.2 .9 .6 .6 2.1-.6 .6 .5 1.2 .9 .4 1 2-.4 .9 .7 1.1 .9 0 1.3 1.8-.1 1.1 .8 .9 .7-.4 1.5 1.5 .2 1.2 .9 .7 .5-.7 1.6 .9 .4 1.3 .9 .4 .3-1.1 1.6 .4 .6 1.2 .9 .1-.1-1.2 1.4-.3 .9 1.1z" fill-rule="evenodd"/>
<path d="M415.1 116l1.6-1.1 1.2-1.4 1-1.9 .7-2.1 .4-2.5 0-2.6-.4-2.8-.6-2.9-1-2.9-1.3-2.8-1.5-2.7-1.8-2.5-1.9-2.2-2.1-2-2.1-1.5-2.2-1.2-2.2-.7-2.1-.3-1.9 .2-1.8 .6-1.5 1.1-1.3 1.5-1 1.8-.7 2.2-.3 2.4 0 2.7 .3 2.8 .7 2.8 1 2.9 1.2 2.9 1.6 2.7 1.7 2.4 2 2.3 2 1.9 2.2 1.6 2.2 1.1 2.1 .7 2.1 .3 2-.2z" fill="none" stroke-width="0.72"/>
<path d="M390.2 114.7l1.6-1.3 6.4-3.3-1.6 1.3z" stroke="none"/><path d="M396.6 111.4l1.6-1.3M390.2 114.7l6.4-3.3M391.8 113.4l6.4-3.3" fill="none"/>
<path d="M385.5 101.1l-1.9 .6 6.4-3.3 2-.5z" stroke="none"/><path d="M392 97.9l-2 .5M385.5 101.1l6.5-3.2M383.6 101.7l6.4-3.3" fill="none"/>
<path d="M395.4 122.1l.9-1.5 6.4-3.2-.9 1.4z" stroke="none"/><path d="M401.8 118.8l.9-1.4M395.4 122.1l6.4-3.3" fill="none"/>
<path d="M382.3 93.2l-1.7-.1 6.4-3.2 1.8 .1z" stroke="none"/><path d="M388.8 90l-1.8-.1M380.6 93.1l6.4-3.2" fill="none"/>
<path d="M390.3 107.8l.7 1.1 6.4-3.3-.7-1.1z" stroke="none"/><path d="M396.7 104.5l.7 1.1M390.3 107.8l6.4-3.3M391 108.9l6.4-3.3" fill="none" stroke-width="0.63"/>
<path d="M388.3 103.3l.4 1.2 6.5-3.3-.5-1.2z" stroke="none"/><path d="M394.7 100l.5 1.2M388.3 103.3l6.4-3.3M388.7 104.5l6.5-3.3" fill="none" stroke-width="0.63"/>
<path d="M396.3 120.6l.8-2.2 6.4-3.3-.8 2.3z" stroke="none"/><path d="M402.7 117.4l.8-2.3M397.1 118.4l6.4-3.3" fill="none"/>
<path d="M384.6 93.9l-2.3-.7 6.5-3.2 2.2 .6z" stroke="none"/><path d="M391 90.6l-2.2-.6M384.6 93.9l6.4-3.3" fill="none"/>
<path d="M390.7 106.8l-.4 1 6.4-3.3 .4-.9z" stroke="none"/><path d="M397.1 103.6l-.4 .9M390.7 106.8l6.4-3.2M390.3 107.8l6.4-3.3" fill="none" stroke-width="0.63"/>
<path d="M388.7 104.5l1 .3 6.4-3.3-.9-.3z" stroke="none"/><path d="M395.2 101.2l.9 .3M388.7 104.5l6.5-3.3M389.7 104.8l6.4-3.3" fill="none" stroke-width="0.63"/>
<path d="M391 108.9l.9-.1 6.4-3.3-.9 .1z" stroke="none"/><path d="M397.4 105.6l.9-.1M391 108.9l6.4-3.3M391.9 108.8l6.4-3.3" fill="none" stroke-width="0.63"/>
<path d="M388.9 102.7l-.6 .6 6.4-3.3 .6-.6z" stroke="none"/><path d="M395.3 99.4l-.6 .6M388.9 102.7l6.4-3.3M388.3 103.3l6.4-3.3" fill="none" stroke-width="0.63"/>
<path d="M393.1 111.8l.8 .9 6.4-3.3-.8-.9z" stroke="none"/><path d="M399.5 108.5l.8 .9M393.1 111.8l6.4-3.3M393.9 112.7l6.4-3.3" fill="none" stroke-width="0.63"/>
<path d="M389.7 104.8l1 2 6.4-3.2-1-2.1z" stroke="none"/><path d="M396.1 101.5l1 2.1M389.7 104.8l6.4-3.3M390.7 106.8l6.4-3.2" fill="none" stroke-width="0.63"/>
<path d="M393.2 110.6l-.1 1.2 6.4-3.3 .1-1.1z" stroke="none"/><path d="M399.6 107.4l-.1 1.1M393.2 110.6l6.4-3.2M393.1 111.8l6.4-3.3" fill="none" stroke-width="0.63"/>
<path d="M391.9 108.8l1.3 1.8 6.4-3.2-1.3-1.9z" stroke="none"/><path d="M398.3 105.5l1.3 1.9M391.9 108.8l6.4-3.3M393.2 110.6l6.4-3.2" fill="none" stroke-width="0.63"/>
<path d="M387.1 98.7l.2 1.2 6.5-3.3-.3-1.2z" stroke="none"/><path d="M393.5 95.4l.3 1.2M387.1 98.7l6.4-3.3M387.3 99.9l6.5-3.3" fill="none" stroke-width="0.63"/>
<path d="M387.3 99.9l1 .6 6.4-3.2-.9-.7z" stroke="none"/><path d="M393.8 96.6l.9 .7M387.3 99.9l6.5-3.3M388.3 100.5l6.4-3.2" fill="none" stroke-width="0.63"/>
<path d="M388.3 100.5l.6 2.2 6.4-3.3-.6-2.1z" stroke="none"/><path d="M394.7 97.3l.6 2.1M388.3 100.5l6.4-3.2M388.9 102.7l6.4-3.3" fill="none" stroke-width="0.63"/>
<path d="M394.6 112.3l1.5 1.4 6.4-3.3-1.5-1.4z" stroke="none"/><path d="M401 109l1.5 1.4M394.6 112.3l6.4-3.3M396.1 113.7l6.4-3.3" fill="none" stroke-width="0.63"/>
<path d="M396.1 113.7l.2 1.3 6.4-3.3-.2-1.3z" stroke="none"/><path d="M402.5 110.4l.2 1.3M396.1 113.7l6.4-3.3M396.3 115l6.4-3.3" fill="none" stroke-width="0.63"/>
<path d="M396.3 115l.9 .6 6.4-3.2-.9-.7z" stroke="none"/><path d="M402.7 111.7l.9 .7M396.3 115l6.4-3.3M397.2 115.6l6.4-3.2" fill="none" stroke-width="0.63"/>
<path d="M387.8 96.4l.1 2.1 6.4-3.3-.1-2z" stroke="none"/><path d="M394.2 93.2l.1 2M387.8 96.4l6.4-3.2M387.9 98.5l6.4-3.3" fill="none" stroke-width="0.63"/>
<path d="M386.9 95.5l.9 .9 6.4-3.2-.9-1z" stroke="none"/><path d="M393.3 92.2l.9 1M386.9 95.5l6.4-3.3M387.8 96.4l6.4-3.2" fill="none" stroke-width="0.63"/>
<path d="M386.9 94.4l0 1.1 6.4-3.3 0-1.1z" stroke="none"/><path d="M393.3 91.1l0 1.1M386.9 94.4l6.4-3.3M386.9 95.5l6.4-3.3" fill="none" stroke-width="0.63"/>
<path d="M402.5 125.9l.3-2.1 6.4-3.3-.2 2.1z" stroke="none"/><path d="M409 122.6l.2-2.1M402.5 125.9l6.5-3.3" fill="none"/>
<path d="M383.6 86.1l-1.8-1 6.4-3.3 1.8 1z" stroke="none"/><path d="M390 82.8l-1.8-1M381.8 85.1l6.4-3.3" fill="none"/>
<path d="M397.7 114.9l1.6 .9 6.4-3.2-1.6-1z" stroke="none"/><path d="M404.1 111.6l1.6 1M397.7 114.9l6.4-3.3M399.3 115.8l6.4-3.2" fill="none" stroke-width="0.63"/>
<path d="M399.3 115.8l.4 1.3 6.4-3.2-.4-1.3z" stroke="none"/><path d="M405.7 112.6l.4 1.3M399.3 115.8l6.4-3.2M399.7 117.1l6.4-3.2" fill="none" stroke-width="0.63"/>
<path d="M388.2 92.8l-.3 1.7 6.4-3.3 .3-1.7z" stroke="none"/><path d="M394.6 89.5l-.3 1.7M388.2 92.8l6.4-3.3M387.9 94.5l6.4-3.3" fill="none" stroke-width="0.63"/>
<path d="M399.7 117.1l.9 .4 6.4-3.3-.9-.3z" stroke="none"/><path d="M406.1 113.9l.9 .3M399.7 117.1l6.4-3.2M400.6 117.5l6.4-3.3" fill="none" stroke-width="0.63"/>
<path d="M402.8 123.8l-.1-2.9 6.4-3.3 .1 2.9z" stroke="none"/><path d="M409.2 120.5l-.1-2.9M402.7 120.9l6.4-3.3" fill="none"/>
<path d="M385.9 87.9l-2.3-1.8 6.4-3.3 2.3 1.8z" stroke="none"/><path d="M392.3 84.6l-2.3-1.8M385.9 87.9l6.4-3.3" fill="none"/>
<path d="M387.4 91.6l.8 1.2 6.4-3.3-.8-1.2z" stroke="none"/><path d="M393.8 88.3l.8 1.2M387.4 91.6l6.4-3.3M388.2 92.8l6.4-3.3" fill="none" stroke-width="0.63"/>
<path d="M387.7 90.7l-.3 .9 6.4-3.3 .3-.9z" stroke="none"/><path d="M394.1 87.4l-.3 .9M387.7 90.7l6.4-3.3M387.4 91.6l6.4-3.3" fill="none" stroke-width="0.63"/>
<path d="M400.9 116.5l1.5 .3 6.4-3.2-1.5-.4z" stroke="none"/><path d="M407.3 113.2l1.5 .4M400.9 116.5l6.4-3.3M402.4 116.8l6.4-3.2" fill="none" stroke-width="0.63"/>
<path d="M402.4 116.8l.7 1.3 6.4-3.3-.7-1.2z" stroke="none"/><path d="M408.8 113.6l.7 1.2M402.4 116.8l6.4-3.2M403.1 118.1l6.4-3.3" fill="none" stroke-width="0.63"/>
<path d="M389.4 89.8l-.7 1.4 6.4-3.3 .7-1.3z" stroke="none"/><path d="M395.8 86.6l-.7 1.3M389.4 89.8l6.4-3.2M388.7 91.2l6.4-3.3" fill="none" stroke-width="0.63"/>
<path d="M403.1 118.1l.8 0 6.4-3.3-.8 0z" stroke="none"/><path d="M409.5 114.8l.8 0M403.1 118.1l6.4-3.3M403.9 118.1l6.4-3.3" fill="none" stroke-width="0.63"/>
<path d="M388.9 88.6l.5 1.2 6.4-3.2-.5-1.3z" stroke="none"/><path d="M395.3 85.3l.5 1.3M388.9 88.6l6.4-3.3M389.4 89.8l6.4-3.2" fill="none" stroke-width="0.63"/>
<path d="M389.4 87.9l-.5 .7 6.4-3.3 .5-.6z" stroke="none"/><path d="M395.8 84.7l-.5 .6M389.4 87.9l6.4-3.2M388.9 88.6l6.4-3.3" fill="none" stroke-width="0.63"/>
<path d="M408.2 127l1-1 6.4-3.2-1 1z" stroke="none"/><path d="M414.6 123.8l1-1M408.2 127l6.4-3.2M409.2 126l6.4-3.2" fill="none"/>
<path d="M385.5 79.6l-1.3 .2 6.4-3.2 1.3-.2z" stroke="none"/><path d="M391.9 76.4l-1.3 .2M385.5 79.6l6.4-3.2M384.2 79.8l6.4-3.2" fill="none"/>
<path d="M403.9 116.9l1.4-.3 6.4-3.2-1.4 .2z" stroke="none"/><path d="M410.3 113.6l1.4-.2M403.9 116.9l6.4-3.3M405.3 116.6l6.4-3.2" fill="none" stroke-width="0.63"/>
<path d="M409.2 126l-.5-2.4 6.4-3.2 .5 2.4z" stroke="none"/><path d="M415.6 122.8l-.5-2.4M409.2 126l6.4-3.2" fill="none"/>
<path d="M387.2 81.4l-1.7-1.8 6.4-3.2 1.7 1.8z" stroke="none"/><path d="M393.6 78.2l-1.7-1.8M385.5 79.6l6.4-3.2" fill="none"/>
<path d="M391.4 87.9l-1.1 .8 6.5-3.2 1.1-.9z" stroke="none"/><path d="M397.9 84.6l-1.1 .9M391.4 87.9l6.5-3.3M390.3 88.7l6.5-3.2" fill="none" stroke-width="0.63"/>
<path d="M405.3 116.6l.8 1.1 6.5-3.3-.9-1z" stroke="none"/><path d="M411.7 113.4l.9 1M405.3 116.6l6.4-3.2M406.1 117.7l6.5-3.3" fill="none" stroke-width="0.63"/>
<path d="M408.7 123.6l-1-3.1 6.5-3.2 .9 3.1z" stroke="none"/><path d="M415.1 120.4l-.9-3.1M407.7 120.5l6.5-3.2" fill="none"/>
<path d="M389.1 84l-1.9-2.6 6.4-3.2 2 2.6z" stroke="none"/><path d="M395.6 80.8l-2-2.6M389.1 84l6.5-3.2" fill="none"/>
<path d="M406.1 117.7l.7-.3 6.5-3.3-.7 .3z" stroke="none"/><path d="M412.6 114.4l.7-.3M406.1 117.7l6.5-3.3M406.8 117.4l6.5-3.3" fill="none" stroke-width="0.63"/>
<path d="M407.7 120.5l.4-.6 6.5-3.2-.4 .6z" stroke="none"/><path d="M414.2 117.3l.4-.6M407.7 120.5l6.5-3.2M408.1 119.9l6.5-3.2" fill="none"/>
<path d="M389.9 84.1l-.8-.1 6.5-3.2 .7 0z" stroke="none"/><path d="M396.3 80.8l-.7 0M389.9 84.1l6.4-3.3M389.1 84l6.5-3.2" fill="none"/>
<path d="M391.2 86.6l.2 1.3 6.5-3.3-.3-1.3z" stroke="none"/><path d="M397.6 83.3l.3 1.3M391.2 86.6l6.4-3.3M391.4 87.9l6.5-3.3" fill="none" stroke-width="0.63"/>
<path d="M407.7 115.3l.9 .8 6.4-3.3-.9-.8z" stroke="none"/><path d="M414.1 112l.9 .8M407.7 115.3l6.4-3.3M408.6 116.1l6.4-3.3" fill="none" stroke-width="0.63"/>
<path d="M394.1 85.9l0 1.2 6.4-3.3 0-1.2z" stroke="none"/><path d="M400.5 82.6l0 1.2M394.1 85.9l6.4-3.3M394.1 87.1l6.4-3.3" fill="none" stroke-width="0.63"/>
<path d="M413.8 124.2l.5-1.7 6.4-3.2-.4 1.6z" stroke="none"/><path d="M420.3 120.9l.4-1.6M413.8 124.2l6.5-3.3M414.3 122.5l6.4-3.2" fill="none"/>
<path d="M391.3 77.6l-1.5-.6 6.4-3.3 1.6 .6z" stroke="none"/><path d="M397.8 74.3l-1.6-.6M391.3 77.6l6.5-3.3M389.8 77l6.4-3.3" fill="none"/>
<path d="M413.2 120.2l-1.7-2.8 6.4-3.3 1.7 2.8z" stroke="none"/><path d="M419.6 116.9l-1.7-2.8M411.5 117.4l6.4-3.3" fill="none"/>
<path d="M393.9 82.9l-1.3-3 6.4-3.3 1.3 3z" stroke="none"/><path d="M400.3 79.6l-1.3-3M393.9 82.9l6.4-3.3" fill="none"/>
<path d="M414.3 122.5l-1.1-2.3 6.4-3.3 1.1 2.4z" stroke="none"/><path d="M420.7 119.3l-1.1-2.4M414.3 122.5l6.4-3.2" fill="none"/>
<path d="M392.6 79.9l-1.3-2.3 6.5-3.3 1.2 2.3z" stroke="none"/><path d="M399 76.6l-1.2-2.3M391.3 77.6l6.5-3.3" fill="none"/>
<path d="M411.5 117.4l.1-.9 6.4-3.3-.1 .9z" stroke="none"/><path d="M417.9 114.1l.1-.9M411.5 117.4l6.4-3.3" fill="none"/>
<path d="M394.7 83.3l-.8-.4 6.4-3.3 .8 .5z" stroke="none"/><path d="M401.1 80.1l-.8-.5M393.9 82.9l6.4-3.3" fill="none"/>
<path d="M409.3 112.8l1 .5 6.4-3.3-1-.5z" stroke="none"/><path d="M415.7 109.5l1 .5M409.3 112.8l6.4-3.3M410.3 113.3l6.4-3.3" fill="none" stroke-width="0.63"/>
<path d="M411.6 116.5l.5-.4 6.4-3.3-.5 .4z" stroke="none"/><path d="M418 113.2l.5-.4M412.1 116.1l6.4-3.3" fill="none"/>
<path d="M395.3 83.1l-.6 .2 6.4-3.2 .6-.3z" stroke="none"/><path d="M401.7 79.8l-.6 .3M395.3 83.1l6.4-3.3" fill="none"/>
<path d="M397.4 86.5l-.3 1 6.4-3.2 .3-1.1z" stroke="none"/><path d="M403.8 83.2l-.3 1.1M397.4 86.5l6.4-3.3M397.1 87.5l6.4-3.2" fill="none" stroke-width="0.63"/>
<path d="M410.1 109.5l1 .1 6.4-3.3-.9-.1z" stroke="none"/><path d="M416.6 106.2l.9 .1M410.1 109.5l6.5-3.3M411.1 109.6l6.4-3.3" fill="none" stroke-width="0.63"/>
<path d="M400.8 88.4l-.5 .7 6.4-3.3 .6-.7z" stroke="none"/><path d="M407.3 85.1l-.6 .7M400.8 88.4l6.5-3.3M400.3 89.1l6.4-3.3" fill="none" stroke-width="0.63"/>
<path d="M416.2 118.9l1-1 6.4-3.3-.9 1z" stroke="none"/><path d="M422.7 115.6l.9-1M416.2 118.9l6.5-3.3" fill="none"/>
<path d="M396.8 77.9l-1.3 .2 6.4-3.2 1.3-.3z" stroke="none"/><path d="M403.2 74.6l-1.3 .3M395.5 78.1l6.4-3.2" fill="none"/>
<path d="M413.3 111.8l-.2-1 6.4-3.3 .2 1.1z" stroke="none"/><path d="M419.7 108.6l-.2-1.1M413.3 111.8l6.4-3.2" fill="none"/>
<path d="M400.1 85.4l-.7-.7 6.5-3.3 .7 .8z" stroke="none"/><path d="M406.6 82.2l-.7-.8M399.4 84.7l6.5-3.3" fill="none"/>
<path d="M410.1 105.5l.8-.2 6.4-3.3-.8 .3z" stroke="none"/><path d="M416.5 102.3l.8-.3M410.1 105.5l6.4-3.2M410.9 105.3l6.4-3.3" fill="none" stroke-width="0.63"/>
<path d="M415.4 113.9l-2.1-2.1 6.4-3.2 2.2 2.1z" stroke="none"/><path d="M421.9 110.7l-2.2-2.1M413.3 111.8l6.4-3.2" fill="none"/>
<path d="M399.4 84.7l-.4-3 6.4-3.3 .5 3z" stroke="none"/><path d="M405.9 81.4l-.5-3M399.4 84.7l6.5-3.3" fill="none"/>
<path d="M413.1 110.8l.3-.7 6.4-3.3-.3 .7z" stroke="none"/><path d="M419.5 107.5l.3-.7M413.4 110.1l6.4-3.3" fill="none"/>
<path d="M400.9 85.6l-.8-.2 6.5-3.2 .7 .1z" stroke="none"/><path d="M407.3 82.3l-.7-.1M400.9 85.6l6.4-3.3" fill="none"/>
<path d="M404.1 91.3l-.7 .4 6.4-3.2 .8-.4z" stroke="none"/><path d="M410.6 88.1l-.8 .4M404.1 91.3l6.5-3.2M403.4 91.7l6.4-3.2" fill="none" stroke-width="0.63"/>
<path d="M417.2 117.9l-.2-2 6.4-3.2 .2 1.9z" stroke="none"/><path d="M423.6 114.6l-.2-1.9M417 115.9l6.4-3.2" fill="none"/>
<path d="M398.3 79.2l-1.5-1.3 6.4-3.3 1.5 1.4z" stroke="none"/><path d="M404.7 76l-1.5-1.4M398.3 79.2l6.4-3.2" fill="none"/>
<path d="M417 115.9l-1.6-2 6.5-3.2 1.5 2z" stroke="none"/><path d="M423.4 112.7l-1.5-2M417 115.9l6.4-3.2" fill="none"/>
<path d="M399 81.7l-.7-2.5 6.4-3.2 .7 2.4z" stroke="none"/><path d="M405.4 78.4l-.7-2.4M398.3 79.2l6.4-3.2" fill="none"/>
<path d="M412.9 104.8l-.5-1 6.5-3.3 .4 1z" stroke="none"/><path d="M419.3 101.5l-.4-1M412.9 104.8l6.4-3.3" fill="none"/>
<path d="M405.4 90.1l-.5-1 6.4-3.3 .6 1z" stroke="none"/><path d="M411.9 86.8l-.6-1M404.9 89.1l6.4-3.3" fill="none"/>
<path d="M412.4 103.8l.1-.9 6.4-3.3 0 .9z" stroke="none"/><path d="M418.9 100.5l0-.9M412.5 102.9l6.4-3.3" fill="none"/>
<path d="M406.2 90.6l-.8-.5 6.5-3.3 .7 .5z" stroke="none"/><path d="M412.6 87.3l-.7-.5M406.2 90.6l6.4-3.3" fill="none"/>
<path d="M415.2 105.9l-2.3-1.1 6.4-3.3 2.3 1.1z" stroke="none"/><path d="M421.6 102.6l-2.3-1.1M412.9 104.8l6.4-3.3" fill="none"/>
<path d="M404.9 89.1l.5-2.5 6.4-3.3-.5 2.5z" stroke="none"/><path d="M411.3 85.8l.5-2.5M404.9 89.1l6.4-3.3" fill="none"/>
<path d="M410.4 97.4l-.6-.9 6.4-3.3 .6 .9z" stroke="none"/><path d="M416.8 94.1l-.6-.9M410.4 97.4l6.4-3.3" fill="none"/>
<path d="M409.8 96.5l-.3-1 6.4-3.3 .3 1z" stroke="none"/><path d="M416.2 93.2l-.3-1M409.5 95.5l6.4-3.3" fill="none"/>
<path d="M417.4 110.9l.4-1.6 6.4-3.3-.4 1.6z" stroke="none"/><path d="M423.8 107.6l.4-1.6M417.4 110.9l6.4-3.3" fill="none"/>
<path d="M404.2 82.5l-1.6-.6 6.5-3.2 1.5 .6z" stroke="none"/><path d="M410.6 79.3l-1.5-.6M402.6 81.9l6.5-3.2" fill="none"/>
<path d="M417 107.2l-1.8-1.3 6.4-3.3 1.9 1.3z" stroke="none"/><path d="M423.5 103.9l-1.9-1.3M417 107.2l6.5-3.3" fill="none"/>
<path d="M405.4 86.6l0-2.2 6.4-3.3 0 2.2z" stroke="none"/><path d="M411.8 83.3l0-2.2M405.4 84.4l6.4-3.3" fill="none"/>
<path d="M412.5 97.3l-2.1 .1 6.4-3.3 2.1-.1z" stroke="none"/><path d="M418.9 94l-2.1 .1M410.4 97.4l6.4-3.3" fill="none"/>
<path d="M409.5 95.5l1.3-1.7 6.4-3.2-1.3 1.6z" stroke="none"/><path d="M415.9 92.2l1.3-1.6M409.5 95.5l6.4-3.3" fill="none"/>
<path d="M405.4 84.4l-1.2-1.9 6.4-3.2 1.2 1.8z" stroke="none"/><path d="M411.8 81.1l-1.2-1.8M405.4 84.4l6.4-3.3" fill="none"/>
<path d="M417.8 109.3l-.8-2.1 6.5-3.3 .7 2.1z" stroke="none"/><path d="M424.2 106l-.7-2.1M417 107.2l6.5-3.3" fill="none"/>
<path d="M409.3 88.8l-1.5 .5 6.4-3.2 1.5-.6z" stroke="none"/><path d="M415.7 85.5l-1.5 .6M409.3 88.8l6.4-3.3M407.8 89.3l6.4-3.2" fill="none"/>
<path d="M414.4 102.3l1.3-.8 6.4-3.3-1.3 .9z" stroke="none"/><path d="M420.8 99.1l1.3-.9M414.4 102.3l6.4-3.2M415.7 101.5l6.4-3.3" fill="none"/>
<path d="M414.3 97.7l-1.8-.4 6.4-3.3 1.8 .4z" stroke="none"/><path d="M420.7 94.4l-1.8-.4M414.3 97.7l6.4-3.3" fill="none"/>
<path d="M410.8 93.8l.7-1.6 6.4-3.3-.7 1.7z" stroke="none"/><path d="M417.2 90.6l.7-1.7M411.5 92.2l6.4-3.3" fill="none"/>
<path d="M415.7 101.5l-.2-2 6.5-3.3 .1 2z" stroke="none"/><path d="M422.1 98.2l-.1-2M415.7 101.5l6.4-3.3" fill="none"/>
<path d="M410.8 90.1l-1.5-1.3 6.4-3.3 1.5 1.3z" stroke="none"/><path d="M417.2 86.8l-1.5-1.3M409.3 88.8l6.4-3.3" fill="none"/>
<path d="M415.5 99.5l-1.2-1.8 6.4-3.3 1.3 1.8z" stroke="none"/><path d="M422 96.2l-1.3-1.8M414.3 97.7l6.4-3.3" fill="none"/>
<path d="M411.5 92.2l-.7-2.1 6.4-3.3 .7 2.1z" stroke="none"/><path d="M417.9 88.9l-.7-2.1M411.5 92.2l6.4-3.3" fill="none"/>
<path d="M407.7 120.5l.4-.6 .8 .1 1.9 2.6 1.7 1.8 1.3-.2 .5-1.7-1.1-2.3-1.7-2.8 .1-.9 .5-.4 2.3 1.8 1.8 1 1-1-.2-2-1.6-2-2.1-2.1-.2-1 .3-.7 2.3 .7 1.7 .1 .4-1.6-.8-2.1-1.8-1.3-2.3-1.1-.5-1 .1-.9 1.9-.6 1.3-.8-.2-2-1.2-1.8-1.8-.4-2.1 .1-.6-.9-.3-1 1.3-1.7 .7-1.6-.7-2.1-1.5-1.3-1.5 .5-1.6 1.3-.8-.5-.5-1 .5-2.5 0-2.2-1.2-1.9-1.6-.6-.9 1.5-.8 2.2-.8-.2-.7-.7-.4-3-.7-2.5-1.5-1.3-1.3 .2-.3 2.1 .1 2.9-.6 .2-.8-.4-1.3-3-1.3-2.3-1.5-.6-1 1 .5 2.4 1 3.1-.4 .6-.8-.1-1.9-2.6-1.7-1.8-1.3 .2-.5 1.7 1.1 2.3 1.7 2.8-.1 .9-.5 .4-2.3-1.8-1.8-1-1 1 .2 2 1.6 2 2.1 2.1 .2 1-.3 .7-2.3-.7-1.7-.1-.4 1.6 .8 2.1 1.8 1.3 2.3 1.1 .5 1-.1 .9-1.9 .6-1.3 .8 .2 2 1.2 1.8 1.8 .4 2.1-.1 .6 .9 .3 1-1.3 1.7-.7 1.6 .7 2.1 1.5 1.3 1.5-.5 1.6-1.3 .8 .5 .5 1-.5 2.5 0 2.2 1.2 1.9 1.6 .6 .9-1.5 .8-2.2 .8 .2 .7 .7 .4 3 .7 2.5 1.5 1.3 1.3-.2 .3-2.1-.1-2.9 .6-.2 .8 .4 1.3 3 1.3 2.3 1.5 .6 1-1-.5-2.4zM406.8 117.4l-.2-1.3 1.1-.8 .9 .8 .5-.7-.5-1.2 .7-1.4 1 .5 .3-.9-.8-1.2 .3-1.7 1 .1 0-1.1-.9-.9-.1-2.1 .8-.2-.2-1.2-1-.6-.6-2.2 .6-.6-.4-1.2-1-.3-1-2 .4-1-.7-1.1-.9 .1-1.3-1.8 .1-1.2-.8-.9-.7 .4-1.5-1.4-.2-1.3-.9-.6-.5 .7-1.6-.9-.4-1.3-.9-.4-.3 1-1.5-.3-.7-1.3-.8 0 0 1.2-1.4 .3-.8-1.1-.7 .3 .2 1.3-1.1 .8-.9-.8-.5 .7 .5 1.2-.7 1.4-1-.5-.3 .9 .8 1.2-.3 1.7-1-.1 0 1.1 .9 .9 .1 2.1-.8 .2 .2 1.2 1 .6 .6 2.2-.6 .6 .4 1.2 1 .3 1 2-.4 1 .7 1.1 .9-.1 1.3 1.8-.1 1.2 .8 .9 .7-.4 1.5 1.4 .2 1.3 .9 .6 .5-.7 1.6 .9 .4 1.3 .9 .4 .3-1 1.5 .3 .7 1.3 .8 0 0-1.2 1.4-.3 .8 1.1z" fill-rule="evenodd"/>
<path d="M90.8 487.8l1.3-.9 1.2-1.2 .9-1.5 .7-1.6 .4-2 .2-2 0-2.3-.3-2.3-.5-2.4-.7-2.4-1-2.4-1.1-2.4-1.4-2.2-1.5-2.2-1.6-1.9-1.8-1.7-1.8-1.5-1.8-1.3-1.9-.9-1.8-.7-1.8-.3-1.7-.1-1.6 .3-1.5 .6-1.3 .9-1.1 1.2-.9 1.5-.7 1.6-.5 2-.2 2 0 2.3 .3 2.3 .5 2.4 .8 2.4 .9 2.4 1.2 2.4 1.3 2.2 1.5 2.2 1.7 1.9 1.7 1.7 1.8 1.5 1.9 1.3 1.8 .9 1.9 .7 1.8 .3 1.7 .1 1.6-.3zM88.2 482.8l.9-.6 .8-.9 .7-1 .5-1.2 .3-1.4 .1-1.5 0-1.6-.2-1.7-.3-1.7-.6-1.8-.7-1.7-.8-1.7-1-1.6-1.1-1.5-1.1-1.4-1.3-1.3-1.3-1.1-1.3-.9-1.4-.6-1.3-.5-1.3-.3-1.2 0-1.2 .2-1 .5-1 .6-.8 .9-.6 1-.5 1.2-.3 1.4-.2 1.5 0 1.6 .2 1.7 .4 1.7 .5 1.8 .7 1.7 .9 1.7 .9 1.6 1.1 1.5 1.2 1.4 1.2 1.3 1.3 1.1 1.4 .9 1.3 .6 1.3 .5 1.3 .3 1.3 0 1.1-.2z" fill-rule="evenodd" stroke-width="0.95"/>
<path d="M95.7 445.9l-.8 .6-.7 .7-.6 .9-.4 1.1-.3 1.2-.2 1.3 0 1.4 .2 1.5 .3 1.5 .5 1.6 .6 1.5 .8 1.5 .8 1.4 .9 1.3 1.1 1.3 1.1 1.1 1.1 .9 1.2 .8 1.2 .6 1.1 .4 1.2 .2 1.1 0 1-.1 .9-.4 8.4-4.6-.9 .4-1 .2-1.1 0-1.1-.3-1.2-.4-1.2-.6-1.1-.8-1.2-.9-1.1-1.1-1-1.2-1-1.4-.8-1.4-.7-1.5-.7-1.5-.4-1.6-.3-1.5-.2-1.4 0-1.5 .1-1.3 .3-1.2 .4-1.1 .6-.9 .7-.7 .8-.6z" stroke="none" fill="#a0a0a0"/>
<path d="M95.7 445.9l8.4-4.6-.8 .6-.7 .7-.6 .9-.4 1.1-.3 1.2-.1 1.3 0 1.5 .2 1.4 .3 1.5 .4 1.6 .7 1.5 .7 1.5 .8 1.4 1 1.4 1 1.2 1.1 1.1 1.2 .9 1.1 .8 1.2 .6 1.2 .4 1.1 .3 1.1 0 1-.2 .9-.4-8.4 4.6" fill="none"/>
<path d="M96.1 445.8l-.9 1.1 5.9-3.2 .9-1.1z" fill="#f0f0f0" stroke-width="0.72"/>
<path d="M94.3 449l-.3 1.8 5.9-3.2 .3-1.8z" fill="#f0f0f0" stroke-width="0.72"/>
<path d="M94.2 453.8l.4 2 5.9-3.2-.4-2.1z" fill="#f0f0f0" stroke-width="0.72"/>
<path d="M95.8 459l1.1 2 5.9-3.2-1.1-2z" fill="#f0f0f0" stroke-width="0.72"/>
<path d="M98.9 463.7l1.5 1.5 5.9-3.2-1.5-1.5z" fill="#f0f0f0" stroke-width="0.72"/>
<path d="M102.8 466.9l1.6 .8 5.9-3.2-1.6-.8z" fill="#f0f0f0" stroke-width="0.72"/>
<path d="M106.7 468.1l1.4-.2 5.9-3.2-1.4 .2z" fill="#f0f0f0" stroke-width="0.72"/>
<path d="M108.9 470.3l1-.7 .9-.9 .6-1.1 .6-1.2 .3-1.5 .2-1.5-.1-1.7-.2-1.8-.3-1.8-.6-1.8-.7-1.8-.9-1.8-1-1.7-1.1-1.6-1.3-1.4-1.3-1.3-1.3-1.2-1.4-.9-1.4-.7-1.4-.5-1.4-.3-1.3 0-1.2 .2-1.1 .5 8.5-4.6 1.1-.5 1.2-.2 1.3 0 1.3 .3 1.4 .5 1.4 .7 1.4 .9 1.4 1.2 1.3 1.3 1.2 1.4 1.1 1.6 1 1.7 .9 1.8 .7 1.8 .6 1.8 .4 1.9 .2 1.7 0 1.7-.2 1.6-.3 1.4-.5 1.3-.7 1.1-.8 .9-1 .6z" stroke="none" fill="#c4c4c4"/>
<path d="M108.9 470.3l8.5-4.6 1-.6 .8-.9 .7-1.1 .5-1.3 .3-1.4 .2-1.6 0-1.7-.2-1.7-.4-1.9-.6-1.8-.7-1.8-.9-1.8-1-1.7-1.1-1.6-1.2-1.4-1.3-1.3-1.4-1.2-1.4-.9-1.4-.7-1.4-.5-1.3-.3-1.3 0-1.2 .2-1.1 .5-8.5 4.6" fill="none" stroke-width="0.99"/>
<path d="M111.1 469l1.3-1.5 5.9-3.2-1.3 1.5z" fill="#fafafa" stroke-width="0.72"/>
<path d="M98.8 442.4l-2 .3 5.9-3.2 2-.3z" fill="#fafafa" stroke-width="0.72"/>
<path d="M113.4 465.2l.3-2.5 5.9-3.2-.3 2.5z" fill="#fafafa" stroke-width="0.72"/>
<path d="M103.5 443.9l-2.3-1.1 5.9-3.2 2.3 1.1z" fill="#fafafa" stroke-width="0.72"/>
<path d="M113.6 459.7l-.7-3 5.9-3.2 .7 3z" fill="#fafafa" stroke-width="0.72"/>
<path d="M108.1 447.8l-2.1-2.1 5.9-3.2 2.1 2.1z" fill="#fafafa" stroke-width="0.72"/>
<path d="M111.7 453.5l-1.6-2.9 6-3.2 1.5 2.9z" fill="#fafafa" stroke-width="0.72"/>
<path d="M108.9 470.3l1.2-.8 1-1.2 .7-1.4 .5-1.7 .2-1.8-.1-2.1-.3-2.1-.6-2.2-.8-2.2-1-2.1-1.2-2-1.4-1.9-1.5-1.6-1.7-1.5-1.6-1.1-1.7-.8-1.7-.5-1.6-.2-1.4 .2-1.4 .5-1.1 .8-1 1.2-.7 1.4-.5 1.6-.2 1.9 .1 2 .3 2.2 .5 2.2 .8 2.1 1.1 2.2 1.2 2 1.4 1.9 1.5 1.6 1.6 1.4 1.7 1.2 1.7 .8 1.6 .5 1.6 .2 1.5-.2zM107.8 468.2l1-.7 .8-1 .6-1.2 .4-1.4 .2-1.5-.1-1.7-.3-1.8-.4-1.9-.7-1.8-.9-1.8-1-1.7-1.2-1.6-1.2-1.4-1.4-1.2-1.4-.9-1.4-.7-1.4-.4-1.3-.2-1.3 .2-1.1 .4-1 .7-.8 1-.6 1.2-.4 1.4-.2 1.5 .1 1.7 .2 1.8 .5 1.8 .7 1.9 .9 1.8 1 1.7 1.1 1.5 1.3 1.4 1.4 1.2 1.4 1 1.4 .7 1.4 .4 1.3 .2 1.3-.2z" fill-rule="evenodd" stroke-width="1.03"/>
<path d="M129.1 456.8l1.6-.9 9.8-5.3-1.5 .9z" stroke="none"/><path d="M139 451.5l1.5-.9M129.1 456.8l9.9-5.3" fill="none"/>
<path d="M118.7 432.4l-1.7 .6 9.8-5.4 1.8-.5z" stroke="none"/><path d="M128.6 427.1l-1.8 .5M117 433l9.8-5.4" fill="none"/>
<path d="M123.3 438.4l-2.2 .9 9.8-5.3 2.2-1z" stroke="none"/><path d="M133.1 433l-2.2 1M123.3 438.4l9.8-5.4M121.1 439.3l9.8-5.3" fill="none"/>
<path d="M134.2 462.7l1.2-1.4 9.9-5.4-1.3 1.4z" stroke="none"/><path d="M144 457.3l1.3-1.4M134.2 462.7l9.8-5.4" fill="none"/>
<path d="M130.7 455.9l1.8-1.6 9.8-5.3-1.8 1.6z" stroke="none"/><path d="M140.5 450.6l1.8-1.6M132.5 454.3l9.8-5.3" fill="none"/>
<path d="M117.3 425.6l-2 0 9.9-5.3 1.9-.1z" stroke="none"/><path d="M127.1 420.2l-1.9 .1M115.3 425.6l9.9-5.3" fill="none"/>
<path d="M121.2 432.1l-2.5 .3 9.9-5.3 2.4-.3z" stroke="none"/><path d="M131 426.8l-2.4 .3M121.2 432.1l9.8-5.3" fill="none"/>
<path d="M135.4 461.3l1.4-2.2 9.8-5.3-1.3 2.1z" stroke="none"/><path d="M145.3 455.9l1.3-2.1M136.8 459.1l9.8-5.3" fill="none"/>
<path d="M139.6 467.6l.9-1.8 9.9-5.4-1 1.8z" stroke="none"/><path d="M149.4 462.2l1-1.8M139.6 467.6l9.8-5.4" fill="none"/>
<path d="M119.9 425.9l-2.6-.3 9.8-5.4 2.7 .4z" stroke="none"/><path d="M129.8 420.6l-2.7-.4M119.9 425.9l9.9-5.3" fill="none"/>
<path d="M116.8 419l-2.1-.4 9.8-5.4 2.1 .5z" stroke="none"/><path d="M126.6 413.7l-2.1-.5M114.7 418.6l9.8-5.4" fill="none"/>
<path d="M140.5 465.8l.9-2.7 9.9-5.3-.9 2.6z" stroke="none"/><path d="M150.4 460.4l.9-2.6M141.4 463.1l9.9-5.3" fill="none"/>
<path d="M145.2 471.4l.6-2.1 9.8-5.4-.5 2.2z" stroke="none"/><path d="M155.1 466.1l.5-2.2M145.2 471.4l9.9-5.3" fill="none"/>
<path d="M119.5 420l-2.7-1 9.8-5.3 2.7 1z" stroke="none"/><path d="M129.3 414.7l-2.7-1M119.5 420l9.8-5.3" fill="none"/>
<path d="M145.8 469.3l.4-3.1 9.9-5.3-.5 3z" stroke="none"/><path d="M155.6 463.9l.5-3M146.2 466.2l9.9-5.3" fill="none"/>
<path d="M117.2 413l-2.2-.9 9.9-5.4 2.1 .9z" stroke="none"/><path d="M127 407.6l-2.1-.9M115 412.1l9.9-5.4" fill="none"/>
<path d="M120 414.6l-2.8-1.6 9.8-5.4 2.8 1.6z" stroke="none"/><path d="M129.8 409.2l-2.8-1.6M120 414.6l9.8-5.4" fill="none"/>
<path d="M150.9 474.1l.2-2.5 9.8-5.3-.2 2.4z" stroke="none"/><path d="M160.7 468.7l.2-2.4M150.9 474.1l9.8-5.4" fill="none"/>
<path d="M116.4 406.2l-1 .6 9.9-5.4 .9-.5z" stroke="none"/><path d="M126.2 400.9l-.9 .5M115.4 406.8l9.9-5.4" fill="none"/>
<path d="M151.1 471.6l-.1-3.3 9.9-5.4 0 3.4z" stroke="none"/><path d="M160.9 466.3l0-3.4M151 468.3l9.9-5.4" fill="none"/>
<path d="M118.5 407.6l-2.1-1.4 9.8-5.3 2.2 1.4z" stroke="none"/><path d="M128.4 402.3l-2.2-1.4" fill="none"/>
<path d="M155.5 476.1l.9-.7 9.9-5.3-.9 .7z" stroke="none"/><path d="M165.4 470.8l.9-.7M155.5 476.1l9.9-5.3" fill="none"/>
<path d="M121.3 409.8l-2.8-2.2 9.9-5.3 2.7 2.1z" stroke="none"/><path d="M131.1 404.4l-2.7-2.1M121.3 409.8l9.8-5.4" fill="none"/>
<path d="M156.4 475.4l-.2-2.6 9.9-5.3 .2 2.6z" stroke="none"/><path d="M166.3 470.1l-.2-2.6" fill="none"/>
<path d="M121.8 409.5l-.5 .3 9.8-5.4 .5-.2z" stroke="none"/><path d="M131.6 404.2l-.5 .2M121.8 409.5l9.8-5.3M121.3 409.8l9.8-5.4" fill="none"/>
<path d="M156.2 472.8l-.5-3.5 9.8-5.4 .6 3.6z" stroke="none"/><path d="M166.1 467.5l-.6-3.6M155.7 469.3l9.8-5.4" fill="none"/>
<path d="M118.7 401.3l-1.1 .2 9.8-5.3 1.2-.2z" stroke="none"/><path d="M128.6 396l-1.2 .2M117.6 401.5l9.8-5.3" fill="none"/>
<path d="M155.7 469.3l.4-.4 9.9-5.4-.5 .4z" stroke="none"/><path d="M165.5 463.9l.5-.4M155.7 469.3l9.8-5.4M156.1 468.9l9.9-5.4" fill="none"/>
<path d="M120.8 403.1l-2.1-1.8 9.9-5.3 2 1.8z" stroke="none"/><path d="M130.6 397.8l-2-1.8" fill="none"/>
<path d="M123.4 405.7l-2.6-2.6 9.8-5.3 2.6 2.6z" stroke="none"/><path d="M133.2 400.4l-2.6-2.6M123.4 405.7l9.8-5.3" fill="none"/>
<path d="M160.9 476.5l.7-1 9.9-5.3-.7 .9z" stroke="none"/><path d="M170.8 471.1l.7-.9M160.9 476.5l9.9-5.4" fill="none"/>
<path d="M124 405.6l-.6 .1 9.8-5.3 .6-.1z" stroke="none"/><path d="M133.8 400.3l-.6 .1M124 405.6l9.8-5.3M123.4 405.7l9.8-5.3" fill="none"/>
<path d="M161.6 475.5l-.5-2.8 9.8-5.3 .6 2.8z" stroke="none"/><path d="M171.5 470.2l-.6-2.8" fill="none"/>
<path d="M161.1 472.7l-1.1-3.6 9.9-5.3 1 3.6z" stroke="none"/><path d="M170.9 467.4l-1-3.6M160 469.1l9.9-5.3" fill="none"/>
<path d="M121.9 397.5l-1.2-.1 9.9-5.4 1.2 .1z" stroke="none"/><path d="M131.8 392.1l-1.2-.1M120.7 397.4l9.9-5.4" fill="none"/>
<path d="M139.9 422.4l-.9 .6-.8 .8-.6 1-.5 1.2-.3 1.3-.1 1.4 0 1.5 .2 1.6 .3 1.6 .5 1.7 .7 1.6 .8 1.6 .9 1.6 1 1.4 1.1 1.3 1.2 1.2 1.2 1 1.3 .9 1.3 .6 1.2 .5 1.2 .2 1.2 0 1.1-.2 1-.4 9.8-5.3-1 .4-1.1 .2-1.1 0-1.2-.3-1.3-.4-1.3-.7-1.2-.8-1.3-1-1.1-1.2-1.2-1.3-1-1.5-.9-1.5-.8-1.6-.6-1.7-.5-1.6-.4-1.6-.2-1.6 0-1.5 .2-1.5 .3-1.3 .4-1.1 .7-1 .7-.8 .9-.6z" stroke="none"/>
<path d="M160 469.1l.4-.5 9.8-5.3-.3 .5z" stroke="none"/><path d="M169.9 463.8l.3-.5M160 469.1l9.9-5.3M160.4 468.6l9.8-5.3" fill="none"/>
<path d="M139.9 422.4l9.8-5.3-.9 .6-.7 .8-.7 1-.4 1.1-.3 1.3-.2 1.5 0 1.5 .2 1.6 .4 1.6 .5 1.6 .6 1.7 .8 1.6 .9 1.5 1 1.5 1.2 1.3 1.1 1.2 1.3 1 1.2 .8 1.3 .7 1.3 .4 1.2 .3 1.1 0 1.1-.2 1-.4-9.8 5.3" fill="none" stroke-width="0.72"/>
<path d="M123.9 399.6l-2-2.1 9.9-5.4 1.9 2.2z" stroke="none"/><path d="M133.7 394.3l-1.9-2.2" fill="none"/>
<path d="M126.2 402.6l-2.3-3 9.8-5.3 2.4 3z" stroke="none"/><path d="M136.1 397.3l-2.4-3M126.2 402.6l9.9-5.3" fill="none"/>
<path d="M126.9 402.7l-.7-.1 9.9-5.3 .6 .1z" stroke="none"/><path d="M136.7 397.4l-.6-.1M126.9 402.7l9.8-5.3M126.2 402.6l9.9-5.3" fill="none"/>
<path d="M165.9 475.4l.5-1.2 9.8-5.3-.5 1.2z" stroke="none"/><path d="M175.7 470.1l.5-1.2M165.9 475.4l9.8-5.3" fill="none"/>
<path d="M166.4 474.2l-1-2.8 9.9-5.3 .9 2.8z" stroke="none"/><path d="M176.2 468.9l-.9-2.8" fill="none"/>
<path d="M165.4 471.4l-1.5-3.5 9.9-5.4 1.5 3.6z" stroke="none"/><path d="M175.3 466.1l-1.5-3.6M163.9 467.9l9.9-5.4" fill="none"/>
<path d="M163.9 467.9l.3-.7 9.8-5.3-.2 .6z" stroke="none"/><path d="M173.8 462.5l.2-.6M163.9 467.9l9.9-5.4M164.2 467.2l9.8-5.3" fill="none"/>
<path d="M126 394.8l-1.3-.4 9.8-5.3 1.3 .4z" stroke="none"/><path d="M135.8 389.5l-1.3-.4M124.7 394.4l9.8-5.3" fill="none"/>
<path d="M127.7 397.2l-1.7-2.4 9.8-5.3 1.7 2.4z" stroke="none"/><path d="M137.5 391.9l-1.7-2.4" fill="none"/>
<path d="M129.7 400.6l-2-3.4 9.8-5.3 2 3.3z" stroke="none"/><path d="M139.5 395.2l-2-3.3M129.7 400.6l9.8-5.4" fill="none"/>
<path d="M130.4 400.8l-.7-.2 9.8-5.4 .7 .3z" stroke="none"/><path d="M140.2 395.5l-.7-.3M130.4 400.8l9.8-5.3M129.7 400.6l9.8-5.4" fill="none"/>
<path d="M170.2 473.1l.2-1.4 9.9-5.3-.3 1.4z" stroke="none"/><path d="M180 467.8l.3-1.4M170.2 473.1l9.8-5.3" fill="none"/>
<path d="M170.4 471.7l-1.2-2.7 9.8-5.4 1.3 2.8z" stroke="none"/><path d="M180.3 466.4l-1.3-2.8" fill="none"/>
<path d="M169.2 469l-1.9-3.5 9.8-5.3 1.9 3.4z" stroke="none"/><path d="M179 463.6l-1.9-3.4M167.3 465.5l9.8-5.3" fill="none"/>
<path d="M167.3 465.5l.1-.7 9.9-5.4-.2 .8z" stroke="none"/><path d="M177.1 460.2l.2-.8M167.3 465.5l9.8-5.3M167.4 464.8l9.9-5.4" fill="none"/>
<path d="M130.6 393.4l-1.3-.7 9.8-5.3 1.4 .7z" stroke="none"/><path d="M140.5 388.1l-1.4-.7M129.3 392.7l9.8-5.3" fill="none"/>
<path d="M133.7 399.6l-1.6-3.5 9.8-5.4 1.7 3.5z" stroke="none"/><path d="M143.6 394.2l-1.7-3.5M133.7 399.6l9.9-5.4" fill="none"/>
<path d="M132.1 396.1l-1.5-2.7 9.9-5.3 1.4 2.6z" stroke="none"/><path d="M141.9 390.7l-1.4-2.6" fill="none"/>
<path d="M134.4 400l-.7-.4 9.9-5.4 .7 .4z" stroke="none"/><path d="M144.3 394.6l-.7-.4M134.4 400l9.9-5.4M133.7 399.6l9.9-5.4" fill="none"/>
<path d="M173.7 469.5l0-1.5 9.9-5.4-.1 1.6z" stroke="none"/><path d="M183.5 464.2l.1-1.6M173.7 469.5l9.8-5.3" fill="none"/>
<path d="M170 462.2l0-.8 9.8-5.4 0 .9z" stroke="none"/><path d="M179.8 456.9l0-.9M170 462.2l9.8-5.3M170 461.4l9.8-5.4" fill="none"/>
<path d="M172.2 465.4l-2.2-3.2 9.8-5.3 2.2 3.1z" stroke="none"/><path d="M182 460l-2.2-3.1M170 462.2l9.8-5.3" fill="none"/>
<path d="M173.7 468l-1.5-2.6 9.8-5.4 1.6 2.6z" stroke="none"/><path d="M183.6 462.6l-1.6-2.6" fill="none"/>
<path d="M138.9 400.2l-.7-.5 9.8-5.3 .7 .5z" stroke="none"/><path d="M148.7 394.9l-.7-.5M138.9 400.2l9.8-5.3M138.2 399.7l9.8-5.3" fill="none"/>
<path d="M138.2 399.7l-1.3-3.6 9.9-5.3 1.2 3.6z" stroke="none"/><path d="M148 394.4l-1.2-3.6M138.2 399.7l9.8-5.3" fill="none"/>
<path d="M135.8 393.3l-1.3-.9 9.8-5.4 1.3 1z" stroke="none"/><path d="M145.6 388l-1.3-1M134.5 392.4l9.8-5.4" fill="none"/>
<path d="M136.9 396.1l-1.1-2.8 9.8-5.3 1.2 2.8z" stroke="none"/><path d="M146.8 390.8l-1.2-2.8" fill="none"/>
<path d="M171.9 458l-.1-.9 9.8-5.3 .1 .8z" stroke="none"/><path d="M181.7 452.6l-.1-.8M171.9 458l9.8-5.4M171.8 457.1l9.8-5.3" fill="none"/>
<path d="M174.4 460.8l-2.5-2.8 9.8-5.4 2.5 2.8z" stroke="none"/><path d="M184.2 455.4l-2.5-2.8M171.9 458l9.8-5.4" fill="none"/>
<path d="M171.8 457.1l.4-.3 9.9-5.4-.5 .4z" stroke="none"/><path d="M181.6 451.8l.5-.4M171.8 457.1l9.8-5.3M172.2 456.8l9.9-5.4" fill="none"/>
<path d="M176.4 464.8l-.2-1.6 9.8-5.4 .2 1.7z" stroke="none"/><path d="M186.2 459.5l-.2-1.7M176.4 464.8l9.8-5.3" fill="none"/>
<path d="M176.2 463.2l-1.8-2.4 9.8-5.4 1.8 2.4z" stroke="none"/><path d="M186 457.8l-1.8-2.4" fill="none"/>
<path d="M143.5 401.6l-.6-.6 9.8-5.4 .7 .7z" stroke="none"/><path d="M153.4 396.3l-.7-.7M143.5 401.6l9.9-5.3M142.9 401l9.8-5.4" fill="none"/>
<path d="M142.9 401l-.8-3.6 9.9-5.4 .7 3.6z" stroke="none"/><path d="M152.7 395.6l-.7-3.6M142.9 401l9.8-5.4" fill="none"/>
<path d="M144.1 401.5l-.6 .1 9.9-5.3 .6-.2z" stroke="none"/><path d="M154 396.1l-.6 .2M144.1 401.5l9.9-5.4M143.5 401.6l9.9-5.3" fill="none"/>
<path d="M142.1 397.4l-.8-2.8 9.8-5.4 .9 2.8z" stroke="none"/><path d="M152 392l-.9-2.8" fill="none"/>
<path d="M141.3 394.6l-1.3-1.2 9.9-5.4 1.2 1.2z" stroke="none"/><path d="M151.1 389.2l-1.2-1.2M140 393.4l9.9-5.4" fill="none"/>
<path d="M173 453l-.3-.9 9.9-5.4 .2 1z" stroke="none"/><path d="M182.8 447.7l-.2-1M173 453l9.8-5.3M172.7 452.1l9.9-5.4" fill="none"/>
<path d="M172.7 452.1l.4-.5 9.9-5.3-.4 .4z" stroke="none"/><path d="M182.6 446.7l.4-.4M172.7 452.1l9.9-5.4M173.1 451.6l9.9-5.3" fill="none"/>
<path d="M175.6 455.4l-2.6-2.4 9.8-5.3 2.7 2.3z" stroke="none"/><path d="M185.5 450l-2.7-2.3M173 453l9.8-5.3" fill="none"/>
<path d="M177.2 459.8l.9-.7 9.8-5.3-.9 .7z" stroke="none"/><path d="M187 454.5l.9-.7M177.2 459.8l9.8-5.3M178.1 459.1l9.8-5.3" fill="none"/>
<path d="M148.3 404l-.6-.7 9.8-5.4 .6 .8z" stroke="none"/><path d="M158.1 398.7l-.6-.8M148.3 404l9.8-5.3M147.7 403.3l9.8-5.4" fill="none"/>
<path d="M177.6 457.4l-2-2 9.9-5.4 2 2.1z" stroke="none"/><path d="M187.5 452.1l-2-2.1" fill="none"/>
<path d="M178.1 459.1l-.5-1.7 9.9-5.3 .4 1.7z" stroke="none"/><path d="M187.9 453.8l-.4-1.7M178.1 459.1l9.8-5.3" fill="none"/>
<path d="M148.9 404l-.6 0 9.8-5.3 .7 0z" stroke="none"/><path d="M158.8 398.7l-.7 0M148.9 404l9.9-5.3M148.3 404l9.8-5.3" fill="none"/>
<path d="M147.7 403.3l-.3-3.4 9.9-5.4 .2 3.4z" stroke="none"/><path d="M157.5 397.9l-.2-3.4M147.7 403.3l9.8-5.4" fill="none"/>
<path d="M145.8 395.7l-1.1 .3 9.8-5.4 1.2-.2z" stroke="none"/><path d="M155.7 390.4l-1.2 .2M145.8 395.7l9.9-5.3M144.7 396l9.8-5.4" fill="none"/>
<path d="M173.2 447.4l-.3-.9 9.8-5.3 .4 .9z" stroke="none"/><path d="M183.1 442.1l-.4-.9M173.2 447.4l9.9-5.3M172.9 446.5l9.8-5.3" fill="none"/>
<path d="M172.9 446.5l.2-.6 9.9-5.3-.3 .6z" stroke="none"/><path d="M182.7 441.2l.3-.6M172.9 446.5l9.8-5.3M173.1 445.9l9.9-5.3" fill="none"/>
<path d="M147.4 399.9l-.4-2.8 9.8-5.3 .5 2.7z" stroke="none"/><path d="M157.3 394.5l-.5-2.7" fill="none"/>
<path d="M147 397.1l-1.2-1.4 9.9-5.3 1.1 1.4z" stroke="none"/><path d="M156.8 391.8l-1.1-1.4M145.8 395.7l9.9-5.3" fill="none"/>
<path d="M176 449.2l-2.8-1.8 9.9-5.3 2.7 1.8z" stroke="none"/><path d="M185.8 443.9l-2.7-1.8M173.2 447.4l9.9-5.3" fill="none"/>
<path d="M153 407.4l-.5-.8 9.8-5.3 .5 .8z" stroke="none"/><path d="M162.8 402.1l-.5-.8M153 407.4l9.8-5.3M152.5 406.6l9.8-5.3" fill="none"/>
<path d="M153.7 407.6l-.7-.2 9.8-5.3 .7 .2z" stroke="none"/><path d="M163.5 402.3l-.7-.2M153.7 407.6l9.8-5.3M153 407.4l9.8-5.3" fill="none"/>
<path d="M178 453.6l.7-1 9.9-5.3-.7 1z" stroke="none"/><path d="M187.9 448.3l.7-1M178 453.6l9.9-5.3M178.7 452.6l9.9-5.3" fill="none"/>
<path d="M178.1 450.9l-2.1-1.7 9.8-5.3 2.1 1.7z" stroke="none"/><path d="M187.9 445.6l-2.1-1.7" fill="none"/>
<path d="M152.5 406.6l.2-3.2 9.8-5.3-.2 3.2z" stroke="none"/><path d="M162.3 401.3l.2-3.2M152.5 406.6l9.8-5.3" fill="none"/>
<path d="M172.6 441.4l-.5-.8 9.9-5.4 .4 .9z" stroke="none"/><path d="M182.4 436.1l-.4-.9M172.6 441.4l9.8-5.3M172.1 440.6l9.9-5.4" fill="none"/>
<path d="M178.7 452.6l-.6-1.7 9.8-5.3 .7 1.7z" stroke="none"/><path d="M188.6 447.3l-.7-1.7M178.7 452.6l9.9-5.3" fill="none"/>
<path d="M172.1 440.6l.2-.8 9.8-5.3-.1 .7z" stroke="none"/><path d="M182 435.2l.1-.7M172.1 440.6l9.9-5.4M172.3 439.8l9.8-5.3" fill="none"/>
<path d="M157.5 411.7l-.5-.9 9.9-5.3 .4 .9z" stroke="none"/><path d="M167.3 406.4l-.4-.9M157.5 411.7l9.8-5.3M157 410.8l9.9-5.3" fill="none"/>
<path d="M175.4 442.7l-2.8-1.3 9.8-5.3 2.8 1.2z" stroke="none"/><path d="M185.2 437.3l-2.8-1.2M172.6 441.4l9.8-5.3" fill="none"/>
<path d="M158.2 412l-.7-.3 9.8-5.3 .7 .3z" stroke="none"/><path d="M168 406.7l-.7-.3M158.2 412l9.8-5.3M157.5 411.7l9.8-5.3" fill="none"/>
<path d="M151.6 399.3l-1.2-.1 9.8-5.3 1.2 0z" stroke="none"/><path d="M161.4 393.9l-1.2 0M151.6 399.3l9.8-5.4M150.4 399.2l9.8-5.3" fill="none"/>
<path d="M152.7 403.4l-.1-2.6 9.9-5.3 0 2.6z" stroke="none"/><path d="M162.5 398.1l0-2.6" fill="none"/>
<path d="M171.1 435.2l-.5-.8 9.8-5.3 .6 .8z" stroke="none"/><path d="M181 429.9l-.6-.8M171.1 435.2l9.9-5.3M170.6 434.4l9.8-5.3" fill="none"/>
<path d="M152.6 400.8l-1-1.5 9.8-5.4 1.1 1.6z" stroke="none"/><path d="M162.5 395.5l-1.1-1.6M151.6 399.3l9.8-5.4" fill="none"/>
<path d="M170.6 434.4l0-.8 9.9-5.4-.1 .9z" stroke="none"/><path d="M180.4 429.1l.1-.9M170.6 434.4l9.8-5.3M170.6 433.6l9.9-5.4" fill="none"/>
<path d="M157 410.8l.8-2.8 9.8-5.3-.7 2.8z" stroke="none"/><path d="M166.9 405.5l.7-2.8M157 410.8l9.9-5.3" fill="none"/>
<path d="M161.6 416.7l-.3-.9 9.8-5.4 .3 1z" stroke="none"/><path d="M171.4 411.4l-.3-1M161.6 416.7l9.8-5.3M161.3 415.8l9.8-5.4" fill="none"/>
<path d="M162.3 417.2l-.7-.5 9.8-5.3 .7 .4z" stroke="none"/><path d="M172.1 411.8l-.7-.4M162.3 417.2l9.8-5.4M161.6 416.7l9.8-5.3" fill="none"/>
<path d="M177.5 443.9l-2.1-1.2 9.8-5.4 2.2 1.3z" stroke="none"/><path d="M187.4 438.6l-2.2-1.3" fill="none"/>
<path d="M168.9 429l-.6-.8 9.8-5.3 .6 .7z" stroke="none"/><path d="M178.7 423.6l-.6-.7M168.9 429l9.8-5.4M168.3 428.2l9.8-5.3" fill="none"/>
<path d="M177.9 446.8l.5-1.2 9.8-5.4-.5 1.2z" stroke="none"/><path d="M187.7 441.4l.5-1.2M177.9 446.8l9.8-5.4M178.4 445.6l9.8-5.4" fill="none"/>
<path d="M168.3 428.2l-.1-.8 9.8-5.4 .1 .9z" stroke="none"/><path d="M178.1 422.9l-.1-.9M168.3 428.2l9.8-5.3M168.2 427.4l9.8-5.4" fill="none"/>
<path d="M173.8 435.8l-2.7-.6 9.9-5.3 2.7 .6z" stroke="none"/><path d="M183.7 430.5l-2.7-.6M171.1 435.2l9.9-5.3" fill="none"/>
<path d="M165.2 422.3l-.2-.9 9.9-5.4 .2 .9z" stroke="none"/><path d="M175.1 416.9l-.2-.9M165.2 422.3l9.9-5.4M165 421.4l9.9-5.4" fill="none"/>
<path d="M165.9 422.9l-.7-.6 9.9-5.4 .6 .6z" stroke="none"/><path d="M175.7 417.5l-.6-.6M165.9 422.9l9.8-5.4M165.2 422.3l9.9-5.4" fill="none"/>
<path d="M178.4 445.6l-.9-1.7 9.9-5.3 .8 1.6z" stroke="none"/><path d="M188.2 440.2l-.8-1.6M178.4 445.6l9.8-5.4" fill="none"/>
<path d="M161.3 415.8l1.2-2.4 9.8-5.3-1.2 2.3z" stroke="none"/><path d="M171.1 410.4l1.2-2.3M161.3 415.8l9.8-5.4" fill="none"/>
<path d="M157.8 408l.3-2.4 9.8-5.3-.3 2.4z" stroke="none"/><path d="M167.6 402.7l.3-2.4" fill="none"/>
<path d="M171.4 428.9l-2.5 .1 9.8-5.4 2.6 0z" stroke="none"/><path d="M181.3 423.6l-2.6 0M168.9 429l9.8-5.4" fill="none"/>
<path d="M157.2 404l-1.3-.4 9.9-5.3 1.3 .3z" stroke="none"/><path d="M167.1 398.6l-1.3-.3M157.2 404l9.9-5.4M155.9 403.6l9.9-5.3" fill="none"/>
<path d="M168.2 427.4l2-1.3 9.8-5.3-2 1.2z" stroke="none"/><path d="M178 422l2-1.2M168.2 427.4l9.8-5.4" fill="none"/>
<path d="M165 421.4l1.6-1.9 9.9-5.3-1.6 1.8z" stroke="none"/><path d="M174.9 416l1.6-1.8M165 421.4l9.9-5.4" fill="none"/>
<path d="M168.2 422.2l-2.3 .7 9.8-5.4 2.3-.6z" stroke="none"/><path d="M178 416.9l-2.3 .6M165.9 422.9l9.8-5.4" fill="none"/>
<path d="M158.1 405.6l-.9-1.6 9.9-5.4 .8 1.7z" stroke="none"/><path d="M167.9 400.3l-.8-1.7M157.2 404l9.9-5.4" fill="none"/>
<path d="M176 436.6l-2.2-.8 9.9-5.3 2.1 .8z" stroke="none"/><path d="M185.8 431.3l-2.1-.8" fill="none"/>
<path d="M176.7 439.6l.3-1.4 9.8-5.4-.2 1.4z" stroke="none"/><path d="M186.6 434.2l.2-1.4M176.7 439.6l9.9-5.4M177 438.2l9.8-5.4" fill="none"/>
<path d="M162.5 413.4l.6-2 9.9-5.4-.7 2.1z" stroke="none"/><path d="M172.3 408.1l.7-2.1" fill="none"/>
<path d="M177 438.2l-1-1.6 9.8-5.3 1 1.5z" stroke="none"/><path d="M186.8 432.8l-1-1.5M177 438.2l9.8-5.4" fill="none"/>
<path d="M173.5 429.2l-2.1-.3 9.9-5.3 2 .3z" stroke="none"/><path d="M183.3 423.9l-2-.3" fill="none"/>
<path d="M165.9 415.2l-1.6 .7 9.8-5.4 1.7-.7z" stroke="none"/><path d="M175.8 409.8l-1.7 .7M164.3 415.9l9.8-5.4" fill="none"/>
<path d="M162.5 409.7l-1.3-.7 9.8-5.4 1.3 .7z" stroke="none"/><path d="M172.3 404.3l-1.3-.7M162.5 409.7l9.8-5.4M161.2 409l9.8-5.4" fill="none"/>
<path d="M166.6 419.5l1.1-1.6 9.8-5.4-1 1.7z" stroke="none"/><path d="M176.5 414.2l1-1.7" fill="none"/>
<path d="M170.2 426.1l1.3-1.2 9.9-5.4-1.4 1.3z" stroke="none"/><path d="M180 420.8l1.4-1.3" fill="none"/>
<path d="M163.1 411.4l-.6-1.7 9.8-5.4 .7 1.7z" stroke="none"/><path d="M173 406l-.7-1.7M162.5 409.7l9.8-5.4" fill="none"/>
<path d="M170.1 422l-1.9 .2 9.8-5.3 1.9-.2z" stroke="none"/><path d="M179.9 416.7l-1.9 .2" fill="none"/>
<path d="M174.6 432.2l0-1.6 9.9-5.3-.1 1.5z" stroke="none"/><path d="M184.4 426.8l.1-1.5M174.6 432.2l9.8-5.4M174.6 430.6l9.9-5.3" fill="none"/>
<path d="M174.6 430.6l-1.1-1.4 9.8-5.3 1.2 1.4z" stroke="none"/><path d="M184.5 425.3l-1.2-1.4M174.6 430.6l9.9-5.3" fill="none"/>
<path d="M167.2 416.1l-1.3-.9 9.9-5.4 1.3 1z" stroke="none"/><path d="M177.1 410.8l-1.3-1M167.2 416.1l9.9-5.3" fill="none"/>
<path d="M167.7 417.9l-.5-1.8 9.9-5.3 .4 1.7z" stroke="none"/><path d="M177.5 412.5l-.4-1.7M167.2 416.1l9.9-5.3" fill="none"/>
<path d="M171.5 424.9l-.2-1.7 9.9-5.3 .2 1.6z" stroke="none"/><path d="M181.4 419.5l-.2-1.6M171.3 423.2l9.9-5.3" fill="none"/>
<path d="M171.3 423.2l-1.2-1.2 9.8-5.3 1.3 1.2z" stroke="none"/><path d="M181.2 417.9l-1.3-1.2M171.3 423.2l9.9-5.3" fill="none"/>
<path d="M163.9 467.9l.3-.7 .7 .2 2.2 3.2 1.8 2.3 1.3 .2 .2-1.4-1.2-2.7-1.9-3.5 .1-.7 .6 0 2.5 2.8 2 2 1.2-.1 0-1.5-1.5-2.6-2.2-3.2 0-.8 .5-.2 2.7 2.4 2.1 1.6 1.1-.4-.2-1.6-1.8-2.4-2.5-2.8-.1-.9 .4-.3 2.8 1.8 2.2 1.2 .9-.7-.5-1.7-2-2-2.6-2.4-.3-.9 .4-.5 2.8 1.3 2.1 .7 .7-1-.6-1.7-2.1-1.7-2.8-1.8-.3-.9 .2-.6 2.8 .7 2 .2 .5-1.2-.9-1.7-2.1-1.2-2.8-1.3-.5-.8 .2-.8 2.6 .1 1.8-.3 .3-1.4-1-1.6-2.2-.8-2.7-.6-.5-.8 0-.8 2.3-.6 1.7-.8 0-1.6-1.1-1.4-2.1-.3-2.5 .1-.6-.8-.1-.8 2-1.3 1.3-1.2-.2-1.7-1.2-1.2-1.9 .2-2.3 .7-.7-.6-.2-.9 1.6-1.9 1.1-1.6-.5-1.8-1.3-.9-1.6 .7-2 1.3-.7-.5-.3-.9 1.2-2.4 .6-2-.6-1.7-1.3-.7-1.5 1.2-1.5 1.8-.7-.3-.5-.9 .8-2.8 .3-2.4-.9-1.6-1.3-.4-1.1 1.6-1.1 2.4-.7-.2-.5-.8 .2-3.2-.1-2.6-1-1.5-1.2-.1-.8 2-.7 2.8-.6 0-.6-.7-.3-3.4-.4-2.8-1.2-1.4-1.1 .3-.4 2.3-.2 3.2-.6 .1-.6-.6-.8-3.6-.8-2.8-1.3-1.2-.9 .5 0 2.6 .3 3.4-.5 .3-.7-.5-1.3-3.6-1.1-2.8-1.3-.9-.8 .8 .3 2.7 .9 3.6-.5 .5-.7-.4-1.6-3.5-1.5-2.7-1.3-.7-.6 1.1 .7 2.8 1.3 3.6-.3 .6-.7-.2-2-3.4-1.7-2.4-1.3-.4-.4 1.3 1.1 2.8 1.7 3.5-.2 .7-.7-.1-2.3-3-2-2.1-1.2-.1-.1 1.5 1.4 2.6 2 3.3 0 .8-.6 .1-2.6-2.6-2.1-1.8-1.1 .2 .1 1.7 1.7 2.4 2.3 3 .1 .9-.5 .3-2.8-2.2-2.1-1.4-1 .6 .3 1.7 1.9 2.2 2.6 2.6 .2 .9-.4 .4-2.8-1.6-2.2-.9-.8 .8 .6 1.7 2 1.9 2.7 2.1 .3 .9-.3 .5-2.7-1-2.1-.4-.6 1.1 .7 1.7 2.1 1.4 2.8 1.6 .4 .9-.2 .6-2.6-.3-2 0-.4 1.3 1 1.7 2.1 1 2.8 .9 .5 .9-.1 .7-2.5 .3-1.7 .6-.2 1.5 1.1 1.4 2.1 .6 2.6 .3 .6 .7 .1 .9-2.2 .9-1.5 1.1 .1 1.6 1.2 1.3 2 0 2.4-.3 .6 .6 .2 .9-1.8 1.6-1.2 1.4 .3 1.7 1.3 1.1 1.8-.4 2.1-1 .7 .5 .2 .9-1.4 2.1-.8 1.9 .5 1.7 1.3 .8 1.6-.9 1.8-1.6 .7 .4 .3 .9-.9 2.6-.5 2.2 .7 1.7 1.4 .6 1.2-1.4 1.4-2.2 .7 .3 .5 .8-.5 3-.1 2.5 .9 1.6 1.3 .3 .9-1.8 .9-2.7 .7 .1 .6 .8 0 3.3 .2 2.7 1.1 1.5 1.2-.1 .6-2.1 .4-3.1 .6 0 .7 .7 .5 3.5 .6 2.8 1.2 1.3 1.1-.4 .2-2.5-.1-3.3 .6-.2 .6 .5 1 3.7 1 2.7 1.3 1.1 .9-.7-.2-2.6-.5-3.5 .4-.4 .7 .4 1.5 3.6 1.3 2.7 1.3 .9 .7-1-.5-2.8-1.1-3.6 .4-.5 .7 .3 1.8 3.5 1.6 2.5 1.4 .5 .5-1.2-1-2.8zM152.9 446.4l1-.7 .9-1.1 .7-1.3 .4-1.5 .2-1.7-.1-1.8-.3-1.9-.5-2-.7-2-.9-1.9-1.1-1.8-1.3-1.7-1.4-1.5-1.4-1.3-1.5-1-1.6-.8-1.5-.4-1.4-.2-1.3 .2-1.2 .4-1.1 .8-.8 1-.7 1.3-.4 1.5-.2 1.7 0 1.8 .3 2 .5 1.9 .7 2 1 1.9 1.1 1.9 1.2 1.6 1.4 1.6 1.5 1.2 1.5 1.1 1.5 .7 1.5 .5 1.4 .1 1.4-.1z" fill-rule="evenodd"/>
<path d="M163.5 466l2.8-2 2.3-2.7 1.7-3.4 1.1-4 .5-4.4-.1-4.8-.7-5.1-1.4-5.2-1.9-5.2-2.5-5.1-2.9-4.8-3.3-4.4-3.6-4-3.9-3.4-4-2.7-4-2-3.9-1.2-3.8-.4-3.5 .4-3.2 1.2-2.7 2-2.3 2.7-1.7 3.4-1.2 4-.5 4.5 .1 4.8 .8 5 1.3 5.2 2 5.2 2.4 5.1 2.9 4.8 3.3 4.5 3.7 3.9 3.8 3.4 4 2.8 4 1.9 4 1.3 3.7 .4 3.6-.4z" fill="none" stroke-width="0.72"/>
<path d="M161.1 461.6l2.4-1.7 2-2.3 1.4-3 1-3.4 .5-3.8-.1-4.2-.7-4.3-1.1-4.5-1.7-4.5-2.1-4.3-2.5-4.2-2.9-3.8-3.1-3.4-3.3-2.9-3.4-2.4-3.5-1.7-3.4-1-3.2-.4-3.1 .4-2.7 1-2.4 1.7-1.9 2.4-1.5 2.9-1 3.4-.4 3.9 .1 4.1 .6 4.4 1.2 4.4 1.6 4.5 2.2 4.4 2.5 4.1 2.8 3.9 3.1 3.4 3.4 2.9 3.4 2.3 3.4 1.7 3.4 1.1 3.3 .3 3-.3z" fill="none" stroke-width="0.72"/>
<path d="M156.8 453.6l1.7-1.2 1.4-1.6 1-2.1 .7-2.4 .3-2.7-.1-3-.4-3-.8-3.2-1.2-3.2-1.5-3-1.8-3-2-2.7-2.2-2.4-2.3-2-2.5-1.7-2.4-1.2-2.4-.7-2.3-.3-2.1 .3-2 .7-1.6 1.2-1.4 1.7-1 2.1-.7 2.4-.3 2.7 0 2.9 .5 3.1 .8 3.1 1.2 3.2 1.5 3.1 1.7 2.9 2 2.7 2.2 2.4 2.4 2.1 2.4 1.6 2.4 1.2 2.4 .8 2.3 .2 2.2-.2z" fill="none" stroke-width="0.72"/>
<path d="M155.1 450.4l1.4-1 1.1-1.4 .9-1.7 .5-2 .3-2.2 0-2.5-.4-2.6-.7-2.6-1-2.6-1.2-2.6-1.5-2.4-1.7-2.3-1.8-2-2-1.7-2-1.4-2-1-2-.6-1.9-.2-1.8 .2-1.6 .6-1.4 1-1.2 1.4-.8 1.7-.6 2-.3 2.3 .1 2.4 .4 2.6 .7 2.6 .9 2.7 1.3 2.5 1.5 2.5 1.6 2.2 1.9 2 1.9 1.7 2 1.4 2.1 1 2 .6 1.9 .3 1.8-.3z" fill="none" stroke-width="0.72"/>
<path d="M201.4 429.1l1.4-1 1.1-1.2 .9-1.5 .7-1.7 .5-2 .2-2.1 0-2.3-.3-2.4-.5-2.4-.8-2.5-1-2.5-1.1-2.4-1.4-2.3-1.6-2.2-1.6-2-1.8-1.7-1.9-1.6-1.9-1.2-1.9-1-1.9-.7-1.8-.3-1.8-.1-1.6 .3-1.5 .6-1.3 1-1.2 1.2-.9 1.5-.7 1.7-.5 2-.2 2.1 0 2.3 .3 2.4 .6 2.4 .7 2.5 1 2.5 1.2 2.4 1.4 2.3 1.5 2.2 1.7 2 1.7 1.7 1.9 1.6 1.9 1.2 1.9 1 1.9 .7 1.8 .3 1.8 .1 1.6-.3zM199.1 424.7l1-.7 .9-.9 .7-1.1 .5-1.3 .3-1.5 .2-1.7 0-1.7-.2-1.8-.4-1.9-.6-1.9-.7-1.8-.9-1.9-1.1-1.7-1.2-1.7-1.2-1.5-1.4-1.3-1.4-1.2-1.4-1-1.5-.7-1.4-.5-1.4-.3-1.3 0-1.3 .2-1.1 .5-1 .7-.9 .9-.7 1.1-.6 1.3-.3 1.5-.2 1.7 0 1.7 .3 1.8 .4 1.9 .5 1.9 .8 1.8 .9 1.9 1 1.7 1.2 1.7 1.3 1.5 1.3 1.3 1.4 1.2 1.5 1 1.4 .7 1.5 .5 1.4 .3 1.3 0 1.2-.2z" fill-rule="evenodd" stroke-width="0.95"/>
<path d="M215.3 413.9l1.5-1.1 9.1-5-1.5 1.2z" stroke="none"/><path d="M224.4 409l1.5-1.2M215.3 413.9l9.1-4.9" fill="none"/>
<path d="M203.8 388.8l-1.8 .6 9.1-4.9 1.8-.7z" stroke="none"/><path d="M212.9 383.8l-1.8 .7M202 389.4l9.1-4.9" fill="none"/>
<path d="M216.8 412.8l1.5-2 9.2-5-1.6 2z" stroke="none"/><path d="M225.9 407.8l1.6-2M218.3 410.8l9.2-5" fill="none"/>
<path d="M206.3 388.6l-2.5 .2 9.1-5 2.5-.2z" stroke="none"/><path d="M215.4 383.6l-2.5 .2M206.3 388.6l9.1-5" fill="none"/>
<path d="M223.5 420.7l.9-2 9.1-4.9-.9 1.9z" stroke="none"/><path d="M232.6 415.7l.9-1.9M223.5 420.7l9.1-5" fill="none"/>
<path d="M202.9 379.2l-2.1-.3 9.1-5 2.1 .4z" stroke="none"/><path d="M212 374.3l-2.1-.4M200.8 378.9l9.1-5" fill="none"/>
<path d="M224.4 418.7l.6-2.9 9.1-5-.6 3z" stroke="none"/><path d="M233.5 413.8l.6-3M225 415.8l9.1-5" fill="none"/>
<path d="M205.7 380.3l-2.8-1.1 9.1-4.9 2.8 1z" stroke="none"/><path d="M214.8 375.3l-2.8-1M205.7 380.3l9.1-5" fill="none"/>
<path d="M214.8 396.6l.7 1.4 9.2-5-.7-1.3z" stroke="none"/><path d="M224 391.7l.7 1.3M214.8 396.6l9.2-4.9M215.5 398l9.2-5" fill="none" stroke-width="0.63"/>
<path d="M215.5 398l1 .1 9.2-4.9-1-.2z" stroke="none"/><path d="M224.7 393l1 .2M215.5 398l9.2-5M216.5 398.1l9.2-4.9" fill="none" stroke-width="0.63"/>
<path d="M217.8 401.5l.9 1.1 9.1-4.9-.9-1.2z" stroke="none"/><path d="M226.9 396.5l.9 1.2M217.8 401.5l9.1-5M218.7 402.6l9.1-4.9" fill="none" stroke-width="0.63"/>
<path d="M215.3 395.8l-.5 .8 9.2-4.9 .5-.9z" stroke="none"/><path d="M224.5 390.8l-.5 .9M215.3 395.8l9.2-5M214.8 396.6l9.2-4.9" fill="none" stroke-width="0.63"/>
<path d="M218 400.3l-.2 1.2 9.1-5 .2-1.1z" stroke="none"/><path d="M227.1 395.4l-.2 1.1M218 400.3l9.1-4.9M217.8 401.5l9.1-5" fill="none" stroke-width="0.63"/>
<path d="M212.9 391.4l.4 1.3 9.1-4.9-.4-1.4z" stroke="none"/><path d="M222 386.4l.4 1.4M212.9 391.4l9.1-5M213.3 392.7l9.1-4.9" fill="none" stroke-width="0.63"/>
<path d="M213.3 392.7l1.1 .6 9.1-4.9-1.1-.6z" stroke="none"/><path d="M222.4 387.8l1.1 .6M213.3 392.7l9.1-4.9M214.4 393.3l9.1-4.9" fill="none" stroke-width="0.63"/>
<path d="M216.5 398.1l1.5 2.2 9.1-4.9-1.4-2.2z" stroke="none"/><path d="M225.7 393.2l1.4 2.2M216.5 398.1l9.2-4.9M218 400.3l9.1-4.9" fill="none" stroke-width="0.63"/>
<path d="M218.7 402.6l.9-.2 9.1-5-.9 .3z" stroke="none"/><path d="M227.8 397.7l.9-.3M218.7 402.6l9.1-4.9M219.6 402.4l9.1-5" fill="none" stroke-width="0.63"/>
<path d="M214.4 393.3l.9 2.5 9.2-5-1-2.4z" stroke="none"/><path d="M223.5 388.4l1 2.4M214.4 393.3l9.1-4.9M215.3 395.8l9.2-5" fill="none" stroke-width="0.63"/>
<path d="M213.7 390.9l-.8 .5 9.1-5 .8-.5z" stroke="none"/><path d="M222.8 385.9l-.8 .5M213.7 390.9l9.1-5M212.9 391.4l9.1-5" fill="none" stroke-width="0.63"/>
<path d="M219.6 402.4l1.7 1.8 9.1-5-1.7-1.8z" stroke="none"/><path d="M228.7 397.4l1.7 1.8M219.6 402.4l9.1-5M221.3 404.2l9.1-5" fill="none" stroke-width="0.63"/>
<path d="M221.4 405.5l1.1 .9 9.1-5-1-.8z" stroke="none"/><path d="M230.6 400.6l1 .8M221.4 405.5l9.2-4.9M222.5 406.4l9.1-5" fill="none" stroke-width="0.63"/>
<path d="M221.3 404.2l.1 1.3 9.2-4.9-.2-1.4z" stroke="none"/><path d="M230.4 399.2l.2 1.4M221.3 404.2l9.1-5M221.4 405.5l9.2-4.9" fill="none" stroke-width="0.63"/>
<path d="M213.2 388.5l.5 2.4 9.1-5-.4-2.4z" stroke="none"/><path d="M222.4 383.5l.4 2.4M213.2 388.5l9.2-5M213.7 390.9l9.1-5" fill="none" stroke-width="0.63"/>
<path d="M212.2 387.5l1 1 9.2-5-1-.9z" stroke="none"/><path d="M221.4 382.6l1 .9M212.2 387.5l9.2-4.9M213.2 388.5l9.2-5" fill="none" stroke-width="0.63"/>
<path d="M212.2 386.2l0 1.3 9.2-4.9-.1-1.3z" stroke="none"/><path d="M221.3 381.3l.1 1.3M212.2 386.2l9.1-4.9M212.2 387.5l9.2-4.9" fill="none" stroke-width="0.63"/>
<path d="M231.9 424.1l.1-2.6 9.2-4.9-.1 2.5z" stroke="none"/><path d="M241.1 419.1l.1-2.5M231.9 424.1l9.2-5" fill="none"/>
<path d="M204.7 371.3l-2.2-1.3 9.2-5 2.2 1.3z" stroke="none"/><path d="M213.9 366.3l-2.2-1.3M202.5 370l9.2-5" fill="none"/>
<path d="M223.1 405.7l1.9 1.2 9.1-5-1.8-1.2z" stroke="none"/><path d="M232.3 400.7l1.8 1.2M223.1 405.7l9.2-5M225 406.9l9.1-5" fill="none" stroke-width="0.63"/>
<path d="M225 406.9l.5 1.4 9.1-5-.5-1.4z" stroke="none"/><path d="M234.1 401.9l.5 1.4M225 406.9l9.1-5M225.5 408.3l9.1-5" fill="none" stroke-width="0.63"/>
<path d="M232 421.5l-.3-3.5 9.1-4.9 .4 3.5z" stroke="none"/><path d="M241.2 416.6l-.4-3.5M231.7 418l9.1-4.9" fill="none"/>
<path d="M207.5 373.5l-2.8-2.2 9.2-5 2.7 2.2z" stroke="none"/><path d="M216.6 368.5l-2.7-2.2M207.5 373.5l9.1-5" fill="none"/>
<path d="M213.3 384l-.2 2.2 9.2-5 .1-2.1z" stroke="none"/><path d="M222.4 379.1l-.1 2.1M213.3 384l9.1-4.9M213.1 386.2l9.2-5" fill="none" stroke-width="0.63"/>
<path d="M225.5 408.3l1 .5 9.2-5-1.1-.5z" stroke="none"/><path d="M234.6 403.3l1.1 .5M225.5 408.3l9.1-5M226.5 408.8l9.2-5" fill="none" stroke-width="0.63"/>
<path d="M212.4 382.8l.9 1.2 9.1-4.9-.8-1.2z" stroke="none"/><path d="M221.6 377.9l.8 1.2M212.4 382.8l9.2-4.9M213.3 384l9.1-4.9" fill="none" stroke-width="0.63"/>
<path d="M212.7 381.7l-.3 1.1 9.2-4.9 .2-1.1z" stroke="none"/><path d="M221.8 376.8l-.2 1.1M212.7 381.7l9.1-4.9M212.4 382.8l9.2-4.9" fill="none" stroke-width="0.63"/>
<path d="M226.9 407.8l1.8 .4 9.1-4.9-1.8-.5z" stroke="none"/><path d="M236 402.8l1.8 .5M226.9 407.8l9.1-5M228.7 408.2l9.1-4.9" fill="none" stroke-width="0.63"/>
<path d="M228.7 408.2l.8 1.3 9.1-4.9-.8-1.3z" stroke="none"/><path d="M237.8 403.3l.8 1.3M228.7 408.2l9.1-4.9M229.5 409.5l9.1-4.9" fill="none" stroke-width="0.63"/>
<path d="M214.5 380.5l-.7 1.6 9.1-4.9 .7-1.7z" stroke="none"/><path d="M223.6 375.5l-.7 1.7M214.5 380.5l9.1-5M213.8 382.1l9.1-4.9" fill="none" stroke-width="0.63"/>
<path d="M229.5 409.5l.9 .1 9.2-5-1 0z" stroke="none"/><path d="M238.6 404.6l1 0M229.5 409.5l9.1-4.9M230.4 409.6l9.2-5" fill="none" stroke-width="0.63"/>
<path d="M213.9 379.1l.6 1.4 9.1-5-.6-1.4z" stroke="none"/><path d="M223 374.1l.6 1.4M213.9 379.1l9.1-5M214.5 380.5l9.1-5" fill="none" stroke-width="0.63"/>
<path d="M214.4 378.3l-.5 .8 9.1-5 .6-.7z" stroke="none"/><path d="M223.6 373.4l-.6 .7M214.4 378.3l9.2-4.9M213.9 379.1l9.1-5" fill="none" stroke-width="0.63"/>
<path d="M238.5 424.9l1-1.2 9.1-5-1 1.3z" stroke="none"/><path d="M247.6 420l1-1.3M238.5 424.9l9.1-4.9M239.5 423.7l9.1-5" fill="none"/>
<path d="M207 363.8l-1.6 .2 9.1-4.9 1.6-.3z" stroke="none"/><path d="M216.1 358.8l-1.6 .3M207 363.8l9.1-5M205.4 364l9.1-4.9" fill="none"/>
<path d="M230.5 408.3l1.6-.3 9.1-4.9-1.6 .3z" stroke="none"/><path d="M239.6 403.4l1.6-.3M230.5 408.3l9.1-4.9M232.1 408l9.1-4.9" fill="none" stroke-width="0.63"/>
<path d="M239.5 423.7l-.6-2.9 9.1-4.9 .6 2.8z" stroke="none"/><path d="M248.6 418.7l-.6-2.8M239.5 423.7l9.1-5" fill="none"/>
<path d="M209 365.9l-2-2.1 9.1-5 2.1 2.2z" stroke="none"/><path d="M218.2 361l-2.1-2.2M207 363.8l9.1-5" fill="none"/>
<path d="M216.7 378.1l-1.2 1 9.1-5 1.3-1z" stroke="none"/><path d="M225.9 373.1l-1.3 1M216.7 378.1l9.2-5M215.5 379.1l9.1-5" fill="none" stroke-width="0.63"/>
<path d="M238.9 420.8l-1.3-3.6 9.1-5 1.3 3.7z" stroke="none"/><path d="M248 415.9l-1.3-3.7M237.6 417.2l9.1-5" fill="none"/>
<path d="M211.4 369l-2.4-3.1 9.2-4.9 2.3 3z" stroke="none"/><path d="M220.5 364l-2.3-3M211.4 369l9.1-5" fill="none"/>
<path d="M232.1 408l.9 1.1 9.2-4.9-1-1.1z" stroke="none"/><path d="M241.2 403.1l1 1.1M232.1 408l9.1-4.9M233 409.1l9.2-4.9" fill="none" stroke-width="0.63"/>
<path d="M233 409.1l.8-.3 9.2-5-.8 .4z" stroke="none"/><path d="M242.2 404.2l.8-.4M233 409.1l9.2-4.9M233.8 408.8l9.2-5" fill="none" stroke-width="0.63"/>
<path d="M237.6 417.2l.4-.8 9.2-4.9-.5 .7z" stroke="none"/><path d="M246.7 412.2l.5-.7M237.6 417.2l9.1-5M238 416.4l9.2-4.9" fill="none"/>
<path d="M212.3 369l-.9 0 9.1-5 .9 0z" stroke="none"/><path d="M221.4 364l-.9 0M212.3 369l9.1-5M211.4 369l9.1-5" fill="none"/>
<path d="M216.4 376.7l.3 1.4 9.2-5-.3-1.4z" stroke="none"/><path d="M225.6 371.7l.3 1.4M216.4 376.7l9.2-5M216.7 378.1l9.2-5" fill="none" stroke-width="0.63"/>
<path d="M234.8 406.4l1 .7 9.2-4.9-1.1-.8z" stroke="none"/><path d="M243.9 401.4l1.1 .8M234.8 406.4l9.1-5M235.8 407.1l9.2-4.9" fill="none" stroke-width="0.63"/>
<path d="M219.8 375.9l0 1.2 9.2-4.9 0-1.3z" stroke="none"/><path d="M229 370.9l0 1.3M219.8 375.9l9.2-5M219.8 377.1l9.2-4.9" fill="none" stroke-width="0.63"/>
<path d="M244.9 421.4l.5-1.8 9.1-5-.5 1.9z" stroke="none"/><path d="M254 416.5l.5-1.9M244.9 421.4l9.1-4.9M245.4 419.6l9.1-5" fill="none"/>
<path d="M213.6 361.1l-1.8-.6 9.2-4.9 1.8 .6z" stroke="none"/><path d="M222.8 356.2l-1.8-.6M213.6 361.1l9.2-4.9M211.8 360.5l9.2-4.9" fill="none"/>
<path d="M244 416.8l-2-3.4 9.1-5 2.1 3.4z" stroke="none"/><path d="M253.2 411.8l-2.1-3.4M242 413.4l9.1-5" fill="none"/>
<path d="M217 367.4l-1.7-3.6 9.1-5 1.7 3.6z" stroke="none"/><path d="M226.1 362.4l-1.7-3.6M217 367.4l9.1-5" fill="none"/>
<path d="M245.4 419.6l-1.4-2.8 9.2-5 1.3 2.8z" stroke="none"/><path d="M254.5 414.6l-1.3-2.8M245.4 419.6l9.1-5" fill="none"/>
<path d="M215.3 363.8l-1.7-2.7 9.2-4.9 1.6 2.6z" stroke="none"/><path d="M224.4 358.8l-1.6-2.6M213.6 361.1l9.2-4.9" fill="none"/>
<path d="M242 413.4l.1-1 9.1-5-.1 1z" stroke="none"/><path d="M251.1 408.4l.1-1M242 413.4l9.1-5" fill="none"/>
<path d="M217.9 367.8l-.9-.4 9.1-5 .9 .4z" stroke="none"/><path d="M227 362.8l-.9-.4M217 367.4l9.1-5" fill="none"/>
<path d="M236.5 403.3l1.1 .4 9.1-5-1-.3z" stroke="none"/><path d="M245.7 398.4l1 .3M236.5 403.3l9.2-4.9M237.6 403.7l9.1-5" fill="none" stroke-width="0.63"/>
<path d="M242.1 412.4l.7-.4 9.1-5-.7 .4z" stroke="none"/><path d="M251.2 407.4l.7-.4M242.8 412l9.1-5" fill="none"/>
<path d="M218.6 367.4l-.7 .4 9.1-5 .7-.3z" stroke="none"/><path d="M227.7 362.5l-.7 .3M218.6 367.4l9.1-4.9" fill="none"/>
<path d="M223.7 376.7l-.3 1 9.1-5 .4-1z" stroke="none"/><path d="M232.9 371.7l-.4 1M223.7 376.7l9.2-5M223.4 377.7l9.1-5" fill="none" stroke-width="0.63"/>
<path d="M237.1 399.3l1-.1 9.1-4.9-.9 0z" stroke="none"/><path d="M246.3 394.3l.9 0M237.1 399.3l9.2-5M238.1 399.2l9.1-4.9" fill="none" stroke-width="0.63"/>
<path d="M227.8 379.1l-.6 .7 9.1-5 .6-.7z" stroke="none"/><path d="M236.9 374.1l-.6 .7M227.8 379.1l9.1-5M227.2 379.8l9.1-5" fill="none" stroke-width="0.63"/>
<path d="M247.8 415.5l1.2-1 9.1-5-1.2 1z" stroke="none"/><path d="M256.9 410.5l1.2-1M247.8 415.5l9.1-5" fill="none"/>
<path d="M219.9 360.9l-1.5 .5 9.1-5 1.5-.5z" stroke="none"/><path d="M229 355.9l-1.5 .5M218.4 361.4l9.1-5" fill="none"/>
<path d="M244.3 407.1l-.2-1.2 9.2-4.9 .2 1.2z" stroke="none"/><path d="M253.5 402.2l-.2-1.2M244.3 407.1l9.2-4.9" fill="none"/>
<path d="M224.4 369.6l-.9-.8 9.2-5 .9 .8z" stroke="none"/><path d="M233.6 364.6l-.9-.8M223.5 368.8l9.2-5" fill="none"/>
<path d="M246.9 409.8l-2.6-2.7 9.2-4.9 2.6 2.6z" stroke="none"/><path d="M256.1 404.8l-2.6-2.6M244.3 407.1l9.2-4.9" fill="none"/>
<path d="M223.5 368.8l-.8-3.6 9.1-5 .9 3.6z" stroke="none"/><path d="M232.7 363.8l-.9-3.6M223.5 368.8l9.2-5" fill="none"/>
<path d="M244.1 405.9l.5-.7 9.1-5-.4 .8z" stroke="none"/><path d="M253.3 401l.4-.8M244.6 405.2l9.1-5" fill="none"/>
<path d="M225.3 369.6l-.9 0 9.2-5 .8 .1z" stroke="none"/><path d="M234.4 364.7l-.8-.1M225.3 369.6l9.1-4.9" fill="none"/>
<path d="M249 414.5l-.2-2.3 9.1-5 .2 2.3z" stroke="none"/><path d="M258.1 409.5l-.2-2.3M248.8 412.2l9.1-5" fill="none"/>
<path d="M221.7 362.3l-1.8-1.4 9.1-5 1.8 1.4z" stroke="none"/><path d="M230.8 357.3l-1.8-1.4M221.7 362.3l9.1-5" fill="none"/>
<path d="M248.8 412.2l-1.9-2.4 9.2-5 1.8 2.4z" stroke="none"/><path d="M257.9 407.2l-1.8-2.4M248.8 412.2l9.1-5" fill="none"/>
<path d="M222.7 365.2l-1-2.9 9.1-5 1 2.9z" stroke="none"/><path d="M231.8 360.2l-1-2.9M221.7 362.3l9.1-5" fill="none"/>
<path d="M244.4 399.1l-.5-1.2 9.1-5 .5 1.2z" stroke="none"/><path d="M253.5 394.1l-.5-1.2M244.4 399.1l9.1-5" fill="none"/>
<path d="M231 374.2l-.7-1.1 9.1-5 .8 1.1z" stroke="none"/><path d="M240.2 369.2l-.8-1.1M230.3 373.1l9.1-5" fill="none"/>
<path d="M243.9 397.9l.1-1 9.2-5-.2 1z" stroke="none"/><path d="M253 392.9l.2-1M244 396.9l9.2-5" fill="none"/>
<path d="M232 374.6l-1-.4 9.2-5 .9 .5z" stroke="none"/><path d="M241.1 369.7l-.9-.5M232 374.6l9.1-4.9" fill="none"/>
<path d="M247.2 400.7l-2.8-1.6 9.1-5 2.8 1.7z" stroke="none"/><path d="M256.3 395.8l-2.8-1.7M244.4 399.1l9.1-5" fill="none"/>
<path d="M230.3 373.1l.1-3.2 9.2-5-.2 3.2z" stroke="none"/><path d="M239.4 368.1l.2-3.2M230.3 373.1l9.1-5" fill="none"/>
<path d="M249.5 406.6l.6-1.7 9.2-5-.7 1.7z" stroke="none"/><path d="M258.6 401.6l.7-1.7M249.5 406.6l9.1-5" fill="none"/>
<path d="M228.6 365.1l-1.8-.3 9.1-5 1.8 .4z" stroke="none"/><path d="M237.7 360.2l-1.8-.4M226.8 364.8l9.1-5" fill="none"/>
<path d="M242.1 390.3l-.7-1.1 9.1-4.9 .8 1.1z" stroke="none"/><path d="M251.3 385.4l-.8-1.1M242.1 390.3l9.2-4.9" fill="none"/>
<path d="M236.9 381l-.5-1.2 9.1-5 .6 1.2z" stroke="none"/><path d="M246.1 376l-.6-1.2M236.4 379.8l9.1-5" fill="none"/>
<path d="M249.4 402.5l-2.2-1.8 9.1-4.9 2.2 1.7z" stroke="none"/><path d="M258.5 397.5l-2.2-1.7M249.4 402.5l9.1-5" fill="none"/>
<path d="M230.4 369.9l-.3-2.8 9.2-5 .3 2.8z" stroke="none"/><path d="M239.6 364.9l-.3-2.8M230.1 367.1l9.2-5" fill="none"/>
<path d="M241.4 389.2l-.2-1.2 9.1-4.9 .2 1.2z" stroke="none"/><path d="M250.5 384.3l-.2-1.2M241.2 388l9.1-4.9" fill="none"/>
<path d="M237.8 381.8l-.9-.8 9.2-5 .8 .9z" stroke="none"/><path d="M246.9 376.9l-.8-.9M237.8 381.8l9.1-4.9" fill="none"/>
<path d="M250.1 404.9l-.7-2.4 9.1-5 .8 2.4z" stroke="none"/><path d="M259.3 399.9l-.8-2.4M249.4 402.5l9.1-5" fill="none"/>
<path d="M230.1 367.1l-1.5-2 9.1-4.9 1.6 1.9z" stroke="none"/><path d="M239.3 362.1l-1.6-1.9M230.1 367.1l9.2-5" fill="none"/>
<path d="M244.8 390.8l-2.7-.5 9.2-4.9 2.6 .4z" stroke="none"/><path d="M253.9 385.8l-2.6-.4M242.1 390.3l9.2-4.9" fill="none"/>
<path d="M236.4 379.8l1.1-2.5 9.1-5-1.1 2.5z" stroke="none"/><path d="M245.5 374.8l1.1-2.5M236.4 379.8l9.1-5" fill="none"/>
<path d="M241.2 388l1.9-1.4 9.1-4.9-1.9 1.4z" stroke="none"/><path d="M250.3 383.1l1.9-1.4M241.2 388l9.1-4.9" fill="none"/>
<path d="M240 381l-2.2 .8 9.1-4.9 2.3-.9z" stroke="none"/><path d="M249.2 376l-2.3 .9M237.8 381.8l9.1-4.9" fill="none"/>
<path d="M247 391.6l-2.2-.8 9.1-5 2.2 .8z" stroke="none"/><path d="M256.1 386.6l-2.2-.8M247 391.6l9.1-5" fill="none"/>
<path d="M237.5 377.3l.5-2.3 9.1-5-.5 2.3z" stroke="none"/><path d="M246.6 372.3l.5-2.3M238 375l9.1-5" fill="none"/>
<path d="M248.3 396l0-2.2 9.2-4.9-.1 2.2z" stroke="none"/><path d="M257.4 391.1l.1-2.2M248.3 396l9.1-4.9" fill="none"/>
<path d="M236.8 372.7l-1.8-1.2 9.1-4.9 1.9 1.1z" stroke="none"/><path d="M246 367.7l-1.9-1.1M235 371.5l9.1-4.9" fill="none"/>
<path d="M243.1 386.6l1.2-1.6 9.1-4.9-1.2 1.6z" stroke="none"/><path d="M252.2 381.7l1.2-1.6M244.3 385l9.1-4.9" fill="none"/>
<path d="M242 380.8l-2 .2 9.2-5 2-.1z" stroke="none"/><path d="M251.2 375.9l-2 .1M242 380.8l9.2-4.9" fill="none"/>
<path d="M248.3 393.8l-1.3-2.2 9.1-5 1.4 2.3z" stroke="none"/><path d="M257.5 388.9l-1.4-2.3M247 391.6l9.1-5" fill="none"/>
<path d="M238 375l-1.2-2.3 9.2-5 1.1 2.3z" stroke="none"/><path d="M247.1 370l-1.1-2.3M238 375l9.1-5" fill="none"/>
<path d="M244.3 385l-.6-2.3 9.1-5 .6 2.4z" stroke="none"/><path d="M253.4 380.1l-.6-2.4M244.3 385l9.1-4.9" fill="none"/>
<path d="M243.7 382.7l-1.7-1.9 9.2-4.9 1.6 1.8z" stroke="none"/><path d="M252.8 377.7l-1.6-1.8M242 380.8l9.2-4.9" fill="none"/>
<path d="M237.6 417.2l.4-.8 .9 .1 2.3 3 2.1 2.1 1.6-.2 .5-1.8-1.4-2.8-2-3.4 .1-1 .7-.4 2.7 2.2 2.3 1.3 1.2-1-.2-2.3-1.9-2.4-2.6-2.7-.2-1.2 .5-.7 2.8 1 2.1 .4 .6-1.7-.7-2.4-2.2-1.8-2.8-1.6-.5-1.2 .1-1 2.5-.2 1.8-.7 0-2.2-1.3-2.2-2.2-.8-2.7-.5-.7-1.1-.2-1.2 1.9-1.4 1.2-1.6-.6-2.3-1.7-1.9-2 .2-2.2 .8-.9-.8-.5-1.2 1.1-2.5 .5-2.3-1.2-2.3-1.8-1.2-1.5 1.1-1.5 2-1-.4-.7-1.1 .1-3.2-.3-2.8-1.5-2-1.8-.3-.9 1.9-.6 2.9-.9 0-.9-.8-.8-3.6-1-2.9-1.8-1.4-1.5 .5-.2 2.5 .4 3.5-.7 .4-.9-.4-1.7-3.6-1.7-2.7-1.8-.6-1 1.3 .6 2.8 1.3 3.7-.4 .7-.9 0-2.4-3.1-2-2.1-1.6 .2-.5 1.9 1.3 2.8 2.1 3.4-.1 1-.7 .4-2.8-2.2-2.2-1.3-1.2 1 .2 2.2 1.8 2.5 2.6 2.6 .2 1.2-.4 .8-2.8-1.1-2.1-.3-.7 1.7 .8 2.4 2.2 1.7 2.8 1.7 .5 1.2-.1 1-2.5 .2-1.8 .6 0 2.2 1.3 2.3 2.2 .8 2.7 .4 .7 1.1 .2 1.2-1.9 1.4-1.2 1.6 .6 2.4 1.7 1.8 1.9-.1 2.3-.9 .9 .9 .5 1.2-1.1 2.4-.5 2.4 1.1 2.3 1.9 1.1 1.5-1.1 1.5-2 1 .5 .7 1-.1 3.3 .2 2.8 1.6 1.9 1.8 .4 .9-2 .6-2.9 .9 .1 .9 .8 .8 3.6 1 2.9 1.8 1.3 1.5-.4 .1-2.6-.3-3.5 .7-.3 .9 .4 1.7 3.6 1.6 2.6 1.9 .6 1-1.2-.6-2.9zM233.8 408.8l-.3-1.4 1.3-1 1 .7 .6-.7-.6-1.4 .7-1.7 1.1 .4 .2-1.1-.8-1.2 .1-2.1 1-.1-.1-1.3-1-.9-.4-2.4 .8-.5-.4-1.4-1.1-.6-1-2.4 .5-.9-.6-1.3-1.1-.2-1.4-2.2 .2-1.1-.9-1.2-.9 .3-1.7-1.8-.2-1.4-1-.8-.6 .7-1.9-1.2-.5-1.4-1.1-.5-.3 1-1.8-.5-.8-1.3-1 0 0 1.2-1.6 .3-1-1.1-.8 .4 .3 1.4-1.2 1-1.1-.8-.5 .8 .6 1.4-.7 1.6-1.1-.4-.3 1.1 .9 1.2-.2 2.2-.9 0 0 1.3 1 1 .5 2.4-.8 .5 .4 1.3 1.1 .6 .9 2.5-.5 .8 .7 1.4 1 .1 1.5 2.2-.2 1.2 .9 1.1 .9-.2 1.7 1.8 .1 1.3 1.1 .9 .6-.7 1.9 1.2 .5 1.4 1 .5 .4-1 1.8 .4 .8 1.3 .9 .1 .1-1.3 1.6-.3 .9 1.1z" fill-rule="evenodd"/>
<path d="M236.4 420.2l1.9-1.3 1.7-1.7 1.3-2.2 1-2.5 .7-2.8 .3-3.1 0-3.2-.4-3.5-.8-3.5-1.1-3.6-1.4-3.5-1.7-3.5-2-3.3-2.2-3.1-2.4-2.9-2.5-2.6-2.7-2.2-2.7-1.8-2.8-1.4-2.7-1-2.6-.5-2.6 0-2.3 .4-2.2 .9 2.8-1.6 2.2-.8 2.3-.5 2.6 .1 2.6 .5 2.7 1 2.8 1.4 2.7 1.8 2.7 2.2 2.5 2.6 2.4 2.8 2.2 3.1 2 3.4 1.7 3.4 1.4 3.6 1.1 3.5 .8 3.6 .4 3.4 0 3.3-.3 3.1-.7 2.8-1 2.5-1.3 2.1-1.6 1.8-2 1.3z" stroke="none"/>
<path d="M236.4 420.2l0 0 1.9-1.3 1.7-1.7 1.3-2.2 1-2.5 .7-2.8 .3-3.1 0-3.2-.4-3.5-.8-3.5-1.1-3.6-1.4-3.5-1.7-3.5-2-3.3-2.2-3.1-2.4-2.9-2.5-2.6-2.7-2.2-2.7-1.8-2.8-1.4-2.7-1-2.6-.5-2.6 0-2.3 .4-2.2 .9 0 0" fill="none"/>
<path d="M236.4 420.2l2.3-1.6 1.9-2.3 1.4-2.7 .9-3.3 .4-3.7-.1-3.9-.6-4.2-1.1-4.3-1.6-4.2-2-4.2-2.4-4-2.7-3.6-3-3.3-3.2-2.8-3.2-2.2-3.3-1.6-3.3-1-3.1-.4-2.9 .4-2.6 1-2.2 1.6-1.9 2.3-1.4 2.7-1 3.3-.4 3.7 .1 3.9 .6 4.2 1.1 4.3 1.6 4.2 2 4.2 2.4 4 2.8 3.6 2.9 3.3 3.2 2.8 3.3 2.2 3.3 1.6 3.2 1 3.1 .4 2.9-.4zM230.4 409.1l1.3-.9 1-1.3 .8-1.6 .6-1.9 .2-2.1 0-2.2-.4-2.4-.6-2.5-.9-2.4-1.2-2.4-1.3-2.2-1.6-2.1-1.7-1.9-1.8-1.6-1.9-1.3-1.9-.9-1.8-.6-1.8-.2-1.6 .2-1.5 .6-1.3 .9-1.1 1.3-.8 1.6-.5 1.9-.3 2.1 .1 2.2 .3 2.4 .7 2.5 .9 2.4 1.1 2.4 1.4 2.3 1.5 2 1.7 1.9 1.9 1.6 1.8 1.3 1.9 .9 1.9 .6 1.7 .2 1.7-.2z" fill-rule="evenodd"/>
<path d="M205 399.2l.3-.2 .3-.4 .2-.4 .2-.5 0-.6 0-.6-.1-.7-.1-.6-.3-.7-.3-.6-.4-.6-.4-.6-.5-.5-.4-.4-.6-.4-.5-.2-.5-.2-.4 0-.5 0-.4 .2 2.1-1.2 .4-.1 .5-.1 .4 .1 .5 .1 .6 .3 .5 .3 .5 .4 .4 .6 .4 .5 .4 .6 .3 .7 .3 .6 .1 .7 .1 .6 0 .7 0 .5-.2 .5-.2 .5-.3 .3-.3 .3z" stroke="none"/><path d="M205 399.2l2.1-1.1 .3-.3 .3-.3 .2-.5 .2-.5 0-.5 0-.7-.1-.6-.1-.7-.3-.6-.3-.7-.4-.6-.4-.5-.4-.6-.5-.4-.5-.3-.6-.3-.5-.1-.4-.1-.5 .1-.4 .1-2.1 1.2" fill="none"/><path d="M205 399.2l.3-.2 .3-.4 .2-.4 .2-.5 0-.6 0-.6-.1-.7-.1-.6-.3-.7-.3-.6-.4-.6-.4-.6-.5-.5-.4-.4-.6-.4-.5-.2-.5-.2-.4 0-.5 0-.4 .2-.3 .2-.3 .4-.3 .4-.1 .5-.1 .6 .1 .6 0 .6 .2 .7 .3 .6 .3 .7 .3 .6 .5 .6 .4 .5 .5 .4 .5 .4 .5 .2 .5 .2 .5 0 .5 0z"/>
<path d="M213.9 415.1l.4-.2 .3-.4 .2-.4 .1-.5 .1-.6 0-.6-.1-.6-.2-.7-.2-.6-.3-.7-.4-.6-.4-.6-.5-.5-.5-.4-.5-.3-.5-.3-.5-.2-.5 0-.4 0-.4 .2 2.1-1.1 .4-.2 .4 0 .5 0 .5 .2 .5 .2 .5 .4 .5 .4 .5 .5 .4 .6 .4 .6 .3 .6 .2 .7 .2 .6 .1 .7 0 .6 0 .6-.2 .5-.2 .4-.3 .3-.3 .3z" stroke="none"/><path d="M213.9 415.1l2.2-1.1 .3-.3 .3-.3 .2-.4 .2-.5 0-.6 0-.6-.1-.7-.2-.6-.2-.7-.3-.6-.4-.6-.4-.6-.5-.5-.5-.4-.5-.4-.5-.2-.5-.2-.5 0-.4 0-.4 .2-2.1 1.1" fill="none"/><path d="M213.9 415.1l.4-.2 .3-.4 .2-.4 .1-.5 .1-.6 0-.6-.1-.6-.2-.7-.2-.6-.3-.7-.4-.6-.4-.6-.5-.5-.5-.4-.5-.3-.5-.3-.5-.2-.5 0-.4 0-.4 .2-.4 .3-.3 .3-.2 .4-.1 .5-.1 .6 0 .6 .1 .7 .2 .6 .2 .7 .3 .6 .4 .6 .4 .6 .5 .5 .5 .4 .5 .4 .5 .2 .5 .2 .5 .1 .4-.1z"/>
<path d="M204.2 383.4l.3-.3 .3-.3 .2-.5 .2-.5 0-.5 0-.7-.1-.6-.2-.7-.2-.6-.3-.7-.4-.6-.4-.5-.5-.5-.5-.5-.5-.3-.5-.3-.5-.1-.5-.1-.4 .1-.4 .1 2.1-1.1 .4-.2 .4 0 .5 0 .5 .2 .5 .2 .5 .4 .5 .4 .5 .5 .4 .6 .4 .6 .3 .6 .2 .7 .2 .7 .1 .6 0 .6 0 .6-.2 .5-.2 .4-.3 .4-.3 .2z" stroke="none"/><path d="M204.2 383.4l2.1-1.2 .3-.2 .3-.4 .2-.4 .2-.5 0-.6 0-.6-.1-.6-.2-.7-.2-.7-.3-.6-.4-.6-.4-.6-.5-.5-.5-.4-.5-.4-.5-.2-.5-.2-.5 0-.4 0-.4 .2-2.1 1.1" fill="none"/><path d="M204.2 383.4l.3-.3 .3-.3 .2-.5 .2-.5 0-.5 0-.7-.1-.6-.2-.7-.2-.6-.3-.7-.4-.6-.4-.5-.5-.5-.5-.5-.5-.3-.5-.3-.5-.1-.5-.1-.4 .1-.4 .1-.4 .3-.3 .3-.2 .5-.1 .5-.1 .5 0 .6 .1 .7 .2 .6 .2 .7 .4 .7 .3 .6 .4 .5 .5 .5 .5 .5 .5 .3 .5 .3 .5 .1 .5 .1 .4-.1z"/>
<path d="M226.9 423.7l.3-.2 .3-.4 .2-.4 .2-.5 0-.6 0-.6-.1-.6-.1-.7-.3-.7-.3-.6-.4-.6-.4-.6-.5-.5-.4-.4-.5-.4-.6-.2-.5-.2-.4 0-.5 0-.4 .2 2.1-1.2 .4-.1 .5-.1 .4 .1 .5 .1 .6 .3 .5 .3 .5 .5 .4 .5 .4 .5 .4 .7 .3 .6 .3 .7 .1 .6 .1 .7 0 .6 0 .5-.2 .5-.2 .5-.3 .3-.3 .3z" stroke="none"/><path d="M226.9 423.7l2.1-1.1 .3-.3 .3-.3 .2-.5 .2-.5 0-.5 0-.6-.1-.7-.1-.6-.3-.7-.3-.6-.4-.7-.4-.5-.4-.5-.5-.5-.5-.3-.6-.3-.5-.1-.4-.1-.5 .1-.4 .1-2.1 1.2" fill="none"/><path d="M226.9 423.7l.3-.2 .3-.4 .2-.4 .2-.5 0-.6 0-.6-.1-.6-.1-.7-.3-.7-.3-.6-.4-.6-.4-.6-.5-.5-.4-.4-.5-.4-.6-.2-.5-.2-.4 0-.5 0-.4 .2-.3 .2-.3 .4-.3 .4-.1 .5-.1 .6 .1 .6 0 .6 .2 .7 .3 .7 .3 .6 .3 .6 .5 .6 .4 .5 .5 .4 .5 .4 .5 .2 .5 .2 .5 0 .5 0z"/>
<path d="M211.9 375l.3-.2 .3-.4 .2-.4 .2-.5 0-.6 0-.6-.1-.6-.1-.7-.3-.6-.3-.7-.4-.6-.4-.6-.5-.5-.4-.4-.5-.4-.6-.2-.5-.2-.4 0-.5 0-.4 .2 2.1-1.1 .4-.2 .5-.1 .4 .1 .5 .1 .6 .3 .5 .3 .5 .5 .4 .5 .4 .5 .4 .7 .3 .6 .3 .7 .1 .6 .1 .7 0 .6 0 .6-.2 .5-.2 .4-.3 .3-.3 .3z" stroke="none"/><path d="M211.9 375l2.1-1.1 .3-.3 .3-.3 .2-.4 .2-.5 0-.6 0-.6-.1-.7-.1-.6-.3-.7-.3-.6-.4-.7-.4-.5-.4-.5-.5-.5-.5-.3-.6-.3-.5-.1-.4-.1-.5 .1-.4 .2-2.1 1.1" fill="none"/><path d="M211.9 375l.3-.2 .3-.4 .2-.4 .2-.5 0-.6 0-.6-.1-.6-.1-.7-.3-.6-.3-.7-.4-.6-.4-.6-.5-.5-.4-.4-.5-.4-.6-.2-.5-.2-.4 0-.5 0-.4 .2-.3 .3-.3 .3-.3 .4-.1 .5-.1 .6 .1 .6 0 .7 .2 .6 .3 .7 .3 .6 .3 .6 .5 .6 .4 .5 .5 .4 .5 .4 .5 .2 .5 .2 .5 0 .5 0z"/>
<path d="M237.7 420.9l.4-.2 .2-.4 .3-.4 .1-.5 .1-.6 0-.6-.1-.6-.2-.7-.3-.7-.3-.6-.3-.6-.5-.6-.4-.5-.5-.4-.5-.4-.5-.2-.5-.2-.5 0-.5 0-.4 .2 2.2-1.2 .4-.1 .4-.1 .5 .1 .5 .1 .5 .3 .5 .3 .5 .5 .5 .5 .4 .5 .3 .7 .4 .6 .2 .7 .2 .6 .1 .7 0 .6-.1 .6-.1 .5-.2 .4-.3 .3-.4 .3z" stroke="none"/><path d="M237.7 420.9l2.1-1.1 .4-.3 .3-.3 .2-.4 .1-.5 .1-.6 0-.6-.1-.7-.2-.6-.2-.7-.4-.6-.3-.7-.4-.5-.5-.5-.5-.5-.5-.3-.5-.3-.5-.1-.5-.1-.4 .1-.4 .1-2.2 1.2" fill="none"/><path d="M237.7 420.9l.4-.2 .2-.4 .3-.4 .1-.5 .1-.6 0-.6-.1-.6-.2-.7-.3-.7-.3-.6-.3-.6-.5-.6-.4-.5-.5-.4-.5-.4-.5-.2-.5-.2-.5 0-.5 0-.4 .2-.3 .2-.3 .4-.2 .4-.2 .5 0 .6 0 .6 .1 .7 .2 .6 .2 .7 .3 .6 .4 .6 .4 .6 .5 .5 .5 .4 .5 .4 .5 .2 .5 .2 .5 0 .4 0z"/>
<path d="M224.5 378.1l.4-.2 .3-.4 .2-.4 .1-.5 .1-.6 0-.6-.1-.6-.2-.7-.2-.7-.4-.6-.3-.6-.4-.6-.5-.5-.5-.4-.5-.4-.5-.2-.5-.2-.5 0-.4 0-.4 .2 2.1-1.2 .4-.1 .4-.1 .5 .1 .5 .1 .5 .3 .5 .3 .5 .5 .5 .5 .4 .5 .4 .6 .3 .7 .2 .6 .2 .7 .1 .7 0 .6-.1 .5-.1 .5-.2 .5-.3 .3-.4 .3z" stroke="none"/><path d="M224.5 378.1l2.1-1.1 .4-.3 .3-.3 .2-.5 .1-.5 .1-.5 0-.6-.1-.7-.2-.7-.2-.6-.3-.7-.4-.6-.4-.5-.5-.5-.5-.5-.5-.3-.5-.3-.5-.1-.5-.1-.4 .1-.4 .1-2.1 1.2" fill="none"/><path d="M224.5 378.1l.4-.2 .3-.4 .2-.4 .1-.5 .1-.6 0-.6-.1-.6-.2-.7-.2-.7-.4-.6-.3-.6-.4-.6-.5-.5-.5-.4-.5-.4-.5-.2-.5-.2-.5 0-.4 0-.4 .2-.4 .2-.3 .4-.2 .4-.1 .5-.1 .6 0 .6 .1 .6 .2 .7 .2 .7 .3 .6 .4 .6 .4 .6 .5 .5 .5 .4 .5 .4 .5 .2 .5 .2 .5 0 .4 0z"/>
<path d="M241.4 408.1l.3-.3 .3-.3 .2-.5 .2-.5 0-.5 0-.6-.1-.7-.1-.6-.3-.7-.3-.7-.4-.6-.4-.5-.4-.5-.5-.5-.5-.3-.6-.3-.5-.1-.4-.1-.5 .1-.4 .1 2.1-1.1 .4-.2 .5 0 .5 0 .5 .2 .5 .2 .5 .4 .5 .4 .4 .5 .4 .6 .4 .6 .3 .6 .3 .7 .1 .7 .1 .6 .1 .6-.1 .6-.2 .5-.2 .4-.3 .4-.3 .2z" stroke="none"/><path d="M241.4 408.1l2.1-1.2 .3-.2 .3-.4 .2-.4 .2-.5 .1-.6-.1-.6-.1-.6-.1-.7-.3-.7-.3-.6-.4-.6-.4-.6-.4-.5-.5-.4-.5-.4-.5-.2-.5-.2-.5 0-.5 0-.4 .2-2.1 1.1" fill="none"/><path d="M241.4 408.1l.3-.3 .3-.3 .2-.5 .2-.5 0-.5 0-.6-.1-.7-.1-.6-.3-.7-.3-.7-.4-.6-.4-.5-.4-.5-.5-.5-.5-.3-.6-.3-.5-.1-.4-.1-.5 .1-.4 .1-.3 .3-.3 .3-.2 .5-.2 .5-.1 .5 .1 .7 .1 .6 .1 .7 .3 .6 .3 .7 .4 .6 .4 .5 .4 .5 .5 .5 .5 .3 .5 .3 .5 .1 .5 .1 .5-.1z"/>
<path d="M236.2 391.2l.3-.3 .3-.3 .2-.5 .2-.5 0-.5 0-.7-.1-.6-.1-.7-.3-.6-.3-.7-.4-.6-.4-.5-.5-.5-.4-.5-.5-.3-.6-.3-.5-.1-.4-.1-.5 .1-.4 .1 2.1-1.1 .4-.2 .5 0 .4 0 .5 .2 .6 .2 .5 .4 .5 .4 .4 .5 .4 .6 .4 .6 .3 .6 .3 .7 .1 .7 .1 .6 0 .6 0 .6-.2 .5-.2 .4-.3 .4-.3 .2z" stroke="none"/><path d="M236.2 391.2l2.1-1.2 .3-.2 .3-.4 .2-.4 .2-.5 0-.6 0-.6-.1-.6-.1-.7-.3-.7-.3-.6-.4-.6-.4-.6-.4-.5-.5-.4-.5-.4-.6-.2-.5-.2-.4 0-.5 0-.4 .2-2.1 1.1" fill="none"/><path d="M236.2 391.2l.3-.3 .3-.3 .2-.5 .2-.5 0-.5 0-.7-.1-.6-.1-.7-.3-.6-.3-.7-.4-.6-.4-.5-.5-.5-.4-.5-.5-.3-.6-.3-.5-.1-.4-.1-.5 .1-.4 .1-.3 .3-.3 .3-.3 .5-.1 .5-.1 .5 .1 .6 0 .7 .2 .6 .3 .7 .3 .7 .3 .6 .5 .5 .4 .5 .5 .5 .5 .3 .5 .3 .5 .1 .5 .1 .5-.1z"/>
<path d="M274.2 367.3l-.7-1.5-.8-1.5-.8-1.4-1-1.4-1-1.3-1.1-1.2-1.1-1.1-1.2-1-1.2-.8-1.2-.7-1.2-.6-1.2-.4-1.2-.3-1.1-.1-1.1 0-1 .2-1 .4-.8 .5-.8 .6-.8 .8-.6 .9-.5 1.1-.3 1.1-.3 1.3-.2 1.3 0 1.4 .1 1.5 .2 1.5 .3 1.5 .5 1.6 .5 1.6 .7 1.5 .7 1.5 .8 1.5 1 1.4 1 1.4 1 1.2 1.1 1.1 1.2 1.1 1.1 .9 1.2 .8 1.2 .6 1.2 .5 1.2 .4 1.2 .2 1.1 0 1.1-.1 .9-.3 1-.4 .8-.6 .8-.7 .6-.9 .6-.9 .4-1.1 .3-1.2 .3-1.3 .1-1.4-.1-1.4-.1-1.5-.3-1.6-2.3-.4 .2 1.2 .1 1.2 0 1.1 0 1.1-.2 1.1-.3 .9-.3 .9-.5 .8-.5 .7-.6 .5-.7 .5-.7 .3-.8 .3-.9 .1-.8-.1-1-.1-.9-.3-1-.4-.9-.5-1-.6-.9-.8-.9-.8-.9-.9-.9-1-.8-1.1-.7-1.1-.7-1.2-.6-1.2-.5-1.2-.4-1.3-.4-1.2-.2-1.3-.2-1.2-.1-1.2 0-1.1 .2-1.1 .2-1 .3-.9 .4-.8 .5-.7 .5-.7 .7-.5 .7-.4 .8-.3 .8-.1 .8-.1 1 .1 .9 .3 .9 .3 1 .4 1 .6 .9 .7 .9 .8 1 .8 .8 1 .8 1 .8 1.1 .7 1.2 .6 1.2 .6 1.2z" fill-rule="evenodd" stroke-width="0.95"/>
<path d="M296.6 372.2l1.1-.9 1.1-1 .8-1.4 .6-1.5 .4-1.8 .2-1.9 0-2-.2-2.2-.5-2.2-.7-2.2-.9-2.2-1-2.2-1.3-2-1.3-2-1.5-1.8-1.6-1.5-1.7-1.4-1.7-1.2-1.7-.8-1.7-.6-1.6-.3-1.6-.1-1.5 .3-1.3 .5-1.2 .9-1 1-.8 1.4-.7 1.5-.4 1.8-.2 1.9 0 2 .3 2.2 .5 2.2 .6 2.2 .9 2.2 1.1 2.2 1.2 2 1.4 2 1.5 1.8 1.6 1.5 1.6 1.4 1.7 1.2 1.7 .8 1.7 .6 1.7 .3 1.5 .1 1.5-.3zM294.8 368.9l.5-.3 .5-.3 .4-.4 .4-.5-.2-1.2 .2-.5 .3-.6 .8 0 .2-.7 .2-.7 .1-.8 0-.7 0-.8 0-.9-.1-.8-.1-.9-.2-.9-.2-.8-.2-.9-.3-.9-.3-.9-.4-.9-.4-.9-.5-.8-.4-.8-.5-.9-.6-.8-.5-.7-.6-.7-.6-.7-.7-.7-.6-.6-.7-.6-.6-.5-.7-.5-.7-.4-.7 .4-.6-.3-.7-.3-.7-1-.7-.2-.6-.1-.7 0-.6 0-.6 .1-.6 .1-.5 .2-.5 .3-.5 .3-.5 .3-.4 .4-.4 .5-.4 .5-.3 .6-.2 .6-.3 .6-.2 .7-.1 .7-.1 .8-.1 .7 0 .8 .1 .9 0 .8 .2 .9 .1 .9 .2 .8 .3 .9 .3 .9 .9 .8 .3 .8 .4 .8-.1 1.1 .5 .8 .5 .9 .5 .8 .6 .7 .6 .7 .6 .7 .6 .7 .7 .6 .6 .6 .7 .5 .7 .5 .7 .4 .6 .4 .7 .3 .7 .3 .7 .2 .6 .2 .7 .1 .6 0 .7 0 .6-.1 .5-.1 .6-.2z" fill-rule="evenodd" stroke-width="0.95"/>
<path d="M310.2 358.7l1.4-.8 9.8-5.4-1.4 .9z" stroke="none"/><path d="M320 353.4l1.4-.9M310.2 358.7l9.8-5.3" fill="none"/>
<path d="M302.4 341l-1.5 .7 9.9-5.3 1.5-.8z" stroke="none"/><path d="M312.3 335.6l-1.5 .8M300.9 341.7l9.9-5.3" fill="none"/>
<path d="M311.6 357.9l1.5-1.5 9.9-5.4-1.6 1.5z" stroke="none"/><path d="M321.4 352.5l1.6-1.5M313.1 356.4l9.9-5.4" fill="none"/>
<path d="M304.5 340.5l-2.1 .5 9.9-5.4 2.1-.4z" stroke="none"/><path d="M314.4 335.2l-2.1 .4M304.5 340.5l9.9-5.3" fill="none"/>
<path d="M315.5 364.4l1-1.4 9.9-5.4-1.1 1.4z" stroke="none"/><path d="M325.3 359l1.1-1.4M315.5 364.4l9.8-5.4" fill="none"/>
<path d="M300.8 334.1l-1.7 .1 9.8-5.4 1.8-.1z" stroke="none"/><path d="M310.7 328.7l-1.8 .1M299.1 334.2l9.8-5.4" fill="none"/>
<path d="M316.5 363l1.1-2.2 9.8-5.3-1 2.1z" stroke="none"/><path d="M326.4 357.6l1-2.1M317.6 360.8l9.8-5.3" fill="none"/>
<path d="M303.2 334.4l-2.4-.3 9.9-5.4 2.3 .3z" stroke="none"/><path d="M313 329l-2.3-.3M303.2 334.4l9.8-5.4" fill="none"/>
<path d="M321.2 368.7l.6-1.9 9.8-5.4-.6 1.9z" stroke="none"/><path d="M331 363.3l.6-1.9M321.2 368.7l9.8-5.4" fill="none"/>
<path d="M300.5 327.6l-1.9-.5 9.9-5.4 1.9 .5z" stroke="none"/><path d="M310.4 322.2l-1.9-.5M298.6 327.1l9.9-5.4" fill="none"/>
<path d="M321.8 366.8l.5-2.7 9.8-5.3-.5 2.6z" stroke="none"/><path d="M331.6 361.4l.5-2.6M322.3 364.1l9.8-5.3" fill="none"/>
<path d="M303 328.6l-2.5-1 9.9-5.4 2.4 1.1z" stroke="none"/><path d="M312.8 323.3l-2.4-1.1M303 328.6l9.8-5.3" fill="none"/>
<path d="M327 371.3l.1-2.2 9.9-5.3-.2 2.2z" stroke="none"/><path d="M336.8 366l.2-2.2M327 371.3l9.8-5.3" fill="none"/>
<path d="M301.5 321.8l-2-1 9.9-5.4 1.9 1.1z" stroke="none"/><path d="M311.3 316.5l-1.9-1.1M299.5 320.8l9.9-5.4" fill="none"/>
<path d="M327.1 369.1l-.1-3 9.8-5.4 .2 3.1z" stroke="none"/><path d="M337 363.8l-.2-3.1M327 366.1l9.8-5.4" fill="none"/>
<path d="M303.9 323.6l-2.4-1.8 9.8-5.3 2.5 1.8z" stroke="none"/><path d="M313.8 318.3l-2.5-1.8M303.9 323.6l9.9-5.3" fill="none"/>
<path d="M331.7 373l.8-.8 9.9-5.3-.9 .7z" stroke="none"/><path d="M341.5 367.6l.9-.7M331.7 373l9.8-5.4" fill="none"/>
<path d="M301.8 315.6l-1.1 .3 9.9-5.3 1-.3z" stroke="none"/><path d="M311.6 310.3l-1 .3M300.7 315.9l9.9-5.3" fill="none"/>
<path d="M332.5 372.2l-.3-2.4 9.9-5.4 .3 2.5z" stroke="none"/><path d="M342.4 366.9l-.3-2.5" fill="none"/>
<path d="M303.7 317.2l-1.9-1.6 9.8-5.3 1.9 1.6z" stroke="none"/><path d="M313.5 311.9l-1.9-1.6" fill="none"/>
<path d="M332.2 369.8l-.7-3.2 9.8-5.4 .8 3.2z" stroke="none"/><path d="M342.1 364.4l-.8-3.2M331.5 366.6l9.8-5.4" fill="none"/>
<path d="M306 319.6l-2.3-2.4 9.8-5.3 2.3 2.3z" stroke="none"/><path d="M315.8 314.2l-2.3-2.3M306 319.6l9.8-5.4" fill="none"/>
<path d="M314.4 325.7l-1.1 .8-1 1-.8 1.2-.6 1.5-.4 1.6-.1 1.9 0 1.9 .2 2 .5 2.1 .6 2.1 .8 2.1 1 2 1.2 1.9 1.3 1.9 1.4 1.6 1.5 1.5 1.6 1.3 1.6 1.1 1.6 .8 1.6 .6 1.5 .3 1.5 0 1.4-.2 1.3-.5 9.8-5.4-1.3 .5-1.3 .3-1.5 0-1.6-.3-1.6-.6-1.6-.8-1.6-1.1-1.6-1.3-1.5-1.5-1.4-1.7-1.3-1.8-1.1-2-1-2-.9-2.1-.6-2.1-.4-2-.3-2.1 0-1.9 .2-1.8 .4-1.6 .6-1.5 .8-1.3 .9-1 1.1-.8z" stroke="none"/>
<path d="M331.5 366.6l.4-.5 9.8-5.3-.4 .4z" stroke="none"/><path d="M341.3 361.2l.4-.4M331.5 366.6l9.8-5.4M331.9 366.1l9.8-5.3" fill="none"/>
<path d="M306.6 319.5l-.6 .1 9.8-5.4 .6-.1z" stroke="none"/><path d="M316.4 314.1l-.6 .1M306.6 319.5l9.8-5.4M306 319.6l9.8-5.4" fill="none"/>
<path d="M314.4 325.7l9.8-5.4-1.1 .8-.9 1-.8 1.3-.6 1.5-.4 1.6-.2 1.8 0 1.9 .3 2.1 .4 2 .6 2.1 .9 2.1 1 2 1.1 2 1.3 1.8 1.4 1.7 1.5 1.5 1.6 1.3 1.6 1.1 1.6 .8 1.6 .6 1.6 .3 1.5 0 1.3-.3 1.3-.5-9.8 5.4" fill="none" stroke-width="0.72"/>
<path d="M336.9 372.4l.6-1.1 9.9-5.3-.6 1.1z" stroke="none"/><path d="M346.8 367.1l.6-1.1M336.9 372.4l9.9-5.3" fill="none"/>
<path d="M305.3 311.9l-1.3-.1 9.9-5.3 1.2 .1z" stroke="none"/><path d="M315.1 306.6l-1.2-.1M304 311.8l9.9-5.3" fill="none"/>
<path d="M337.5 371.3l-.8-2.5 9.9-5.4 .8 2.6z" stroke="none"/><path d="M347.4 366l-.8-2.6" fill="none"/>
<path d="M307 314l-1.7-2.1 9.8-5.3 1.7 2z" stroke="none"/><path d="M316.8 308.6l-1.7-2" fill="none"/>
<path d="M336.7 368.8l-1.2-3.2 9.8-5.4 1.3 3.2z" stroke="none"/><path d="M346.6 363.4l-1.3-3.2M335.5 365.6l9.8-5.4" fill="none"/>
<path d="M309 316.8l-2-2.8 9.8-5.4 2 2.8z" stroke="none"/><path d="M318.8 311.4l-2-2.8M309 316.8l9.8-5.4" fill="none"/>
<path d="M335.5 365.6l.2-.6 9.9-5.4-.3 .6z" stroke="none"/><path d="M345.3 360.2l.3-.6M335.5 365.6l9.8-5.4M335.7 365l9.9-5.4" fill="none"/>
<path d="M309.6 316.9l-.6-.1 9.8-5.4 .7 .1z" stroke="none"/><path d="M319.5 311.5l-.7-.1M309.6 316.9l9.9-5.4M309 316.8l9.8-5.4" fill="none"/>
<path d="M341.3 370l.3-1.4 9.9-5.3-.3 1.4z" stroke="none"/><path d="M351.2 364.7l.3-1.4M341.3 370l9.9-5.3" fill="none"/>
<path d="M309.8 309.9l-1.4-.5 9.9-5.3 1.3 .5z" stroke="none"/><path d="M319.6 304.6l-1.3-.5M308.4 309.4l9.9-5.3" fill="none"/>
<path d="M341.6 368.6l-1.1-2.4 9.8-5.4 1.2 2.5z" stroke="none"/><path d="M351.5 363.3l-1.2-2.5" fill="none"/>
<path d="M311.2 312.3l-1.4-2.4 9.8-5.3 1.4 2.3z" stroke="none"/><path d="M321 306.9l-1.4-2.3" fill="none"/>
<path d="M340.5 366.2l-1.8-3.1 9.8-5.3 1.8 3z" stroke="none"/><path d="M350.3 360.8l-1.8-3M338.7 363.1l9.8-5.3" fill="none"/>
<path d="M312.8 315.4l-1.6-3.1 9.8-5.4 1.6 3.2z" stroke="none"/><path d="M322.6 310.1l-1.6-3.2M312.8 315.4l9.8-5.3" fill="none"/>
<path d="M338.7 363.1l.1-.7 9.8-5.4-.1 .8z" stroke="none"/><path d="M348.5 357.8l.1-.8M338.7 363.1l9.8-5.3M338.8 362.4l9.8-5.4" fill="none"/>
<path d="M313.5 315.7l-.7-.3 9.8-5.3 .7 .3z" stroke="none"/><path d="M323.3 310.4l-.7-.3M313.5 315.7l9.8-5.3M312.8 315.4l9.8-5.3" fill="none"/>
<path d="M341 359.4l-.1-.8 9.9-5.4 0 .9z" stroke="none"/><path d="M350.8 354.1l0-.9M341 359.4l9.8-5.3" fill="none"/>
<path d="M317.8 316l-.6-.5 9.8-5.3 .7 .5z" stroke="none"/><path d="M327.7 310.7l-.7-.5M317.2 315.5l9.8-5.3" fill="none"/>
<path d="M343.1 362.1l-2.1-2.7 9.8-5.3 2.2 2.6z" stroke="none"/><path d="M353 356.7l-2.2-2.6M341 359.4l9.8-5.3" fill="none"/>
<path d="M317.2 315.5l-1.1-3.2 9.8-5.4 1.1 3.3z" stroke="none"/><path d="M327 310.2l-1.1-3.3M317.2 315.5l9.8-5.3" fill="none"/>
<path d="M344.7 365.9l-.1-1.6 9.9-5.3 0 1.6z" stroke="none"/><path d="M354.5 360.6l0-1.6M344.7 365.9l9.8-5.3" fill="none"/>
<path d="M315 309.8l-1.3-.9 9.8-5.4 1.3 .9z" stroke="none"/><path d="M324.8 304.4l-1.3-.9M313.7 308.9l9.8-5.4" fill="none"/>
<path d="M340.9 358.6l.5-.4 9.9-5.3-.5 .3z" stroke="none"/><path d="M350.8 353.2l.5-.3M341.4 358.2l9.9-5.3" fill="none"/>
<path d="M318.4 315.8l-.6 .2 9.9-5.3 .5-.3z" stroke="none"/><path d="M328.2 310.4l-.5 .3M318.4 315.8l9.8-5.4" fill="none"/>
<path d="M344.6 364.3l-1.5-2.2 9.9-5.4 1.5 2.3z" stroke="none"/><path d="M354.5 359l-1.5-2.3" fill="none"/>
<path d="M316.1 312.3l-1.1-2.5 9.8-5.4 1.1 2.5z" stroke="none"/><path d="M325.9 306.9l-1.1-2.5" fill="none"/>
<path d="M342.2 354.6l-.2-.9 9.9-5.3 .2 .9z" stroke="none"/><path d="M352.1 349.3l-.2-.9M342.2 354.6l9.9-5.3" fill="none"/>
<path d="M322.5 317.7l-.6-.6 9.8-5.4 .6 .7z" stroke="none"/><path d="M332.3 312.4l-.6-.7M321.9 317.1l9.8-5.4" fill="none"/>
<path d="M342 353.7l.4-.5 9.8-5.3-.3 .5z" stroke="none"/><path d="M351.9 348.4l.3-.5M342.4 353.2l9.8-5.3" fill="none"/>
<path d="M323.1 317.7l-.6 0 9.8-5.3 .6 0z" stroke="none"/><path d="M332.9 312.4l-.6 0M323.1 317.7l9.8-5.3" fill="none"/>
<path d="M344.6 356.8l-2.4-2.2 9.9-5.3 2.4 2.1z" stroke="none"/><path d="M354.5 351.4l-2.4-2.1M342.2 354.6l9.9-5.3" fill="none"/>
<path d="M321.9 317.1l-.6-3.2 9.9-5.3 .5 3.1z" stroke="none"/><path d="M331.7 311.7l-.5-3.1M321.9 317.1l9.8-5.4" fill="none"/>
<path d="M345.8 361.1l.9-.7 9.8-5.4-.8 .7z" stroke="none"/><path d="M355.7 355.7l.8-.7M345.8 361.1l9.9-5.4M346.7 360.4l9.8-5.4" fill="none"/>
<path d="M319.4 310.2l-1 .3 9.8-5.3 1.1-.4z" stroke="none"/><path d="M329.3 304.8l-1.1 .4M319.4 310.2l9.9-5.4M318.4 310.5l9.8-5.3" fill="none"/>
<path d="M346.4 358.7l-1.8-1.9 9.9-5.4 1.7 1.9z" stroke="none"/><path d="M356.2 353.3l-1.7-1.9" fill="none"/>
<path d="M321.3 313.9l-.6-2.5 9.8-5.4 .7 2.6z" stroke="none"/><path d="M331.2 308.6l-.7-2.6" fill="none"/>
<path d="M346.7 360.4l-.3-1.7 9.8-5.4 .3 1.7z" stroke="none"/><path d="M356.5 355l-.3-1.7M346.7 360.4l9.8-5.4" fill="none"/>
<path d="M320.7 311.4l-1.3-1.2 9.9-5.4 1.2 1.2z" stroke="none"/><path d="M330.5 306l-1.2-1.2M319.4 310.2l9.9-5.4" fill="none"/>
<path d="M342.3 349l-.3-.9 9.8-5.3 .4 .9z" stroke="none"/><path d="M352.2 343.7l-.4-.9M342.3 349l9.9-5.3" fill="none"/>
<path d="M327.1 320.8l-.5-.8 9.8-5.3 .6 .8z" stroke="none"/><path d="M337 315.5l-.6-.8M326.6 320l9.8-5.3" fill="none"/>
<path d="M342 348.1l.2-.6 9.8-5.4-.2 .7z" stroke="none"/><path d="M351.8 342.8l.2-.7M342.2 347.5l9.8-5.4" fill="none"/>
<path d="M327.8 321l-.7-.2 9.9-5.3 .6 .2z" stroke="none"/><path d="M337.6 315.7l-.6-.2M327.8 321l9.8-5.3" fill="none"/>
<path d="M344.8 350.5l-2.5-1.5 9.9-5.3 2.5 1.5z" stroke="none"/><path d="M354.7 345.2l-2.5-1.5M342.3 349l9.9-5.3" fill="none"/>
<path d="M326.6 320l.1-2.9 9.8-5.3-.1 2.9z" stroke="none"/><path d="M336.4 314.7l.1-2.9M326.6 320l9.8-5.3" fill="none"/>
<path d="M346.8 354.8l.6-1.1 9.8-5.3-.6 1z" stroke="none"/><path d="M356.6 349.4l.6-1M346.8 354.8l9.8-5.4M347.4 353.7l9.8-5.3" fill="none"/>
<path d="M325.4 313.3l-1.2-.1 9.8-5.4 1.2 .1z" stroke="none"/><path d="M335.2 307.9l-1.2-.1M325.4 313.3l9.8-5.4M324.2 313.2l9.8-5.4" fill="none"/>
<path d="M346.7 352l-1.9-1.5 9.9-5.3 1.9 1.5z" stroke="none"/><path d="M356.6 346.7l-1.9-1.5" fill="none"/>
<path d="M326.7 317.1l-.2-2.4 9.8-5.3 .2 2.4z" stroke="none"/><path d="M336.5 311.8l-.2-2.4" fill="none"/>
<path d="M341.3 342.9l-.5-.8 9.8-5.3 .5 .8z" stroke="none"/><path d="M351.1 337.6l-.5-.8M341.3 342.9l9.8-5.3" fill="none"/>
<path d="M331.5 325.1l-.4-.9 9.9-5.3 .4 .8z" stroke="none"/><path d="M341.4 319.7l-.4-.8M331.1 324.2l9.9-5.3" fill="none"/>
<path d="M340.8 342.1l0-.8 9.9-5.3-.1 .8z" stroke="none"/><path d="M350.6 336.8l.1-.8M340.8 341.3l9.9-5.3" fill="none"/>
<path d="M332.2 325.5l-.7-.4 9.9-5.4 .7 .4z" stroke="none"/><path d="M342.1 320.1l-.7-.4M332.2 325.5l9.9-5.4" fill="none"/>
<path d="M347.4 353.7l-.7-1.7 9.9-5.3 .6 1.7z" stroke="none"/><path d="M357.2 348.4l-.6-1.7M347.4 353.7l9.8-5.3" fill="none"/>
<path d="M326.5 314.7l-1.1-1.4 9.8-5.4 1.1 1.5z" stroke="none"/><path d="M336.3 309.4l-1.1-1.5M325.4 313.3l9.8-5.4" fill="none"/>
<path d="M343.7 343.7l-2.4-.8 9.8-5.3 2.5 .8z" stroke="none"/><path d="M353.6 338.4l-2.5-.8M341.3 342.9l9.8-5.3" fill="none"/>
<path d="M331.1 324.2l.7-2.5 9.8-5.3-.6 2.5z" stroke="none"/><path d="M341 318.9l.6-2.5M331.1 324.2l9.9-5.3" fill="none"/>
<path d="M339.2 336.8l-.6-.8 9.8-5.3 .6 .7z" stroke="none"/><path d="M349 331.4l-.6-.7M339.2 336.8l9.8-5.4" fill="none"/>
<path d="M335.4 330.3l-.3-.9 9.9-5.4 .3 .9z" stroke="none"/><path d="M345.3 324.9l-.3-.9M335.1 329.4l9.9-5.4" fill="none"/>
<path d="M338.6 336l-.2-.8 9.9-5.4 .1 .9z" stroke="none"/><path d="M348.4 330.7l-.1-.9M338.4 335.2l9.9-5.4" fill="none"/>
<path d="M336.1 330.8l-.7-.5 9.9-5.4 .6 .6z" stroke="none"/><path d="M345.9 325.5l-.6-.6M336.1 330.8l9.8-5.3" fill="none"/>
<path d="M341.4 336.8l-2.2 0 9.8-5.4 2.3 0z" stroke="none"/><path d="M351.3 331.4l-2.3 0M339.2 336.8l9.8-5.4" fill="none"/>
<path d="M335.1 329.4l1.3-2 9.8-5.3-1.2 1.9z" stroke="none"/><path d="M345 324l1.2-1.9M335.1 329.4l9.9-5.4" fill="none"/>
<path d="M338.4 335.2l1.8-1.3 9.8-5.3-1.7 1.2z" stroke="none"/><path d="M348.3 329.8l1.7-1.2M338.4 335.2l9.9-5.4" fill="none"/>
<path d="M338.1 330.1l-2 .7 9.8-5.3 2-.8z" stroke="none"/><path d="M347.9 324.7l-2 .8M336.1 330.8l9.8-5.3" fill="none"/>
<path d="M345.7 344.7l-2-1 9.9-5.3 1.9 .9z" stroke="none"/><path d="M355.5 339.3l-1.9-.9" fill="none"/>
<path d="M331.8 321.7l.3-2.1 9.8-5.4-.3 2.2z" stroke="none"/><path d="M341.6 316.4l.3-2.2" fill="none"/>
<path d="M346.3 347.7l.3-1.4 9.8-5.3-.3 1.3z" stroke="none"/><path d="M356.1 342.3l.3-1.3M346.3 347.7l9.8-5.4M346.6 346.3l9.8-5.3" fill="none"/>
<path d="M331.2 317.9l-1.3-.4 9.8-5.4 1.3 .5z" stroke="none"/><path d="M341 312.6l-1.3-.5M331.2 317.9l9.8-5.3M329.9 317.5l9.8-5.4" fill="none"/>
<path d="M346.6 346.3l-.9-1.6 9.8-5.4 .9 1.7z" stroke="none"/><path d="M356.4 341l-.9-1.7M346.6 346.3l9.8-5.3" fill="none"/>
<path d="M332.1 319.6l-.9-1.7 9.8-5.3 .9 1.6z" stroke="none"/><path d="M341.9 314.2l-.9-1.6M331.2 317.9l9.8-5.3" fill="none"/>
<path d="M343.3 337.1l-1.9-.3 9.9-5.4 1.9 .4z" stroke="none"/><path d="M353.2 331.8l-1.9-.4" fill="none"/>
<path d="M336.4 327.4l.7-1.7 9.8-5.4-.7 1.8z" stroke="none"/><path d="M346.2 322.1l.7-1.8" fill="none"/>
<path d="M340.2 333.9l1.1-1.2 9.8-5.4-1.1 1.3z" stroke="none"/><path d="M350 328.6l1.1-1.3" fill="none"/>
<path d="M339.7 329.8l-1.6 .3 9.8-5.4 1.7-.2z" stroke="none"/><path d="M349.6 324.5l-1.7 .2" fill="none"/>
<path d="M344.4 340.1l0-1.5 9.9-5.4 0 1.6z" stroke="none"/><path d="M354.3 334.8l0-1.6M344.4 340.1l9.9-5.3M344.4 338.6l9.9-5.4" fill="none"/>
<path d="M336.5 324l-1.3-.9 9.8-5.3 1.3 .8z" stroke="none"/><path d="M346.3 318.6l-1.3-.8M336.5 324l9.8-5.4M335.2 323.1l9.8-5.3" fill="none"/>
<path d="M344.4 338.6l-1.1-1.5 9.9-5.3 1.1 1.4z" stroke="none"/><path d="M354.3 333.2l-1.1-1.4M344.4 338.6l9.9-5.4" fill="none"/>
<path d="M337.1 325.7l-.6-1.7 9.8-5.4 .6 1.7z" stroke="none"/><path d="M346.9 320.3l-.6-1.7M336.5 324l9.8-5.4" fill="none"/>
<path d="M341.3 332.7l-.3-1.7 9.8-5.4 .3 1.7z" stroke="none"/><path d="M351.1 327.3l-.3-1.7M341 331l9.8-5.4" fill="none"/>
<path d="M341 331l-1.3-1.2 9.9-5.3 1.2 1.1z" stroke="none"/><path d="M350.8 325.6l-1.2-1.1M341 331l9.8-5.4" fill="none"/>
<path d="M335.5 365.6l.2-.6 .7 .1 2 2.8 1.7 2 1.2 .1 .3-1.4-1.1-2.4-1.8-3.1 .1-.7 .6-.1 2.3 2.3 1.9 1.6 1.1-.3-.1-1.6-1.5-2.2-2.1-2.7-.1-.8 .5-.4 2.5 1.8 1.9 1.1 .9-.7-.3-1.7-1.8-1.9-2.4-2.2-.2-.9 .4-.5 2.5 1.1 1.9 .5 .6-1.1-.7-1.7-1.9-1.5-2.5-1.5-.3-.9 .2-.6 2.3 .3 1.8-.1 .3-1.4-.9-1.6-2-1-2.4-.8-.5-.8 0-.8 2.1-.4 1.5-.8 0-1.5-1.1-1.5-1.9-.3-2.2 0-.6-.8-.2-.8 1.8-1.3 1.1-1.2-.3-1.7-1.3-1.2-1.6 .3-2 .7-.7-.5-.3-.9 1.3-2 .7-1.7-.6-1.7-1.3-.9-1.4 .9-1.6 1.5-.7-.4-.4-.9 .7-2.5 .3-2.1-.9-1.7-1.3-.4-1.1 1.4-1 2.1-.7-.2-.5-.8 .1-2.9-.2-2.4-1.1-1.4-1.2-.1-.6 1.9-.5 2.6-.6 0-.6-.6-.6-3.2-.6-2.5-1.3-1.2-1 .3-.2 2.2 .2 3.1-.6 .2-.6-.5-1.1-3.2-1.1-2.5-1.3-.9-.9 .7 .3 2.5 .8 3.2-.4 .4-.7-.3-1.6-3.1-1.4-2.4-1.4-.5-.5 1.1 .7 2.6 1.3 3.2-.3 .6-.6-.1-2-2.8-1.7-2.1-1.3-.1-.3 1.4 1.2 2.5 1.8 3-.1 .8-.6 .1-2.3-2.4-1.9-1.6-1.1 .3 0 1.6 1.5 2.3 2.2 2.6 0 .9-.5 .3-2.4-1.8-2-1-.8 .7 .3 1.7 1.8 1.9 2.3 2.1 .3 .9-.4 .5-2.5-1-1.9-.5-.6 1 .6 1.7 1.9 1.5 2.5 1.5 .4 .9-.2 .7-2.4-.3-1.7 .1-.3 1.3 .9 1.7 1.9 .9 2.5 .8 .5 .8-.1 .8-2.1 .5-1.5 .7 0 1.6 1.1 1.4 1.9 .4 2.3 0 .6 .7 .1 .9-1.7 1.2-1.1 1.3 .3 1.7 1.2 1.1 1.7-.2 2-.8 .6 .6 .3 .9-1.2 1.9-.7 1.8 .6 1.7 1.3 .8 1.4-.8 1.5-1.5 .7 .4 .4 .8-.6 2.5-.3 2.2 .9 1.6 1.3 .5 1-1.4 1.1-2.2 .6 .2 .6 .8-.1 2.9 .2 2.4 1.1 1.5 1.2 .1 .6-1.9 .5-2.7 .6 0 .6 .7 .5 3.1 .7 2.6 1.2 1.2 1.1-.4 .1-2.2-.1-3 .5-.3 .7 .5 1.1 3.3 1.1 2.5 1.3 .9 .8-.8-.3-2.4-.7-3.2 .4-.5 .7 .3 1.6 3.2 1.4 2.3 1.3 .5 .6-1.1-.8-2.5zM331 356.2l1.3-1 1.1-1.3 .8-1.6 .6-2 .2-2.1 0-2.3-.4-2.5-.7-2.5-.9-2.5-1.2-2.4-1.4-2.4-1.6-2.1-1.7-1.9-1.9-1.7-1.9-1.3-1.9-.9-1.9-.6-1.9-.2-1.7 .2-1.5 .6-1.3 .9-1.1 1.4-.9 1.6-.5 1.9-.2 2.2 0 2.3 .4 2.4 .6 2.5 .9 2.5 1.2 2.5 1.4 2.3 1.6 2.2 1.8 1.9 1.8 1.6 2 1.3 1.9 1 1.9 .6 1.8 .2 1.7-.2z" fill-rule="evenodd"/>
<path d="M335.6 364.7l2.1-1.5 1.7-2 1.3-2.6 .8-3 .4-3.3-.1-3.7-.5-3.8-1.1-3.9-1.4-3.9-1.8-3.8-2.2-3.7-2.5-3.3-2.8-3-2.9-2.5-3-2.1-3-1.5-2.9-.9-2.9-.3-2.6 .3-2.4 .9-2.1 1.5-1.7 2.1-1.3 2.5-.9 3-.3 3.4 0 3.6 .6 3.8 1 3.9 1.5 4 1.8 3.8 2.2 3.6 2.5 3.3 2.7 3 2.9 2.6 3 2 3 1.5 3 .9 2.9 .3 2.6-.3z" fill="none" stroke-width="0.72"/>
<path d="M335.4 363.6l.6-.4 .6-.4 .5-.5 .5-.5 .5-.6 .5-.6 .4-.6 .3-.7 .4-.7 .3-.7 .1-1.6-.5-1.9-1.2-1.5-1.4-.9-1.3 0-.8 .9-.2 .5-.2 .5-.3 .5-.3 .5-.3 .4-.4 .4-.3 .3-.4 .4-.4 .3-.4 .3-.7 1-.1 1.6 .7 1.9 1.2 1.5 1.4 .7z"/><path d="M343.7 349.5l-.3 .4-.3 .4-.4 .4-.3 .3-.4 .3-.5 .3-.7 1 0 1.7 .6 1.8 1.2 1.5 1.4 .8 1.3-.1 .6-.4 .5-.5 .6-.4 .5-.5" fill="none" stroke-width="0.72"/>
<path d="M340.7 345.3l-.2-1.1-.3-1-.3-1.1-.3-1.1-.3-1.1-.4-1.1-.5-1-.4-1.1-.5-1.1-.5-1-1.1-1.6-1.4-.9-1.3 0-.8 .9-.2 1.6 .6 1.8 .4 .8 .3 .7 .3 .8 .3 .8 .3 .7 .2 .8 .3 .7 .2 .8 .1 .8 .2 .7 .7 1.8 1.2 1.6 1.4 .7 1.2-.1 .7-1z"/><path d="M342.2 327.7l-.1 1.6 .5 1.8 .4 .7 .3 .8 .4 .8 .3 .7 .2 .8 .3 .7 .2 .8 .2 .8 .2 .7 .1 .8 .7 1.8 1.2 1.5 1.4 .8 1.2-.1" fill="none" stroke-width="0.72"/>
<path d="M327.9 322.6l-.8-.7-.8-.6-.8-.6-.8-.6-.9-.5-.8-.5-.8-.4-.9-.4-.8-.3-.8-.3-1.3 0-.8 .9-.2 1.6 .6 1.8 1.2 1.6 1.4 .9 .5 .2 .6 .2 .6 .3 .6 .3 .6 .4 .6 .3 .6 .4 .5 .5 .6 .4 .6 .5 1.4 .8 1.2-.2 .8-1 0-1.6-.7-1.9z"/><path d="M330.3 312.6l-.8-.3-1.3 0-.8 .9-.1 1.6 .6 1.9 1.1 1.5 1.4 .9 .6 .2 .6 .3 .6 .3 .5 .3 .6 .3 .6 .4 .6 .4 .6 .4 .6 .5" fill="none" stroke-width="0.72"/>
<path d="M309.9 318.2l-.6 .4-.5 .5-.6 .4-.5 .5-.4 .6-.5 .6-.4 .6-.4 .7-.3 .7-.3 .8-.2 1.6 .6 1.8 1.1 1.6 1.4 .9 1.3 0 .8-.9 .3-.6 .2-.5 .3-.5 .3-.4 .3-.4 .3-.4 .4-.4 .3-.3 .4-.3 .5-.3 .7-1 0-1.7-.6-1.8-1.2-1.5-1.4-.8z"/><path d="M317.1 315.3l-.5 .6-.4 .6-.3 .7-.4 .7-.3 .7-.1 1.6 .5 1.9 1.2 1.5 1.4 .9 1.3 0 .8-.9 .2-.5 .2-.5 .3-.5" fill="none" stroke-width="0.72"/>
<path d="M304.7 336.5l.2 1.1 .3 1.1 .2 1.1 .4 1 .3 1.1 .4 1.1 .4 1.1 .5 1 .5 1.1 .5 1.1 1.1 1.5 1.4 .9 1.3 0 .8-.9 .1-1.6-.5-1.8-.4-.7-.3-.8-.4-.8-.3-.7-.2-.8-.3-.7-.2-.8-.2-.8-.2-.7-.1-.8-.7-1.8-1.2-1.5-1.4-.8-1.2 .1-.8 1.1z"/><path d="M314.6 329.5l-.1 1.7 .2 1.1 .3 1 .3 1.1 .3 1.1 .4 1.1 .3 1.1 .5 1 .4 1.1 .5 1.1 .5 1 1.2 1.6 1.4 .9 1.2 0" fill="none" stroke-width="0.72"/>
<path d="M317.4 359.2l.9 .7 .8 .6 .8 .6 .8 .6 .8 .5 .9 .5 .8 .5 .8 .3 .9 .4 .8 .3 1.3 0 .8-.9 .1-1.6-.6-1.9-1.1-1.5-1.4-.9-.6-.2-.6-.3-.5-.3-.6-.3-.6-.3-.6-.4-.6-.4-.6-.4-.5-.5-.6-.5-1.4-.7-1.3 .1-.7 1 0 1.7 .6 1.8z"/><path d="M328.8 348.5l-1.4-.8-1.2 .2-.7 1-.1 1.6 .7 1.9 1.2 1.5 .8 .7 .8 .6 .8 .6 .9 .6 .8 .5 .8 .5 .8 .4 .9 .4" fill="none" stroke-width="0.72"/>
<path d="M353.9 309l-.9 .6-.7 .8-.6 .9-.5 1.1-.3 1.3-.1 1.3 0 1.5 .2 1.5 .3 1.6 .5 1.6 .6 1.6 .8 1.5 .9 1.5 1 1.4 1 1.2 1.2 1.2 1.1 1 1.3 .8 1.2 .6 1.2 .4 1.2 .2 1.1 .1 1-.2 1-.4 8.4-4.6-.9 .4-1.1 .2-1.1 0-1.2-.3-1.2-.4-1.2-.6-1.2-.8-1.2-1-1.1-1.1-1.1-1.3-1-1.4-.9-1.5-.7-1.5-.7-1.6-.4-1.6-.4-1.6-.2-1.5 0-1.4 .2-1.4 .3-1.3 .4-1.1 .6-.9 .7-.8 .9-.6z" stroke="none" fill="#a0a0a0"/>
<path d="M353.9 309l8.4-4.6-.9 .6-.7 .8-.6 .9-.4 1.1-.3 1.3-.2 1.4 0 1.4 .2 1.5 .4 1.6 .4 1.6 .7 1.6 .7 1.5 .9 1.5 1 1.4 1.1 1.3 1.1 1.1 1.2 1 1.2 .8 1.2 .6 1.2 .4 1.2 .3 1.1 0 1.1-.2 .9-.4-8.4 4.6" fill="none"/>
<path d="M354.2 308.9l-.9 1.1 5.9-3.2 1-1.1z" fill="#f0f0f0" stroke-width="0.72"/>
<path d="M352.3 312.3l-.2 1.8 5.9-3.2 .2-1.8z" fill="#f0f0f0" stroke-width="0.72"/>
<path d="M352.2 317.2l.5 2.1 5.9-3.2-.5-2.1z" fill="#f0f0f0" stroke-width="0.72"/>
<path d="M353.9 322.6l1.2 2 5.9-3.2-1.2-2z" fill="#f0f0f0" stroke-width="0.72"/>
<path d="M357.1 327.4l1.6 1.6 5.9-3.2-1.6-1.6z" fill="#f0f0f0" stroke-width="0.72"/>
<path d="M361.1 330.8l1.7 .8 5.9-3.2-1.7-.8z" fill="#f0f0f0" stroke-width="0.72"/>
<path d="M365.2 332l1.5-.2 5.9-3.2-1.5 .2z" fill="#f0f0f0" stroke-width="0.72"/>
<path d="M367.6 334.3l1-.7 .9-.9 .7-1.2 .5-1.3 .4-1.5 .1-1.6 0-1.7-.2-1.9-.4-1.8-.6-1.9-.7-1.9-.9-1.8-1.1-1.8-1.1-1.6-1.3-1.6-1.4-1.3-1.4-1.2-1.4-.9-1.5-.8-1.4-.5-1.4-.3-1.4 0-1.2 .2-1.1 .5 8.4-4.6 1.1-.5 1.3-.2 1.3 0 1.4 .3 1.5 .5 1.4 .8 1.5 .9 1.4 1.2 1.3 1.4 1.3 1.5 1.2 1.6 1 1.8 .9 1.8 .8 1.9 .5 1.9 .4 1.9 .3 1.8 0 1.7-.2 1.6-.3 1.5-.6 1.3-.7 1.2-.9 .9-1 .7z" stroke="none" fill="#c4c4c4"/>
<path d="M367.6 334.3l8.4-4.6 1-.7 .9-.9 .7-1.2 .6-1.3 .3-1.5 .2-1.6 0-1.7-.3-1.8-.4-1.9-.5-1.9-.8-1.9-.9-1.8-1-1.8-1.2-1.6-1.3-1.5-1.3-1.4-1.4-1.2-1.5-.9-1.4-.8-1.5-.5-1.4-.3-1.3 0-1.3 .2-1.1 .5-8.4 4.6" fill="none" stroke-width="0.99"/>
<path d="M369.8 333l1.3-1.6 5.9-3.2-1.3 1.6z" fill="#fafafa" stroke-width="0.72"/>
<path d="M357 305.4l-2.1 .3 5.9-3.2 2.1-.3z" fill="#fafafa" stroke-width="0.72"/>
<path d="M372.1 329.1l.4-2.6 5.9-3.2-.4 2.6z" fill="#fafafa" stroke-width="0.72"/>
<path d="M361.9 306.9l-2.4-1.1 5.9-3.2 2.4 1.1z" fill="#fafafa" stroke-width="0.72"/>
<path d="M372.3 323.3l-.6-3.1 5.9-3.2 .6 3.1z" fill="#fafafa" stroke-width="0.72"/>
<path d="M366.7 311l-2.2-2.2 5.9-3.2 2.2 2.2z" fill="#fafafa" stroke-width="0.72"/>
<path d="M370.4 316.9l-1.6-3 5.9-3.2 1.6 3z" fill="#fafafa" stroke-width="0.72"/>
<path d="M367.6 334.3l1.2-.9 1-1.2 .7-1.4 .5-1.8 .2-1.9 0-2.1-.3-2.2-.6-2.3-.9-2.2-1-2.2-1.3-2.1-1.4-2-1.6-1.7-1.7-1.5-1.7-1.1-1.8-.9-1.7-.5-1.6-.2-1.6 .2-1.3 .5-1.2 .9-1 1.1-.8 1.5-.5 1.8-.2 1.9 .1 2.1 .3 2.2 .6 2.3 .8 2.2 1.1 2.2 1.2 2.1 1.5 1.9 1.6 1.8 1.6 1.4 1.8 1.2 1.7 .9 1.7 .5 1.7 .2 1.5-.2zM366.4 332.1l1-.7 .8-1 .7-1.3 .4-1.4 .2-1.7-.1-1.7-.3-1.9-.4-1.9-.7-1.9-.9-1.8-1.1-1.8-1.2-1.6-1.3-1.5-1.5-1.2-1.4-1-1.5-.7-1.4-.5-1.4-.1-1.3 .1-1.1 .5-1.1 .7-.8 1-.6 1.3-.4 1.4-.2 1.6 0 1.8 .3 1.8 .5 1.9 .7 1.9 .9 1.9 1.1 1.8 1.2 1.6 1.3 1.4 1.4 1.3 1.5 1 1.4 .7 1.5 .4 1.3 .2 1.3-.2z" fill-rule="evenodd" stroke-width="1.03"/>
<path d="M409.9 279.3l-.9 .7-.8 .8-.6 1-.5 1.1-.3 1.4-.1 1.4 0 1.5 .2 1.6 .3 1.7 .6 1.7 .6 1.6 .8 1.6 .9 1.6 1.1 1.5 1.1 1.3 1.2 1.2 1.2 1 1.3 .9 1.3 .6 1.3 .5 1.2 .2 1.2 0 1.1-.1 1-.5 8.4-4.5-1 .4-1.1 .2-1.2-.1-1.2-.2-1.3-.4-1.3-.7-1.2-.9-1.3-1-1.2-1.2-1.1-1.3-1-1.5-.9-1.5-.8-1.7-.7-1.6-.5-1.7-.4-1.6-.2-1.6 0-1.6 .2-1.4 .3-1.3 .5-1.2 .6-1 .7-.8 .9-.6z" stroke="none" fill="#a0a0a0"/>
<path d="M409.9 279.3l8.4-4.5-.9 .6-.7 .8-.6 1-.5 1.2-.3 1.3-.2 1.4 0 1.6 .2 1.6 .4 1.6 .5 1.7 .7 1.6 .8 1.7 .9 1.5 1 1.5 1.1 1.3 1.2 1.2 1.3 1 1.2 .9 1.3 .7 1.3 .4 1.2 .2 1.2 .1 1.1-.2 1-.4-8.4 4.5" fill="none"/>
<path d="M410.3 279.3l-1.1 1.2 5.9-3.2 1.1-1.2z" fill="#f0f0f0" stroke-width="0.72"/>
<path d="M408.2 282.8l-.2 2 5.9-3.2 .3-2z" fill="#f0f0f0" stroke-width="0.72"/>
<path d="M408.1 288l.5 2.2 5.9-3.2-.5-2.2z" fill="#f0f0f0" stroke-width="0.72"/>
<path d="M409.9 293.7l1.2 2.1 5.9-3.2-1.2-2.2z" fill="#f0f0f0" stroke-width="0.72"/>
<path d="M413.3 298.8l1.6 1.6 5.9-3.2-1.6-1.6z" fill="#f0f0f0" stroke-width="0.72"/>
<path d="M417.5 302.3l1.8 .8 5.9-3.2-1.8-.8z" fill="#f0f0f0" stroke-width="0.72"/>
<path d="M421.8 303.6l1.5-.2 5.9-3.2-1.5 .2z" fill="#f0f0f0" stroke-width="0.72"/>
<path d="M424.4 306l1-.8 .9-1 .8-1.2 .5-1.3 .4-1.6 .2-1.7 0-1.8-.3-2-.4-1.9-.6-2-.8-2-.9-1.9-1.1-1.9-1.2-1.7-1.4-1.6-1.4-1.4-1.5-1.3-1.5-1-1.5-.8-1.6-.5-1.4-.3-1.4 0-1.3 .2-1.2 .5 8.4-4.6 1.2-.4 1.3-.3 1.4 0 1.5 .3 1.5 .6 1.5 .8 1.5 1 1.5 1.2 1.5 1.4 1.3 1.6 1.2 1.8 1.1 1.8 1 1.9 .8 2 .6 2 .4 2 .2 1.9 0 1.8-.1 1.7-.4 1.6-.6 1.4-.7 1.2-.9 .9-1.1 .8z" stroke="none" fill="#c4c4c4"/>
<path d="M424.4 306l8.4-4.6 1.1-.8 .9-.9 .7-1.2 .6-1.4 .4-1.6 .1-1.7 0-1.8-.2-1.9-.4-2-.6-2-.8-2-1-1.9-1.1-1.8-1.2-1.8-1.3-1.6-1.5-1.4-1.5-1.2-1.5-1-1.5-.8-1.5-.6-1.5-.3-1.4 0-1.3 .3-1.2 .4-8.4 4.6" fill="none" stroke-width="0.99"/>
<path d="M426.6 304.6l1.4-1.7 5.9-3.2-1.4 1.7z" fill="#fafafa" stroke-width="0.72"/>
<path d="M413.2 275.6l-2.2 .3 5.9-3.2 2.2-.3z" fill="#fafafa" stroke-width="0.72"/>
<path d="M429 300.5l.5-2.7 5.9-3.2-.4 2.7z" fill="#fafafa" stroke-width="0.72"/>
<path d="M418.3 277.2l-2.5-1.1 5.9-3.2 2.5 1.1z" fill="#fafafa" stroke-width="0.72"/>
<path d="M429.3 294.4l-.7-3.2 5.9-3.2 .7 3.2z" fill="#fafafa" stroke-width="0.72"/>
<path d="M423.3 281.5l-2.3-2.3 5.9-3.2 2.3 2.3z" fill="#fafafa" stroke-width="0.72"/>
<path d="M427.2 287.7l-1.6-3.1 5.9-3.2 1.6 3.1z" fill="#fafafa" stroke-width="0.72"/>
<path d="M424.4 306l1.2-1 1.1-1.2 .7-1.6 .6-1.8 .2-2-.1-2.2-.3-2.3-.6-2.4-.9-2.4-1.1-2.3-1.4-2.2-1.5-2.1-1.6-1.8-1.8-1.5-1.8-1.3-1.8-.9-1.9-.5-1.7-.2-1.6 .2-1.4 .5-1.3 .9-1 1.3-.8 1.5-.6 1.9-.2 2 .1 2.2 .3 2.3 .6 2.4 .9 2.4 1.1 2.3 1.4 2.2 1.5 2 1.6 1.9 1.8 1.5 1.8 1.2 1.9 1 1.8 .5 1.7 .2 1.6-.2zM423.1 303.6l1.1-.7 .8-1.1 .7-1.3 .4-1.5 .2-1.7 0-1.9-.3-1.9-.5-2-.8-2-.9-2-1.1-1.8-1.3-1.7-1.4-1.6-1.5-1.3-1.5-1-1.5-.8-1.6-.4-1.4-.2-1.4 .2-1.2 .4-1.1 .8-.8 1.1-.7 1.3-.4 1.5-.2 1.7 0 1.9 .3 1.9 .5 2 .8 2 .9 1.9 1.1 1.9 1.3 1.7 1.4 1.5 1.5 1.3 1.5 1.1 1.6 .7 1.5 .5 1.4 .2 1.4-.2z" fill-rule="evenodd" stroke-width="1.03"/>
<path d="M431.8 267.1l-1.6 .5 9.9-5.3 1.5-.5z" stroke="none"/><path d="M441.6 261.8l-1.5 .5M430.2 267.6l9.9-5.3" fill="none"/>
<path d="M443.4 291.9l1.3-1 9.8-5.3-1.2 1z" stroke="none"/><path d="M453.3 286.6l1.2-1M443.4 291.9l9.9-5.3" fill="none"/>
<path d="M436 273.4l-1.9 .9 9.9-5.4 1.9-.9z" stroke="none"/><path d="M445.9 268l-1.9 .9M436 273.4l9.9-5.4M434.1 274.3l9.9-5.4" fill="none"/>
<path d="M440 285l1.8-1 9.8-5.4-1.8 1.1z" stroke="none"/><path d="M449.8 279.7l1.8-1.1M440 285l9.8-5.3M441.8 284l9.8-5.4" fill="none"/>
<path d="M444.7 290.9l1.4-1.7 9.8-5.3-1.4 1.7z" stroke="none"/><path d="M454.5 285.6l1.4-1.7M446.1 289.2l9.8-5.3" fill="none"/>
<path d="M434 266.9l-2.2 .2 9.8-5.3 2.2-.2z" stroke="none"/><path d="M443.8 261.6l-2.2 .2M434 266.9l9.8-5.3" fill="none"/>
<path d="M449 297.2l.9-1.5 9.9-5.3-1 1.5z" stroke="none"/><path d="M458.8 291.9l1-1.5M449 297.2l9.8-5.3" fill="none"/>
<path d="M430.6 260.1l-1.8 0 9.8-5.4 1.8 .1z" stroke="none"/><path d="M440.4 254.8l-1.8-.1M428.8 260.1l9.8-5.4" fill="none"/>
<path d="M449.9 295.7l.9-2.2 9.8-5.4-.8 2.3z" stroke="none"/><path d="M459.8 290.4l.8-2.3M450.8 293.5l9.8-5.4" fill="none"/>
<path d="M433 260.6l-2.4-.5 9.8-5.3 2.4 .5z" stroke="none"/><path d="M442.8 255.3l-2.4-.5M433 260.6l9.8-5.3" fill="none"/>
<path d="M454.9 301.2l.5-1.9 9.8-5.4-.5 1.9z" stroke="none"/><path d="M464.7 295.8l.5-1.9M454.9 301.2l9.8-5.4" fill="none"/>
<path d="M430.6 253.6l-1.9-.6 9.8-5.3 1.9 .6z" stroke="none"/><path d="M440.4 248.3l-1.9-.6M428.7 253l9.8-5.3" fill="none"/>
<path d="M455.4 299.3l.3-2.7 9.9-5.4-.4 2.7z" stroke="none"/><path d="M465.2 293.9l.4-2.7M455.7 296.6l9.9-5.4" fill="none"/>
<path d="M433.1 254.8l-2.5-1.2 9.8-5.3 2.5 1.2z" stroke="none"/><path d="M442.9 249.5l-2.5-1.2M433.1 254.8l9.8-5.3" fill="none"/>
<path d="M460.7 303.6l.1-2.3 9.9-5.3-.1 2.2z" stroke="none"/><path d="M470.6 298.2l.1-2.2M460.7 303.6l9.9-5.4" fill="none"/>
<path d="M431.8 247.9l-1.9-1.1 9.9-5.4 1.9 1.2z" stroke="none"/><path d="M441.7 242.6l-1.9-1.2M429.9 246.8l9.9-5.4" fill="none"/>
<path d="M460.8 301.3l-.2-3 9.9-5.3 .2 3z" stroke="none"/><path d="M470.7 296l-.2-3M460.6 298.3l9.9-5.3" fill="none"/>
<path d="M434.3 249.7l-2.5-1.8 9.9-5.3 2.4 1.8z" stroke="none"/><path d="M444.1 244.4l-2.4-1.8M434.3 249.7l9.8-5.3" fill="none"/>
<path d="M465.5 305l.8-.8 9.9-5.3-.9 .7z" stroke="none"/><path d="M475.3 299.6l.9-.7M465.5 305l9.8-5.4" fill="none"/>
<path d="M432.4 241.7l-1.1 .3 9.8-5.3 1.1-.3z" stroke="none"/><path d="M442.2 236.4l-1.1 .3M431.3 242l9.8-5.3" fill="none"/>
<path d="M466.3 304.2l-.3-2.4 9.8-5.3 .4 2.4z" stroke="none"/><path d="M476.2 298.9l-.4-2.4" fill="none"/>
<path d="M434.2 243.3l-1.8-1.6 9.8-5.3 1.9 1.6z" stroke="none"/><path d="M444.1 238l-1.9-1.6" fill="none"/>
<path d="M466 301.8l-.8-3.2 9.9-5.3 .7 3.2z" stroke="none"/><path d="M475.8 296.5l-.7-3.2M465.2 298.6l9.9-5.3" fill="none"/>
<path d="M436.5 245.7l-2.3-2.4 9.9-5.3 2.2 2.3z" stroke="none"/><path d="M446.3 240.3l-2.2-2.3M436.5 245.7l9.8-5.4" fill="none"/>
<path d="M465.2 298.6l.5-.4 9.8-5.4-.4 .5z" stroke="none"/><path d="M475.1 293.3l.4-.5M465.2 298.6l9.9-5.3M465.7 298.2l9.8-5.4" fill="none"/>
<path d="M437.1 245.6l-.6 .1 9.8-5.4 .6-.1z" stroke="none"/><path d="M446.9 240.2l-.6 .1M437.1 245.6l9.8-5.4M436.5 245.7l9.8-5.4" fill="none"/>
<path d="M446.8 254.9l-1.1 .8-.9 1-.8 1.2-.6 1.5-.4 1.6-.1 1.8 0 1.9 .2 2 .5 2 .6 2.1 .8 2 1 2 1.1 1.9 1.3 1.8 1.4 1.7 1.5 1.5 1.5 1.2 1.6 1.1 1.6 .8 1.5 .6 1.6 .3 1.4 0 1.4-.3 1.2-.5 9.9-5.3-1.3 .5-1.3 .2-1.5 0-1.5-.3-1.6-.5-1.6-.9-1.6-1-1.5-1.3-1.5-1.5-1.4-1.6-1.2-1.8-1.2-1.9-1-2-.8-2.1-.6-2-.4-2.1-.3-2 0-1.9 .2-1.8 .4-1.6 .6-1.4 .7-1.3 1-1 1.1-.7z" stroke="none"/>
<path d="M446.8 254.9l9.9-5.3-1.1 .7-1 1-.7 1.3-.6 1.4-.4 1.6-.2 1.8 0 1.9 .3 2 .4 2.1 .6 2 .8 2.1 1 2 1.2 1.9 1.2 1.8 1.4 1.6 1.5 1.5 1.5 1.3 1.6 1 1.6 .9 1.6 .5 1.5 .3 1.5 0 1.3-.2 1.3-.5-9.9 5.3" fill="none" stroke-width="0.72"/>
<path d="M470.7 304.3l.6-1.1 9.9-5.3-.6 1z" stroke="none"/><path d="M480.6 298.9l.6-1M470.7 304.3l9.9-5.4" fill="none"/>
<path d="M436 238.1l-1.2-.1 9.8-5.3 1.2 0z" stroke="none"/><path d="M445.8 232.7l-1.2 0M434.8 238l9.8-5.3" fill="none"/>
<path d="M471.3 303.2l-.7-2.5 9.8-5.3 .8 2.5z" stroke="none"/><path d="M481.2 297.9l-.8-2.5" fill="none"/>
<path d="M437.7 240.1l-1.7-2 9.8-5.4 1.7 2z" stroke="none"/><path d="M447.5 234.7l-1.7-2" fill="none"/>
<path d="M470.6 300.7l-1.2-3.2 9.8-5.3 1.2 3.2z" stroke="none"/><path d="M480.4 295.4l-1.2-3.2M469.4 297.5l9.8-5.3" fill="none"/>
<path d="M439.7 242.8l-2-2.7 9.8-5.4 2 2.8z" stroke="none"/><path d="M449.5 237.5l-2-2.8M439.7 242.8l9.8-5.3" fill="none"/>
<path d="M469.4 297.5l.2-.6 9.9-5.3-.3 .6z" stroke="none"/><path d="M479.2 292.2l.3-.6M469.4 297.5l9.8-5.3M469.6 296.9l9.9-5.3" fill="none"/>
<path d="M440.3 242.9l-.6-.1 9.8-5.3 .7 .1z" stroke="none"/><path d="M450.2 237.6l-.7-.1M440.3 242.9l9.9-5.3M439.7 242.8l9.8-5.3" fill="none"/>
<path d="M475.2 301.8l.4-1.3 9.8-5.4-.3 1.4z" stroke="none"/><path d="M485.1 296.5l.3-1.4M475.2 301.8l9.9-5.3" fill="none"/>
<path d="M440.6 236l-1.4-.4 9.9-5.4 1.3 .5z" stroke="none"/><path d="M450.4 230.7l-1.3-.5M439.2 235.6l9.9-5.4" fill="none"/>
<path d="M475.6 300.5l-1.2-2.5 9.9-5.3 1.1 2.4z" stroke="none"/><path d="M485.4 295.1l-1.1-2.4" fill="none"/>
<path d="M442 238.3l-1.4-2.3 9.8-5.3 1.4 2.3z" stroke="none"/><path d="M451.8 233l-1.4-2.3" fill="none"/>
<path d="M443.6 241.4l-1.6-3.1 9.8-5.3 1.6 3z" stroke="none"/><path d="M453.4 236l-1.6-3M443.6 241.4l9.8-5.4" fill="none"/>
<path d="M474.4 298l-1.7-3 9.9-5.3 1.7 3z" stroke="none"/><path d="M484.3 292.7l-1.7-3M472.7 295l9.9-5.3" fill="none"/>
<path d="M472.7 295l.2-.7 9.8-5.4-.1 .8z" stroke="none"/><path d="M482.6 289.7l.1-.8M472.7 295l9.9-5.3M472.9 294.3l9.8-5.4" fill="none"/>
<path d="M444.3 241.7l-.7-.3 9.8-5.4 .7 .3z" stroke="none"/><path d="M454.1 236.3l-.7-.3M444.3 241.7l9.8-5.4M443.6 241.4l9.8-5.4" fill="none"/>
<path d="M475.2 291.3l0-.9 9.9-5.3 0 .8z" stroke="none"/><path d="M485.1 285.9l0-.8M475.2 291.3l9.9-5.4" fill="none"/>
<path d="M448.8 241.8l-.7-.5 9.9-5.3 .7 .4z" stroke="none"/><path d="M458.7 236.4l-.7-.4M448.1 241.3l9.9-5.3" fill="none"/>
<path d="M448.1 241.3l-1.1-3.2 9.8-5.3 1.2 3.2z" stroke="none"/><path d="M458 236l-1.2-3.2M448.1 241.3l9.9-5.3" fill="none"/>
<path d="M477.3 294l-2.1-2.7 9.9-5.4 2 2.7z" stroke="none"/><path d="M487.1 288.6l-2-2.7M475.2 291.3l9.9-5.4" fill="none"/>
<path d="M478.7 297.8l0-1.5 9.9-5.4-.1 1.6z" stroke="none"/><path d="M488.5 292.5l.1-1.6M478.7 297.8l9.8-5.3" fill="none"/>
<path d="M445.8 235.7l-1.3-.8 9.8-5.4 1.4 .8z" stroke="none"/><path d="M455.7 230.3l-1.4-.8M444.5 234.9l9.8-5.4" fill="none"/>
<path d="M478.7 296.3l-1.4-2.3 9.8-5.4 1.5 2.3z" stroke="none"/><path d="M488.6 290.9l-1.5-2.3" fill="none"/>
<path d="M447 238.1l-1.2-2.4 9.9-5.4 1.1 2.5z" stroke="none"/><path d="M456.8 232.8l-1.1-2.5" fill="none"/>
<path d="M475.2 290.4l.5-.3 9.9-5.3-.5 .3z" stroke="none"/><path d="M485.1 285.1l.5-.3M475.7 290.1l9.9-5.3" fill="none"/>
<path d="M449.4 241.5l-.6 .3 9.9-5.4 .5-.2z" stroke="none"/><path d="M459.2 236.2l-.5 .2M449.4 241.5l9.8-5.3" fill="none"/>
<path d="M476.7 286.4l-.2-.9 9.9-5.3 .2 .9z" stroke="none"/><path d="M486.6 281.1l-.2-.9M476.7 286.4l9.9-5.3" fill="none"/>
<path d="M453.6 243.3l-.6-.6 9.8-5.3 .7 .6z" stroke="none"/><path d="M463.5 238l-.7-.6M453 242.7l9.8-5.3" fill="none"/>
<path d="M480.1 293.1l.9-.7 9.8-5.4-.9 .7z" stroke="none"/><path d="M489.9 287.7l.9-.7M480.1 293.1l9.8-5.4M481 292.4l9.8-5.4" fill="none"/>
<path d="M450.3 235.9l-1.1 .4 9.9-5.4 1-.3z" stroke="none"/><path d="M460.1 230.6l-1 .3M450.3 235.9l9.8-5.3M449.2 236.3l9.9-5.4" fill="none"/>
<path d="M453 242.7l-.7-3.2 9.9-5.3 .6 3.2z" stroke="none"/><path d="M462.8 237.4l-.6-3.2M453 242.7l9.8-5.3" fill="none"/>
<path d="M479 288.7l-2.3-2.3 9.9-5.3 2.3 2.3z" stroke="none"/><path d="M488.9 283.4l-2.3-2.3M476.7 286.4l9.9-5.3" fill="none"/>
<path d="M476.5 285.5l.4-.5 9.9-5.3-.4 .5z" stroke="none"/><path d="M486.4 280.2l.4-.5M476.9 285l9.9-5.3" fill="none"/>
<path d="M454.3 243.3l-.7 0 9.9-5.3 .6-.1z" stroke="none"/><path d="M464.1 237.9l-.6 .1M454.3 243.3l9.8-5.4" fill="none"/>
<path d="M481 292.4l-.3-1.7 9.8-5.4 .3 1.7z" stroke="none"/><path d="M490.8 287l-.3-1.7M481 292.4l9.8-5.4" fill="none"/>
<path d="M451.6 237l-1.3-1.1 9.8-5.3 1.3 1.1z" stroke="none"/><path d="M461.4 231.7l-1.3-1.1M450.3 235.9l9.8-5.3" fill="none"/>
<path d="M480.7 290.7l-1.7-2 9.9-5.3 1.6 1.9z" stroke="none"/><path d="M490.5 285.3l-1.6-1.9" fill="none"/>
<path d="M452.3 239.5l-.7-2.5 9.8-5.3 .8 2.5z" stroke="none"/><path d="M462.2 234.2l-.8-2.5" fill="none"/>
<path d="M458.5 246.2l-.6-.7 9.9-5.4 .6 .8z" stroke="none"/><path d="M468.4 240.9l-.6-.8M457.9 245.5l9.9-5.4" fill="none"/>
<path d="M477.1 280.8l-.3-.9 9.8-5.4 .4 .9z" stroke="none"/><path d="M487 275.4l-.4-.9M477.1 280.8l9.9-5.4" fill="none"/>
<path d="M476.8 279.9l.2-.7 9.9-5.3-.3 .6z" stroke="none"/><path d="M486.6 274.5l.3-.6M477 279.2l9.9-5.3" fill="none"/>
<path d="M459.2 246.4l-.7-.2 9.9-5.3 .6 .1z" stroke="none"/><path d="M469 241l-.6-.1M459.2 246.4l9.8-5.4" fill="none"/>
<path d="M479.5 282.5l-2.4-1.7 9.9-5.4 2.4 1.7z" stroke="none"/><path d="M489.4 277.1l-2.4-1.7M477.1 280.8l9.9-5.4" fill="none"/>
<path d="M457.9 245.5l-.1-3 9.9-5.4 .1 3z" stroke="none"/><path d="M467.8 240.1l-.1-3M457.9 245.5l9.9-5.4" fill="none"/>
<path d="M481.3 286.8l.6-1 9.9-5.3-.7 1z" stroke="none"/><path d="M491.1 281.5l.7-1M481.3 286.8l9.8-5.3M481.9 285.8l9.9-5.3" fill="none"/>
<path d="M456.3 238.7l-1.2 0 9.9-5.4 1.2 0z" stroke="none"/><path d="M466.2 233.3l-1.2 0M456.3 238.7l9.9-5.4M455.1 238.7l9.9-5.4" fill="none"/>
<path d="M481.4 284.1l-1.9-1.6 9.9-5.4 1.8 1.6z" stroke="none"/><path d="M491.2 278.7l-1.8-1.6" fill="none"/>
<path d="M457.8 242.5l-.3-2.4 9.8-5.4 .4 2.4z" stroke="none"/><path d="M467.7 237.1l-.4-2.4" fill="none"/>
<path d="M481.9 285.8l-.5-1.7 9.8-5.4 .6 1.8z" stroke="none"/><path d="M491.8 280.5l-.6-1.8M481.9 285.8l9.9-5.3" fill="none"/>
<path d="M457.5 240.1l-1.2-1.4 9.9-5.4 1.1 1.4z" stroke="none"/><path d="M467.3 234.7l-1.1-1.4M456.3 238.7l9.9-5.4" fill="none"/>
<path d="M476.4 274.6l-.5-.9 9.9-5.3 .4 .8z" stroke="none"/><path d="M486.2 269.2l-.4-.8M476.4 274.6l9.8-5.4" fill="none"/>
<path d="M463.2 250.3l-.5-.9 9.9-5.3 .5 .8z" stroke="none"/><path d="M473.1 244.9l-.5-.8M462.7 249.4l9.9-5.3" fill="none"/>
<path d="M475.9 273.7l.1-.8 9.9-5.3-.1 .8z" stroke="none"/><path d="M485.8 268.4l.1-.8M476 272.9l9.9-5.3" fill="none"/>
<path d="M463.9 250.6l-.7-.3 9.9-5.4 .7 .4z" stroke="none"/><path d="M473.8 245.3l-.7-.4M463.9 250.6l9.9-5.3" fill="none"/>
<path d="M462.7 249.4l.5-2.6 9.8-5.3-.4 2.6z" stroke="none"/><path d="M472.6 244.1l.4-2.6M462.7 249.4l9.9-5.3" fill="none"/>
<path d="M478.8 275.6l-2.4-1 9.8-5.4 2.5 1.1z" stroke="none"/><path d="M488.7 270.3l-2.5-1.1M476.4 274.6l9.8-5.4" fill="none"/>
<path d="M474.6 268.2l-.6-.8 9.9-5.4 .5 .8z" stroke="none"/><path d="M484.4 262.8l-.5-.8M474.6 268.2l9.8-5.4" fill="none"/>
<path d="M467.5 255.3l-.4-.9 9.9-5.3 .4 .9z" stroke="none"/><path d="M477.4 250l-.4-.9M467.1 254.4l9.9-5.3" fill="none"/>
<path d="M474 267.4l0-.9 9.8-5.4 .1 .9z" stroke="none"/><path d="M483.9 262l-.1-.9M474 266.5l9.8-5.4" fill="none"/>
<path d="M468.2 255.9l-.7-.6 9.9-5.3 .6 .5z" stroke="none"/><path d="M478 250.5l-.6-.5M468.2 255.9l9.8-5.4" fill="none"/>
<path d="M471.8 261.8l-.6-.7 9.8-5.3 .7 .7z" stroke="none"/><path d="M481.7 256.5l-.7-.7M471.8 261.8l9.9-5.3" fill="none"/>
<path d="M471.2 261.1l-.2-.9 9.8-5.3 .2 .9z" stroke="none"/><path d="M481 255.8l-.2-.9M471 260.2l9.8-5.3" fill="none"/>
<path d="M481.2 279.8l.4-1.3 9.8-5.4-.4 1.3z" stroke="none"/><path d="M491 274.4l.4-1.3M481.2 279.8l9.8-5.4M481.6 278.5l9.8-5.4" fill="none"/>
<path d="M462.3 243l-1.3-.4 9.8-5.3 1.3 .3z" stroke="none"/><path d="M472.1 237.6l-1.3-.3M462.3 243l9.8-5.4M461 242.6l9.8-5.3" fill="none"/>
<path d="M480.8 276.8l-2-1.2 9.9-5.3 1.9 1.1z" stroke="none"/><path d="M490.6 271.4l-1.9-1.1" fill="none"/>
<path d="M463.2 246.8l.1-2.2 9.8-5.4-.1 2.3z" stroke="none"/><path d="M473 241.5l.1-2.3" fill="none"/>
<path d="M476.9 268.5l-2.3-.3 9.8-5.4 2.4 .4z" stroke="none"/><path d="M486.8 263.2l-2.4-.4M474.6 268.2l9.8-5.4" fill="none"/>
<path d="M467.1 254.4l1-2.1 9.9-5.4-1 2.2z" stroke="none"/><path d="M477 249.1l1-2.2M467.1 254.4l9.9-5.3" fill="none"/>
<path d="M481.6 278.5l-.8-1.7 9.8-5.4 .8 1.7z" stroke="none"/><path d="M491.4 273.1l-.8-1.7M481.6 278.5l9.8-5.4" fill="none"/>
<path d="M463.3 244.6l-1-1.6 9.8-5.4 1 1.6z" stroke="none"/><path d="M473.1 239.2l-1-1.6M462.3 243l9.8-5.4" fill="none"/>
<path d="M473.9 261.5l-2.1 .3 9.9-5.3 2.1-.4z" stroke="none"/><path d="M483.8 256.1l-2.1 .4M471.8 261.8l9.9-5.3" fill="none"/>
<path d="M471 260.2l1.4-1.6 9.9-5.3-1.5 1.6z" stroke="none"/><path d="M480.8 254.9l1.5-1.6M471 260.2l9.8-5.3" fill="none"/>
<path d="M478.8 269.1l-1.9-.6 9.9-5.3 1.9 .6z" stroke="none"/><path d="M488.7 263.8l-1.9-.6" fill="none"/>
<path d="M468.1 252.3l.5-1.9 9.9-5.4-.5 1.9z" stroke="none"/><path d="M478 246.9l.5-1.9" fill="none"/>
<path d="M479.8 272.2l.1-1.5 9.8-5.4-.1 1.6z" stroke="none"/><path d="M489.6 266.9l.1-1.6M479.8 272.2l9.8-5.3M479.9 270.7l9.8-5.4" fill="none"/>
<path d="M467.9 248.7l-1.3-.8 9.8-5.3 1.3 .7z" stroke="none"/><path d="M477.7 243.3l-1.3-.7M467.9 248.7l9.8-5.4M466.6 247.9l9.8-5.3" fill="none"/>
<path d="M475.8 265.6l1.3-1.1 9.8-5.3-1.2 1z" stroke="none"/><path d="M485.7 260.2l1.2-1M475.8 265.6l9.9-5.4" fill="none"/>
<path d="M471.6 254.3l-1.6 .5 9.8-5.3 1.6-.5z" stroke="none"/><path d="M481.4 249l-1.6 .5M470 254.8l9.8-5.3" fill="none"/>
<path d="M479.9 270.7l-1.1-1.6 9.9-5.3 1 1.5z" stroke="none"/><path d="M489.7 265.3l-1-1.5M479.9 270.7l9.8-5.4" fill="none"/>
<path d="M468.6 250.4l-.7-1.7 9.8-5.4 .8 1.7z" stroke="none"/><path d="M478.5 245l-.8-1.7M467.9 248.7l9.8-5.4" fill="none"/>
<path d="M475.7 261.5l-1.8 0 9.9-5.4 1.8 .1z" stroke="none"/><path d="M485.6 256.2l-1.8-.1" fill="none"/>
<path d="M472.4 258.6l.9-1.5 9.9-5.3-.9 1.5z" stroke="none"/><path d="M482.3 253.3l.9-1.5" fill="none"/>
<path d="M477.1 264.5l-.2-1.6 9.8-5.4 .2 1.7z" stroke="none"/><path d="M486.9 259.2l-.2-1.7M476.9 262.9l9.8-5.4" fill="none"/>
<path d="M472.8 255.4l-1.2-1.1 9.8-5.3 1.3 1z" stroke="none"/><path d="M482.7 250l-1.3-1M472.8 255.4l9.9-5.4" fill="none"/>
<path d="M476.9 262.9l-1.2-1.4 9.9-5.3 1.1 1.3z" stroke="none"/><path d="M486.7 257.5l-1.1-1.3M476.9 262.9l9.8-5.4" fill="none"/>
<path d="M473.3 257.1l-.5-1.7 9.9-5.4 .5 1.8z" stroke="none"/><path d="M483.2 251.8l-.5-1.8M472.8 255.4l9.9-5.4" fill="none"/>
<path d="M469.4 297.5l.2-.6 .7 .1 2 2.8 1.7 2 1.2 0 .4-1.3-1.2-2.5-1.7-3 .2-.7 .6-.1 2.2 2.3 1.9 1.6 1.1-.3 0-1.5-1.4-2.3-2.1-2.7 0-.9 .5-.3 2.4 1.8 2 1.2 .9-.7-.3-1.7-1.7-2-2.3-2.3-.2-.9 .4-.5 2.5 1.2 1.9 .6 .6-1-.5-1.7-1.9-1.6-2.4-1.7-.3-.9 .2-.7 2.4 .5 1.8 .1 .4-1.3-.8-1.7-2-1.2-2.4-1-.5-.9 .1-.8 2.2-.2 1.6-.5 .1-1.5-1.1-1.6-1.9-.6-2.3-.3-.6-.8 0-.9 1.8-.9 1.3-1.1-.2-1.6-1.2-1.4-1.8 0-2.1 .3-.6-.7-.2-.9 1.4-1.6 .9-1.5-.5-1.7-1.2-1.1-1.6 .5-1.8 1.1-.7-.6-.4-.9 1-2.1 .5-1.9-.7-1.7-1.3-.8-1.3 1-1.4 1.7-.7-.3-.5-.9 .5-2.6 .1-2.2-1-1.6-1.3-.4-.9 1.5-.9 2.3-.7-.2-.6-.7-.1-3-.3-2.4-1.2-1.4-1.2 0-.5 1.9-.3 2.7-.7 0-.6-.6-.7-3.2-.7-2.5-1.3-1.1-1.1 .4-.1 2.2 .3 3-.6 .3-.7-.5-1.1-3.2-1.2-2.4-1.3-.8-.8 .7 .3 2.4 .7 3.2-.4 .5-.7-.3-1.6-3.1-1.4-2.3-1.4-.4-.6 1 .8 2.5 1.2 3.2-.3 .6-.6-.1-2-2.7-1.7-2-1.2-.1-.4 1.4 1.1 2.4 1.7 3-.1 .8-.6 .1-2.3-2.4-1.8-1.6-1.1 .3 0 1.6 1.4 2.3 2 2.7 .1 .8-.5 .3-2.5-1.8-1.9-1.1-.9 .7 .3 1.7 1.7 1.9 2.3 2.3 .1 .9-.3 .5-2.5-1.2-1.9-.6-.7 1 .6 1.8 1.8 1.6 2.5 1.7 .3 .9-.2 .6-2.4-.5-1.8 0-.4 1.3 .8 1.7 1.9 1.1 2.5 1.1 .4 .8 0 .8-2.2 .2-1.6 .5-.1 1.6 1 1.5 1.9 .6 2.4 .4 .5 .8 .1 .9-1.9 .9-1.2 1 .2 1.7 1.2 1.3 1.7 .1 2.2-.4 .6 .7 .2 .9-1.4 1.6-1 1.5 .5 1.8 1.3 1 1.6-.5 1.8-1 .7 .5 .3 .9-1 2.2-.5 1.9 .8 1.7 1.3 .7 1.3-1 1.4-1.7 .7 .4 .4 .8-.4 2.6-.1 2.3 1 1.6 1.3 .3 .9-1.5 .9-2.2 .7 .1 .6 .8 .1 3 .3 2.4 1.1 1.4 1.3 0 .5-1.9 .3-2.7 .6-.1 .7 .6 .7 3.2 .7 2.5 1.3 1.1 1-.3 .1-2.3-.2-3 .6-.2 .7 .4 1.1 3.2 1.1 2.5 1.4 .8 .8-.8-.3-2.4-.8-3.2 .5-.4 .7 .3 1.6 3 1.4 2.3 1.3 .5 .6-1.1-.7-2.5zM463.1 284.9l1.3-.9 1.1-1.3 .8-1.6 .6-1.9 .2-2.1 0-2.3-.4-2.4-.6-2.5-.9-2.5-1.2-2.4-1.4-2.3-1.6-2.1-1.7-1.8-1.8-1.7-1.9-1.2-1.9-1-1.9-.6-1.8-.2-1.7 .2-1.5 .6-1.3 1-1 1.3-.9 1.6-.5 1.9-.2 2.1 0 2.3 .4 2.4 .6 2.4 .9 2.5 1.2 2.4 1.4 2.3 1.5 2.1 1.8 1.9 1.8 1.6 1.9 1.3 1.9 .9 1.9 .6 1.8 .2 1.6-.2z" fill-rule="evenodd"/>
<path d="M468.8 295.3l2.2-1.6 1.8-2.2 1.4-2.7 .9-3.2 .4-3.6-.1-3.9-.6-4-1.1-4.2-1.5-4.2-2-4-2.3-3.9-2.7-3.6-2.9-3.1-3.1-2.8-3.2-2.1-3.2-1.6-3.2-1-3-.3-2.8 .3-2.6 1-2.2 1.6-1.8 2.2-1.4 2.7-.9 3.2-.4 3.5 .1 3.9 .6 4.1 1.1 4.1 1.5 4.2 2 4.1 2.3 3.8 2.7 3.6 2.9 3.2 3.1 2.7 3.2 2.2 3.2 1.6 3.1 1 3.1 .3 2.8-.4z" fill="none" stroke-width="0.72"/>
<path d="M465.9 289.9l1.7-1.2 1.4-1.8 1.1-2.1 .7-2.5 .4-2.8-.1-3.1-.5-3.2-.8-3.3-1.3-3.3-1.5-3.2-1.9-3-2-2.9-2.3-2.5-2.5-2.1-2.5-1.7-2.5-1.3-2.5-.8-2.4-.2-2.3 .2-2 .8-1.7 1.3-1.5 1.7-1 2.2-.8 2.5-.3 2.8 .1 3 .5 3.2 .8 3.3 1.2 3.3 1.6 3.2 1.8 3.1 2.1 2.8 2.3 2.5 2.5 2.2 2.5 1.7 2.5 1.2 2.5 .8 2.4 .3 2.2-.3z" fill="none" stroke-width="0.72"/>
<path d="M507.7 263.8l1.3-1 1.1-1.2 1-1.4 .7-1.8 .4-1.9 .2-2.2 0-2.2-.3-2.4-.5-2.5-.7-2.5-1-2.4-1.2-2.4-1.4-2.3-1.5-2.2-1.7-2-1.7-1.7-1.9-1.6-1.9-1.2-1.9-1-1.9-.7-1.8-.3-1.8-.1-1.6 .3-1.5 .6-1.3 1-1.2 1.2-.9 1.4-.7 1.8-.5 1.9-.2 2.2 0 2.2 .3 2.4 .5 2.5 .8 2.5 1 2.4 1.2 2.4 1.3 2.3 1.6 2.2 1.6 2 1.8 1.7 1.9 1.6 1.9 1.2 1.9 1 1.8 .7 1.9 .3 1.7 .1 1.7-.3zM505.7 260.2l.6-.4 .5-.4 .4-.4 .5-.5-.3-1.4 .4-.5 .2-.7 1 0 .2-.8 .2-.8 .1-.8 0-.9 0-.9 0-.9-.1-.9-.1-1-.2-1-.2-1-.3-1-.3-1-.4-.9-.4-1-.5-1-.5-.9-.5-1-.6-.9-.6-.9-.6-.8-.6-.8-.7-.8-.7-.7-.7-.7-.8-.7-.7-.6-.8-.5-.7-.5-.8 .5-.7-.4-.7-.2-.9-1.2-.7-.2-.7-.1-.8 0-.6 0-.7 .1-.7 .1-.6 .3-.5 .2-.6 .4-.5 .4-.5 .4-.4 .5-.4 .6-.4 .6-.3 .7-.2 .7-.2 .8-.2 .8-.1 .8-.1 .9 0 .9 .1 .9 0 .9 .2 1 .2 1 .2 1 .3 1 .3 1 1 .8 .4 1 .4 .9-.1 1.1 .6 1 .5 .9 .6 .9 .7 .8 .6 .8 .7 .8 .7 .7 .7 .7 .7 .7 .8 .6 .7 .5 .8 .5 .8 .4 .7 .3 .8 .3 .7 .3 .8 .2 .7 .1 .7 0 .7 0 .7-.1 .6-.1 .6-.3z" fill-rule="evenodd" stroke-width="0.95"/>
<path d="M530.5 233.9l-.7-1.6-.9-1.6-.9-1.5-1-1.4-1-1.4-1.2-1.2-1.1-1.1-1.2-1-1.3-.9-1.2-.8-1.3-.6-1.2-.4-1.2-.3-1.2-.1-1.1 0-1.1 .3-1 .3-.9 .5-.8 .7-.8 .8-.6 1-.5 1-.4 1.2-.3 1.3-.2 1.4 0 1.5 .1 1.5 .2 1.6 .3 1.6 .5 1.6 .6 1.6 .6 1.6 .8 1.6 .9 1.5 .9 1.5 1.1 1.4 1.1 1.3 1.1 1.2 1.2 1.1 1.2 .9 1.3 .8 1.2 .7 1.3 .5 1.2 .4 1.2 .2 1.2 0 1.1-.1 1-.3 .9-.5 .9-.5 .8-.8 .7-.9 .6-1 .4-1.1 .4-1.3 .2-1.3 .1-1.4-.1-1.5-.1-1.6-.3-1.6-2.4-.5 .2 1.3 .1 1.3 .1 1.2-.1 1.1-.2 1.1-.3 1-.3 .9-.5 .8-.5 .7-.7 .6-.7 .5-.7 .3-.9 .2-.8 .1-1 0-.9-.2-1-.2-1-.5-1-.5-1-.6-1-.8-.9-.9-.9-.9-.9-1-.8-1.2-.8-1.1-.7-1.2-.6-1.3-.6-1.3-.4-1.3-.4-1.3-.2-1.3-.2-1.2-.1-1.3 0-1.1 .2-1.1 .2-1.1 .3-.9 .4-.9 .5-.7 .6-.7 .7-.5 .7-.4 .8-.3 .9-.2 .9 0 .9 .1 1 .2 1 .3 1 .5 1 .6 1 .7 .9 .8 1 .9 .9 1 .8 1.1 .8 1.1 .7 1.2 .7 1.3 .6 1.2z" fill-rule="evenodd" stroke-width="0.95"/>
<path d="M547.5 236l1.3-1.3 9.2-5-1.3 1.3z" stroke="none"/><path d="M556.7 231l1.3-1.3M547.5 236l9.2-5" fill="none"/>
<path d="M542.7 227.6l2-1.1 9.1-4.9-1.9 1z" stroke="none"/><path d="M551.9 222.6l1.9-1M542.7 227.6l9.2-5M544.7 226.5l9.1-4.9" fill="none"/>
<path d="M538.3 213.3l-2.2 .5 9.1-4.9 2.3-.5z" stroke="none"/><path d="M547.5 208.4l-2.3 .5M538.3 213.3l9.2-4.9M536.1 213.8l9.1-4.9" fill="none"/>
<path d="M534.6 205l-2 0 9.2-5 1.9 0z" stroke="none"/><path d="M543.7 200l-1.9 0M532.6 205l9.2-5" fill="none"/>
<path d="M548.8 234.7l1.3-2.1 9.1-4.9-1.2 2z" stroke="none"/><path d="M558 229.7l1.2-2M550.1 232.6l9.1-4.9" fill="none"/>
<path d="M537.1 205.6l-2.5-.6 9.1-5 2.6 .7z" stroke="none"/><path d="M546.3 200.7l-2.6-.7M537.1 205.6l9.2-4.9" fill="none"/>
<path d="M555 241.6l.7-2 9.1-4.9-.7 1.9z" stroke="none"/><path d="M564.1 236.6l.7-1.9M555 241.6l9.1-5" fill="none"/>
<path d="M555.7 239.6l.4-2.8 9.1-5-.4 2.9z" stroke="none"/><path d="M564.8 234.7l.4-2.9M556.1 236.8l9.1-5" fill="none"/>
<path d="M535.3 197.2l-2.1-.9 9.1-4.9 2.1 .9z" stroke="none"/><path d="M544.4 192.3l-2.1-.9M533.2 196.3l9.1-4.9" fill="none"/>
<path d="M546.4 218.1l.6 1.2 9.2-5-.6-1.2z" stroke="none"/><path d="M555.6 213.1l.6 1.2M546.4 218.1l9.2-5M547 219.3l9.2-5" fill="none" stroke-width="0.63"/>
<path d="M547 219.3l.9 .1 9.2-4.9-.9-.2z" stroke="none"/><path d="M556.2 214.3l.9 .2M547 219.3l9.2-5M547.9 219.4l9.2-4.9" fill="none" stroke-width="0.63"/>
<path d="M549 222.4l.8 1 9.2-4.9-.8-1.1z" stroke="none"/><path d="M558.2 217.4l.8 1.1M549 222.4l9.2-5M549.8 223.4l9.2-4.9" fill="none" stroke-width="0.63"/>
<path d="M546.9 217.3l-.5 .8 9.2-5 .4-.7z" stroke="none"/><path d="M556 212.4l-.4 .7M546.9 217.3l9.1-4.9M546.4 218.1l9.2-5" fill="none" stroke-width="0.63"/>
<path d="M549.2 221.4l-.2 1 9.2-5 .1-1z" stroke="none"/><path d="M558.3 216.4l-.1 1M549.2 221.4l9.1-5M549 222.4l9.2-5" fill="none" stroke-width="0.63"/>
<path d="M544.7 213.4l.4 1.3 9.1-5-.3-1.2z" stroke="none"/><path d="M553.9 208.5l.3 1.2M544.7 213.4l9.2-4.9M545.1 214.7l9.1-5" fill="none" stroke-width="0.63"/>
<path d="M545.1 214.7l.9 .5 9.1-5-.9-.5z" stroke="none"/><path d="M554.2 209.7l.9 .5M545.1 214.7l9.1-5M546 215.2l9.1-5" fill="none" stroke-width="0.63"/>
<path d="M547.9 219.4l1.3 2 9.1-5-1.2-1.9z" stroke="none"/><path d="M557.1 214.5l1.2 1.9M547.9 219.4l9.2-4.9M549.2 221.4l9.1-5" fill="none" stroke-width="0.63"/>
<path d="M549.8 223.4l.8-.2 9.1-5-.7 .3z" stroke="none"/><path d="M559 218.5l.7-.3M549.8 223.4l9.2-4.9M550.6 223.2l9.1-5" fill="none" stroke-width="0.63"/>
<path d="M546 215.2l.9 2.1 9.1-4.9-.9-2.2z" stroke="none"/><path d="M555.1 210.2l.9 2.2M546 215.2l9.1-5M546.9 217.3l9.1-4.9" fill="none" stroke-width="0.63"/>
<path d="M537.9 198.9l-2.6-1.7 9.1-4.9 2.7 1.7z" stroke="none"/><path d="M547.1 194l-2.7-1.7M537.9 198.9l9.2-4.9" fill="none"/>
<path d="M545.4 213l-.7 .4 9.2-4.9 .6-.5z" stroke="none"/><path d="M554.5 208l-.6 .5M545.4 213l9.1-5M544.7 213.4l9.2-4.9" fill="none" stroke-width="0.63"/>
<path d="M550.6 223.2l1.5 1.6 9.2-5-1.6-1.6z" stroke="none"/><path d="M559.7 218.2l1.6 1.6M550.6 223.2l9.1-5M552.1 224.8l9.2-5" fill="none" stroke-width="0.63"/>
<path d="M552.3 226l.9 .7 9.1-4.9-.9-.8z" stroke="none"/><path d="M561.4 221l.9 .8M552.3 226l9.1-5M553.2 226.7l9.1-4.9" fill="none" stroke-width="0.63"/>
<path d="M552.1 224.8l.2 1.2 9.1-5-.1-1.2z" stroke="none"/><path d="M561.3 219.8l.1 1.2M552.1 224.8l9.2-5M552.3 226l9.1-5" fill="none" stroke-width="0.63"/>
<path d="M545 210.9l.4 2.1 9.1-5-.3-2.1z" stroke="none"/><path d="M554.2 205.9l.3 2.1M545 210.9l9.2-5M545.4 213l9.1-5" fill="none" stroke-width="0.63"/>
<path d="M544.1 210l.9 .9 9.2-5-.9-.8z" stroke="none"/><path d="M553.3 205.1l.9 .8M544.1 210l9.2-4.9M545 210.9l9.2-5" fill="none" stroke-width="0.63"/>
<path d="M544.1 208.9l0 1.1 9.2-4.9-.1-1.2z" stroke="none"/><path d="M553.2 203.9l.1 1.2M544.1 208.9l9.1-5M544.1 210l9.2-4.9" fill="none" stroke-width="0.63"/>
<path d="M562.4 244.3l.1-2.4 9.1-5 0 2.5z" stroke="none"/><path d="M571.6 239.4l0-2.5M562.4 244.3l9.2-4.9" fill="none"/>
<path d="M553.7 226.1l1.7 1.1 9.1-5-1.6-1z" stroke="none"/><path d="M562.9 221.2l1.6 1M553.7 226.1l9.2-4.9M555.4 227.2l9.1-5" fill="none" stroke-width="0.63"/>
<path d="M562.5 241.9l-.5-3.4 9.2-4.9 .4 3.3z" stroke="none"/><path d="M571.6 236.9l-.4-3.3M562 238.5l9.2-4.9" fill="none"/>
<path d="M555.4 227.2l.4 1.2 9.2-5-.5-1.2z" stroke="none"/><path d="M564.5 222.2l.5 1.2M555.4 227.2l9.1-5M555.8 228.4l9.2-5" fill="none" stroke-width="0.63"/>
<path d="M545.1 207l-.2 1.9 9.1-5 .2-1.9z" stroke="none"/><path d="M554.2 202l-.2 1.9M545.1 207l9.1-5M544.9 208.9l9.1-5" fill="none" stroke-width="0.63"/>
<path d="M555.8 228.4l1 .4 9.1-4.9-.9-.5z" stroke="none"/><path d="M565 223.4l.9 .5M555.8 228.4l9.2-5M556.8 228.8l9.1-4.9" fill="none" stroke-width="0.63"/>
<path d="M536.2 189.6l-1.3 .5 9.1-4.9 1.3-.5z" stroke="none"/><path d="M545.3 184.7l-1.3 .5M536.2 189.6l9.1-4.9M534.9 190.1l9.1-4.9" fill="none"/>
<path d="M544.3 205.9l.8 1.1 9.1-5-.8-1.1z" stroke="none"/><path d="M553.4 200.9l.8 1.1M544.3 205.9l9.1-5M545.1 207l9.1-5" fill="none" stroke-width="0.63"/>
<path d="M544.5 204.9l-.2 1 9.1-5 .3-.9z" stroke="none"/><path d="M553.7 200l-.3 .9M544.5 204.9l9.2-4.9M544.3 205.9l9.1-5" fill="none" stroke-width="0.63"/>
<path d="M562 238.5l.7-.3 9.1-5-.6 .4z" stroke="none"/><path d="M571.2 233.6l.6-.4M562 238.5l9.2-4.9M562.7 238.2l9.1-5" fill="none"/>
<path d="M538.2 191.3l-2-1.7 9.1-4.9 2 1.7z" stroke="none"/><path d="M547.3 186.4l-2-1.7M536.2 189.6l9.1-4.9" fill="none"/>
<path d="M557.1 227.9l1.6 .5 9.1-5-1.6-.4z" stroke="none"/><path d="M566.2 223l1.6 .4M557.1 227.9l9.1-4.9M558.7 228.4l9.1-5" fill="none" stroke-width="0.63"/>
<path d="M558.7 228.4l.7 1.1 9.1-5-.7-1.1z" stroke="none"/><path d="M567.8 223.4l.7 1.1M558.7 228.4l9.1-5M559.4 229.5l9.1-5" fill="none" stroke-width="0.63"/>
<path d="M546.1 203.8l-.6 1.5 9.1-5 .7-1.5z" stroke="none"/><path d="M555.3 198.8l-.7 1.5M546.1 203.8l9.2-5M545.5 205.3l9.1-5" fill="none" stroke-width="0.63"/>
<path d="M540.6 193.9l-2.4-2.6 9.1-4.9 2.5 2.6z" stroke="none"/><path d="M549.8 189l-2.5-2.6M540.6 193.9l9.2-4.9" fill="none"/>
<path d="M559.4 229.5l.8 .1 9.2-5-.9-.1z" stroke="none"/><path d="M568.5 224.5l.9 .1M559.4 229.5l9.1-5M560.2 229.6l9.2-5" fill="none" stroke-width="0.63"/>
<path d="M545.6 202.6l.5 1.2 9.2-5-.6-1.2z" stroke="none"/><path d="M554.7 197.6l.6 1.2M545.6 202.6l9.1-5M546.1 203.8l9.2-5" fill="none" stroke-width="0.63"/>
<path d="M541.3 193.8l-.7 .1 9.2-4.9 .7-.2z" stroke="none"/><path d="M550.5 188.8l-.7 .2M541.3 193.8l9.2-5M540.6 193.9l9.2-4.9" fill="none"/>
<path d="M546.1 201.9l-.5 .7 9.1-5 .5-.7z" stroke="none"/><path d="M555.2 196.9l-.5 .7M546.1 201.9l9.1-5M545.6 202.6l9.1-5" fill="none" stroke-width="0.63"/>
<path d="M568.3 245l.9-1.2 9.1-4.9-.9 1.1z" stroke="none"/><path d="M577.4 240l.9-1.1M568.3 245l9.1-5M569.2 243.8l9.1-4.9" fill="none"/>
<path d="M560.2 228.4l1.5-.2 9.1-5-1.4 .3z" stroke="none"/><path d="M569.4 223.5l1.4-.3M560.2 228.4l9.2-4.9M561.7 228.2l9.1-5" fill="none" stroke-width="0.63"/>
<path d="M569.2 243.8l-.7-2.7 9.2-4.9 .6 2.7z" stroke="none"/><path d="M578.3 238.9l-.6-2.7M569.2 243.8l9.1-4.9" fill="none"/>
<path d="M548.1 201.7l-1.1 .9 9.2-5 1-.9z" stroke="none"/><path d="M557.2 196.7l-1 .9M548.1 201.7l9.1-5M547 202.6l9.2-5" fill="none" stroke-width="0.63"/>
<path d="M568.5 241.1l-1.2-3.4 9.1-5 1.3 3.5z" stroke="none"/><path d="M577.7 236.2l-1.3-3.5M567.3 237.7l9.1-5" fill="none"/>
<path d="M561.7 228.2l.8 1 9.1-5-.8-1z" stroke="none"/><path d="M570.8 223.2l.8 1M561.7 228.2l9.1-5M562.5 229.2l9.1-5" fill="none" stroke-width="0.63"/>
<path d="M562.5 229.2l.7-.4 9.2-4.9-.8 .3z" stroke="none"/><path d="M571.6 224.2l.8-.3M562.5 229.2l9.1-5M563.2 228.8l9.2-4.9" fill="none" stroke-width="0.63"/>
<path d="M567.3 237.7l.4-.7 9.1-4.9-.4 .6z" stroke="none"/><path d="M576.4 232.7l.4-.6M567.3 237.7l9.1-5M567.7 237l9.1-4.9" fill="none"/>
<path d="M547.8 200.5l.3 1.2 9.1-5-.2-1.2z" stroke="none"/><path d="M557 195.5l.2 1.2M547.8 200.5l9.2-5M548.1 201.7l9.1-5" fill="none" stroke-width="0.63"/>
<path d="M541.3 185.7l-1.6-.2 9.1-5 1.6 .2z" stroke="none"/><path d="M550.4 180.7l-1.6-.2M541.3 185.7l9.1-5M539.7 185.5l9.1-5" fill="none"/>
<path d="M543 188l-1.7-2.3 9.1-5 1.7 2.3z" stroke="none"/><path d="M552.1 183l-1.7-2.3M541.3 185.7l9.1-5" fill="none"/>
<path d="M544.9 191.2l-1.9-3.2 9.1-5 2 3.2z" stroke="none"/><path d="M554.1 186.2l-2-3.2M544.9 191.2l9.2-5" fill="none"/>
<path d="M564 226.7l1 .7 9.1-5-.9-.7z" stroke="none"/><path d="M573.2 221.7l.9 .7M564 226.7l9.2-5M565 227.4l9.1-5" fill="none" stroke-width="0.63"/>
<path d="M545.8 191.4l-.9-.2 9.2-5 .8 .2z" stroke="none"/><path d="M554.9 186.4l-.8-.2M545.8 191.4l9.1-5M544.9 191.2l9.2-5" fill="none"/>
<path d="M550.8 199.7l0 1.1 9.2-4.9 0-1.1z" stroke="none"/><path d="M560 194.8l0 1.1M550.8 199.7l9.2-4.9M550.8 200.8l9.2-4.9" fill="none" stroke-width="0.63"/>
<path d="M574 241.9l.4-1.7 9.2-5-.4 1.7z" stroke="none"/><path d="M583.2 236.9l.4-1.7M574 241.9l9.2-5M574.4 240.2l9.2-5" fill="none"/>
<path d="M573.2 237.5l-1.9-3.1 9.1-5 1.9 3.2z" stroke="none"/><path d="M582.3 232.6l-1.9-3.2M571.3 234.4l9.1-5" fill="none"/>
<path d="M574.4 240.2l-1.2-2.7 9.1-4.9 1.3 2.6z" stroke="none"/><path d="M583.6 235.2l-1.3-2.6M574.4 240.2l9.2-5" fill="none"/>
<path d="M571.3 234.4l.1-1 9.1-4.9-.1 .9z" stroke="none"/><path d="M580.4 229.4l.1-.9M571.3 234.4l9.1-5M571.4 233.4l9.1-4.9" fill="none"/>
<path d="M565.6 224l.9 .4 9.2-5-1-.3z" stroke="none"/><path d="M574.7 219.1l1 .3M565.6 224l9.1-4.9M566.5 224.4l9.2-5" fill="none" stroke-width="0.63"/>
<path d="M554.3 200.5l-.3 .9 9.1-5 .3-.9z" stroke="none"/><path d="M563.4 195.5l-.3 .9M554.3 200.5l9.1-5M554 201.4l9.1-5" fill="none" stroke-width="0.63"/>
<path d="M566.2 220.4l.8 0 9.1-5-.8 .1z" stroke="none"/><path d="M575.3 215.5l.8-.1M566.2 220.4l9.1-4.9M567 220.4l9.1-5" fill="none" stroke-width="0.63"/>
<path d="M547.9 184.9l-1.7-.9 9.2-5 1.6 .9z" stroke="none"/><path d="M557 179.9l-1.6-.9M547.9 184.9l9.1-5M546.2 184l9.2-5" fill="none"/>
<path d="M551.2 191.5l-.8-.6 9.1-4.9 .9 .5z" stroke="none"/><path d="M560.4 186.5l-.9-.5M550.4 190.9l9.1-4.9" fill="none"/>
<path d="M550.4 190.9l-1.2-3.4 9.1-5 1.2 3.5z" stroke="none"/><path d="M559.5 186l-1.2-3.5M550.4 190.9l9.1-4.9" fill="none"/>
<path d="M549.2 187.5l-1.3-2.6 9.1-5 1.3 2.6z" stroke="none"/><path d="M558.3 182.5l-1.3-2.6M547.9 184.9l9.1-5" fill="none"/>
<path d="M557.9 202.6l-.6 .6 9.2-5 .5-.6z" stroke="none"/><path d="M567 197.6l-.5 .6M557.9 202.6l9.1-5M557.3 203.2l9.2-5" fill="none" stroke-width="0.63"/>
<path d="M551.9 191.3l-.7 .2 9.2-5 .7-.2z" stroke="none"/><path d="M561.1 186.3l-.7 .2M551.9 191.3l9.2-5" fill="none"/>
<path d="M576.7 236.6l1.1-.8 9.1-5-1.1 .8z" stroke="none"/><path d="M585.8 231.6l1.1-.8M576.7 236.6l9.1-5" fill="none"/>
<path d="M573.5 228.9l-.1-1.1 9.1-4.9 .2 1z" stroke="none"/><path d="M582.7 223.9l-.2-1M573.5 228.9l9.2-5" fill="none"/>
<path d="M575.9 231.4l-2.4-2.5 9.2-5 2.4 2.6z" stroke="none"/><path d="M585.1 226.5l-2.4-2.6M573.5 228.9l9.2-5" fill="none"/>
<path d="M573.4 227.8l.4-.6 9.1-5-.4 .7z" stroke="none"/><path d="M582.5 222.9l.4-.7M573.8 227.2l9.1-5" fill="none"/>
<path d="M577.8 235.8l-.1-2.1 9.1-4.9 .1 2z" stroke="none"/><path d="M586.9 230.8l-.1-2M577.7 233.7l9.1-4.9" fill="none"/>
<path d="M577.7 233.7l-1.8-2.3 9.2-4.9 1.7 2.3z" stroke="none"/><path d="M586.8 228.8l-1.7-2.3M577.7 233.7l9.1-4.9" fill="none"/>
<path d="M557.2 194.1l-.8-.8 9.2-5 .7 .9z" stroke="none"/><path d="M566.3 189.2l-.7-.9M556.4 193.3l9.2-5" fill="none"/>
<path d="M553.8 185.8l-1.5 .1 9.2-4.9 1.4-.2z" stroke="none"/><path d="M562.9 180.8l-1.4 .2M552.3 185.9l9.2-4.9" fill="none"/>
<path d="M558 194.3l-.8-.2 9.1-4.9 .8 .1z" stroke="none"/><path d="M567.1 189.3l-.8-.1M558 194.3l9.1-5" fill="none"/>
<path d="M556.4 193.3l-.4-3.3 9.1-5 .5 3.3z" stroke="none"/><path d="M565.6 188.3l-.5-3.3M556.4 193.3l9.2-5" fill="none"/>
<path d="M556 190l-.7-2.7 9.2-5 .6 2.7z" stroke="none"/><path d="M565.1 185l-.6-2.7M555.3 187.3l9.2-5" fill="none"/>
<path d="M555.3 187.3l-1.5-1.5 9.1-5 1.6 1.5z" stroke="none"/><path d="M564.5 182.3l-1.6-1.5M555.3 187.3l9.2-5" fill="none"/>
<path d="M573.8 221.9l-.4-1.1 9.1-5 .5 1.1z" stroke="none"/><path d="M583 216.9l-.5-1.1M573.8 221.9l9.2-5" fill="none"/>
<path d="M573.4 220.8l.2-.9 9.1-5-.2 .9z" stroke="none"/><path d="M582.5 215.8l.2-.9M573.6 219.9l9.1-5" fill="none"/>
<path d="M576.5 223.5l-2.7-1.6 9.2-5 2.6 1.7z" stroke="none"/><path d="M585.6 218.6l-2.6-1.7M573.8 221.9l9.2-5" fill="none"/>
<path d="M562.9 199l-.6-1 9.2-5 .6 1z" stroke="none"/><path d="M572.1 194l-.6-1M562.3 198l9.2-5" fill="none"/>
<path d="M578.4 228.8l.7-1.4 9.2-5-.7 1.5z" stroke="none"/><path d="M587.6 223.9l.7-1.5M578.4 228.8l9.2-4.9" fill="none"/>
<path d="M563.8 199.5l-.9-.5 9.2-5 .8 .5z" stroke="none"/><path d="M572.9 194.5l-.8-.5M563.8 199.5l9.1-5" fill="none"/>
<path d="M578.5 225.3l-2-1.8 9.1-4.9 2 1.7z" stroke="none"/><path d="M587.6 220.3l-2-1.7M578.5 225.3l9.1-5" fill="none"/>
<path d="M562.3 198l.5-2.9 9.1-4.9-.4 2.8z" stroke="none"/><path d="M571.5 193l.4-2.8M562.3 198l9.2-5" fill="none"/>
<path d="M572.2 214.1l-.7-1 9.2-5 .6 1z" stroke="none"/><path d="M581.3 209.1l-.6-1M572.2 214.1l9.1-5" fill="none"/>
<path d="M579.1 227.4l-.6-2.1 9.1-5 .7 2.1z" stroke="none"/><path d="M588.3 222.4l-.7-2.1M578.5 225.3l9.1-5" fill="none"/>
<path d="M571.5 213.1l-.1-1.1 9.2-4.9 .1 1z" stroke="none"/><path d="M580.7 208.1l-.1-1M571.4 212l9.2-4.9" fill="none"/>
<path d="M567.9 205.5l-.4-1.1 9.2-4.9 .3 1.1z" stroke="none"/><path d="M577 200.6l-.3-1.1M567.5 204.4l9.2-4.9" fill="none"/>
<path d="M568.7 206.3l-.8-.8 9.1-4.9 .8 .8z" stroke="none"/><path d="M577.8 201.4l-.8-.8M568.7 206.3l9.1-4.9" fill="none"/>
<path d="M574.7 214.7l-2.5-.6 9.1-5 2.6 .6z" stroke="none"/><path d="M583.9 209.7l-2.6-.6M572.2 214.1l9.1-5" fill="none"/>
<path d="M561.5 190.7l-1.6-.5 9.1-5 1.7 .6z" stroke="none"/><path d="M570.7 185.8l-1.7-.6M559.9 190.2l9.1-5" fill="none"/>
<path d="M562.8 195.1l0-2.4 9.2-5-.1 2.5z" stroke="none"/><path d="M571.9 190.2l.1-2.5M562.8 192.7l9.2-5" fill="none"/>
<path d="M567.5 204.4l1.3-2 9.1-5-1.2 2.1z" stroke="none"/><path d="M576.7 199.5l1.2-2.1M567.5 204.4l9.2-4.9" fill="none"/>
<path d="M570.9 205.8l-2.2 .5 9.1-4.9 2.2-.5z" stroke="none"/><path d="M580 200.9l-2.2 .5M568.7 206.3l9.1-4.9" fill="none"/>
<path d="M562.8 192.7l-1.3-2 9.2-4.9 1.3 1.9z" stroke="none"/><path d="M572 187.7l-1.3-1.9M562.8 192.7l9.2-5" fill="none"/>
<path d="M576.8 215.6l-2.1-.9 9.2-5 2 .9z" stroke="none"/><path d="M585.9 210.6l-2-.9M576.8 215.6l9.1-5" fill="none"/>
<path d="M567 197.1l-1.6 .8 9.2-5 1.5-.8z" stroke="none"/><path d="M576.1 192.1l-1.5 .8M567 197.1l9.1-5M565.4 197.9l9.2-5" fill="none"/>
<path d="M577.8 219.5l.1-1.8 9.2-5-.2 1.9z" stroke="none"/><path d="M586.9 214.6l.2-1.9M577.8 219.5l9.1-4.9" fill="none"/>
<path d="M577.9 217.7l-1.1-2.1 9.1-5 1.2 2.1z" stroke="none"/><path d="M587.1 212.7l-1.2-2.1M576.8 215.6l9.1-5" fill="none"/>
<path d="M568.8 202.4l.7-2 9.1-5-.7 2z" stroke="none"/><path d="M577.9 197.4l.7-2M569.5 200.4l9.1-5" fill="none"/>
<path d="M573.4 211l1.3-1.3 9.1-5-1.3 1.3z" stroke="none"/><path d="M582.5 206l1.3-1.3M573.4 211l9.1-5M574.7 209.7l9.1-5" fill="none"/>
<path d="M572.8 205.9l-1.9-.1 9.1-4.9 2 0z" stroke="none"/><path d="M582 200.9l-2 0M572.8 205.9l9.2-5" fill="none"/>
<path d="M568.6 198.3l-1.6-1.2 9.1-5 1.6 1.2z" stroke="none"/><path d="M577.7 193.3l-1.6-1.2M567 197.1l9.1-5" fill="none"/>
<path d="M569.5 200.4l-.9-2.1 9.1-5 .9 2.1z" stroke="none"/><path d="M578.6 195.4l-.9-2.1M569.5 200.4l9.1-5" fill="none"/>
<path d="M574.7 209.7l-.4-2.1 9.1-5 .4 2.1z" stroke="none"/><path d="M583.8 204.7l-.4-2.1M574.7 209.7l9.1-5" fill="none"/>
<path d="M574.3 207.6l-1.5-1.7 9.2-5 1.4 1.7z" stroke="none"/><path d="M583.4 202.6l-1.4-1.7M572.8 205.9l9.2-5" fill="none"/>
<path d="M567.3 237.7l.4-.7 .8 .1 2.2 2.9 1.9 2 1.4-.1 .4-1.7-1.2-2.7-1.9-3.1 .1-1 .6-.3 2.6 2.2 2.1 1.3 1.1-.8-.1-2.1-1.8-2.3-2.4-2.5-.1-1.1 .4-.6 2.6 1.2 2 .4 .7-1.4-.6-2.1-2-1.8-2.7-1.6-.4-1.1 .2-.9 2.4 0 1.8-.4 .1-1.8-1.1-2.1-2.1-.9-2.5-.6-.7-1-.1-1.1 2-1 1.3-1.3-.4-2.1-1.5-1.7-1.9-.1-2.2 .5-.8-.8-.4-1.1 1.3-2 .7-2-.9-2.1-1.6-1.2-1.6 .8-1.6 1.6-.9-.5-.6-1 .5-2.9 0-2.4-1.3-2-1.6-.5-1 1.6-.9 2.5-.8-.2-.8-.8-.4-3.3-.7-2.7-1.5-1.5-1.5 .1-.4 2.3 0 3.1-.7 .2-.8-.6-1.2-3.4-1.3-2.6-1.7-.9-1.1 .8 .3 2.6 .9 3.4-.5 .6-.9-.2-1.9-3.2-1.7-2.3-1.6-.2-.7 1.4 1 2.7 1.6 3.4-.3 .8-.7 .1-2.4-2.6-2-1.7-1.3 .5-.2 1.9 1.5 2.5 2.2 2.9 .1 1-.6 .5-2.6-1.7-2.1-.9-.9 1.2 .4 2.1 1.9 2 2.5 2.2 .3 1.1-.3 .7-2.5-.6-2 0-.4 1.6 .9 2.2 2.1 1.3 2.6 1.2 .6 1-.1 1-2.2 .5-1.5 .9 .1 2 1.3 1.9 2 .5 2.4 0 .7 1 .3 1-1.7 1.6-1 1.7 .7 2.1 1.6 1.5 1.7-.4 2-1.1 .8 .7 .5 1.1-.9 2.5-.3 2.2 1.1 2.1 1.6 .9 1.3-1.3 1.3-2.1 .8 .4 .7 .9 0 3.1 .3 2.7 1.5 1.7 1.6 .2 .7-2 .4-2.8 .8 0 .8 .7 .8 3.4 1 2.7 1.6 1.2 1.3-.5 .1-2.4-.5-3.4 .7-.3 .8 .4 1.6 3.3 1.5 2.5 1.7 .6 .9-1.2-.7-2.7zM563.2 228.8l-.3-1.2 1.1-.9 1 .7 .5-.7-.6-1.2 .7-1.5 .9 .4 .3-1-.8-1.1 .2-1.9 .8 0-.1-1.2-.9-.8-.3-2.1 .6-.4-.3-1.3-.9-.5-.9-2.1 .4-.8-.6-1.2-.9-.1-1.2-2 .1-1-.8-1-.7 .2-1.6-1.6-.1-1.2-.9-.7-.6 .6-1.6-1.1-.5-1.2-.9-.4-.3 .9-1.6-.5-.7-1.1-.9-.1 0 1.1-1.4 .3-.8-1-.8 .4 .3 1.2-1.1 .9-.9-.7-.5 .7 .5 1.2-.6 1.5-1-.4-.2 1 .8 1.1-.2 1.9-.8 0 0 1.1 .9 .9 .4 2.1-.7 .4 .4 1.3 .9 .5 .9 2.1-.5 .8 .6 1.2 .9 .1 1.3 2-.2 1 .8 1 .8-.2 1.5 1.6 .2 1.2 .9 .7 .5-.6 1.7 1.1 .4 1.2 1 .4 .3-.9 1.6 .5 .7 1.1 .8 .1 0-1.2 1.5-.2 .8 1z" fill-rule="evenodd"/>
<path d="M564.6 241.4l1.8-1.2 1.6-1.7 1.2-2 1-2.3 .6-2.7 .3-2.9 0-3.1-.4-3.2-.7-3.4-1-3.3-1.4-3.4-1.6-3.2-1.8-3.2-2.1-2.9-2.3-2.7-2.4-2.4-2.5-2.1-2.6-1.7-2.6-1.4-2.6-.9-2.5-.5-2.3 0-2.3 .4-2 .8 4.2-2.3 2.1-.8 2.2-.4 2.4 0 2.5 .5 2.5 .9 2.6 1.4 2.6 1.7 2.5 2.1 2.4 2.4 2.3 2.7 2.1 2.9 1.8 3.2 1.6 3.2 1.4 3.4 1 3.3 .7 3.4 .4 3.2 0 3.1-.3 2.9-.6 2.7-1 2.3-1.2 2-1.6 1.7-1.8 1.3z" stroke="none"/>
<path d="M564.6 241.4l0 0 1.8-1.2 1.6-1.7 1.2-2 1-2.3 .6-2.7 .3-2.9 0-3.1-.4-3.2-.7-3.4-1-3.3-1.4-3.4-1.6-3.2-1.8-3.2-2.1-2.9-2.3-2.7-2.4-2.4-2.5-2.1-2.6-1.7-2.6-1.4-2.6-.9-2.5-.5-2.3 0-2.3 .4-2 .8 0 0" fill="none"/>
<path d="M564.6 241.4l2.2-1.5 1.7-2.1 1.3-2.7 .9-3 .4-3.5-.1-3.7-.5-4-1.1-4-1.5-4-1.9-3.9-2.2-3.8-2.6-3.4-2.8-3.1-3-2.6-3.1-2.1-3.1-1.6-3.1-.9-2.9-.3-2.7 .3-2.5 .9-2.1 1.6-1.8 2.1-1.3 2.6-.9 3.1-.4 3.5 .1 3.7 .6 3.9 1 4.1 1.5 4 1.9 3.9 2.3 3.8 2.5 3.4 2.9 3.1 2.9 2.6 3.1 2.1 3.1 1.6 3.1 .9 2.9 .3 2.8-.3zM558.4 230.1l1.2-.9 .9-1.1 .7-1.4 .5-1.7 .2-1.8 0-2-.3-2.1-.6-2.2-.8-2.1-1-2.1-1.2-2-1.4-1.9-1.5-1.6-1.6-1.4-1.7-1.2-1.6-.8-1.7-.5-1.5-.2-1.5 .2-1.3 .5-1.2 .8-.9 1.2-.7 1.4-.5 1.6-.2 1.9 0 2 .4 2.1 .5 2.1 .8 2.2 1 2.1 1.2 2 1.4 1.9 1.5 1.6 1.6 1.4 1.7 1.1 1.6 .9 1.7 .5 1.6 .1 1.4-.1z" fill-rule="evenodd"/>
<path d="M535.4 225.2l.3-.2 .3-.4 .3-.5 .1-.5 .1-.7 0-.6-.1-.7-.2-.7-.3-.8-.3-.7-.4-.6-.5-.6-.5-.6-.5-.5-.5-.3-.6-.3-.5-.2-.6 0-.5 0-.4 .2 3.5-1.9 .5-.2 .4-.1 .6 .1 .5 .2 .6 .2 .5 .4 .6 .5 .5 .5 .4 .7 .4 .6 .4 .7 .2 .7 .2 .8 .1 .7 0 .6 0 .7-.2 .5-.2 .5-.4 .3-.3 .3z" stroke="none"/><path d="M535.4 225.2l3.5-1.9 .3-.3 .4-.3 .2-.5 .2-.5 0-.7 0-.6-.1-.7-.2-.8-.2-.7-.4-.7-.4-.6-.4-.7-.5-.5-.6-.5-.5-.4-.6-.2-.5-.2-.6-.1-.4 .1-.5 .2-3.5 1.9" fill="none"/><path d="M535.4 225.2l.3-.2 .3-.4 .3-.5 .1-.5 .1-.7 0-.6-.1-.7-.2-.7-.3-.8-.3-.7-.4-.6-.5-.6-.5-.6-.5-.5-.5-.3-.6-.3-.5-.2-.6 0-.5 0-.4 .2-.4 .3-.3 .3-.2 .5-.2 .6-.1 .6 .1 .6 .1 .7 .1 .8 .3 .7 .4 .7 .4 .7 .4 .6 .5 .5 .5 .5 .6 .4 .6 .2 .5 .2 .5 .1 .5-.1z"/>
<path d="M550 243.3l.4-.3 .3-.4 .2-.4 .2-.6 0-.6 0-.7-.1-.7-.2-.7-.2-.7-.4-.7-.4-.7-.4-.6-.5-.6-.6-.4-.5-.4-.6-.3-.5-.1-.6-.1-.4 .1-.5 .1 3.5-1.9 .5-.2 .5 0 .5 0 .5 .2 .6 .3 .5 .4 .6 .4 .5 .6 .4 .6 .4 .7 .4 .7 .2 .7 .2 .7 .1 .7 0 .7 0 .6-.2 .5-.2 .5-.3 .4-.4 .3z" stroke="none"/><path d="M550 243.3l3.5-1.9 .4-.3 .3-.4 .2-.5 .2-.5 0-.6 0-.7-.1-.7-.2-.7-.2-.7-.4-.7-.4-.7-.4-.6-.5-.6-.6-.4-.5-.4-.6-.3-.5-.2-.5 0-.5 0-.5 .2-3.5 1.9" fill="none"/><path d="M550 243.3l.4-.3 .3-.4 .2-.4 .2-.6 0-.6 0-.7-.1-.7-.2-.7-.2-.7-.4-.7-.4-.7-.4-.6-.5-.6-.6-.4-.5-.4-.6-.3-.5-.1-.6-.1-.4 .1-.5 .1-.4 .3-.3 .4-.2 .5-.2 .5 0 .6 0 .7 .1 .7 .2 .7 .2 .7 .4 .7 .4 .7 .4 .6 .5 .6 .6 .4 .5 .4 .6 .3 .5 .2 .5 0 .5-.1z"/>
<path d="M535.6 205.2l.3-.3 .3-.4 .3-.4 .1-.6 .1-.6 0-.7-.1-.7-.2-.7-.3-.7-.3-.7-.4-.7-.5-.6-.5-.6-.5-.4-.5-.4-.6-.3-.5-.1-.6-.1-.5 .1-.4 .1 3.5-1.9 .5-.2 .4 0 .6 0 .5 .2 .6 .3 .5 .4 .6 .4 .5 .6 .4 .6 .4 .7 .4 .7 .2 .7 .2 .7 .1 .7 0 .7 0 .6-.2 .5-.2 .5-.4 .4-.3 .3z" stroke="none"/><path d="M535.6 205.2l3.5-1.9 .3-.3 .4-.4 .2-.5 .2-.5 0-.6 0-.7-.1-.7-.2-.7-.2-.7-.4-.7-.4-.7-.4-.6-.5-.6-.6-.4-.5-.4-.6-.3-.5-.2-.6 0-.4 0-.5 .2-3.5 1.9" fill="none"/><path d="M535.6 205.2l.3-.3 .3-.4 .3-.4 .1-.6 .1-.6 0-.7-.1-.7-.2-.7-.3-.7-.3-.7-.4-.7-.5-.6-.5-.6-.5-.4-.5-.4-.6-.3-.5-.1-.6-.1-.5 .1-.4 .1-.4 .3-.3 .4-.2 .4-.2 .6-.1 .6 .1 .7 .1 .7 .1 .7 .3 .7 .3 .7 .5 .7 .4 .6 .5 .6 .5 .4 .6 .4 .6 .3 .5 .1 .5 .1 .5-.1z"/>
<path d="M564.8 241.3l.4-.3 .3-.4 .2-.5 .2-.5 .1-.6-.1-.7-.1-.7-.2-.7-.2-.7-.4-.7-.4-.7-.4-.6-.5-.6-.6-.4-.5-.4-.6-.3-.5-.2-.5 0-.5 0-.5 .2 3.6-1.9 .4-.2 .5 0 .5 0 .6 .2 .5 .3 .6 .4 .5 .4 .5 .6 .5 .6 .4 .7 .3 .7 .3 .7 .1 .7 .2 .7 0 .7-.1 .6-.2 .5-.2 .5-.3 .4-.4 .3z" stroke="none"/><path d="M564.8 241.3l3.5-1.9 .4-.3 .3-.4 .2-.5 .2-.5 .1-.6 0-.7-.2-.7-.1-.7-.3-.7-.3-.7-.4-.7-.5-.6-.5-.6-.5-.4-.6-.4-.5-.3-.6-.2-.5 0-.5 0-.4 .2-3.6 1.9" fill="none"/><path d="M564.8 241.3l.4-.3 .3-.4 .2-.5 .2-.5 .1-.6-.1-.7-.1-.7-.2-.7-.2-.7-.4-.7-.4-.7-.4-.6-.5-.6-.6-.4-.5-.4-.6-.3-.5-.2-.5 0-.5 0-.5 .2-.3 .3-.4 .4-.2 .4-.2 .6 0 .6 0 .7 .1 .7 .2 .7 .2 .7 .4 .7 .4 .7 .5 .6 .5 .5 .5 .5 .5 .4 .6 .3 .5 .1 .6 .1 .5-.1z"/>
<path d="M550.4 203.2l.4-.3 .3-.4 .2-.5 .2-.5 0-.6 0-.7-.1-.7-.2-.7-.2-.7-.4-.7-.4-.7-.4-.6-.5-.6-.6-.4-.5-.4-.6-.3-.5-.2-.6 0-.4 0-.5 .2 3.5-1.9 .5-.2 .5 0 .5 0 .5 .2 .6 .3 .5 .4 .6 .4 .5 .6 .4 .6 .4 .7 .4 .7 .2 .7 .2 .7 .1 .7 0 .7 0 .6-.2 .5-.2 .5-.3 .4-.4 .3z" stroke="none"/><path d="M550.4 203.2l3.5-1.9 .4-.3 .3-.4 .2-.5 .2-.5 0-.6 0-.7-.1-.7-.2-.7-.2-.7-.4-.7-.4-.7-.4-.6-.5-.6-.6-.4-.5-.4-.6-.3-.5-.2-.5 0-.5 0-.5 .2-3.5 1.9" fill="none"/><path d="M550.4 203.2l.4-.3 .3-.4 .2-.5 .2-.5 0-.6 0-.7-.1-.7-.2-.7-.2-.7-.4-.7-.4-.7-.4-.6-.5-.6-.6-.4-.5-.4-.6-.3-.5-.2-.6 0-.4 0-.5 .2-.4 .3-.3 .4-.2 .4-.2 .6 0 .6 0 .7 .1 .7 .2 .7 .2 .7 .4 .7 .4 .7 .4 .6 .5 .5 .6 .5 .5 .4 .6 .3 .5 .1 .5 .1 .5-.1z"/>
<path d="M565 221.2l.4-.3 .3-.3 .2-.5 .2-.6 0-.6 0-.7-.1-.7-.2-.7-.2-.7-.4-.7-.4-.7-.4-.6-.5-.5-.6-.5-.5-.4-.6-.2-.5-.2-.5-.1-.5 .1-.5 .2 3.6-2 .4-.1 .5-.1 .5 .1 .5 .1 .6 .3 .6 .4 .5 .5 .5 .5 .5 .6 .4 .7 .3 .7 .3 .7 .1 .7 .1 .7 .1 .7-.1 .6-.2 .6-.2 .4-.3 .4-.4 .3z" stroke="none"/><path d="M565 221.2l3.5-1.9 .4-.3 .3-.4 .2-.4 .2-.6 .1-.6-.1-.7-.1-.7-.1-.7-.3-.7-.3-.7-.4-.7-.5-.6-.5-.5-.5-.5-.6-.4-.6-.3-.5-.1-.5-.1-.5 .1-.4 .1-3.6 2" fill="none"/><path d="M565 221.2l.4-.3 .3-.3 .2-.5 .2-.6 0-.6 0-.7-.1-.7-.2-.7-.2-.7-.4-.7-.4-.7-.4-.6-.5-.5-.6-.5-.5-.4-.6-.2-.5-.2-.5-.1-.5 .1-.5 .2-.3 .2-.4 .4-.2 .5-.2 .5 0 .6 0 .7 .1 .7 .2 .7 .2 .8 .4 .7 .4 .6 .5 .6 .5 .6 .5 .5 .5 .3 .6 .3 .5 .2 .6 0 .4 0z"/>
<path d="M602.2 191.8l-.6-1.4-.8-1.3-.8-1.4-.9-1.2-.9-1.2-1-1.1-1-1-1.1-.9-1.1-.8-1.1-.6-1.1-.6-1.1-.3-1.1-.3-1-.1-1 0-.9 .2-.9 .3-.8 .5-.8 .6-.6 .7-.6 .8-.4 1-.4 1.1-.2 1.1-.2 1.2 0 1.3 .1 1.4 .2 1.4 .3 1.4 .4 1.4 .5 1.4 .6 1.5 .7 1.4 .7 1.3 .9 1.3 .9 1.2 .9 1.2 1.1 1 1 1 1.1 .8 1.1 .7 1.1 .6 1.1 .5 1.1 .3 1 .2 1.1 0 .9-.1 .9-.3 .9-.4 .8-.5 .7-.6 .6-.8 .5-.9 .4-1 .3-1.1 .2-1.2 .1-1.3-.1-1.3-.1-1.4-.2-1.4-2.2-.4 .2 1.1 .1 1.1 0 1.1 0 1-.2 1-.2 .8-.4 .8-.4 .8-.4 .6-.6 .5-.6 .4-.7 .3-.7 .2-.8 .1-.8 0-.9-.2-.8-.2-.9-.4-.9-.4-.9-.6-.8-.7-.9-.7-.8-.9-.8-.9-.7-1-.7-1-.6-1.1-.5-1.1-.5-1.1-.4-1.2-.3-1.1-.3-1.2-.1-1.1-.1-1.1 0-1 .2-1 .2-.9 .2-.8 .4-.8 .4-.7 .6-.5 .5-.5 .7-.4 .7-.2 .8-.2 .8 0 .8 .1 .8 .2 .9 .3 .9 .4 .9 .5 .9 .6 .8 .8 .8 .8 .8 .8 .8 1 .7 1 .6 1 .6 1.1 .5 1.2z" fill-rule="evenodd" stroke-width="0.95"/>
<path d="M631.5 201.7l1.3-.9 1.2-1.3 1-1.5 .7-1.8 .5-2 .2-2.2 0-2.3-.3-2.5-.6-2.5-.7-2.5-1.1-2.6-1.2-2.4-1.4-2.4-1.6-2.2-1.7-2.1-1.8-1.8-1.9-1.6-1.9-1.3-2-1-2-.7-1.8-.3-1.8-.1-1.7 .3-1.6 .7-1.3 .9-1.2 1.3-1 1.5-.7 1.8-.5 2-.2 2.2 0 2.3 .3 2.5 .6 2.5 .8 2.5 1 2.6 1.2 2.4 1.4 2.4 1.6 2.2 1.7 2.1 1.8 1.8 1.9 1.6 2 1.3 1.9 1 2 .7 1.8 .3 1.8 .1 1.7-.3zM629.5 198l.5-.3 .5-.4 .5-.5 .5-.5-.3-1.4 .4-.6 .3-.6 .9-.1 .2-.8 .2-.8 .1-.8 .1-.9 0-1 0-.9-.1-1-.2-1-.2-1-.2-1-.3-1-.3-1-.4-1-.4-1.1-.5-1-.5-.9-.5-1-.6-.9-.6-.9-.7-.9-.7-.8-.7-.8-.7-.8-.7-.7-.8-.7-.7-.6-.8-.5-.8-.5-.8 .5-.7-.4-.7-.3-.9-1.2-.8-.1-.7-.2-.8 0-.7 0-.7 .1-.6 .2-.7 .2-.6 .3-.5 .3-.5 .4-.5 .5-.5 .5-.4 .6-.3 .6-.4 .7-.2 .8-.2 .8-.2 .8-.1 .8-.1 .9 0 1 0 .9 .1 1 .2 1 .2 1 .2 1 .3 1 .3 1 1 .9 .4 1 .5 .9-.1 1.2 .5 1 .6 .9 .6 .9 .7 .9 .7 .8 .7 .8 .7 .8 .7 .7 .8 .7 .7 .6 .8 .5 .8 .5 .8 .4 .8 .4 .8 .3 .7 .3 .8 .1 .7 .2 .8 0 .7 0 .7-.1 .6-.2 .7-.2z" fill-rule="evenodd" stroke-width="0.95"/>
<path d="M645.3 189.3l1.2-1.4 9.2-4.9-1.2 1.3z" stroke="none"/><path d="M654.5 184.3l1.2-1.3M645.3 189.3l9.2-5" fill="none"/>
<path d="M630.1 157.6l-1.8 .3 9.1-5 1.8-.3z" stroke="none"/><path d="M639.2 152.6l-1.8 .3M628.3 157.9l9.1-5" fill="none"/>
<path d="M641.6 182.4l1.7-1.5 9.1-5-1.7 1.5z" stroke="none"/><path d="M650.7 177.4l1.7-1.5M641.6 182.4l9.1-5M643.3 180.9l9.1-5" fill="none"/>
<path d="M634.2 164.2l-2.2 .6 9.2-5 2.2-.6z" stroke="none"/><path d="M643.4 159.2l-2.2 .6M634.2 164.2l9.2-5M632 164.8l9.2-5" fill="none"/>
<path d="M646.5 187.9l1.3-2.1 9.2-4.9-1.3 2.1z" stroke="none"/><path d="M655.7 183l1.3-2.1M647.8 185.8l9.2-4.9" fill="none"/>
<path d="M632.5 157.7l-2.4-.1 9.1-5 2.5 .1z" stroke="none"/><path d="M641.7 152.7l-2.5-.1M632.5 157.7l9.2-5" fill="none"/>
<path d="M651.1 194.2l.8-1.8 9.2-5-.9 1.8z" stroke="none"/><path d="M660.2 189.2l.9-1.8M651.1 194.2l9.1-5" fill="none"/>
<path d="M629.3 150.6l-2-.2 9.1-5 2 .3z" stroke="none"/><path d="M638.4 145.7l-2-.3M627.3 150.4l9.1-5" fill="none"/>
<path d="M651.9 192.4l.8-2.6 9.1-5-.7 2.6z" stroke="none"/><path d="M661.1 187.4l.7-2.6M652.7 189.8l9.1-5" fill="none"/>
<path d="M631.9 151.4l-2.6-.8 9.1-4.9 2.6 .8z" stroke="none"/><path d="M641 146.5l-2.6-.8M631.9 151.4l9.1-4.9" fill="none"/>
<path d="M657 197.8l.5-2.2 9.1-4.9-.4 2.1z" stroke="none"/><path d="M666.2 192.8l.4-2.1M657 197.8l9.2-5" fill="none"/>
<path d="M629.6 144.2l-2.1-.8 9.2-4.9 2 .8z" stroke="none"/><path d="M638.7 139.3l-2-.8M627.5 143.4l9.2-4.9" fill="none"/>
<path d="M657.5 195.6l.2-3 9.1-5-.2 3.1z" stroke="none"/><path d="M666.6 190.7l.2-3.1M657.7 192.6l9.1-5" fill="none"/>
<path d="M632.2 145.7l-2.6-1.5 9.1-4.9 2.7 1.5z" stroke="none"/><path d="M641.4 140.8l-2.7-1.5M632.2 145.7l9.2-4.9" fill="none"/>
<path d="M662.9 199.9l0-2.5 9.2-4.9 0 2.4z" stroke="none"/><path d="M672.1 194.9l0-2.4M662.9 199.9l9.2-5" fill="none"/>
<path d="M631.1 138.7l-2.1-1.4 9.1-4.9 2.1 1.3z" stroke="none"/><path d="M640.2 133.7l-2.1-1.3M629 137.3l9.1-4.9" fill="none"/>
<path d="M662.9 197.4l-.3-3.3 9.1-5 .4 3.4z" stroke="none"/><path d="M672.1 192.5l-.4-3.4M662.6 194.1l9.1-5" fill="none"/>
<path d="M633.6 140.8l-2.5-2.1 9.1-5 2.6 2.1z" stroke="none"/><path d="M642.8 135.8l-2.6-2.1M633.6 140.8l9.2-5" fill="none"/>
<path d="M662.6 194.1l.5-.3 9.2-5-.6 .3z" stroke="none"/><path d="M671.7 189.1l.6-.3M662.6 194.1l9.1-5M663.1 193.8l9.2-5" fill="none"/>
<path d="M634.2 140.5l-.6 .3 9.2-5 .5-.3z" stroke="none"/><path d="M643.3 135.5l-.5 .3M634.2 140.5l9.1-5M633.6 140.8l9.2-5" fill="none"/>
<path d="M667.7 201.2l.8-.9 9.2-4.9-.9 .8z" stroke="none"/><path d="M676.8 196.2l.9-.8M667.7 201.2l9.1-5" fill="none"/>
<path d="M631.6 132.4l-1.1 .2 9.1-4.9 1.2-.3z" stroke="none"/><path d="M640.8 127.4l-1.2 .3M630.5 132.6l9.1-4.9" fill="none"/>
<path d="M668.5 200.3l-.4-2.6 9.1-4.9 .5 2.6z" stroke="none"/><path d="M677.7 195.4l-.5-2.6" fill="none"/>
<path d="M633.6 134.2l-2-1.8 9.2-5 1.9 1.8z" stroke="none"/><path d="M642.7 129.2l-1.9-1.8" fill="none"/>
<path d="M668.1 197.7l-.9-3.4 9.2-5 .8 3.5z" stroke="none"/><path d="M677.2 192.8l-.8-3.5M667.2 194.3l9.2-5" fill="none"/>
<path d="M636 136.8l-2.4-2.6 9.1-5 2.5 2.6z" stroke="none"/><path d="M645.2 131.8l-2.5-2.6M636 136.8l9.2-5" fill="none"/>
<path d="M649.1 151l-.9 .6-.8 .9-.6 1-.5 1.2-.3 1.3-.1 1.4 0 1.6 .2 1.6 .3 1.7 .5 1.7 .7 1.6 .8 1.7 1 1.5 1 1.5 1.1 1.4 1.2 1.2 1.3 1 1.3 .9 1.3 .6 1.3 .5 1.2 .2 1.2 .1 1.1-.2 1-.5 9.2-4.9-1 .4-1.2 .2-1.2 0-1.2-.3-1.3-.4-1.3-.7-1.3-.9-1.2-1-1.2-1.2-1.2-1.4-1-1.4-.9-1.6-.8-1.6-.7-1.7-.5-1.7-.4-1.7-.2-1.6 0-1.5 .2-1.5 .3-1.3 .5-1.2 .6-1 .8-.8 .9-.6z" stroke="none"/>
<path d="M667.2 194.3l.4-.5 9.2-5-.4 .5z" stroke="none"/><path d="M676.4 189.3l.4-.5M667.2 194.3l9.2-5M667.6 193.8l9.2-5" fill="none"/>
<path d="M636.6 136.7l-.6 .1 9.2-5 .6 0z" stroke="none"/><path d="M645.8 131.8l-.6 0M636.6 136.7l9.2-4.9M636 136.8l9.2-5" fill="none"/>
<path d="M649.1 151l9.2-4.9-.9 .6-.8 .8-.6 1-.5 1.2-.3 1.3-.2 1.5 0 1.5 .2 1.6 .4 1.7 .5 1.7 .7 1.7 .8 1.6 .9 1.6 1 1.4 1.2 1.4 1.2 1.2 1.2 1 1.3 .9 1.3 .7 1.3 .4 1.2 .3 1.2 0 1.2-.2 1-.4-9.2 4.9" fill="none" stroke-width="0.72"/>
<path d="M673 200.4l.6-1.2 9.1-5-.6 1.2z" stroke="none"/><path d="M682.1 195.4l.6-1.2M673 200.4l9.1-5" fill="none"/>
<path d="M635.3 128.8l-1.3-.1 9.2-5 1.3 .1z" stroke="none"/><path d="M644.5 123.8l-1.3-.1M634 128.7l9.2-5" fill="none"/>
<path d="M673.6 199.2l-.9-2.7 9.2-4.9 .8 2.6z" stroke="none"/><path d="M682.7 194.2l-.8-2.6" fill="none"/>
<path d="M637.1 131l-1.8-2.2 9.2-5 1.8 2.2z" stroke="none"/><path d="M646.3 126l-1.8-2.2" fill="none"/>
<path d="M672.7 196.5l-1.4-3.4 9.2-5 1.4 3.5z" stroke="none"/><path d="M681.9 191.6l-1.4-3.5M671.3 193.1l9.2-5" fill="none"/>
<path d="M639.2 134l-2.1-3 9.2-5 2.1 3z" stroke="none"/><path d="M648.4 129l-2.1-3M639.2 134l9.2-5" fill="none"/>
<path d="M671.3 193.1l.3-.6 9.2-5-.3 .6z" stroke="none"/><path d="M680.5 188.1l.3-.6M671.3 193.1l9.2-5M671.6 192.5l9.2-5" fill="none"/>
<path d="M639.9 134.1l-.7-.1 9.2-5 .7 .1z" stroke="none"/><path d="M649.1 129.1l-.7-.1M639.9 134.1l9.2-5M639.2 134l9.2-5" fill="none"/>
<path d="M677.5 197.9l.3-1.4 9.2-5-.4 1.4z" stroke="none"/><path d="M686.6 192.9l.4-1.4M677.5 197.9l9.1-5" fill="none"/>
<path d="M639.9 126.7l-1.3-.5 9.1-5 1.4 .5z" stroke="none"/><path d="M649.1 121.7l-1.4-.5M638.6 126.2l9.1-5" fill="none"/>
<path d="M677.8 196.5l-1.2-2.6 9.1-5 1.3 2.6z" stroke="none"/><path d="M687 191.5l-1.3-2.6" fill="none"/>
<path d="M641.5 129.2l-1.6-2.5 9.2-5 1.5 2.5z" stroke="none"/><path d="M650.6 124.2l-1.5-2.5" fill="none"/>
<path d="M676.6 193.9l-1.8-3.3 9.1-5 1.8 3.3z" stroke="none"/><path d="M685.7 188.9l-1.8-3.3M674.8 190.6l9.1-5" fill="none"/>
<path d="M643.2 132.5l-1.7-3.3 9.1-5 1.7 3.3z" stroke="none"/><path d="M652.3 127.5l-1.7-3.3M643.2 132.5l9.1-5" fill="none"/>
<path d="M674.8 190.6l.1-.8 9.1-4.9-.1 .7z" stroke="none"/><path d="M683.9 185.6l.1-.7M674.8 190.6l9.1-5M674.9 189.8l9.1-4.9" fill="none"/>
<path d="M643.9 132.8l-.7-.3 9.1-5 .8 .3z" stroke="none"/><path d="M653.1 127.8l-.8-.3M643.9 132.8l9.2-5M643.2 132.5l9.1-5" fill="none"/>
<path d="M677.4 186.9l0-.8 9.1-5 0 .9z" stroke="none"/><path d="M686.5 182l0-.9M677.4 186.9l9.1-4.9M677.4 186.1l9.1-5" fill="none"/>
<path d="M648.4 132.8l-.7-.5 9.1-5 .8 .5z" stroke="none"/><path d="M657.6 127.8l-.8-.5M648.4 132.8l9.2-5M647.7 132.3l9.1-5" fill="none"/>
<path d="M679.6 189.9l-2.2-3 9.1-4.9 2.2 2.9z" stroke="none"/><path d="M688.7 184.9l-2.2-2.9M677.4 186.9l9.1-4.9" fill="none"/>
<path d="M647.7 132.3l-1.3-3.5 9.2-4.9 1.2 3.4z" stroke="none"/><path d="M656.8 127.3l-1.2-3.4M647.7 132.3l9.1-5" fill="none"/>
<path d="M681.1 193.9l0-1.6 9.1-4.9 0 1.6z" stroke="none"/><path d="M690.2 189l0-1.6M681.1 193.9l9.1-4.9" fill="none"/>
<path d="M645.2 126.2l-1.4-.8 9.2-5 1.3 .9z" stroke="none"/><path d="M654.3 121.3l-1.3-.9M643.8 125.4l9.2-5" fill="none"/>
<path d="M681.1 192.3l-1.5-2.4 9.1-5 1.5 2.5z" stroke="none"/><path d="M690.2 187.4l-1.5-2.5" fill="none"/>
<path d="M646.4 128.8l-1.2-2.6 9.1-4.9 1.3 2.6z" stroke="none"/><path d="M655.6 123.9l-1.3-2.6" fill="none"/>
<path d="M679 182.2l-.1-.9 9.1-5 .2 1z" stroke="none"/><path d="M688.2 177.3l-.2-1M679 182.2l9.2-4.9M678.9 181.3l9.1-5" fill="none"/>
<path d="M653.2 134.1l-.6-.6 9.1-5 .7 .6z" stroke="none"/><path d="M662.4 129.1l-.7-.6M653.2 134.1l9.2-5M652.6 133.5l9.1-5" fill="none"/>
<path d="M682.6 189.2l.9-.6 9.2-4.9-1 .6z" stroke="none"/><path d="M691.7 184.3l1-.6M682.6 189.2l9.1-4.9M683.5 188.6l9.2-4.9" fill="none"/>
<path d="M649.6 126.2l-1 .5 9.1-5 1.1-.5z" stroke="none"/><path d="M658.8 121.2l-1.1 .5M649.6 126.2l9.2-5M648.6 126.7l9.1-5" fill="none"/>
<path d="M681.5 184.7l-2.5-2.5 9.2-4.9 2.4 2.5z" stroke="none"/><path d="M690.6 179.8l-2.4-2.5M679 182.2l9.2-4.9" fill="none"/>
<path d="M652.6 133.5l-.8-3.5 9.1-4.9 .8 3.4z" stroke="none"/><path d="M661.7 128.5l-.8-3.4M652.6 133.5l9.1-5" fill="none"/>
<path d="M678.9 181.3l.4-.5 9.2-4.9-.5 .4z" stroke="none"/><path d="M688 176.3l.5-.4M678.9 181.3l9.1-5M679.3 180.8l9.2-4.9" fill="none"/>
<path d="M653.9 134l-.7 .1 9.2-5 .6-.1z" stroke="none"/><path d="M663 129l-.6 .1M653.9 134l9.1-5M653.2 134.1l9.2-5" fill="none"/>
<path d="M683.5 188.6l-.2-1.7 9.1-5 .3 1.8z" stroke="none"/><path d="M692.7 183.7l-.3-1.8M683.5 188.6l9.2-4.9" fill="none"/>
<path d="M650.9 127.3l-1.3-1.1 9.2-5 1.3 1.2z" stroke="none"/><path d="M660.1 122.4l-1.3-1.2M649.6 126.2l9.2-5" fill="none"/>
<path d="M683.3 186.9l-1.8-2.2 9.1-4.9 1.8 2.1z" stroke="none"/><path d="M692.4 181.9l-1.8-2.1" fill="none"/>
<path d="M651.8 130l-.9-2.7 9.2-4.9 .8 2.7z" stroke="none"/><path d="M660.9 125.1l-.8-2.7" fill="none"/>
<path d="M679.7 176.7l-.3-1 9.1-4.9 .3 .9z" stroke="none"/><path d="M688.8 171.7l-.3-.9M679.7 176.7l9.1-5M679.4 175.7l9.1-4.9" fill="none"/>
<path d="M658.2 136.7l-.6-.8 9.1-4.9 .6 .7z" stroke="none"/><path d="M667.3 131.7l-.6-.7M658.2 136.7l9.1-5M657.6 135.9l9.1-4.9" fill="none"/>
<path d="M679.4 175.7l.3-.6 9.1-4.9-.3 .6z" stroke="none"/><path d="M688.5 170.8l.3-.6M679.4 175.7l9.1-4.9M679.7 175.1l9.1-4.9" fill="none"/>
<path d="M658.9 136.8l-.7-.1 9.1-5 .7 .1z" stroke="none"/><path d="M668 131.8l-.7-.1M658.9 136.8l9.1-5M658.2 136.7l9.1-5" fill="none"/>
<path d="M682.3 178.6l-2.6-1.9 9.1-5 2.6 2z" stroke="none"/><path d="M691.4 173.7l-2.6-2M679.7 176.7l9.1-5" fill="none"/>
<path d="M657.6 135.9l-.3-3.2 9.2-5 .2 3.3z" stroke="none"/><path d="M666.7 131l-.2-3.3M657.6 135.9l9.1-4.9" fill="none"/>
<path d="M684 183.1l.8-.9 9.1-4.9-.7 .9z" stroke="none"/><path d="M693.2 178.2l.7-.9M684 183.1l9.2-4.9M684.8 182.2l9.1-4.9" fill="none"/>
<path d="M655.7 128.6l-1.2 .2 9.1-5 1.2-.1z" stroke="none"/><path d="M664.8 123.7l-1.2 .1M655.7 128.6l9.1-4.9M654.5 128.8l9.1-5" fill="none"/>
<path d="M684.3 180.4l-2-1.8 9.1-4.9 2 1.8z" stroke="none"/><path d="M693.4 175.5l-2-1.8" fill="none"/>
<path d="M657.3 132.7l-.4-2.7 9.1-4.9 .5 2.6z" stroke="none"/><path d="M666.5 127.7l-.5-2.6" fill="none"/>
<path d="M684.8 182.2l-.5-1.8 9.1-4.9 .5 1.8z" stroke="none"/><path d="M693.9 177.3l-.5-1.8M684.8 182.2l9.1-4.9" fill="none"/>
<path d="M656.9 130l-1.2-1.4 9.1-4.9 1.2 1.4z" stroke="none"/><path d="M666 125.1l-1.2-1.4M655.7 128.6l9.1-4.9" fill="none"/>
<path d="M679.3 170.5l-.4-.9 9.1-4.9 .4 .9z" stroke="none"/><path d="M688.4 165.6l-.4-.9M679.3 170.5l9.1-4.9M678.9 169.6l9.1-4.9" fill="none"/>
<path d="M663 140.5l-.5-.9 9.1-5 .6 .9z" stroke="none"/><path d="M672.2 135.5l-.6-.9M663 140.5l9.2-5M662.5 139.6l9.1-5" fill="none"/>
<path d="M678.9 169.6l.1-.7 9.2-5-.2 .8z" stroke="none"/><path d="M688 164.7l.2-.8M678.9 169.6l9.1-4.9M679 168.9l9.2-5" fill="none"/>
<path d="M663.7 140.7l-.7-.2 9.2-5 .7 .3z" stroke="none"/><path d="M672.9 135.8l-.7-.3M663.7 140.7l9.2-4.9M663 140.5l9.2-5" fill="none"/>
<path d="M681.9 171.9l-2.6-1.4 9.1-4.9 2.7 1.3z" stroke="none"/><path d="M691.1 166.9l-2.7-1.3M679.3 170.5l9.1-4.9" fill="none"/>
<path d="M662.5 139.6l.3-3 9.2-4.9-.4 2.9z" stroke="none"/><path d="M671.6 134.6l.4-2.9M662.5 139.6l9.1-5" fill="none"/>
<path d="M677.9 164.1l-.6-.8 9.2-5 .5 .8z" stroke="none"/><path d="M687 159.1l-.5-.8M677.9 164.1l9.1-5M677.3 163.3l9.2-5" fill="none"/>
<path d="M667.5 145.2l-.4-.9 9.2-5 .4 1z" stroke="none"/><path d="M676.7 140.3l-.4-1M667.5 145.2l9.2-4.9M667.1 144.3l9.2-5" fill="none"/>
<path d="M677.3 163.3l0-.9 9.2-5 0 .9z" stroke="none"/><path d="M686.5 158.3l0-.9M677.3 163.3l9.2-5M677.3 162.4l9.2-5" fill="none"/>
<path d="M668.2 145.7l-.7-.5 9.2-4.9 .7 .4z" stroke="none"/><path d="M677.4 140.7l-.7-.4M668.2 145.7l9.2-5M667.5 145.2l9.2-4.9" fill="none"/>
<path d="M684.3 176.2l.5-1.2 9.1-5-.5 1.2z" stroke="none"/><path d="M693.4 171.2l.5-1.2M684.3 176.2l9.1-5M684.8 175l9.1-5" fill="none"/>
<path d="M661.8 132.6l-1.3-.2 9.1-5 1.3 .2z" stroke="none"/><path d="M670.9 127.6l-1.3-.2M661.8 132.6l9.1-5M660.5 132.4l9.1-5" fill="none"/>
<path d="M684 173.2l-2.1-1.3 9.2-5 2 1.4z" stroke="none"/><path d="M693.1 168.3l-2-1.4" fill="none"/>
<path d="M662.8 136.6l0-2.4 9.1-5 .1 2.5z" stroke="none"/><path d="M672 131.7l-.1-2.5" fill="none"/>
<path d="M675.5 157.6l-.7-.7 9.2-5 .6 .8z" stroke="none"/><path d="M684.6 152.7l-.6-.8M675.5 157.6l9.1-4.9M674.8 156.9l9.2-5" fill="none"/>
<path d="M671.5 150.8l-.3-1 9.2-4.9 .3 .9z" stroke="none"/><path d="M680.7 145.8l-.3-.9M671.5 150.8l9.2-5M671.2 149.8l9.2-4.9" fill="none"/>
<path d="M674.8 156.9l-.1-.9 9.1-5 .2 .9z" stroke="none"/><path d="M684 151.9l-.2-.9M674.8 156.9l9.2-5M674.7 156l9.1-5" fill="none"/>
<path d="M672.2 151.4l-.7-.6 9.2-5 .7 .6z" stroke="none"/><path d="M681.4 146.4l-.7-.6M672.2 151.4l9.2-5M671.5 150.8l9.2-5" fill="none"/>
<path d="M684.8 175l-.8-1.8 9.1-4.9 .8 1.7z" stroke="none"/><path d="M693.9 170l-.8-1.7M684.8 175l9.1-5" fill="none"/>
<path d="M662.8 134.2l-1-1.6 9.1-5 1 1.6z" stroke="none"/><path d="M671.9 129.2l-1-1.6M661.8 132.6l9.1-5" fill="none"/>
<path d="M680.4 164.7l-2.5-.6 9.1-5 2.6 .7z" stroke="none"/><path d="M689.6 159.8l-2.6-.7M677.9 164.1l9.1-5" fill="none"/>
<path d="M667.1 144.3l.9-2.5 9.1-5-.8 2.5z" stroke="none"/><path d="M676.3 139.3l.8-2.5M667.1 144.3l9.2-5" fill="none"/>
<path d="M677.9 157.5l-2.4 .1 9.1-4.9 2.4-.1z" stroke="none"/><path d="M687 152.6l-2.4 .1M675.5 157.6l9.1-4.9" fill="none"/>
<path d="M671.2 149.8l1.4-1.9 9.2-5-1.4 2z" stroke="none"/><path d="M680.4 144.9l1.4-2M671.2 149.8l9.2-4.9" fill="none"/>
<path d="M674.7 156l1.8-1.4 9.2-4.9-1.9 1.3z" stroke="none"/><path d="M683.8 151l1.9-1.3M674.7 156l9.1-5" fill="none"/>
<path d="M674.3 150.6l-2.1 .8 9.2-5 2.1-.8z" stroke="none"/><path d="M683.5 145.6l-2.1 .8M672.2 151.4l9.2-5" fill="none"/>
<path d="M682.5 165.6l-2.1-.9 9.2-4.9 2 .8z" stroke="none"/><path d="M691.6 160.6l-2-.8" fill="none"/>
<path d="M668 141.8l.4-2.2 9.1-5-.4 2.2z" stroke="none"/><path d="M677.1 136.8l.4-2.2" fill="none"/>
<path d="M683.2 168.7l.3-1.5 9.1-4.9-.2 1.4z" stroke="none"/><path d="M692.4 163.7l.2-1.4M683.2 168.7l9.2-5M683.5 167.2l9.1-4.9" fill="none"/>
<path d="M667.6 137.9l-1.4-.6 9.2-5 1.3 .6z" stroke="none"/><path d="M676.7 132.9l-1.3-.6M667.6 137.9l9.1-5M666.2 137.3l9.2-5" fill="none"/>
<path d="M683.5 167.2l-1-1.6 9.1-5 1 1.7z" stroke="none"/><path d="M692.6 162.3l-1-1.7M683.5 167.2l9.1-4.9" fill="none"/>
<path d="M668.4 139.6l-.8-1.7 9.1-5 .8 1.7z" stroke="none"/><path d="M677.5 134.6l-.8-1.7M667.6 137.9l9.1-5" fill="none"/>
<path d="M679.5 161.8l1.5-.9 9.2-4.9-1.6 .8z" stroke="none"/><path d="M688.6 156.8l1.6-.8M679.5 161.8l9.1-5" fill="none"/>
<path d="M671.5 143.4l-1.5 .8 9.1-5 1.6-.8z" stroke="none"/><path d="M680.7 138.4l-1.6 .8M670 144.2l9.1-5" fill="none"/>
<path d="M679.8 157.8l-1.9-.3 9.1-4.9 2 .3z" stroke="none"/><path d="M689 152.9l-2-.3" fill="none"/>
<path d="M672.6 147.9l.8-1.8 9.2-5-.8 1.8z" stroke="none"/><path d="M681.8 142.9l.8-1.8" fill="none"/>
<path d="M676.1 150.3l-1.8 .3 9.2-5 1.8-.2z" stroke="none"/><path d="M685.3 145.4l-1.8 .2" fill="none"/>
<path d="M676.5 154.6l1.2-1.3 9.2-5-1.2 1.4z" stroke="none"/><path d="M685.7 149.7l1.2-1.4" fill="none"/>
<path d="M681 160.9l0-1.6 9.1-5 .1 1.7z" stroke="none"/><path d="M690.2 156l-.1-1.7M681 159.3l9.1-5" fill="none"/>
<path d="M672.9 144.3l-1.4-.9 9.2-5 1.3 .9z" stroke="none"/><path d="M682 139.3l-1.3-.9M672.9 144.3l9.1-5" fill="none"/>
<path d="M681 159.3l-1.2-1.5 9.2-4.9 1.1 1.4z" stroke="none"/><path d="M690.1 154.3l-1.1-1.4M681 159.3l9.1-5" fill="none"/>
<path d="M673.4 146.1l-.5-1.8 9.1-5 .6 1.8z" stroke="none"/><path d="M682.6 141.1l-.6-1.8M672.9 144.3l9.1-5" fill="none"/>
<path d="M677.7 153.3l-.3-1.8 9.1-4.9 .4 1.7z" stroke="none"/><path d="M686.9 148.3l-.4-1.7M677.4 151.5l9.1-4.9" fill="none"/>
<path d="M677.4 151.5l-1.3-1.2 9.2-4.9 1.2 1.2z" stroke="none"/><path d="M686.5 146.6l-1.2-1.2M677.4 151.5l9.1-4.9" fill="none"/>
<path d="M671.3 193.1l.3-.6 .7 .1 2.1 3 1.8 2.2 1.3 .1 .3-1.4-1.2-2.6-1.8-3.3 .1-.8 .6 0 2.4 2.6 2 1.8 1.2-.3 0-1.6-1.5-2.4-2.2-3 0-.8 .5-.3 2.6 2.1 2.1 1.3 .9-.6-.2-1.7-1.8-2.2-2.5-2.5-.1-.9 .4-.5 2.7 1.5 2 .8 .8-.9-.5-1.8-2-1.8-2.6-1.9-.3-1 .3-.6 2.6 .8 2 .3 .5-1.2-.8-1.8-2.1-1.3-2.6-1.4-.4-.9 .1-.7 2.5 .1 1.7-.3 .3-1.5-1-1.6-2.1-.9-2.5-.6-.6-.8 0-.9 2.2-.6 1.5-.9 0-1.6-1.2-1.5-1.9-.3-2.4 .1-.7-.7-.1-.9 1.8-1.4 1.2-1.3-.3-1.8-1.3-1.2-1.8 .3-2.1 .8-.7-.6-.3-1 1.4-1.9 .8-1.8-.5-1.8-1.4-.9-1.5 .8-1.8 1.5-.7-.5-.4-.9 .9-2.5 .4-2.2-.8-1.7-1.4-.6-1.2 1.3-1.3 2.1-.7-.2-.5-.9 .3-3 0-2.4-1-1.6-1.3-.2-.9 1.8-.7 2.6-.7-.1-.6-.8-.3-3.2-.4-2.7-1.2-1.4-1.2 .2-.4 2.1-.2 3.1-.7 .1-.6-.6-.8-3.5-.9-2.7-1.3-1.1-1 .5 0 2.4 .3 3.4-.5 .3-.7-.5-1.3-3.5-1.2-2.6-1.4-.8-.8 .8 .4 2.6 .9 3.5-.4 .5-.7-.3-1.7-3.3-1.6-2.5-1.3-.5-.6 1.2 .8 2.6 1.4 3.5-.3 .6-.7-.1-2.1-3-1.8-2.2-1.3-.1-.3 1.4 1.2 2.6 1.9 3.3-.2 .7-.6 .1-2.4-2.6-2-1.8-1.1 .2-.1 1.6 1.6 2.5 2.2 2.9 0 .9-.6 .3-2.5-2.1-2.1-1.4-1 .6 .3 1.8 1.8 2.1 2.4 2.5 .2 1-.5 .4-2.6-1.5-2.1-.8-.7 .9 .5 1.8 1.9 1.8 2.7 2 .3 .9-.3 .6-2.6-.8-2-.2-.5 1.2 .7 1.7 2.1 1.4 2.7 1.3 .4 .9-.2 .8-2.4-.1-1.8 .3-.2 1.4 .9 1.7 2.1 .8 2.6 .7 .5 .8 0 .9-2.2 .6-1.5 .8 0 1.7 1.2 1.4 2 .3 2.4-.1 .6 .8 .1 .9-1.8 1.3-1.2 1.4 .3 1.7 1.3 1.2 1.8-.2 2.1-.8 .7 .6 .3 .9-1.4 2-.8 1.8 .6 1.8 1.3 .9 1.6-.8 1.7-1.5 .7 .4 .4 1-.8 2.5-.5 2.2 .9 1.7 1.3 .6 1.2-1.4 1.3-2.1 .7 .3 .6 .9-.4 2.9 0 2.5 1.1 1.6 1.3 .2 .8-1.8 .8-2.6 .7 .1 .6 .7 .2 3.3 .5 2.6 1.1 1.4 1.2-.1 .5-2.2 .2-3 .6-.1 .7 .6 .8 3.4 .8 2.7 1.3 1.2 1-.5 0-2.5-.3-3.3 .5-.3 .7 .5 1.3 3.4 1.2 2.6 1.4 .9 .8-.9-.4-2.6-.9-3.4 .4-.5 .7 .3 1.8 3.3 1.5 2.5 1.4 .5 .6-1.2-.9-2.7zM662.4 175.5l1.1-.7 .9-1.1 .6-1.3 .5-1.5 .2-1.8-.1-1.8-.3-2-.5-2-.7-2-1-2-1.1-1.9-1.3-1.7-1.4-1.5-1.5-1.4-1.5-1-1.6-.8-1.5-.5-1.5-.1-1.3 .1-1.3 .5-1 .8-.9 1.1-.7 1.3-.4 1.5-.2 1.7 0 1.9 .3 2 .5 2 .8 2 .9 2 1.2 1.8 1.2 1.8 1.4 1.5 1.5 1.3 1.6 1.1 1.5 .7 1.6 .5 1.4 .2 1.4-.2z" fill-rule="evenodd"/>
<path d="M670.7 190.7l2.3-1.8 2-2.3 1.5-3 1-3.4 .4-3.9-.1-4.1-.6-4.4-1.2-4.5-1.7-4.5-2.1-4.4-2.5-4.2-2.9-3.9-3.1-3.4-3.4-2.9-3.4-2.4-3.5-1.7-3.4-1.1-3.3-.3-3 .3-2.8 1.1-2.4 1.7-2 2.4-1.4 2.9-1 3.5-.5 3.8 .1 4.2 .7 4.4 1.1 4.5 1.7 4.5 2.1 4.4 2.6 4.2 2.8 3.8 3.2 3.5 3.3 2.9 3.5 2.4 3.4 1.7 3.5 1 3.2 .4 3.1-.4z" fill="none" stroke-width="0.72"/>
<path d="M664 178.4l1.3-.9 1.1-1.3 .8-1.7 .6-1.9 .2-2.1 0-2.3-.4-2.4-.6-2.5-1-2.5-1.1-2.5-1.4-2.3-1.6-2.1-1.8-1.9-1.8-1.6-1.9-1.3-1.9-1-1.9-.6-1.8-.1-1.7 .2-1.5 .5-1.4 1-1.1 1.3-.8 1.6-.5 1.9-.3 2.2 .1 2.3 .3 2.4 .7 2.5 .9 2.5 1.2 2.4 1.4 2.3 1.6 2.2 1.7 1.9 1.9 1.6 1.9 1.3 1.9 .9 1.9 .6 1.8 .2 1.7-.2z" fill="none" stroke-width="0.72"/>
<path d="M670 187.7l.7-.5 .7-.5 .6-.6 .6-.7 .5-.7 .5-.8 .4-.9 .4-.8 .4-1 .3-.9 0-1.8-.7-2-1.3-1.6-1.5-.8-1.3 .1-.8 1.1-.2 .7-.3 .7-.3 .6-.3 .6-.3 .6-.4 .5-.4 .5-.5 .4-.4 .4-.5 .3-.8 1.2 0 1.8 .8 1.9 1.3 1.6 1.5 .8z"/><path d="M677.6 172.9l-.4 .6-.4 .5-.4 .5-.4 .4-.5 .4-.5 .4-.7 1.1 0 1.8 .7 2 1.3 1.6 1.5 .8 1.4-.2 .6-.5 .7-.6 .6-.6" fill="none" stroke-width="0.72"/>
<path d="M675.2 167.4l-.3-1.3-.3-1.3-.4-1.3-.4-1.3-.5-1.3-.5-1.3-.5-1.3-.6-1.3-.7-1.2-.7-1.3-1.3-1.6-1.5-.8-1.3 .1-.8 1.1 0 1.8 .7 2 .5 .8 .5 .9 .4 .9 .4 1 .3 .9 .4 .9 .3 .9 .2 1 .3 .9 .2 .9 .7 2 1.3 1.6 1.6 .8 1.3-.2 .7-1.2z"/><path d="M674.6 148.4l-.1 1.7 .8 2 .4 .9 .5 .9 .4 .9 .4 .9 .4 .9 .3 1 .3 .9 .3 .9 .2 .9 .2 1 .8 1.9 1.3 1.6 1.5 .8 1.3-.2" fill="none" stroke-width="0.72"/>
<path d="M661 143l-1-.8-1-.8-1-.7-1-.6-1-.6-1-.5-1-.5-1-.3-1-.4-1-.2-1.3 .1-.8 1.1 0 1.8 .7 1.9 1.3 1.7 1.5 .8 .7 .2 .7 .2 .7 .3 .7 .3 .7 .4 .8 .4 .7 .5 .7 .5 .7 .5 .7 .6 1.5 .8 1.3-.2 .7-1.2 0-1.8-.7-1.9z"/><path d="M662.1 133.2l-1-.3-.9-.3-1.4 .1-.7 1.2-.1 1.7 .7 2 1.3 1.6 1.5 .8 .7 .2 .7 .3 .8 .3 .7 .3 .7 .3 .7 .5 .7 .4 .7 .5" fill="none" stroke-width="0.72"/>
<path d="M641.5 138.8l-.7 .5-.6 .6-.6 .6-.6 .7-.5 .7-.5 .8-.5 .8-.4 .9-.3 .9-.3 1-.1 1.8 .7 1.9 1.3 1.7 1.5 .8 1.4-.2 .8-1.1 .2-.7 .2-.6 .3-.6 .3-.6 .4-.6 .4-.5 .4-.5 .4-.4 .5-.4 .5-.4 .7-1.1 0-1.8-.7-2-1.3-1.6-1.6-.8z"/><path d="M648.1 136.2l-.5 .7-.5 .8-.4 .9-.4 .8-.4 1-.3 .9 0 1.8 .7 2 1.3 1.6 1.5 .8 1.3-.1 .8-1.1 .2-.7 .3-.7 .3-.6" fill="none" stroke-width="0.72"/>
<path d="M636.3 159.1l.3 1.3 .3 1.3 .4 1.4 .5 1.3 .4 1.3 .5 1.3 .6 1.3 .6 1.2 .6 1.3 .7 1.2 1.3 1.7 1.5 .8 1.3-.2 .8-1.1 .1-1.7-.8-2-.4-.9-.5-.9-.4-.9-.4-.9-.4-.9-.3-1-.3-.9-.3-.9-.2-.9-.2-1-.8-1.9-1.3-1.6-1.5-.8-1.3 .2-.8 1.2z"/><path d="M645.5 152.4l0 1.8 .3 1.3 .3 1.3 .4 1.3 .4 1.3 .5 1.3 .5 1.3 .5 1.3 .6 1.3 .7 1.2 .6 1.3 1.3 1.6 1.5 .8 1.4-.1" fill="none" stroke-width="0.72"/>
<path d="M650.6 183.6l.9 .8 1 .7 1 .7 1 .7 1 .5 1 .6 1.1 .4 1 .4 .9 .3 1 .3 1.4-.1 .7-1.2 .1-1.7-.8-2-1.2-1.6-1.6-.8-.6-.2-.8-.3-.7-.3-.7-.3-.7-.3-.7-.5-.7-.4-.7-.5-.7-.5-.7-.6-1.5-.8-1.3 .2-.8 1.2 0 1.7 .8 2z"/><path d="M661.9 173.3l-.7-.6-1.5-.8-1.3 .2-.8 1.2 0 1.8 .8 1.9 1.3 1.6 1 .8 1 .8 1 .7 1 .6 1 .6 1 .5 1 .5" fill="none" stroke-width="0.72"/>
<path d="M525.4 393.7l1.1-.8 22.7-11.7-1 .7z" stroke="#4a4a4a" stroke-width="0.68"/>
<path d="M521.3 379.3l-1.5-.3 22.8-11.8 1.4 .3z" stroke="#4a4a4a" stroke-width="0.68"/>
<path d="M530.1 397.2l.4-1.5 22.7-11.8-.4 1.6z" stroke="#4a4a4a" stroke-width="0.68"/>
<path d="M522.8 375.5l-1.5-1.2 22.7-11.7 1.5 1.2z" stroke="#4a4a4a" stroke-width="0.68"/>
<path d="M534.6 398l-.3-2 22.7-11.7 .3 1.9z" stroke="#4a4a4a" stroke-width="0.68"/>
<path d="M524.7 372.1l-1.9 .8 22.7-11.8 1.9-.7z" stroke="#4a4a4a" stroke-width="0.68"/>
<path d="M536.5 397.3l1.5-1.5 22.7-11.7-1.5 1.4z" stroke="#4a4a4a" stroke-width="0.68"/>
<path d="M525.8 373.9l-1.1-1.8 22.7-11.7 1.2 1.8z" stroke="#4a4a4a" stroke-width="0.68"/>
<path d="M526.8 373.9l-1 0 22.8-11.7 .9 0z" stroke="#4a4a4a" stroke-width="0.68"/>
<path d="M538 395.8l-1-1.9 22.8-11.8 .9 2z" stroke="#4a4a4a" stroke-width="0.68"/>
<path d="M537 393.9l.5-.9 22.7-11.8-.4 .9z" stroke="#4a4a4a" stroke-width="0.68"/>
<path d="M529.2 372.9l-2.3-.8 22.7-11.7 2.3 .8z" stroke="#4a4a4a" stroke-width="0.68"/>
<path d="M529.8 374.9l-.6-2 22.7-11.7 .6 1.9z" stroke="#4a4a4a" stroke-width="0.68"/>
<path d="M530.8 375.5l-1-.6 22.7-11.8 1.1 .7z" stroke="#4a4a4a" stroke-width="0.68"/>
<path d="M539 393.7l.4-2.5 22.8-11.8-.5 2.6z" stroke="#4a4a4a" stroke-width="0.68"/>
<path d="M539.4 391.2l-1.3-1.5 22.7-11.7 1.4 1.4z" stroke="#4a4a4a" stroke-width="0.68"/>
<path d="M538.1 389.7l-.1-1.3 22.8-11.7 0 1.3z" stroke="#4a4a4a" stroke-width="0.68"/>
<path d="M534.6 379.3l-.9-1.1 22.7-11.8 .9 1.2z" stroke="#4a4a4a" stroke-width="0.68"/>
<path d="M537.2 384.5l-.6-1.4 22.8-11.8 .5 1.4z" stroke="#4a4a4a" stroke-width="0.68"/>
<path d="M533.8 376.5l-2.2-2.1 22.7-11.8 2.3 2.1z" stroke="#4a4a4a" stroke-width="0.68"/>
<path d="M533.7 378.2l.1-1.7 22.8-11.8-.2 1.7z" stroke="#4a4a4a" stroke-width="0.68"/>
<path d="M538.7 385.1l-1.5-.6 22.7-11.8 1.5 .7z" stroke="#4a4a4a" stroke-width="0.68"/>
<path d="M539.3 388.2l-.6-3.1 22.7-11.7 .7 3.1z" stroke="#4a4a4a" stroke-width="0.68"/>
<path d="M535.8 379.1l-1.2 .2 22.7-11.7 1.3-.3z" stroke="#4a4a4a" stroke-width="0.68"/>
<path d="M536.6 383.1l.9-1.1 22.7-11.8-.8 1.1z" stroke="#4a4a4a" stroke-width="0.68"/>
<path d="M537.5 382l-1.7-2.9 22.8-11.8 1.6 2.9z" stroke="#4a4a4a" stroke-width="0.68"/>
<path d="M535.1 395.7l1.4 1.6 1.5-1.5-1-1.9 .5-.9 1.5 .7 .4-2.5-1.3-1.5-.1-1.3 1.3-.2-.6-3.1-1.5-.6-.6-1.4 .9-1.1-1.7-2.9-1.2 .2-.9-1.1 .1-1.7-2.2-2.1-.8 1.1-1-.6-.6-2-2.3-.8-.1 1.8-1 0-1.1-1.8-1.9 .8 .6 1.9-.6 .7-1.5-1.2-1 2.1 1.2 1.7-.2 1.2-1.5-.3 .1 2.9 1.5 1.1 .3 1.4-1.1 .6 1.2 3.1 1.4 .2 .7 1.3-.5 1.5 2 2.6 1.1-.8 1 .9 .2 1.9 2.4 1.5 .4-1.5 1 .3 .9 2 2.2 0-.3-2z" fill-rule="evenodd"/>
<path d="M509.8 409.4l.8-.6 .7-.7 .6-.9 .4-1 .3-1.2 .2-1.3 0-1.4-.1-1.5-.3-1.5-.4-1.5-.6-1.5-.7-1.5-.8-1.4-.9-1.3-1-1.3-1.1-1.1-1.1-.9-1.1-.8-1.2-.6-1.1-.5-1.1-.2-1.1-.1-1 .2-.9 .4 26.3-13.6 .9-.4 1-.1 1.1 0 1.1 .2 1.1 .5 1.2 .6 1.1 .8 1.1 1 1.1 1.1 1 1.2 .9 1.3 .8 1.4 .7 1.5 .6 1.5 .4 1.6 .3 1.5 .1 1.4 0 1.4-.2 1.3-.3 1.2-.4 1-.6 .9-.7 .8-.8 .5z" stroke="none"/>
<path d="M509.8 409.4l26.3-13.6 .8-.5 .7-.8 .6-.9 .4-1 .3-1.2 .2-1.3 0-1.4-.1-1.4-.3-1.5-.4-1.6-.6-1.5-.7-1.5-.8-1.4-.9-1.3-1-1.2-1.1-1.1-1.1-1-1.1-.8-1.2-.6-1.1-.5-1.1-.2-1.1 0-1 .1-.9 .4-26.3 13.6" fill="none"/>
<path d="M509.8 409.4l.9-.7 .8-.9 .7-1.2 .4-1.4 .2-1.5 0-1.7-.2-1.8-.5-1.8-.6-1.8-.8-1.8-1-1.7-1.1-1.5-1.2-1.4-1.3-1.2-1.4-1-1.4-.7-1.3-.5-1.4-.2-1.2 .2-1.1 .4-1 .6-.8 1-.6 1.1-.4 1.4-.2 1.5 0 1.7 .2 1.8 .4 1.8 .7 1.8 .8 1.8 1 1.7 1.1 1.6 1.2 1.4 1.3 1.2 1.4 1 1.4 .7 1.3 .4 1.3 .2 1.3-.1z" fill-rule="evenodd"/>
<path d="M509.3 415.4l1.1-.8 1-1 .8-1.3 .7-1.4 .4-1.7 .2-1.8 .1-2-.2-2-.4-2.2-.7-2.1-.8-2.1-.9-2.1-1.2-2-1.2-1.9-1.4-1.7-1.5-1.6-1.6-1.3-1.6-1.2-1.6-.8-1.6-.6-1.6-.4-1.5 0-1.4 .2-1.3 .5 2.9-1.5 1.3-.5 1.4-.2 1.5 .1 1.5 .3 1.6 .6 1.7 .9 1.6 1.1 1.5 1.4 1.5 1.5 1.4 1.7 1.3 1.9 1.1 2 1 2.1 .8 2.1 .6 2.2 .4 2.1 .2 2 0 2-.2 1.8-.5 1.7-.6 1.5-.8 1.2-1 1-1.2 .8z" stroke="none"/>
<path d="M509.3 415.4l2.8-1.5 1.2-.8 1-1 .8-1.2 .6-1.5 .5-1.7 .2-1.8 0-2-.2-2-.4-2.1-.6-2.2-.8-2.1-1-2.1-1.1-2-1.3-1.9-1.4-1.7-1.5-1.5-1.5-1.4-1.6-1.1-1.7-.9-1.6-.6-1.5-.3-1.5-.1-1.4 .2-1.3 .5-2.9 1.5" fill="none"/>
<path d="M509.3 415.4l1.3-1 1.2-1.3 .8-1.6 .6-2 .3-2.1 0-2.4-.3-2.5-.6-2.5-.9-2.6-1.1-2.5-1.4-2.4-1.6-2.2-1.7-2-1.9-1.7-1.9-1.4-1.9-1-1.9-.6-1.9-.2-1.7 .1-1.6 .6-1.3 .9-1.2 1.4-.9 1.6-.6 1.9-.3 2.2 .1 2.4 .3 2.4 .6 2.6 .9 2.6 1.1 2.5 1.4 2.4 1.6 2.2 1.7 1.9 1.8 1.7 2 1.4 1.9 1 1.9 .7 1.9 .2 1.7-.2z" fill-rule="evenodd"/>
<path d="M459.6 416.5l-1.2 .6 33.7-17.4 1.3-.7z" stroke="#4a4a4a" stroke-width="0.68"/>
<path d="M463.2 425.8l1.1-.9 33.8-17.5-1.1 .9z" stroke="#4a4a4a" stroke-width="0.68"/>
<path d="M459.2 411.5l-1.6-.4 33.8-17.5 1.6 .4z" stroke="#4a4a4a" stroke-width="0.68"/>
<path d="M467.9 429.3l.4-1.7 33.7-17.4-.4 1.7z" stroke="#4a4a4a" stroke-width="0.68"/>
<path d="M460.7 407.8l-1.6-1.4 33.8-17.4 1.5 1.3z" stroke="#4a4a4a" stroke-width="0.68"/>
<path d="M472.4 430.1l-.4-2.1 33.8-17.5 .3 2.2z" stroke="#4a4a4a" stroke-width="0.68"/>
<path d="M462.5 404.2l-1.9 .8 33.7-17.5 1.9-.7z" stroke="#4a4a4a" stroke-width="0.68"/>
<path d="M474.3 429.4l1.5-1.5 33.7-17.4-1.5 1.4z" stroke="#4a4a4a" stroke-width="0.68"/>
<path d="M463.7 406.2l-1.2-2 33.7-17.4 1.2 2z" stroke="#4a4a4a" stroke-width="0.68"/>
<path d="M464.6 406.2l-.9 0 33.7-17.4 1 0z" stroke="#4a4a4a" stroke-width="0.68"/>
<path d="M475.8 427.9l-1.1-2.1 33.8-17.4 1 2.1z" stroke="#4a4a4a" stroke-width="0.68"/>
<path d="M474.7 425.8l.4-.9 33.8-17.4-.4 .9z" stroke="#4a4a4a" stroke-width="0.68"/>
<path d="M467 405l-2.3-.8 33.7-17.4 2.4 .8z" stroke="#4a4a4a" stroke-width="0.68"/>
<path d="M467.5 407.2l-.5-2.2 33.8-17.4 .5 2.1z" stroke="#4a4a4a" stroke-width="0.68"/>
<path d="M468.6 407.8l-1.1-.6 33.8-17.5 1.1 .7z" stroke="#4a4a4a" stroke-width="0.68"/>
<path d="M476.8 425.8l.4-2.5 33.8-17.5-.5 2.6z" stroke="#4a4a4a" stroke-width="0.68"/>
<path d="M475.7 421.7l0-1.3 33.7-17.4 .1 1.3z" stroke="#4a4a4a" stroke-width="0.68"/>
<path d="M477.2 423.3l-1.5-1.6 33.8-17.4 1.5 1.5z" stroke="#4a4a4a" stroke-width="0.68"/>
<path d="M472.3 411.5l-.9-1.1 33.8-17.4 .8 1.1z" stroke="#4a4a4a" stroke-width="0.68"/>
<path d="M474.8 416.6l-.5-1.4 33.8-17.4 .5 1.3z" stroke="#4a4a4a" stroke-width="0.68"/>
<path d="M471.4 410.4l.2-1.8 33.8-17.5-.2 1.9z" stroke="#4a4a4a" stroke-width="0.68"/>
<path d="M471.6 408.6l-2.2-2.1 33.7-17.5 2.3 2.1z" stroke="#4a4a4a" stroke-width="0.68"/>
<path d="M476.5 417.2l-1.7-.6 33.8-17.5 1.6 .7z" stroke="#4a4a4a" stroke-width="0.68"/>
<path d="M473.6 411.2l-1.3 .3 33.7-17.4 1.4-.4z" stroke="#4a4a4a" stroke-width="0.68"/>
<path d="M477.1 420.3l-.6-3.1 33.7-17.4 .7 3.1z" stroke="#4a4a4a" stroke-width="0.68"/>
<path d="M474.3 415.2l1-1.1 33.7-17.4-.9 1.1z" stroke="#4a4a4a" stroke-width="0.68"/>
<path d="M475.3 414.1l-1.7-2.9 33.8-17.5 1.6 3z" stroke="#4a4a4a" stroke-width="0.68"/>
<path d="M472.8 427.6l1.5 1.8 1.5-1.5-1.1-2.1 .4-.9 1.7 .9 .4-2.5-1.5-1.6 0-1.3 1.4-.1-.6-3.1-1.7-.6-.5-1.4 1-1.1-1.7-2.9-1.3 .3-.9-1.1 .2-1.8-2.2-2.1-.8 1.3-1.1-.6-.5-2.2-2.3-.8-.1 2-.9 0-1.2-2-1.9 .8 .7 2.1-.6 .7-1.6-1.4-1 2.1 1.3 1.8-.2 1.2-1.6-.4 .1 2.9 1.6 1.1 .3 1.4-1.2 .6 1.2 3.1 1.5 .2 .7 1.2-.6 1.6 2 2.6 1.1-.9 1 .9 .2 2 2.4 1.5 .4-1.7 1 .4 .9 2.1 2.2 0-.4-2.1z" fill-rule="evenodd"/>
<path d="M461.4 434.3l.8-.5 .8-.7 .5-.9 .5-1.1 .3-1.2 .2-1.3 0-1.4-.2-1.4-.3-1.5-.4-1.5-.5-1.5-.7-1.5-.8-1.4-1-1.4-.9-1.2-1.1-1.1-1.1-1-1.1-.8-1.2-.6-1.1-.4-1.2-.3-1 0-1 .2-.9 .3 12-6.2 1-.4 1-.1 1 0 1.1 .2 1.2 .5 1.1 .6 1.2 .8 1.1 .9 1 1.1 1 1.3 .9 1.3 .8 1.4 .7 1.5 .6 1.5 .4 1.5 .3 1.6 .2 1.4-.1 1.4-.1 1.3-.3 1.2-.5 1-.6 .9-.7 .7-.8 .6z" stroke="none"/>
<path d="M461.4 434.3l12.1-6.2 .8-.6 .7-.7 .6-.9 .5-1 .3-1.2 .1-1.3 .1-1.4-.2-1.4-.3-1.6-.4-1.5-.6-1.5-.7-1.5-.8-1.4-.9-1.3-1-1.3-1-1.1-1.1-.9-1.2-.8-1.1-.6-1.2-.5-1.1-.2-1 0-1 .1-1 .4-12 6.2" fill="none"/>
<path d="M461.4 434.3l1-.7 .8-.9 .6-1.1 .5-1.4 .2-1.6 0-1.6-.3-1.8-.4-1.8-.6-1.8-.8-1.8-1-1.7-1.1-1.6-1.3-1.4-1.3-1.2-1.3-1-1.4-.7-1.4-.4-1.3-.2-1.2 .1-1.1 .4-1 .7-.8 .9-.6 1.2-.5 1.4-.2 1.5 0 1.7 .3 1.7 .4 1.9 .6 1.8 .8 1.8 1 1.7 1.1 1.5 1.3 1.4 1.3 1.2 1.3 1 1.4 .7 1.4 .5 1.3 .1 1.2-.1z" fill-rule="evenodd"/>
<path d="M445.1 436.6l.7-.7 7.1-3.7-.7 .8z" stroke="#4a4a4a" stroke-width="0.68"/>
<path d="M439.5 423l-1 0 7.1-3.6 1.1-.1z" stroke="#4a4a4a" stroke-width="0.68"/>
<path d="M448.2 439l.4-1.1 7.1-3.7-.4 1.2z" stroke="#4a4a4a" stroke-width="0.68"/>
<path d="M439.8 419.7l-1.2-.5 7.1-3.7 1.2 .5z" stroke="#4a4a4a" stroke-width="0.68"/>
<path d="M451.4 440.3l0-1.5 7.1-3.6 0 1.4z" stroke="#4a4a4a" stroke-width="0.68"/>
<path d="M440.8 417.1l-1.1-.9 7.1-3.7 1.1 .9z" stroke="#4a4a4a" stroke-width="0.68"/>
<path d="M454.3 440.2l-.4-1.6 7.1-3.7 .4 1.6z" stroke="#4a4a4a" stroke-width="0.68"/>
<path d="M442.7 415.4l-1.1-1.2 7.2-3.7 1 1.3z" stroke="#4a4a4a" stroke-width="0.68"/>
<path d="M443.3 415.2l-.6 .2 7.1-3.6 .6-.3z" stroke="#4a4a4a" stroke-width="0.68"/>
<path d="M455.5 439.6l1.1-.8 7.1-3.7-1.1 .8z" stroke="#4a4a4a" stroke-width="0.68"/>
<path d="M444.3 413.4l-1.4 .2 7.1-3.7 1.4-.2z" stroke="#4a4a4a" stroke-width="0.68"/>
<path d="M456.6 438.8l-.7-1.6 7.1-3.6 .7 1.5z" stroke="#4a4a4a" stroke-width="0.68"/>
<path d="M455.9 437.2l.4-.5 7.1-3.7-.4 .6z" stroke="#4a4a4a" stroke-width="0.68"/>
<path d="M445.1 414.9l-.8-1.5 7.1-3.7 .8 1.5z" stroke="#4a4a4a" stroke-width="0.68"/>
<path d="M445.8 414.9l-.7 0 7.1-3.7 .7 .1z" stroke="#4a4a4a" stroke-width="0.68"/>
<path d="M457.5 437.6l.7-1.4 7.1-3.7-.7 1.4z" stroke="#4a4a4a" stroke-width="0.68"/>
<path d="M458.2 436.2l-1-1.4 7.1-3.6 1 1.3z" stroke="#4a4a4a" stroke-width="0.68"/>
<path d="M447.4 414l-1.6-.5 7.1-3.7 1.6 .5z" stroke="#4a4a4a" stroke-width="0.68"/>
<path d="M457.2 434.8l.2-.7 7.1-3.7-.2 .8z" stroke="#4a4a4a" stroke-width="0.68"/>
<path d="M447.8 415.5l-.4-1.5 7.1-3.7 .5 1.6z" stroke="#4a4a4a" stroke-width="0.68"/>
<path d="M448.6 415.9l-.8-.4 7.2-3.6 .7 .3z" stroke="#4a4a4a" stroke-width="0.68"/>
<path d="M458.6 434.5l.2-1.8 7.1-3.6-.2 1.8z" stroke="#4a4a4a" stroke-width="0.68"/>
<path d="M457.7 431.7l-.1-1 7.1-3.6 .1 .9z" stroke="#4a4a4a" stroke-width="0.68"/>
<path d="M458.8 432.7l-1.1-1 7.1-3.7 1.1 1.1z" stroke="#4a4a4a" stroke-width="0.68"/>
<path d="M450.6 415.8l-1.6-1.1 7.1-3.6 1.6 1z" stroke="#4a4a4a" stroke-width="0.68"/>
<path d="M451.4 417.9l-.7-.6 7.1-3.7 .7 .6z" stroke="#4a4a4a" stroke-width="0.68"/>
<path d="M450.7 417.3l-.1-1.5 7.1-3.7 .1 1.5z" stroke="#4a4a4a" stroke-width="0.68"/>
<path d="M457.2 428l-.2-.9 7.1-3.7 .2 1z" stroke="#4a4a4a" stroke-width="0.68"/>
<path d="M453.9 420.8l-.6-.8 7.1-3.7 .6 .8z" stroke="#4a4a4a" stroke-width="0.68"/>
<path d="M458.4 428.7l-1.2-.7 7.1-3.6 1.2 .6z" stroke="#4a4a4a" stroke-width="0.68"/>
<path d="M458.7 430.7l-.3-2 7.1-3.7 .3 2.1z" stroke="#4a4a4a" stroke-width="0.68"/>
<path d="M455.9 424.3l-.4-1 7.1-3.6 .4 .9z" stroke="#4a4a4a" stroke-width="0.68"/>
<path d="M453.3 420l.3-1.3 7.1-3.7-.3 1.3z" stroke="#4a4a4a" stroke-width="0.68"/>
<path d="M457 427.1l.8-.5 7.1-3.7-.8 .5z" stroke="#4a4a4a" stroke-width="0.68"/>
<path d="M453.6 418.7l-1.5-1.6 7.1-3.6 1.5 1.5z" stroke="#4a4a4a" stroke-width="0.68"/>
<path d="M454.9 420.5l-1 .3 7.1-3.7 1-.3z" stroke="#4a4a4a" stroke-width="0.68"/>
<path d="M457.1 424.5l-1.2-.2 7.1-3.7 1.2 .2z" stroke="#4a4a4a" stroke-width="0.68"/>
<path d="M455.5 423.3l.6-.9 7.1-3.7-.6 1z" stroke="#4a4a4a" stroke-width="0.68"/>
<path d="M457.8 426.6l-.7-2.1 7.1-3.7 .7 2.1z" stroke="#4a4a4a" stroke-width="0.68"/>
<path d="M456.1 422.4l-1.2-1.9 7.1-3.7 1.2 1.9z" stroke="#4a4a4a" stroke-width="0.68"/>
<path d="M454.5 438.3l1 1.3 1.1-.8-.7-1.6 .4-.5 1.2 .9 .7-1.4-1-1.4 .2-.7 1.2 .4 .2-1.8-1.1-1-.1-1 1.1 0-.3-2-1.2-.7-.2-.9 .8-.5-.7-2.1-1.2-.2-.4-1 .6-.9-1.2-1.9-1 .3-.6-.8 .3-1.3-1.5-1.6-.7 .8-.7-.6-.1-1.5-1.6-1.1-.4 1.2-.8-.4-.4-1.5-1.6-.5 0 1.4-.7 0-.8-1.5-1.4 .2 .4 1.6-.6 .2-1.1-1.2-1 .8 .6 1.5-.4 .6-1.1-.9-.7 1.4 1 1.3-.2 .8-1.2-.5-.2 1.8 1.1 1.1 0 .9-1 0 .3 2.1 1.2 .6 .2 1-.9 .5 .8 2.1 1.1 .2 .5 .9-.6 1 1.2 1.9 1-.3 .6 .8-.3 1.3 1.5 1.5 .7-.7 .7 .6 .1 1.5 1.6 1 .4-1.1 .7 .3 .5 1.6 1.6 .5 0-1.5 .7 .1 .8 1.5 1.4-.2-.4-1.6z" fill-rule="evenodd"/>
<path d="M411.6 441.2l-1.2 .7 29.9-15.4 1.2-.7z" stroke="#4a4a4a" stroke-width="0.68"/>
<path d="M415.2 450.5l1.1-.9 29.9-15.4-1.1 .9z" stroke="#4a4a4a" stroke-width="0.68"/>
<path d="M411.2 436.2l-1.6-.4 29.9-15.4 1.6 .4z" stroke="#4a4a4a" stroke-width="0.68"/>
<path d="M419.9 454.1l.4-1.7 29.8-15.4-.4 1.7z" stroke="#4a4a4a" stroke-width="0.68"/>
<path d="M412.7 432.5l-1.6-1.3 29.9-15.4 1.5 1.3z" stroke="#4a4a4a" stroke-width="0.68"/>
<path d="M424.4 454.9l-.4-2.2 29.9-15.4 .3 2.2z" stroke="#4a4a4a" stroke-width="0.68"/>
<path d="M414.5 429l-1.9 .7 29.9-15.4 1.8-.7z" stroke="#4a4a4a" stroke-width="0.68"/>
<path d="M426.3 454.1l1.5-1.4 29.8-15.4-1.5 1.4z" stroke="#4a4a4a" stroke-width="0.68"/>
<path d="M415.7 431l-1.2-2 29.8-15.4 1.2 2z" stroke="#4a4a4a" stroke-width="0.68"/>
<path d="M416.6 431l-.9 0 29.8-15.4 1 0z" stroke="#4a4a4a" stroke-width="0.68"/>
<path d="M427.8 452.7l-1.1-2.1 29.9-15.4 1 2.1z" stroke="#4a4a4a" stroke-width="0.68"/>
<path d="M426.7 450.6l.5-.9 29.8-15.4-.4 .9z" stroke="#4a4a4a" stroke-width="0.68"/>
<path d="M419 429.8l-2.3-.8 29.8-15.4 2.4 .8z" stroke="#4a4a4a" stroke-width="0.68"/>
<path d="M419.6 431.9l-.6-2.1 29.9-15.4 .5 2.1z" stroke="#4a4a4a" stroke-width="0.68"/>
<path d="M420.6 432.6l-1-.7 29.8-15.4 1.1 .7z" stroke="#4a4a4a" stroke-width="0.68"/>
<path d="M428.8 450.6l.5-2.6 29.8-15.4-.5 2.6z" stroke="#4a4a4a" stroke-width="0.68"/>
<path d="M427.7 446.5l0-1.3 29.8-15.4 .1 1.3z" stroke="#4a4a4a" stroke-width="0.68"/>
<path d="M429.3 448l-1.6-1.5 29.9-15.4 1.5 1.5z" stroke="#4a4a4a" stroke-width="0.68"/>
<path d="M424.3 436.3l-.9-1.1 29.9-15.4 .8 1.1z" stroke="#4a4a4a" stroke-width="0.68"/>
<path d="M426.9 441.3l-.6-1.3 29.9-15.4 .5 1.3z" stroke="#4a4a4a" stroke-width="0.68"/>
<path d="M423.4 435.2l.2-1.9 29.9-15.4-.2 1.9z" stroke="#4a4a4a" stroke-width="0.68"/>
<path d="M423.6 433.3l-2.2-2.1 29.8-15.4 2.3 2.1z" stroke="#4a4a4a" stroke-width="0.68"/>
<path d="M428.5 442l-1.6-.7 29.8-15.4 1.6 .7z" stroke="#4a4a4a" stroke-width="0.68"/>
<path d="M425.6 435.9l-1.3 .4 29.8-15.4 1.4-.4z" stroke="#4a4a4a" stroke-width="0.68"/>
<path d="M429.2 445.1l-.7-3.1 29.8-15.4 .7 3.1z" stroke="#4a4a4a" stroke-width="0.68"/>
<path d="M426.3 440l1-1.1 29.9-15.4-1 1.1z" stroke="#4a4a4a" stroke-width="0.68"/>
<path d="M427.3 438.9l-1.7-3 29.9-15.4 1.7 3z" stroke="#4a4a4a" stroke-width="0.68"/>
<path d="M424.9 452.4l1.4 1.7 1.5-1.4-1.1-2.1 .5-.9 1.6 .9 .5-2.6-1.6-1.5 0-1.3 1.5-.1-.7-3.1-1.6-.7-.6-1.3 1-1.1-1.7-3-1.3 .4-.9-1.1 .2-1.9-2.2-2.1-.8 1.4-1-.7-.6-2.1-2.3-.8-.1 2-.9 0-1.2-2-1.9 .7 .7 2.2-.6 .6-1.6-1.3-1 2.1 1.3 1.8-.2 1.1-1.6-.4 .1 3 1.6 1.1 .3 1.3-1.2 .7 1.2 3.1 1.5 .1 .7 1.3-.6 1.5 2 2.6 1.1-.9 1 1 .2 2 2.4 1.5 .4-1.7 1 .3 .9 2.1 2.2 .1-.4-2.2z" fill-rule="evenodd"/>
<path d="M415.7 455.7l.7-.5 .6-.6 .5-.8 .4-.8 .2-1 .2-1.1 0-1.2-.1-1.2-.3-1.3-.3-1.2-.5-1.3-.6-1.3-.7-1.2-.7-1.1-.9-1-.9-.9-.9-.8-.9-.7-1-.5-1-.4-.9-.2-.9 0-.8 .1-.8 .3 8.5-4.4 .8-.3 .8-.1 .9 0 1 .2 .9 .4 1 .5 .9 .7 1 .8 .9 .9 .8 1 .8 1.1 .6 1.2 .6 1.3 .5 1.3 .4 1.2 .2 1.3 .1 1.2 0 1.2-.1 1.1-.3 1-.4 .8-.5 .8-.6 .6-.6 .5z" stroke="none"/>
<path d="M415.7 455.7l8.6-4.4 .6-.5 .6-.6 .5-.8 .4-.8 .3-1 .1-1.1 0-1.2-.1-1.2-.2-1.3-.4-1.2-.5-1.3-.6-1.3-.6-1.2-.8-1.1-.8-1-.9-.9-1-.8-.9-.7-1-.5-.9-.4-1-.2-.9 0-.8 .1-.8 .3-8.5 4.4" fill="none"/>
<path d="M415.7 455.7l.8-.6 .7-.8 .5-1 .4-1.1 .2-1.3 0-1.4-.2-1.5-.4-1.5-.5-1.6-.7-1.5-.8-1.4-1-1.3-1-1.2-1.1-1-1.1-.8-1.2-.6-1.1-.4-1.1-.1-1.1 .1-.9 .3-.8 .6-.7 .7-.5 1-.4 1.2-.2 1.3 0 1.4 .2 1.5 .4 1.5 .5 1.5 .7 1.5 .8 1.4 1 1.4 1 1.1 1.1 1.1 1.2 .8 1.1 .6 1.2 .4 1.1 .1 1-.1z" fill-rule="evenodd"/>
<path d="M407.2 456.7l.5-.4 .5-.4 .3-.5 .3-.7 .2-.7 .1-.7 0-.9-.1-.9-.2-.9-.2-.9-.4-.9-.4-.9-.5-.8-.5-.8-.6-.8-.7-.6-.6-.6-.7-.5-.7-.3-.7-.3-.6-.1-.7-.1-.6 .1-.5 .2 7.1-3.6 .5-.2 .6-.1 .7 0 .6 .1 .7 .3 .7 .4 .7 .4 .7 .6 .6 .7 .6 .7 .5 .8 .5 .9 .4 .9 .4 .9 .2 .9 .2 .9 .1 .9 0 .8-.1 .8-.2 .7-.3 .6-.3 .5-.5 .5-.5 .3z" stroke="none"/>
<path d="M407.2 456.7l7.1-3.7 .5-.3 .5-.5 .3-.5 .3-.6 .2-.7 .1-.8 0-.8-.1-.9-.2-.9-.2-.9-.4-.9-.4-.9-.5-.9-.5-.8-.6-.7-.6-.7-.7-.6-.7-.4-.7-.4-.7-.3-.6-.1-.7 0-.6 .1-.5 .2-7.1 3.6" fill="none"/>
<path d="M402.8 448l-.2 .1-.1 .2-.1 .1-.1 .2 0 .2 0 .2 0 .3 0 .2 0 .3 .1 .3 .1 .2 .1 .3 .2 .3 .1 .2 .2 .2 .2 .2 .2 .2 .2 .1 .2 .1 .2 .1 .2 0 .2 0 .1 0 .2 0 4.3-2.2-.2 0-.2 0-.2 0-.1 0-.2-.1-.3-.1-.2-.1-.1-.2-.2-.2-.2-.2-.2-.2-.1-.3-.1-.3-.1-.2-.1-.3-.1-.3 0-.2 0-.3 .1-.2 0-.2 .1-.2 .1-.1 .1-.2 .2-.1z" stroke="none" fill="#ddd"/>
<path d="M402.8 448l4.3-2.2-.2 .1-.1 .2-.1 .1-.1 .2 0 .2-.1 .2 0 .3 0 .2 .1 .3 .1 .3 .1 .2 .1 .3 .1 .3 .2 .2 .2 .2 .2 .2 .1 .2 .2 .1 .3 .1 .2 .1 .1 0 .2 0 .2 0 .2 0-4.3 2.2" fill="none" stroke-width="0.63"/>
<path d="M407.2 456.7l.6-.4 .5-.6 .4-.7 .2-.8 .2-.9 0-1.1-.2-1-.2-1.1-.4-1.1-.5-1.1-.6-1-.7-.9-.7-.9-.8-.7-.8-.6-.8-.4-.8-.3-.8-.1-.8 .1-.6 .2-.6 .4-.5 .6-.4 .7-.2 .8-.2 .9 0 1.1 .2 1 .2 1.1 .4 1.1 .5 1.1 .6 1 .7 .9 .7 .9 .8 .7 .8 .6 .8 .4 .8 .3 .8 .1 .8-.1zM404.8 452l.2-.2 .1-.1 .1-.2 .1-.3 0-.2 0-.3 0-.4-.1-.3-.1-.3-.1-.3-.2-.3-.2-.3-.2-.2-.2-.2-.3-.2-.2-.1-.3-.1-.2 0-.2 0-.2 0-.2 .2-.1 .1-.1 .2-.1 .3 0 .2 0 .3 0 .4 .1 .3 .1 .3 .1 .3 .2 .3 .2 .3 .2 .2 .2 .2 .3 .2 .2 .1 .3 .1 .2 0 .2 0z" fill-rule="evenodd"/>
<path d="M345.4 464.7l-.8 .5-.7 .8-.6 .8-.5 1.1-.3 1.1-.1 1.3 0 1.4 .1 1.4 .3 1.5 .4 1.5 .6 1.5 .6 1.4 .8 1.4 .9 1.4 1 1.2 1.1 1.1 1 .9 1.2 .8 1.1 .6 1.1 .4 1.1 .3 1.1 0 1-.1 .9-.4 8.5-4.4-.9 .3-1 .2-1 0-1.1-.3-1.2-.4-1.1-.6-1.1-.8-1.1-.9-1.1-1.1-.9-1.2-.9-1.4-.8-1.4-.7-1.4-.6-1.5-.4-1.5-.3-1.5-.1-1.4 0-1.4 .2-1.3 .3-1.1 .4-1.1 .6-.9 .7-.7 .8-.5z" stroke="none" fill="#a0a0a0"/>
<path d="M345.4 464.7l8.5-4.4-.8 .5-.7 .7-.6 .9-.4 1.1-.3 1.1-.2 1.3 0 1.4 .1 1.4 .3 1.5 .4 1.5 .6 1.5 .7 1.4 .8 1.4 .9 1.4 .9 1.2 1.1 1.1 1.1 .9 1.1 .8 1.1 .6 1.2 .4 1.1 .3 1 0 1-.2 .9-.3-8.5 4.4" fill="none"/>
<path d="M345.8 464.6l-.9 1 6-3.1 .9-1z" fill="#f0f0f0" stroke-width="0.72"/>
<path d="M344 467.7l-.3 1.7 5.9-3.1 .3-1.7z" fill="#f0f0f0" stroke-width="0.72"/>
<path d="M343.8 472.3l.4 2 5.9-3.1-.4-2z" fill="#f0f0f0" stroke-width="0.72"/>
<path d="M345.2 477.4l1.1 2 5.9-3.1-1-2z" fill="#f0f0f0" stroke-width="0.72"/>
<path d="M348.1 482l1.5 1.5 5.9-3.1-1.4-1.5z" fill="#f0f0f0" stroke-width="0.72"/>
<path d="M351.8 485.3l1.6 .7 6-3.1-1.6-.7z" fill="#f0f0f0" stroke-width="0.72"/>
<path d="M355.6 486.5l1.4-.2 6-3.1-1.4 .2z" fill="#f0f0f0" stroke-width="0.72"/>
<path d="M357.7 488.7l1-.6 .8-.9 .7-1 .6-1.3 .3-1.4 .2-1.5 0-1.6-.1-1.7-.4-1.8-.5-1.8-.6-1.7-.9-1.8-.9-1.7-1.1-1.5-1.1-1.5-1.3-1.3-1.3-1.1-1.3-.9-1.4-.7-1.3-.6-1.3-.2-1.3-.1-1.1 .2-1.1 .4 8.5-4.4 1.1-.4 1.2-.2 1.2 .1 1.3 .2 1.4 .5 1.3 .8 1.4 .9 1.3 1.1 1.2 1.3 1.2 1.5 1 1.5 1 1.7 .8 1.7 .6 1.8 .6 1.8 .3 1.8 .2 1.7-.1 1.6-.1 1.5-.4 1.4-.5 1.2-.7 1.1-.9 .8-.9 .7z" stroke="none" fill="#c4c4c4"/>
<path d="M357.7 488.7l8.6-4.4 .9-.7 .9-.8 .7-1.1 .5-1.2 .4-1.4 .1-1.5 .1-1.6-.2-1.7-.3-1.8-.6-1.8-.6-1.8-.8-1.7-1-1.7-1-1.5-1.2-1.5-1.2-1.3-1.3-1.1-1.4-.9-1.3-.8-1.4-.5-1.3-.2-1.2-.1-1.2 .2-1.1 .4-8.5 4.4" fill="none" stroke-width="0.99"/>
<path d="M359.9 487.5l1.3-1.5 6-3.1-1.3 1.5z" fill="#fafafa" stroke-width="0.72"/>
<path d="M348.5 461.3l-2 .3 6-3.1 2-.2z" fill="#fafafa" stroke-width="0.72"/>
<path d="M362.2 483.8l.4-2.4 6-3.1-.5 2.5z" fill="#fafafa" stroke-width="0.72"/>
<path d="M353 462.9l-2.2-1.1 6-3.1 2.2 1.1z" fill="#fafafa" stroke-width="0.72"/>
<path d="M362.5 478.4l-.6-2.9 6-3 .6 2.9z" fill="#fafafa" stroke-width="0.72"/>
<path d="M357.4 466.8l-2-2.1 6-3.1 2 2.1z" fill="#fafafa" stroke-width="0.72"/>
<path d="M360.8 472.4l-1.4-2.8 5.9-3.1 1.5 2.8z" fill="#fafafa" stroke-width="0.72"/>
<path d="M357.7 488.7l1.2-.8 .9-1.1 .8-1.4 .5-1.6 .2-1.8 0-2-.3-2-.5-2.2-.7-2.1-1-2.1-1.1-2-1.3-1.8-1.5-1.7-1.5-1.4-1.6-1.1-1.6-.9-1.6-.5-1.6-.2-1.4 .1-1.3 .5-1.2 .8-.9 1.1-.7 1.4-.5 1.6-.3 1.8 0 2 .3 2 .5 2.2 .7 2.1 1 2.1 1.1 2 1.4 1.8 1.4 1.7 1.5 1.4 1.6 1.1 1.7 .9 1.6 .5 1.5 .2 1.4-.1zM356.7 486.6l.9-.7 .8-.9 .6-1.1 .5-1.4 .2-1.5 0-1.7-.3-1.7-.4-1.8-.6-1.8-.8-1.7-1-1.7-1.1-1.6-1.2-1.3-1.3-1.2-1.3-1-1.4-.7-1.3-.4-1.3-.2-1.2 .1-1.1 .4-1 .7-.8 .9-.6 1.1-.4 1.4-.2 1.5 0 1.7 .2 1.7 .4 1.8 .6 1.8 .8 1.7 1 1.7 1.1 1.6 1.2 1.3 1.3 1.2 1.4 1 1.3 .7 1.4 .4 1.3 .2 1.2-.1z" fill-rule="evenodd" stroke-width="1.03"/>
</g>
<polyline points="25,173 265,46" fill="none" stroke="#333" stroke-width="0.80" stroke-dasharray="12,2.5,1.5,2.5"/>
<polyline points="440.8,82.6 238,189" fill="none" stroke="#333" stroke-width="0.80" stroke-dasharray="12,2.5,1.5,2.5"/>
<polyline points="73,473 660,162" fill="none" stroke="#333" stroke-width="0.80" stroke-dasharray="12,2.5,1.5,2.5"/>
<polyline points="341,483 404,450" fill="none" stroke="#333" stroke-width="0.80" stroke-dasharray="12,2.5,1.5,2.5"/>
<polyline points="556,371.5 612,342" fill="none" stroke="#333" stroke-width="0.80" stroke-dasharray="12,2.5,1.5,2.5"/><text x="165.0" y="34.5" font-size="11.0" fill="#555" text-anchor="middle">11</text>
<text x="146.3" y="44.3" font-size="11.0" fill="#555" text-anchor="middle">10</text>
<text x="86.0" y="55.7" font-size="11.0" fill="#555" text-anchor="middle">17</text>
<text x="127.7" y="54.4" font-size="11.0" fill="#555" text-anchor="middle">7</text>
<text x="107.6" y="64.0" font-size="11.0" fill="#555" text-anchor="middle">6</text>
<text x="88.5" y="73.6" font-size="11.0" fill="#555" text-anchor="middle">4</text>
<text x="67.8" y="83.7" font-size="11.0" fill="#555" text-anchor="middle">9</text>
<text x="49.2" y="93.0" font-size="11.0" fill="#555" text-anchor="middle">6</text>
<text x="33.5" y="101.9" font-size="11.0" fill="#555" text-anchor="middle">7</text>
<text x="200.3" y="275.5" font-size="11.0" fill="#555" text-anchor="middle">2</text>
<text x="257.8" y="245.3" font-size="11.0" fill="#555" text-anchor="middle">3</text>
<text x="286.4" y="229.0" font-size="11.0" fill="#555" text-anchor="middle">4</text>
<text x="314.0" y="216.7" font-size="11.0" fill="#555" text-anchor="middle">5</text>
<text x="318.0" y="235.6" font-size="11.0" fill="#555" text-anchor="middle">17</text>
<text x="361.0" y="191.2" font-size="11.0" fill="#555" text-anchor="middle">6</text>
<text x="386.5" y="178.0" font-size="11.0" fill="#555" text-anchor="middle">7</text>
<text x="413.6" y="166.2" font-size="11.0" fill="#555" text-anchor="middle">8</text>
<text x="331.8" y="250.4" font-size="11.0" fill="#555" text-anchor="middle">16</text>
<text x="333.6" y="272.8" font-size="11.0" fill="#555" text-anchor="middle">4</text>
<text x="393.0" y="244.2" font-size="11.0" fill="#555" text-anchor="middle">4</text>
<text x="440.4" y="217.4" font-size="11.0" fill="#555" text-anchor="middle">14</text>
<text x="469.5" y="202.0" font-size="11.0" fill="#555" text-anchor="middle">6</text>
<text x="492.8" y="191.2" font-size="11.0" fill="#555" text-anchor="middle">7</text>
<text x="526.4" y="172.9" font-size="11.0" fill="#555" text-anchor="middle">13</text>
<text x="557.5" y="157.0" font-size="11.0" fill="#555" text-anchor="middle">7</text>
<text x="576.5" y="146.0" font-size="11.0" fill="#555" text-anchor="middle">6</text>
<text x="596.3" y="135.0" font-size="11.0" fill="#555" text-anchor="middle">12</text>
<text x="307.5" y="290.4" font-size="11.0" fill="#555" text-anchor="middle">21</text>
<text x="278.0" y="302.7" font-size="11.0" fill="#555" text-anchor="middle">6</text>
<text x="258.6" y="313.8" font-size="11.0" fill="#555" text-anchor="middle">7</text>
<text x="227.4" y="330.3" font-size="11.0" fill="#555" text-anchor="middle">20</text>
<text x="198.7" y="345.0" font-size="11.0" fill="#555" text-anchor="middle">19</text>
<text x="159.7" y="364.3" font-size="11.0" fill="#555" text-anchor="middle">18</text>
<text x="105.4" y="392.3" font-size="11.0" fill="#555" text-anchor="middle">1</text>
<text x="69.7" y="409.5" font-size="11.0" fill="#555" text-anchor="middle">15</text>
<text x="570.2" y="441.6" font-size="11.0" fill="#555" text-anchor="middle">3</text>
<text x="538.0" y="479.0" font-size="11.0" fill="#555" text-anchor="middle">16</text>
<text x="490.0" y="485.4" font-size="11.0" fill="#555" text-anchor="middle">4</text>
<text x="673.6" y="491.5" font-size="10.6" fill="#444" textLength="52" lengthAdjust="spacingAndGlyphs">CMB00524</text>
<text x="122.0" y="173.5" style="font-family:'Liberation Serif',serif;font-style:italic;font-size:12.0px" fill="#222" text-anchor="middle">6&#170;</text>
<text x="243.5" y="99.0" style="font-family:'Liberation Serif',serif;font-style:italic;font-size:12.0px" fill="#222" text-anchor="middle">2&#170;</text>
<text x="293.5" y="116.5" style="font-family:'Liberation Serif',serif;font-style:italic;font-size:12.0px" fill="#222" text-anchor="middle">5&#170;</text>
<text x="386.0" y="69.5" style="font-family:'Liberation Serif',serif;font-style:italic;font-size:12.0px" fill="#222" text-anchor="middle">4&#170;</text>
<text x="402.2" y="60.0" style="font-family:'Liberation Serif',serif;font-style:italic;font-size:12.0px" fill="#222" text-anchor="middle">3&#170;</text>
<text x="119.5" y="222.0" style="font-family:'Liberation Serif',serif;font-style:italic;font-size:12.0px" fill="#222" text-anchor="middle">1&#170;</text>
<text x="479.5" y="309.5" style="font-family:'Liberation Serif',serif;font-style:italic;font-size:12.0px" fill="#222" text-anchor="middle">3&#170;</text>
<text x="576.5" y="254.5" style="font-family:'Liberation Serif',serif;font-style:italic;font-size:12.0px" fill="#222" text-anchor="middle">6&#170;</text>
<text x="684.5" y="208.5" style="font-family:'Liberation Serif',serif;font-style:italic;font-size:12.0px" fill="#222" text-anchor="middle">2&#170;</text>
<text x="248.7" y="429.4" style="font-family:'Liberation Serif',serif;font-style:italic;font-size:12.0px" fill="#222" text-anchor="middle">5&#170;</text>
<text x="348.5" y="377.2" style="font-family:'Liberation Serif',serif;font-style:italic;font-size:12.0px" fill="#222" text-anchor="middle">4&#170;</text>
<text x="176.5" y="483.0" style="font-family:'Liberation Serif',serif;font-style:italic;font-size:12.0px" fill="#222" text-anchor="middle">1&#170;</text>
</svg></body></html>
